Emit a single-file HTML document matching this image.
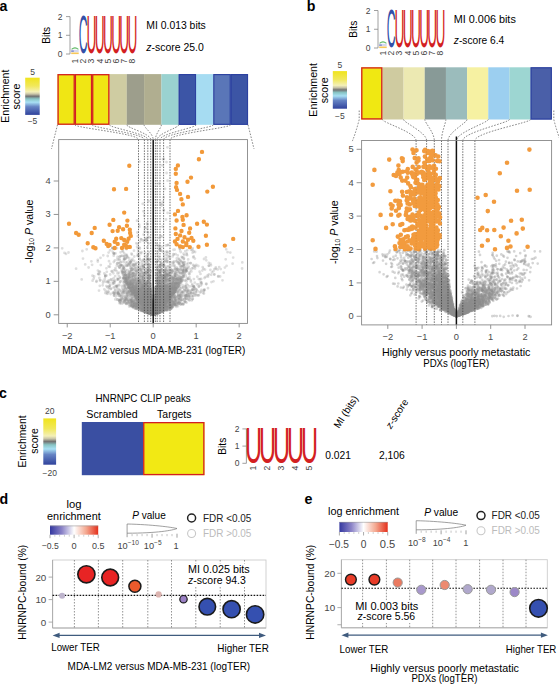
<!DOCTYPE html>
<html><head><meta charset="utf-8"><style>
html,body{margin:0;padding:0;background:#fff;}
svg{display:block;font-family:"Liberation Sans", sans-serif;}
</style></head><body>
<svg width="559" height="685" viewBox="0 0 559 685">
<rect width="559" height="685" fill="#fff"/>
<defs>
<linearGradient id="eg" x1="0" y1="0" x2="0" y2="1">
<stop offset="0" stop-color="#f0e41c"/><stop offset="0.22" stop-color="#f1e85a"/>
<stop offset="0.38" stop-color="#f4f0b8"/><stop offset="0.44" stop-color="#c8c4a8"/>
<stop offset="0.5" stop-color="#727272"/><stop offset="0.57" stop-color="#88c4c4"/>
<stop offset="0.66" stop-color="#a8e0f4"/><stop offset="0.78" stop-color="#6684c4"/>
<stop offset="1" stop-color="#30429c"/></linearGradient>
<linearGradient id="rwb" x1="0" y1="0" x2="1" y2="0">
<stop offset="0" stop-color="#3438a0"/><stop offset="0.25" stop-color="#8c84c8"/>
<stop offset="0.5" stop-color="#ffffff"/><stop offset="0.75" stop-color="#f4a890"/>
<stop offset="1" stop-color="#e4301c"/></linearGradient>
</defs>
<text x="-0.6" y="10.5" font-size="14.2" fill="#000" font-weight="bold">a</text>
<line x1="70" y1="16.6" x2="70" y2="54" stroke="#888" stroke-width="0.8"/>
<line x1="66" y1="16.6" x2="70" y2="16.6" stroke="#888" stroke-width="0.8"/>
<text x="62.5" y="19.6" font-size="8.5" text-anchor="end" fill="#444">2</text>
<line x1="66" y1="35.3" x2="70" y2="35.3" stroke="#888" stroke-width="0.8"/>
<text x="62.5" y="38.3" font-size="8.5" text-anchor="end" fill="#444">1</text>
<line x1="66" y1="54" x2="70" y2="54" stroke="#888" stroke-width="0.8"/>
<text x="62.5" y="57" font-size="8.5" text-anchor="end" fill="#444">0</text>
<text transform="translate(78.77 53.48) scale(12.316 52.824)" font-size="1" fill="#3350a8">C</text>
<text transform="translate(86.54 53.48) scale(13.736 53.601)" font-size="1" fill="#d31f22">U</text>
<text transform="translate(94.74 53.48) scale(13.736 53.601)" font-size="1" fill="#d31f22">U</text>
<text transform="translate(102.94 53.48) scale(13.736 53.601)" font-size="1" fill="#d31f22">U</text>
<text transform="translate(111.14 53.48) scale(13.736 53.601)" font-size="1" fill="#d31f22">U</text>
<text transform="translate(119.34 53.48) scale(13.736 53.601)" font-size="1" fill="#d31f22">U</text>
<text transform="translate(127.54 53.48) scale(13.736 53.601)" font-size="1" fill="#d31f22">U</text>
<path d="M71.6 49.4Q74.95 46.4 78.4 49.4" fill="none" stroke="#5cb860" stroke-width="1.1"/>
<rect x="71.2" y="49.8" width="7.5" height="2.4" fill="#d4d8f0"/>
<rect x="71.2" y="50.6" width="2.62" height="1" fill="#5a6cc0"/>
<rect x="71.2" y="52.5" width="7.5" height="1.6" fill="#f7c85a"/>
<text x="78.06" y="61" font-size="8.6" fill="#444" text-anchor="middle" transform="rotate(-90 78.06 61)">1</text>
<text x="86.26" y="61" font-size="8.6" fill="#444" text-anchor="middle" transform="rotate(-90 86.26 61)">2</text>
<text x="94.46" y="61" font-size="8.6" fill="#444" text-anchor="middle" transform="rotate(-90 94.46 61)">3</text>
<text x="102.66" y="61" font-size="8.6" fill="#444" text-anchor="middle" transform="rotate(-90 102.66 61)">4</text>
<text x="110.86" y="61" font-size="8.6" fill="#444" text-anchor="middle" transform="rotate(-90 110.86 61)">5</text>
<text x="119.06" y="61" font-size="8.6" fill="#444" text-anchor="middle" transform="rotate(-90 119.06 61)">6</text>
<text x="127.26" y="61" font-size="8.6" fill="#444" text-anchor="middle" transform="rotate(-90 127.26 61)">7</text>
<text x="135.46" y="61" font-size="8.6" fill="#444" text-anchor="middle" transform="rotate(-90 135.46 61)">8</text>
<text x="49.8" y="35.3" font-size="10.2" text-anchor="middle" transform="rotate(-90 49.8 35.3)">Bits</text>
<text x="146.3" y="29.3" font-size="10.3" textLength="59.5" lengthAdjust="spacingAndGlyphs">MI 0.013 bits</text>
<text x="146.3" y="51.1" font-size="10.3" textLength="57.5" lengthAdjust="spacingAndGlyphs"><tspan font-style="italic">z</tspan>-score 25.0</text>
<text x="9.3" y="96.2" font-size="10.5" text-anchor="middle" textLength="53" lengthAdjust="spacingAndGlyphs" transform="rotate(-90 9.3 96.2)">Enrichment</text>
<text x="20.4" y="96.5" font-size="10.5" text-anchor="middle" textLength="25.8" lengthAdjust="spacingAndGlyphs" transform="rotate(-90 20.4 96.5)">score</text>
<rect x="25.2" y="77.7" width="14.5" height="37.2" fill="url(#eg)"/>
<text x="32.5" y="74.5" font-size="8.5" text-anchor="middle" fill="#444">5</text>
<text x="32.5" y="124.4" font-size="8.5" text-anchor="middle" fill="#444">−5</text>
<rect x="57.5" y="74.1" width="17.37" height="50.7" fill="#f0e614"/>
<rect x="74.82" y="74.1" width="17.37" height="50.7" fill="#f0e614"/>
<rect x="92.14" y="74.1" width="17.37" height="50.7" fill="#f0e614"/>
<rect x="109.45" y="74.1" width="17.37" height="50.7" fill="#cfcca2"/>
<rect x="126.77" y="74.1" width="17.37" height="50.7" fill="#9d9e8c"/>
<rect x="144.09" y="74.1" width="17.37" height="50.7" fill="#b0ae90"/>
<rect x="161.41" y="74.1" width="17.37" height="50.7" fill="#9ad2d0"/>
<rect x="178.73" y="74.1" width="17.37" height="50.7" fill="#3c55a6"/>
<rect x="196.05" y="74.1" width="17.37" height="50.7" fill="#a6dcf2"/>
<rect x="213.36" y="74.1" width="17.37" height="50.7" fill="#5a76b8"/>
<rect x="230.68" y="74.1" width="17.37" height="50.7" fill="#3c55a5"/>
<rect x="58.1" y="74.7" width="16.12" height="49.5" fill="none" stroke="#d31f22" stroke-width="1.3"/>
<rect x="75.42" y="74.7" width="16.12" height="49.5" fill="none" stroke="#d31f22" stroke-width="1.3"/>
<rect x="92.74" y="74.7" width="16.12" height="49.5" fill="none" stroke="#d31f22" stroke-width="1.3"/>
<rect x="179.23" y="74.6" width="16.32" height="49.7" fill="none" stroke="#2c41a0" stroke-width="1.1"/>
<rect x="213.86" y="74.6" width="16.32" height="49.7" fill="none" stroke="#2c41a0" stroke-width="1.1"/>
<rect x="231.18" y="74.6" width="16.32" height="49.7" fill="none" stroke="#2c41a0" stroke-width="1.1"/>
<path d="M74.82 124.8C74.82 127.8 138.5 133.6 138.5 139.6M92.14 124.8C92.14 127.8 144.4 133.6 144.4 139.6M109.45 124.8C109.45 127.8 147.8 133.6 147.8 139.6M126.77 124.8C126.77 127.8 150.7 133.6 150.7 139.6M144.09 124.8C144.09 127.8 153.2 133.6 153.2 139.6M161.41 124.8C161.41 127.8 155.4 133.6 155.4 139.6M178.73 124.8C178.73 127.8 157.2 133.6 157.2 139.6M196.05 124.8C196.05 127.8 160 133.6 160 139.6M213.36 124.8C213.36 127.8 163.6 133.6 163.6 139.6M230.68 124.8C230.68 127.8 170 133.6 170 139.6M57.5 124.8Q54.5 136.8 51.5 148.8M248 124.8Q251 136.8 254 148.8" stroke="#555" stroke-width="0.7" stroke-dasharray="1.6 1.4" fill="none"/>
<path d="M155.0 311.2h0M156.4 301.1h0M165.5 294.7h0M179.1 301.3h0M150.9 313.1h0M153.7 314.1h0M165.1 305.2h0M148.2 309.7h0M166.2 295.0h0M155.7 305.2h0M140.0 291.4h0M149.6 306.4h0M169.9 302.5h0M165.2 309.7h0M173.3 287.2h0M145.9 303.9h0M151.6 313.4h0M160.8 309.9h0M142.7 302.3h0M147.1 309.2h0M156.6 303.5h0M177.0 286.5h0M161.7 306.1h0M155.5 311.2h0M142.1 304.6h0M125.5 272.0h0M134.6 276.2h0M152.3 309.7h0M142.4 292.4h0M151.9 312.0h0M153.5 313.5h0M150.6 305.2h0M139.7 300.0h0M153.7 314.1h0M155.7 304.9h0M168.7 303.2h0M149.8 305.4h0M162.4 292.4h0M193.1 264.8h0M156.7 309.5h0M179.0 271.5h0M153.8 314.3h0M179.1 276.7h0M176.0 289.8h0M150.1 279.9h0M151.3 306.8h0M152.3 312.1h0M148.1 304.8h0M177.0 279.5h0M152.1 312.8h0M168.5 293.7h0M144.5 285.5h0M136.3 243.3h0M145.9 307.9h0M155.8 312.4h0M157.5 305.2h0M162.6 301.6h0M147.8 312.4h0M169.6 297.0h0M157.4 311.5h0M153.4 314.4h0M138.0 289.3h0M144.8 303.4h0M170.5 305.5h0M163.8 258.7h0M144.2 310.8h0M155.8 309.5h0M164.7 283.2h0M140.2 300.6h0M166.4 302.5h0M150.7 312.8h0M150.6 311.4h0M141.4 260.6h0M143.7 287.1h0M177.6 291.1h0M151.7 313.3h0M132.5 263.9h0M154.0 311.6h0M144.3 297.0h0M157.8 260.7h0M148.2 306.6h0M146.2 302.8h0M158.5 308.1h0M139.9 281.6h0M159.9 275.2h0M164.8 302.2h0M146.7 306.7h0M149.9 311.9h0M127.8 284.2h0M155.0 311.6h0M206.3 260.3h0M143.5 266.0h0M148.9 298.8h0M113.0 248.2h0M154.9 312.0h0M153.9 310.1h0M153.7 314.0h0M127.1 299.9h0M164.9 300.4h0M153.7 311.8h0M152.4 310.9h0M153.4 314.0h0M159.4 310.7h0M156.5 291.8h0M152.3 313.9h0M152.1 311.8h0M195.1 252.0h0M140.4 294.5h0M161.0 300.9h0M151.6 311.3h0M168.4 296.6h0M190.3 290.8h0M157.7 306.5h0M127.5 291.9h0M154.0 309.8h0M153.2 314.5h0M143.0 306.0h0M147.8 309.5h0M138.8 306.8h0M162.6 307.6h0M147.2 308.0h0M151.8 313.1h0M160.6 304.3h0M152.2 313.4h0M147.5 305.8h0M168.5 302.5h0M148.6 302.1h0M167.3 297.5h0M129.9 286.7h0M151.0 303.2h0M166.8 251.6h0M158.9 299.9h0M146.6 305.7h0M132.8 273.3h0M154.5 308.1h0M140.5 298.9h0M158.5 279.8h0M161.4 304.4h0M147.7 309.7h0M146.2 308.9h0M142.3 299.3h0M171.0 301.8h0M163.6 291.9h0M154.6 313.1h0M158.9 299.8h0M157.3 312.3h0M162.8 303.7h0M158.9 306.0h0M126.8 296.7h0M142.0 308.0h0M151.5 301.2h0M153.2 314.8h0M140.9 294.7h0M157.7 311.1h0M150.6 311.6h0M148.2 258.8h0M153.0 314.4h0M157.0 305.9h0M165.0 286.3h0M145.4 306.6h0M154.0 314.1h0M189.6 274.2h0M157.3 297.6h0M151.8 310.9h0M152.7 314.6h0M158.0 310.0h0M174.6 249.7h0M151.4 311.5h0M160.3 311.5h0M157.9 307.4h0M135.8 305.5h0M139.1 297.2h0M150.9 310.3h0M159.0 308.7h0M156.4 299.2h0M167.3 274.0h0M170.0 296.9h0M150.0 312.4h0M150.0 295.1h0M154.3 313.2h0M167.8 304.8h0M155.6 313.0h0M157.0 309.3h0M156.4 309.9h0M152.5 314.0h0M150.1 312.5h0M164.2 303.5h0M155.1 313.1h0M162.3 306.9h0M157.4 300.9h0M155.4 305.9h0M149.7 305.7h0M152.7 313.6h0M149.1 311.5h0M169.7 295.0h0M152.3 313.4h0M144.5 305.7h0M147.0 312.5h0M139.2 269.3h0M164.4 296.8h0M123.1 251.6h0M155.3 306.4h0M128.4 291.9h0M148.5 309.8h0M137.1 304.0h0M146.5 308.4h0M147.6 303.3h0M166.7 302.0h0M147.2 307.9h0M162.9 298.8h0M173.1 285.6h0M152.5 309.6h0M171.5 269.6h0M152.6 314.3h0M145.7 308.0h0M149.2 309.6h0M163.9 300.6h0M158.0 282.1h0M158.4 300.7h0M158.8 304.3h0M218.2 276.6h0M156.4 310.3h0M154.5 309.6h0M152.4 309.3h0M140.1 302.3h0M151.7 311.7h0M156.9 306.5h0M146.1 278.1h0M153.7 313.8h0M154.5 308.4h0M140.4 303.0h0M150.9 312.7h0M152.2 314.0h0M152.9 314.5h0M159.3 294.6h0M147.9 303.2h0M149.4 292.1h0M140.1 299.6h0M117.0 286.1h0M155.4 305.3h0M171.1 308.9h0M162.9 290.2h0M151.4 310.2h0M144.0 306.2h0M173.8 283.6h0M166.9 284.4h0M152.1 309.8h0M174.5 276.1h0M154.7 311.4h0M151.8 301.0h0M174.5 292.1h0M154.7 312.2h0M151.9 307.5h0M153.5 313.6h0M158.7 281.1h0M150.6 271.1h0M159.3 306.2h0M156.2 309.9h0M158.8 291.1h0M142.4 309.1h0M163.7 298.1h0M169.9 288.4h0M181.3 300.7h0M148.2 298.4h0M141.2 292.9h0M144.3 297.1h0M135.7 296.3h0M164.3 303.5h0M146.9 301.5h0M156.4 311.6h0M176.6 270.1h0M153.9 313.4h0M146.8 288.1h0M136.8 297.2h0M155.3 311.5h0M154.0 313.4h0M144.7 291.4h0M131.2 302.2h0M149.0 307.1h0M147.8 295.0h0M152.0 313.9h0M157.8 298.3h0M170.8 296.1h0M137.9 236.2h0M129.1 263.7h0M154.5 307.0h0M153.3 314.6h0M167.0 297.0h0M141.6 299.8h0M154.0 312.7h0M152.8 312.5h0M157.5 294.9h0M171.3 296.5h0M147.6 304.2h0M161.9 307.1h0M153.1 314.2h0M158.7 306.8h0M142.6 304.8h0M154.1 313.3h0M152.0 312.2h0M134.3 269.3h0M168.3 306.4h0M168.9 292.4h0M151.2 310.0h0M157.2 286.7h0M170.3 295.1h0M153.5 314.5h0M147.7 308.8h0M150.1 311.0h0M164.1 271.0h0M142.9 300.5h0M183.0 269.9h0M97.8 259.8h0M137.8 294.7h0M152.4 311.0h0M150.6 312.0h0M152.1 305.3h0M143.3 295.8h0M183.1 274.5h0M196.3 264.8h0M159.6 306.9h0M152.4 314.4h0M165.2 286.7h0M139.4 247.6h0M153.4 314.5h0M145.6 286.0h0M162.3 165.3h0M161.2 308.2h0M173.9 289.2h0M147.7 309.8h0M164.8 302.9h0M151.5 310.8h0M150.6 309.3h0M119.4 300.2h0M154.2 313.3h0M136.7 296.0h0M155.4 312.7h0M167.7 291.3h0M137.7 256.0h0M135.9 296.8h0M145.3 299.3h0M157.2 310.7h0M141.9 303.1h0M146.2 290.9h0M159.5 307.8h0M130.8 304.7h0M163.3 309.1h0M152.4 311.4h0M153.6 313.7h0M152.0 313.1h0M154.8 311.5h0M146.3 296.5h0M133.6 274.1h0M62.2 248.3h0M160.3 307.2h0M155.2 308.5h0M155.1 309.5h0M162.3 308.1h0M149.3 308.0h0M153.9 313.9h0M155.2 300.3h0M156.3 308.9h0M156.3 307.8h0M166.2 304.8h0M130.3 285.4h0M140.9 298.8h0M142.9 304.0h0M163.0 297.8h0M170.2 304.6h0M149.3 299.1h0M139.2 294.7h0M141.1 302.2h0M169.0 279.5h0M144.4 307.4h0M183.1 266.0h0M148.4 296.1h0M156.7 294.9h0M156.8 306.9h0M155.7 312.4h0M146.9 303.4h0M179.2 281.7h0M155.0 309.0h0M154.8 310.2h0M153.9 312.8h0M177.7 255.4h0M155.7 313.5h0M181.2 278.8h0M152.4 309.2h0M164.0 300.8h0M149.9 303.9h0M157.8 313.0h0M142.7 303.9h0M146.8 285.7h0M152.4 313.8h0M153.0 313.6h0M149.2 301.6h0M153.1 314.3h0M181.9 278.6h0M186.5 298.8h0M153.4 314.7h0M161.4 288.6h0M154.0 310.2h0M155.6 303.8h0M145.1 306.4h0M151.0 312.2h0M148.5 201.2h0M151.0 303.0h0M168.0 293.5h0M155.1 313.4h0M162.3 308.2h0M168.8 299.2h0M154.4 310.7h0M145.0 296.1h0M142.2 294.5h0M146.1 311.3h0M174.8 287.9h0M141.3 276.3h0M146.0 284.8h0M153.0 314.5h0M146.0 299.0h0M166.8 301.9h0M161.1 283.1h0M153.6 313.8h0M161.9 269.2h0M148.4 310.3h0M162.3 304.5h0M131.5 270.9h0M155.2 311.8h0M148.8 282.4h0M155.5 313.1h0M159.9 307.2h0M156.0 312.7h0M161.1 305.8h0M155.6 311.5h0M222.5 280.3h0M137.0 304.1h0M153.7 312.6h0M146.3 297.3h0M185.7 270.0h0M148.3 265.2h0M159.2 285.4h0M148.4 309.9h0M164.4 287.2h0M175.7 285.5h0M138.1 291.9h0M175.1 291.9h0M164.0 297.9h0M141.9 294.0h0M154.0 311.3h0M173.6 293.0h0M164.3 299.1h0M151.5 312.4h0M162.1 276.1h0M134.7 280.3h0M171.1 295.7h0M151.4 299.4h0M155.6 310.1h0M154.6 312.7h0M136.5 295.2h0M169.9 294.3h0M155.0 310.5h0M170.2 296.4h0M154.7 312.8h0M144.2 282.4h0M161.7 307.5h0M147.5 309.1h0M152.7 314.4h0M165.4 282.1h0M146.5 304.3h0M150.4 309.8h0M160.9 305.2h0M153.8 313.9h0M153.9 314.0h0M149.9 304.2h0M178.7 283.8h0M151.6 313.5h0M153.3 314.6h0M157.7 307.7h0M154.4 313.8h0M168.8 285.9h0M161.5 291.3h0M150.0 304.9h0M139.9 252.6h0M162.3 286.0h0M147.9 307.7h0M155.0 313.5h0M161.1 297.4h0M158.0 308.7h0M155.5 312.4h0M163.1 306.4h0M144.6 307.7h0M140.0 298.1h0M155.0 313.1h0M146.3 268.1h0M155.2 308.6h0M150.2 311.1h0M181.3 282.7h0M151.8 312.9h0M155.5 312.7h0M147.7 312.7h0M151.2 304.7h0M145.7 295.2h0M151.7 310.7h0M160.4 297.2h0M140.3 284.7h0M200.3 292.6h0M167.6 294.1h0M145.2 294.2h0M146.1 304.2h0M168.7 273.3h0M149.2 270.0h0M152.0 313.8h0M148.2 272.4h0M128.8 300.9h0M171.6 289.2h0M136.8 297.3h0M162.1 294.5h0M144.2 300.0h0M165.0 293.9h0M155.1 309.7h0M130.2 262.5h0M147.7 309.9h0M138.4 300.6h0M143.3 305.0h0M155.7 311.3h0M166.3 299.4h0M151.9 311.2h0M143.1 308.5h0M140.9 301.2h0M154.3 307.9h0M167.8 245.2h0M178.4 283.7h0M151.4 312.8h0M152.4 309.9h0M158.9 308.4h0M124.6 278.1h0M157.7 308.4h0M161.2 295.2h0M153.3 314.6h0M149.9 303.6h0M154.1 312.5h0M152.2 312.7h0M141.6 305.5h0M164.5 284.9h0M159.8 312.2h0M185.2 271.3h0M155.0 310.7h0M164.3 304.6h0M148.8 310.7h0M157.9 306.4h0M159.3 305.8h0M137.6 270.9h0M152.9 314.4h0M149.9 312.4h0M149.4 311.8h0M154.8 313.2h0M148.9 291.3h0M149.0 293.9h0M182.2 273.3h0M155.6 309.5h0M151.1 312.6h0M156.7 307.2h0M150.2 309.3h0M155.9 306.0h0M151.9 313.0h0M149.7 291.5h0M146.6 308.9h0M173.9 262.8h0M159.4 296.2h0M152.9 314.6h0M144.6 295.4h0M151.7 313.2h0M161.4 304.8h0M156.7 313.4h0M140.9 302.2h0M125.9 270.1h0M155.7 310.8h0M170.9 292.5h0M144.1 308.2h0M162.2 299.9h0M142.0 302.2h0M148.4 309.8h0M130.7 290.9h0M144.0 304.8h0M141.6 301.4h0M151.4 308.0h0M162.8 299.0h0M151.3 313.1h0M159.1 305.1h0M162.0 204.1h0M142.6 310.6h0M154.7 308.7h0M164.0 283.2h0M142.6 309.0h0M149.2 310.3h0M133.8 291.8h0M125.6 269.9h0M145.9 303.2h0M151.3 308.0h0M161.7 307.5h0M153.0 314.3h0M144.1 306.3h0M150.1 305.2h0M194.7 266.2h0M167.5 275.0h0M155.8 313.4h0M156.7 311.4h0M163.8 307.9h0M159.3 237.9h0M161.2 294.9h0M154.0 313.3h0M132.9 305.3h0M168.0 293.0h0M167.4 280.5h0M153.8 314.2h0M133.4 289.9h0M148.4 295.6h0M151.2 304.8h0M131.7 291.6h0M178.7 278.9h0M150.5 311.6h0M158.2 308.8h0M136.4 285.6h0M178.4 285.4h0M160.3 287.3h0M156.1 305.5h0M157.3 311.0h0M152.6 308.9h0M186.4 284.1h0M165.4 301.1h0M152.1 309.7h0M160.8 301.3h0M135.0 295.6h0M168.2 294.9h0M152.8 314.3h0M177.9 277.8h0M141.3 301.8h0M157.1 310.0h0M157.3 311.5h0M153.7 313.2h0M136.1 297.3h0M147.4 305.6h0M183.0 287.3h0M151.1 312.8h0M148.6 311.1h0M159.9 297.9h0M173.5 249.8h0M149.7 309.6h0M152.4 313.9h0M157.9 308.8h0M154.5 314.0h0M150.1 299.3h0M156.5 309.4h0M153.9 314.4h0M156.1 301.7h0M148.7 310.1h0M141.2 269.8h0M154.8 311.6h0M137.8 287.9h0M163.1 311.0h0M157.6 312.3h0M159.5 293.6h0M156.3 311.0h0M155.8 312.4h0M151.8 310.7h0M148.4 310.8h0M181.5 278.9h0M146.7 308.4h0M150.6 308.2h0M149.9 308.4h0M155.3 313.6h0M179.0 258.9h0M148.8 310.5h0M138.9 293.8h0M177.1 303.0h0M126.7 293.6h0M142.2 304.2h0M150.1 297.0h0M149.3 311.6h0M153.3 314.7h0M138.8 296.1h0M155.9 303.2h0M150.6 307.3h0M146.9 308.2h0M154.6 311.1h0M144.5 306.6h0M152.1 310.4h0M172.6 281.8h0M158.2 287.8h0M147.5 305.2h0M188.5 278.8h0M154.6 303.8h0M148.7 308.3h0M162.0 302.9h0M149.3 299.9h0M155.2 307.4h0M145.4 303.7h0M141.6 295.7h0M151.9 309.1h0M168.7 305.2h0M161.9 311.7h0M149.0 294.2h0M146.5 309.1h0M159.3 293.1h0M143.7 304.2h0M150.0 311.8h0M146.2 293.4h0M145.3 306.6h0M151.4 303.7h0M152.1 314.0h0M150.9 311.8h0M144.8 304.0h0M131.8 260.6h0M170.1 293.7h0M148.9 309.1h0M158.4 303.8h0M154.4 314.2h0M155.9 311.7h0M113.9 294.1h0M100.8 265.1h0M155.6 307.3h0M148.1 310.9h0M152.1 312.8h0M152.9 314.6h0M147.1 307.1h0M160.6 309.4h0M163.7 302.2h0M135.4 267.8h0M156.0 296.8h0M149.2 298.8h0M156.1 301.9h0M91.4 261.3h0M156.6 305.5h0M154.2 313.1h0M176.1 288.1h0M180.0 296.8h0M130.2 303.9h0M163.4 293.7h0M154.7 312.0h0M144.7 295.2h0M117.5 260.0h0M155.5 313.2h0M145.5 308.0h0M153.2 314.8h0M136.5 294.8h0M185.8 269.7h0M175.7 296.3h0M149.9 295.8h0M172.4 293.9h0M198.2 295.5h0M160.4 302.4h0M113.6 253.1h0M153.3 314.5h0M145.4 305.4h0M165.4 298.1h0M162.8 305.7h0M191.4 271.4h0M152.8 314.0h0M147.3 300.5h0M171.6 306.1h0M139.2 282.1h0M135.8 306.0h0M147.8 309.8h0M155.2 313.0h0M130.3 280.8h0M156.0 312.6h0M189.9 291.2h0M152.1 311.8h0M166.7 293.4h0M159.4 288.0h0M139.3 295.1h0M163.0 302.0h0M159.3 245.5h0M159.0 308.7h0M152.5 314.3h0M153.1 314.3h0M176.5 286.0h0M146.8 307.3h0M150.4 309.3h0M167.0 296.2h0M150.0 299.8h0M172.7 293.8h0M154.6 312.2h0M167.5 302.0h0M155.2 309.8h0M161.4 310.7h0M155.4 312.9h0M135.4 296.3h0M140.2 298.0h0M215.8 268.9h0M155.5 307.0h0M148.9 305.8h0M171.6 296.2h0M182.9 273.2h0M147.9 286.1h0M150.1 310.4h0M168.5 283.8h0M161.4 302.7h0M152.9 314.0h0M164.4 303.3h0M172.0 288.5h0M151.7 310.8h0M137.2 289.7h0M164.2 306.7h0M143.2 285.1h0M130.0 303.3h0M160.2 310.6h0M154.8 313.8h0M151.8 312.8h0M159.3 308.1h0M143.0 304.4h0M153.9 314.2h0M154.1 313.1h0M158.5 309.0h0M157.1 299.1h0M151.3 312.8h0M164.8 301.6h0M148.5 306.4h0M154.6 303.9h0M151.4 312.4h0M145.8 300.3h0M162.4 304.9h0M149.0 306.0h0M151.3 309.5h0M148.2 301.4h0M145.6 312.0h0M148.1 311.1h0M156.3 300.4h0M154.8 310.4h0M143.4 302.4h0M151.5 309.8h0M152.8 314.2h0M147.8 310.6h0M160.9 286.5h0M147.5 310.4h0M153.1 314.1h0M147.0 312.4h0M157.8 306.6h0M149.1 312.5h0M150.3 309.7h0M157.4 311.2h0M146.2 308.6h0M170.1 305.0h0M145.5 296.5h0M145.9 277.9h0M153.3 314.3h0M156.8 310.7h0M118.2 279.1h0M155.0 308.9h0M150.9 299.1h0M149.8 307.9h0M150.8 302.1h0M153.1 314.5h0M162.7 288.7h0M151.0 309.8h0M131.1 286.3h0M152.0 312.3h0M154.8 311.6h0M151.7 308.2h0M147.1 303.4h0M151.5 310.9h0M156.4 312.1h0M180.4 268.2h0M165.8 281.6h0M164.9 303.2h0M153.9 311.9h0M139.3 289.1h0M142.3 304.8h0M155.5 310.4h0M141.5 297.8h0M157.4 302.2h0M160.3 312.1h0M155.0 312.4h0M132.6 294.0h0M167.8 296.0h0M158.9 306.2h0M169.4 298.9h0M137.5 291.8h0M158.9 282.5h0M153.3 314.5h0M176.5 278.7h0M168.4 299.8h0M153.8 314.3h0M167.4 299.5h0M153.8 311.5h0M156.1 298.6h0M152.8 314.5h0M141.1 301.9h0M150.8 308.9h0M152.0 306.9h0M151.5 313.0h0M205.6 276.9h0M143.5 273.8h0M154.2 311.6h0M154.7 309.4h0M142.8 308.4h0M170.1 293.6h0M167.4 296.1h0M154.5 314.1h0M147.2 310.1h0M151.3 307.9h0M159.2 302.0h0M153.4 314.0h0M157.5 311.1h0M151.7 303.2h0M153.0 314.5h0M151.9 310.5h0M113.5 287.6h0M156.7 310.9h0M175.8 283.8h0M154.6 308.5h0M133.9 300.6h0M153.6 314.4h0M156.0 312.5h0M168.8 300.6h0M159.9 300.8h0M157.2 308.2h0M155.6 312.3h0M149.2 306.0h0M129.9 303.2h0M157.4 309.2h0M148.6 304.3h0M153.1 314.7h0M151.5 313.8h0M142.0 301.6h0M151.2 312.7h0M151.3 313.4h0M175.4 272.6h0M130.3 283.7h0M160.8 308.3h0M160.7 308.6h0M127.1 282.2h0M150.1 312.5h0M159.7 303.3h0M157.6 305.8h0M138.9 301.5h0M150.8 300.6h0M151.9 307.7h0M160.3 300.5h0M153.7 313.7h0M137.8 288.0h0M169.8 306.0h0M159.3 183.6h0M147.5 307.6h0M154.5 313.1h0M167.0 306.8h0M164.3 285.0h0M169.5 302.1h0M162.3 307.1h0M154.2 310.9h0M160.9 306.4h0M155.2 313.2h0M169.1 269.2h0M149.8 312.7h0M152.8 314.2h0M162.8 306.7h0M163.0 299.1h0M152.0 313.0h0M157.7 311.1h0M152.7 314.5h0M169.8 288.2h0M156.8 309.1h0M140.5 289.0h0M152.6 313.1h0M136.8 284.9h0M150.7 310.7h0M139.3 301.3h0M151.7 305.2h0M152.2 312.5h0M172.2 301.8h0M152.2 313.1h0M152.0 306.4h0M149.3 290.4h0M148.1 297.4h0M155.3 307.9h0M156.0 312.0h0M157.3 305.6h0M151.1 295.3h0M128.5 287.3h0M149.4 276.4h0M143.0 278.4h0M141.5 286.4h0M137.3 299.2h0M166.1 287.9h0M150.6 297.3h0M141.5 252.1h0M157.1 311.6h0M153.8 313.4h0M134.0 250.7h0M155.4 308.3h0M149.4 297.2h0M137.6 297.0h0M137.4 287.6h0M164.3 298.1h0M159.7 306.2h0M159.8 294.3h0M152.5 313.6h0M154.4 311.8h0M140.8 302.3h0M168.2 300.1h0M146.1 309.7h0M175.2 301.0h0M147.0 298.5h0M168.7 284.8h0M192.8 298.8h0M159.5 291.5h0M173.1 278.3h0M150.7 312.4h0M155.1 310.5h0M129.2 299.8h0M154.3 313.9h0M172.0 294.4h0M154.8 308.6h0M145.7 302.4h0M156.7 310.6h0M157.8 305.1h0M152.8 314.6h0M145.9 273.7h0M142.5 304.5h0M155.3 310.9h0M151.0 311.3h0M160.8 305.6h0M147.4 298.6h0M158.1 302.1h0M159.2 291.4h0M153.1 314.7h0M147.9 311.6h0M155.9 310.8h0M155.9 307.6h0M153.7 313.3h0M176.5 302.4h0M166.5 276.7h0M151.1 302.2h0M158.4 302.6h0M154.1 313.3h0M131.8 287.1h0M156.8 307.3h0M136.1 297.9h0M143.8 259.3h0M184.1 273.8h0M184.0 258.5h0M147.8 303.9h0M159.1 303.6h0M155.5 312.8h0M153.1 314.7h0M155.6 312.3h0M171.1 300.4h0M156.0 311.3h0M146.7 297.5h0M143.2 304.8h0M148.9 308.2h0M153.4 314.5h0M131.6 299.8h0M150.9 302.2h0M150.9 312.8h0M123.8 299.7h0M150.5 303.9h0M185.0 271.4h0M149.9 310.2h0M155.1 300.2h0M158.1 307.7h0M109.8 266.8h0M153.0 314.0h0M170.2 299.1h0M156.2 300.4h0M152.7 312.9h0M162.9 304.8h0M152.7 314.4h0M151.2 311.4h0M155.2 310.2h0M156.4 310.1h0M134.0 294.0h0M149.9 301.7h0M154.5 313.9h0M105.4 275.0h0M142.9 300.7h0M144.4 305.1h0M143.7 295.2h0M153.8 314.1h0M148.3 309.2h0M155.1 311.0h0M152.6 310.8h0M161.3 308.5h0M185.9 295.7h0M149.8 312.1h0M178.0 306.2h0M149.2 313.2h0M168.3 297.3h0M129.7 300.8h0M139.6 303.1h0M154.6 312.9h0M159.7 282.2h0M152.9 314.6h0M155.9 312.0h0M182.2 273.2h0M143.0 298.3h0M154.8 308.1h0M150.0 304.9h0M165.4 309.0h0M164.2 255.9h0M130.3 301.0h0M142.5 289.4h0M150.7 307.2h0M156.0 302.5h0M147.7 308.4h0M153.7 313.5h0M130.0 286.1h0M170.8 294.2h0M179.7 301.8h0M179.0 269.6h0M155.3 307.7h0M126.7 284.8h0M163.7 298.1h0M180.4 272.9h0M152.4 312.8h0M135.7 290.2h0M148.7 306.2h0M163.1 301.9h0M133.1 283.6h0M150.0 304.6h0M148.7 310.9h0M153.4 313.5h0M155.0 307.3h0M175.5 286.6h0M151.9 313.7h0M144.5 308.5h0M149.7 312.2h0M157.1 310.8h0M129.2 285.4h0M146.9 309.5h0M157.8 310.1h0M154.2 313.9h0M163.5 303.0h0M176.9 261.2h0M151.5 313.3h0M210.4 269.9h0M125.0 300.5h0M151.6 305.9h0M141.3 301.2h0M139.5 280.0h0M162.7 302.4h0M153.0 313.7h0M152.2 312.5h0M180.1 280.3h0M150.7 305.9h0M140.2 281.6h0" stroke="#8a8a8a" stroke-opacity="0.28" stroke-width="2.8" stroke-linecap="round" fill="none"/>
<path d="M151.5 312.9h0M154.8 309.0h0M149.2 311.2h0M130.3 292.5h0M150.2 312.8h0M140.6 296.4h0M152.5 314.2h0M150.0 301.0h0M145.8 284.1h0M145.0 305.5h0M154.8 311.3h0M66.0 253.8h0M162.0 300.8h0M194.9 258.6h0M152.3 312.3h0M166.3 301.1h0M166.4 278.6h0M163.1 310.0h0M151.4 313.5h0M148.4 310.6h0M146.5 312.5h0M129.5 271.6h0M147.7 295.8h0M154.4 313.2h0M143.5 306.6h0M99.9 271.9h0M158.7 305.5h0M170.1 300.5h0M143.5 298.2h0M158.8 302.9h0M154.2 311.9h0M145.2 305.9h0M150.0 309.5h0M169.7 302.0h0M132.9 284.3h0M149.0 311.1h0M155.7 312.4h0M145.9 292.7h0M143.7 299.3h0M154.3 309.4h0M170.3 293.8h0M160.7 310.3h0M129.2 258.2h0M133.5 280.2h0M181.6 267.2h0M233.2 257.6h0M148.9 311.3h0M156.4 308.5h0M167.9 294.7h0M153.1 314.7h0M152.1 306.5h0M159.5 300.5h0M155.2 300.1h0M153.2 314.8h0M148.8 279.8h0M133.8 302.7h0M127.4 277.3h0M152.7 314.4h0M165.7 260.4h0M148.2 309.6h0M155.3 311.5h0M139.5 295.8h0M150.6 312.3h0M155.1 311.3h0M148.6 303.4h0M149.8 307.3h0M150.0 296.6h0M128.7 284.8h0M152.8 314.0h0M161.3 286.1h0M150.3 287.6h0M204.0 259.0h0M156.6 311.9h0M153.9 309.8h0M147.9 310.6h0M174.7 268.6h0M126.2 290.8h0M122.3 303.6h0M155.5 312.5h0M156.8 310.5h0M137.0 298.8h0M154.0 311.0h0M152.2 312.8h0M146.0 301.9h0M148.4 310.4h0M176.6 304.8h0M145.0 305.5h0M157.3 309.7h0M145.0 300.7h0M154.4 310.8h0M150.7 307.2h0M147.4 308.7h0M139.4 303.3h0M149.6 310.3h0M133.6 291.1h0M161.2 306.9h0M146.1 290.0h0M158.1 288.2h0M169.4 296.8h0M162.9 299.1h0M163.9 275.7h0M149.4 311.7h0M153.7 313.9h0M190.8 280.2h0M155.6 307.1h0M157.0 274.3h0M150.5 310.5h0M154.7 312.0h0M151.6 313.3h0M153.2 314.7h0M115.1 290.6h0M151.9 313.0h0M155.4 311.8h0M186.8 279.3h0M151.8 313.4h0M141.5 296.8h0M158.6 310.6h0M172.0 306.8h0M157.3 299.5h0M173.3 290.8h0M160.7 311.1h0M154.8 312.6h0M190.3 297.7h0M126.2 273.9h0M139.3 296.7h0M159.2 296.9h0M157.0 292.9h0M150.9 309.8h0M153.3 314.7h0M158.3 310.0h0M152.3 311.5h0M142.3 305.8h0M148.3 281.0h0M166.8 309.9h0M147.6 309.7h0M137.4 291.8h0M148.0 310.8h0M164.6 270.0h0M162.2 311.3h0M152.5 312.3h0M118.0 292.9h0M137.1 296.1h0M154.7 307.6h0M153.6 314.5h0M141.0 296.6h0M120.9 303.4h0M158.6 309.3h0M144.5 304.8h0M170.7 288.5h0M159.4 312.3h0M152.4 314.1h0M149.0 308.6h0M154.9 305.7h0M155.8 312.9h0M138.0 278.2h0M155.5 294.8h0M169.5 276.1h0M150.0 299.4h0M182.3 273.6h0M144.7 303.8h0M154.6 302.7h0M147.8 307.2h0M139.4 282.3h0M154.3 311.8h0M116.6 271.1h0M162.5 304.9h0M148.2 299.0h0M160.0 305.3h0M150.6 311.4h0M152.2 312.8h0M167.1 304.2h0M166.1 292.8h0M144.1 286.5h0M114.9 292.8h0M147.1 311.4h0M148.7 313.0h0M143.2 303.7h0M144.7 291.0h0M175.1 281.3h0M147.6 301.9h0M140.7 300.1h0M151.8 310.4h0M157.9 278.1h0M163.2 307.4h0M158.0 310.3h0M150.5 311.8h0M144.4 308.4h0M152.6 314.2h0M143.5 311.1h0M156.8 308.0h0M137.4 293.8h0M133.5 273.2h0M145.9 304.0h0M147.9 309.3h0M184.0 264.6h0M163.9 298.8h0M118.9 294.2h0M174.3 298.5h0M147.9 305.1h0M152.6 314.1h0M208.0 276.7h0M151.3 291.8h0M142.7 287.3h0M153.7 311.1h0M153.8 309.9h0M150.8 311.5h0M162.9 201.7h0M152.3 308.6h0M149.8 309.2h0M151.4 312.3h0M141.4 302.6h0M152.8 313.0h0M148.0 310.4h0M155.9 291.1h0M180.5 292.1h0M151.7 309.1h0M162.0 303.3h0M147.1 302.9h0M141.7 310.3h0M159.6 290.4h0M164.7 304.8h0M136.5 307.6h0M183.6 296.0h0M157.2 289.8h0M151.5 313.1h0M170.3 285.8h0M186.3 269.2h0M185.2 298.3h0M152.6 313.0h0M162.0 306.6h0M151.3 313.0h0M183.5 275.4h0M155.8 312.7h0M174.7 289.2h0M146.8 303.3h0M170.5 302.4h0M163.1 290.5h0M148.6 306.3h0M147.4 295.8h0M151.4 310.4h0M149.1 295.2h0M167.3 296.5h0M140.5 302.3h0M154.4 313.3h0M149.4 306.9h0M142.9 303.1h0M152.2 313.2h0M159.5 307.1h0M146.0 303.4h0M162.7 304.1h0M139.4 263.2h0M151.3 309.4h0M145.7 302.3h0M161.8 302.1h0M152.3 312.6h0M149.9 313.6h0M145.2 306.9h0M150.5 308.1h0M168.4 295.3h0M175.7 275.6h0M126.2 282.5h0M156.7 308.1h0M137.8 297.3h0M151.6 311.2h0M165.2 300.5h0M156.3 293.3h0M155.6 307.9h0M159.5 302.5h0M154.1 309.7h0M169.3 298.5h0M159.9 309.2h0M171.4 277.8h0M126.9 292.3h0M105.3 276.2h0M139.5 295.5h0M154.5 313.7h0M152.5 313.2h0M155.6 311.9h0M141.8 309.4h0M175.9 282.5h0M154.5 306.7h0M146.5 272.4h0M164.6 304.4h0M151.6 310.1h0M162.3 300.6h0M169.3 292.1h0M157.0 292.0h0M155.7 312.8h0M163.1 294.5h0M160.6 303.3h0M142.2 305.3h0M125.9 278.8h0M156.0 312.7h0M151.8 307.6h0M170.2 297.1h0M160.9 287.5h0M163.6 298.8h0M153.6 314.3h0M159.5 301.0h0M154.9 313.4h0M182.6 262.5h0M157.9 308.5h0M151.0 313.9h0M144.9 295.0h0M129.5 285.0h0M153.4 314.6h0M148.8 303.3h0M159.3 293.1h0M162.7 303.1h0M161.6 306.5h0M151.1 311.2h0M151.9 311.5h0M150.5 311.8h0M156.1 303.2h0M147.4 308.0h0M153.3 314.4h0M212.0 272.4h0M203.5 268.8h0M137.6 290.9h0M158.6 309.1h0M149.7 302.0h0M176.5 288.3h0M150.3 312.6h0M157.6 306.5h0M168.1 298.7h0M164.3 301.2h0M176.4 282.7h0M167.0 261.3h0M138.9 289.2h0M167.2 301.3h0M164.0 294.5h0M144.0 306.2h0M151.5 311.7h0M152.2 314.2h0M154.4 313.6h0M155.0 313.9h0M151.9 312.4h0M157.8 309.9h0M155.2 305.0h0M161.0 285.6h0M165.9 291.4h0M154.0 313.0h0M149.8 310.1h0M152.4 312.9h0M153.5 314.3h0M163.8 305.4h0M156.8 306.5h0M162.0 296.7h0M145.6 303.5h0M157.1 310.2h0M145.3 307.7h0M151.1 312.3h0M153.1 314.5h0M158.1 287.7h0M155.4 305.5h0M149.0 301.8h0M155.8 294.2h0M153.0 313.2h0M142.4 264.6h0M151.5 302.8h0M170.2 288.7h0M152.8 314.7h0M167.6 180.7h0M145.3 306.4h0M170.3 295.8h0M170.6 296.1h0M149.4 311.9h0M156.6 295.4h0M157.8 289.7h0M142.4 288.6h0M160.0 305.7h0M151.0 313.3h0M138.4 294.4h0M149.7 308.2h0M121.8 271.7h0M126.8 295.8h0M145.2 294.0h0M153.6 313.1h0M153.0 314.3h0M158.4 303.0h0M152.7 314.2h0M153.9 311.9h0M161.2 302.3h0M170.4 268.6h0M151.4 303.6h0M144.4 294.0h0M157.2 295.7h0M149.7 311.9h0M144.7 306.8h0M138.8 297.6h0M153.0 314.4h0M144.6 240.7h0M144.9 292.6h0M159.7 266.7h0M151.4 312.0h0M148.2 305.2h0M152.1 311.8h0M149.5 277.8h0M183.7 268.3h0M148.7 308.8h0M142.3 304.1h0M152.6 314.2h0M140.7 302.3h0M136.8 269.8h0M150.7 312.7h0M152.3 313.3h0M160.8 283.6h0M150.1 312.1h0M134.6 273.6h0M97.9 270.6h0M183.2 271.2h0M136.9 295.3h0M168.6 293.5h0M163.1 303.5h0M156.0 311.3h0M149.4 290.1h0M146.5 295.8h0M122.7 268.5h0M144.3 302.1h0M174.4 291.5h0M159.8 310.9h0M130.1 298.0h0M179.4 287.2h0M158.9 304.6h0M152.8 313.3h0M176.5 303.9h0M153.9 309.0h0M158.1 311.7h0M161.6 205.5h0M151.2 312.8h0M154.5 312.9h0M171.0 271.0h0M149.3 310.5h0M189.4 293.8h0M156.6 310.8h0M154.7 304.4h0M153.0 313.2h0M157.7 305.1h0M153.2 314.7h0M157.2 305.4h0M152.2 314.0h0M141.0 305.0h0M153.8 312.7h0M145.2 300.0h0M148.4 307.8h0M162.2 300.6h0M168.2 297.3h0M145.3 303.9h0M153.4 313.7h0M153.7 311.6h0M151.5 309.8h0M137.9 296.6h0M158.8 295.8h0M160.0 311.4h0M154.7 311.7h0M152.5 310.5h0M153.5 313.5h0M149.1 286.9h0M152.1 311.0h0M146.2 295.8h0M147.2 304.3h0M159.4 297.9h0M145.3 278.8h0M150.6 312.3h0M155.3 313.1h0M129.2 286.6h0M147.3 310.0h0M149.1 302.3h0M150.6 312.5h0M156.2 292.8h0M154.7 313.2h0M131.0 294.7h0M154.8 313.3h0M129.1 288.1h0M184.1 290.1h0M151.8 313.4h0M147.4 307.4h0M148.7 311.2h0M147.4 307.8h0M148.2 310.0h0M178.6 279.8h0M160.7 306.0h0M157.4 298.5h0M152.5 313.3h0M153.3 314.6h0M180.3 279.1h0M154.5 311.4h0M120.0 299.8h0M150.4 308.5h0M154.7 312.8h0M160.5 307.5h0M141.0 299.0h0M139.4 274.9h0M154.0 312.6h0M152.8 314.4h0M162.1 284.7h0M152.6 314.3h0M152.2 313.2h0M173.9 283.9h0M150.8 305.5h0M152.7 312.6h0M160.0 300.5h0M150.3 310.5h0M168.9 299.1h0M154.6 308.8h0M146.4 309.5h0M148.8 305.7h0M158.9 308.3h0M161.7 297.9h0M146.1 294.7h0M167.0 307.3h0M150.9 310.2h0M121.7 269.7h0M155.2 305.0h0M141.7 304.5h0M139.4 300.9h0M125.4 284.6h0M152.0 312.9h0M149.2 310.9h0M151.2 304.5h0M149.9 298.3h0M161.7 306.5h0M150.0 306.6h0M145.6 256.4h0M146.1 298.9h0M152.7 311.6h0M148.2 308.4h0M141.0 293.3h0M148.9 301.4h0M158.5 301.3h0M146.7 273.8h0M138.1 267.4h0M156.6 306.3h0M153.8 313.7h0M170.1 301.1h0M149.3 306.6h0M158.5 304.6h0M151.3 313.4h0M155.1 311.9h0M162.9 302.3h0M153.2 314.8h0M119.3 267.6h0M151.6 309.1h0M147.4 232.1h0M157.5 306.7h0M156.0 311.7h0M157.8 308.7h0M142.1 303.5h0M147.3 310.0h0M148.4 313.1h0M127.2 262.2h0M141.3 286.4h0M145.6 303.6h0M157.4 311.1h0M163.7 304.4h0M182.2 257.7h0M152.4 314.1h0M148.6 307.2h0M140.9 239.1h0M159.1 307.8h0M150.4 306.5h0M124.3 258.8h0M152.8 314.6h0M155.8 312.1h0M163.7 307.4h0M164.0 301.4h0M162.0 309.5h0M123.0 290.6h0M142.4 283.6h0M163.5 300.4h0M150.3 311.8h0M150.3 311.4h0M157.3 300.3h0M129.3 260.5h0M155.7 300.6h0M193.7 285.9h0M160.5 307.9h0M158.1 305.0h0M158.7 307.8h0M153.4 313.6h0M160.2 305.0h0M157.4 288.1h0M153.0 313.9h0M117.5 273.4h0M151.2 305.6h0M151.2 311.6h0M160.8 306.2h0M148.0 309.6h0M150.4 312.2h0M140.0 295.7h0M173.3 290.7h0M164.8 306.6h0M150.3 310.3h0M181.2 303.5h0M162.9 289.3h0M135.2 295.5h0M145.0 303.5h0M141.5 297.7h0M147.9 299.7h0M132.1 274.7h0M171.7 296.6h0M213.5 281.3h0M158.9 281.3h0M148.6 311.2h0M150.7 312.9h0M138.4 307.6h0M150.4 307.1h0M170.7 297.7h0M128.3 274.5h0M142.1 298.1h0M158.0 305.1h0M147.0 303.1h0M144.0 304.3h0M141.5 297.9h0M153.2 314.7h0M150.2 311.8h0M154.8 311.2h0M149.8 306.5h0M152.8 313.6h0M147.6 297.2h0M148.3 310.9h0M154.0 312.2h0M140.2 300.2h0M146.7 300.0h0M156.8 309.2h0M153.2 314.7h0M158.4 299.3h0M165.7 300.2h0M153.3 314.6h0M162.9 305.6h0M158.1 312.7h0M154.3 308.3h0M134.5 292.2h0M147.0 307.2h0M150.3 312.4h0M155.3 312.4h0M167.2 305.5h0M115.5 268.1h0M153.1 314.7h0M141.5 285.9h0M160.9 268.9h0M159.9 299.6h0M204.8 290.2h0M155.0 313.1h0M156.6 310.7h0M151.8 309.9h0M112.4 248.2h0M157.3 310.4h0M139.5 304.9h0M149.6 310.5h0M152.3 309.9h0M165.1 272.3h0M171.0 274.2h0M153.9 314.3h0M163.7 304.9h0M155.3 312.0h0M153.8 314.3h0M152.0 313.5h0M145.2 308.2h0M159.2 308.2h0M154.6 313.5h0M154.7 312.8h0M136.0 286.5h0M155.8 312.4h0M155.2 311.4h0M145.2 304.6h0M157.7 310.0h0M173.3 293.7h0M198.9 295.2h0M143.6 301.0h0M150.8 304.6h0M158.5 307.5h0M160.4 307.7h0M127.8 294.8h0M176.0 287.5h0M193.6 289.9h0M149.4 307.6h0M154.3 312.7h0M149.2 297.4h0M138.0 300.4h0M156.9 311.5h0M163.2 310.3h0M156.9 306.6h0M155.2 313.1h0M176.9 281.8h0M149.9 311.9h0M165.5 301.7h0M152.5 314.2h0M167.3 301.1h0M140.6 269.8h0M153.5 313.3h0M160.3 298.7h0M145.6 297.9h0M159.9 307.5h0M160.5 298.5h0M149.7 309.8h0M152.3 313.8h0M148.0 306.3h0M158.2 295.1h0M152.5 313.1h0M154.2 313.1h0M158.0 308.7h0M152.7 313.1h0M160.6 304.0h0M148.7 305.8h0M150.7 313.3h0M168.6 270.7h0M145.5 300.0h0M169.9 295.8h0M149.7 311.6h0M154.6 313.9h0M151.0 308.8h0M151.0 299.5h0M156.6 312.2h0M155.8 303.4h0M154.5 313.7h0M158.3 310.4h0M144.6 306.9h0M153.0 314.7h0M138.4 290.1h0M204.0 293.5h0M158.4 309.4h0M156.6 311.4h0M175.0 289.9h0M137.4 295.4h0M150.1 300.0h0M152.8 312.3h0M142.0 273.0h0M205.9 257.5h0M151.5 308.8h0M162.0 302.1h0M158.3 309.8h0M159.5 308.0h0M164.9 303.8h0M149.3 311.4h0M146.4 284.8h0M154.1 313.8h0M148.9 308.7h0M162.4 303.3h0M151.9 310.7h0M149.0 306.4h0M152.3 310.5h0M187.1 296.8h0M144.0 301.9h0M148.7 306.5h0M150.4 307.5h0M156.4 295.4h0M152.0 313.7h0M119.3 296.1h0M138.3 297.7h0M150.9 310.8h0M134.1 281.7h0M186.2 295.3h0M164.1 304.4h0M153.4 313.4h0M175.1 286.8h0M154.7 308.8h0M150.6 294.4h0M163.7 285.2h0M124.0 256.3h0M159.5 302.9h0M158.7 306.6h0M136.7 293.3h0M153.5 312.5h0M143.2 309.3h0M137.5 298.9h0M152.8 313.9h0M146.6 303.6h0M149.8 312.2h0M157.1 310.4h0M160.7 302.7h0M154.7 313.6h0M153.2 314.8h0M152.8 314.5h0M179.0 283.1h0M149.3 306.0h0M157.7 285.0h0M153.2 314.8h0M161.4 259.8h0M150.7 309.4h0M163.0 298.4h0M160.3 296.6h0M155.5 312.4h0M122.4 302.2h0M160.1 301.3h0M154.1 312.1h0M131.4 298.8h0M152.9 313.7h0M173.2 296.2h0M162.4 307.5h0M148.6 293.0h0M163.9 300.1h0M157.4 305.7h0M134.5 292.2h0M150.1 307.9h0M136.8 298.2h0M153.5 314.4h0M169.4 296.8h0M156.3 311.6h0M158.9 300.2h0M156.4 309.1h0M147.0 305.8h0M171.9 299.9h0M155.9 312.2h0M145.7 304.0h0M136.4 297.4h0M154.9 312.8h0M161.3 291.3h0M156.1 306.2h0M154.0 313.1h0M160.1 308.6h0M147.9 309.7h0M164.4 309.5h0M134.8 293.2h0M148.3 281.6h0M140.0 285.6h0M148.2 310.3h0M161.0 262.9h0M149.4 302.7h0M158.2 272.9h0M206.5 284.0h0M160.2 304.3h0M144.7 307.7h0M149.1 311.5h0M153.1 314.3h0M153.4 314.1h0M155.3 310.5h0M155.2 313.2h0M124.1 275.9h0M186.6 277.7h0M154.7 310.6h0M132.5 259.0h0M151.2 306.8h0M146.0 308.1h0M138.8 295.1h0M155.1 313.1h0M154.0 311.3h0M151.5 311.6h0M181.0 260.7h0M144.0 307.4h0M153.0 314.6h0M152.9 313.0h0M169.3 299.4h0M159.2 305.6h0M133.1 307.8h0M150.9 307.9h0M146.9 302.7h0M155.9 311.2h0M172.4 287.8h0M149.4 305.7h0M151.6 302.1h0M155.2 304.2h0M159.3 313.1h0M160.2 289.8h0M166.6 301.6h0M159.5 283.3h0M184.9 262.2h0M160.5 302.0h0M154.5 313.5h0M143.8 300.9h0M142.3 296.2h0M130.2 288.2h0M175.3 284.2h0M158.2 298.5h0M160.2 303.7h0M139.5 294.6h0M153.3 314.6h0M153.3 314.7h0M158.2 310.4h0M147.1 307.1h0M156.1 313.6h0M150.8 311.2h0M135.8 283.8h0M153.8 312.2h0M157.8 310.3h0M157.3 312.5h0M154.8 310.9h0M141.9 294.8h0M145.2 299.9h0M153.5 313.9h0M154.6 309.7h0M147.1 308.9h0M142.6 305.1h0M173.8 281.6h0M154.7 312.5h0M151.7 309.6h0M135.4 296.6h0M144.5 304.5h0M158.5 292.1h0M154.9 309.2h0M134.7 274.4h0M190.4 263.2h0M136.5 295.9h0M152.4 313.7h0M152.8 314.3h0M227.6 252.2h0M152.6 314.0h0M132.0 288.8h0M161.3 294.7h0M153.4 314.4h0M140.8 292.5h0M176.0 272.6h0M153.8 313.4h0M155.9 289.6h0M133.5 289.1h0M134.9 291.9h0M150.0 311.0h0M141.2 298.6h0M158.7 308.8h0M160.1 305.2h0M153.3 314.7h0M162.3 304.4h0M154.8 313.0h0M157.8 302.1h0M148.0 298.9h0M129.1 291.5h0M173.9 277.9h0M160.2 303.7h0M139.4 302.5h0M157.9 308.2h0M156.1 309.6h0M152.7 310.9h0M142.9 305.5h0M149.0 310.3h0M168.9 299.0h0M148.2 289.2h0M152.4 312.0h0M149.6 295.0h0M132.6 269.0h0M149.8 312.1h0M152.1 313.5h0M146.2 300.7h0M159.2 312.1h0M153.3 314.4h0M155.0 299.4h0M161.6 294.6h0M157.6 310.5h0M162.8 293.0h0M155.3 311.2h0M150.5 305.8h0M139.0 297.1h0M158.2 297.1h0M160.2 309.0h0M152.6 314.1h0M169.6 292.2h0M153.5 314.1h0M155.2 306.7h0M137.6 293.2h0M150.9 303.5h0M156.6 295.4h0M159.5 298.3h0M147.3 290.3h0M146.0 305.2h0M143.7 302.1h0M154.2 309.6h0M140.9 302.0h0M151.7 313.5h0M158.6 312.6h0M155.2 313.2h0M146.8 309.7h0M161.0 302.6h0M159.7 297.2h0M152.2 313.4h0M154.8 312.8h0M176.6 285.7h0M135.8 283.3h0M162.8 305.0h0M143.2 301.2h0M158.8 295.2h0M168.5 279.5h0M150.8 309.3h0M135.9 264.6h0M156.4 310.8h0M167.5 295.7h0M145.6 307.9h0M149.9 311.6h0M151.9 313.9h0M135.5 287.7h0M151.1 312.3h0M156.4 308.0h0M161.4 274.6h0M224.9 267.6h0M149.5 299.6h0M155.3 313.4h0M158.7 292.4h0M168.6 293.7h0M135.8 289.9h0M158.9 293.9h0M156.5 307.8h0M155.9 299.3h0M155.8 295.0h0M154.8 301.4h0M149.2 310.5h0M174.1 281.8h0M152.2 306.9h0M98.2 274.0h0M150.2 289.5h0M158.0 307.3h0M131.5 295.6h0M153.1 314.7h0M163.0 292.7h0M156.9 286.4h0M158.2 294.8h0M160.4 295.2h0M161.8 306.3h0M145.9 312.3h0M158.6 260.7h0M158.3 306.3h0M167.4 275.4h0M152.2 313.9h0M150.5 312.2h0M164.0 286.9h0M100.4 280.1h0M146.0 306.2h0M146.8 305.1h0M128.0 301.5h0M150.3 311.2h0M126.0 298.2h0M140.0 295.7h0M157.9 308.1h0M163.3 291.0h0M136.7 297.5h0M153.1 314.6h0M115.2 276.1h0M151.8 313.7h0M155.1 311.2h0M153.0 314.6h0M164.4 303.4h0M181.7 291.2h0M139.7 291.0h0M156.1 307.4h0M149.3 310.7h0M151.5 303.0h0M159.0 306.9h0M150.1 296.7h0M162.6 308.1h0M156.7 301.9h0M152.0 311.5h0M153.2 314.8h0M140.4 274.4h0M184.1 292.3h0M157.0 305.0h0M157.5 310.8h0M149.8 300.6h0M185.5 302.2h0M132.3 293.0h0M152.6 308.4h0M156.8 295.5h0M160.1 305.0h0M169.6 290.6h0M149.8 302.8h0M155.8 290.0h0M166.8 266.6h0M164.3 301.4h0M135.5 301.0h0M155.2 296.8h0M156.5 310.6h0M155.8 306.0h0M152.9 314.6h0M150.6 310.5h0M153.3 314.7h0M148.2 302.8h0M154.0 312.0h0M161.4 302.8h0M157.1 299.8h0M150.7 306.6h0M152.4 313.3h0M136.6 296.5h0M185.1 296.1h0M162.9 307.5h0M151.3 311.3h0M152.5 313.9h0M156.2 309.0h0M153.4 313.9h0M166.2 279.4h0M139.5 293.9h0M175.3 273.4h0M151.9 305.6h0M148.0 302.8h0M152.6 311.3h0M146.4 308.8h0M172.5 272.0h0M155.0 306.0h0M164.4 281.3h0M137.4 283.5h0M162.3 306.5h0M139.9 300.2h0M167.2 300.1h0M148.0 291.0h0M149.8 305.4h0M156.0 305.0h0M175.3 291.5h0M141.2 298.3h0M145.6 308.4h0M152.6 314.6h0M150.1 305.4h0M161.2 289.7h0M157.7 304.6h0M137.8 255.3h0M152.1 313.7h0M152.9 313.1h0M157.4 311.4h0M159.6 309.0h0M139.0 300.8h0M131.6 301.6h0M160.2 309.1h0M154.6 311.0h0M176.2 288.3h0M153.1 314.6h0M186.2 288.1h0M161.1 306.0h0M149.4 311.6h0M163.2 286.5h0M153.1 314.6h0M156.7 293.0h0M105.8 290.9h0M142.1 303.5h0M141.9 303.1h0M154.8 311.0h0M159.8 310.1h0M155.8 310.5h0M151.4 307.7h0M145.2 307.5h0M153.9 314.3h0M142.7 305.6h0M157.2 307.4h0M160.5 294.6h0M148.4 302.8h0M147.3 308.7h0M153.2 314.7h0M164.7 288.6h0M163.6 252.4h0M172.4 280.3h0M139.4 301.5h0M145.2 302.8h0M151.2 313.2h0M159.2 307.8h0M149.6 294.7h0M154.2 312.5h0M130.7 300.2h0M170.4 296.5h0M175.6 287.6h0M155.5 313.0h0M166.3 297.5h0M148.0 301.0h0M166.8 266.6h0" stroke="#8a8a8a" stroke-opacity="0.28" stroke-width="2.8" stroke-linecap="round" fill="none"/>
<path d="M149.4 311.4h0M153.3 314.7h0M152.3 314.1h0M161.4 307.6h0M154.8 313.4h0M138.3 300.1h0M151.0 308.5h0M165.2 301.2h0M166.9 295.9h0M158.7 307.6h0M154.9 312.5h0M164.5 302.2h0M146.6 309.1h0M152.3 308.4h0M155.6 309.6h0M153.2 314.8h0M137.5 304.0h0M151.9 311.8h0M155.8 312.8h0M181.6 299.9h0M135.5 308.2h0M192.5 289.5h0M139.7 301.6h0M145.6 303.1h0M162.4 306.6h0M197.9 291.4h0M154.5 313.6h0M154.9 312.1h0M156.9 306.9h0M160.7 276.9h0M162.7 281.5h0M146.3 305.2h0M156.0 312.6h0M154.8 306.9h0M150.9 313.9h0M158.5 293.6h0M151.7 312.9h0M141.4 301.7h0M162.6 296.7h0M142.4 306.8h0M151.0 312.6h0M147.9 310.4h0M141.5 303.5h0M159.2 309.7h0M123.9 260.2h0M134.1 300.5h0M159.0 310.3h0M154.1 312.6h0M155.7 302.1h0M151.6 311.8h0M151.7 313.4h0M142.7 310.3h0M150.7 300.4h0M200.0 279.2h0M141.5 283.0h0M136.7 297.7h0M155.1 311.4h0M164.9 301.1h0M202.3 270.6h0M165.3 298.3h0M148.8 295.1h0M142.7 299.5h0M158.7 303.9h0M165.0 288.4h0M107.3 287.2h0M155.8 298.2h0M151.5 312.4h0M158.9 301.7h0M172.5 293.7h0M167.1 276.6h0M103.3 255.3h0M163.1 305.8h0M159.6 307.2h0M153.3 314.5h0M174.6 304.8h0M161.0 307.5h0M164.0 302.0h0M146.1 307.7h0M157.7 296.9h0M153.9 313.8h0M167.7 307.2h0M149.5 311.0h0M230.3 252.6h0M169.3 296.9h0M128.5 272.2h0M152.0 309.8h0M139.1 286.6h0M156.4 303.6h0M147.3 299.4h0M179.5 263.7h0M147.3 303.3h0M156.1 309.5h0M148.8 302.3h0M152.6 314.0h0M153.6 312.5h0M154.3 313.1h0M151.0 312.3h0M169.0 308.2h0M156.0 300.7h0M174.3 289.1h0M154.9 311.8h0M184.3 264.1h0M142.5 302.2h0M158.8 293.0h0M153.4 314.6h0M147.5 277.0h0M156.6 279.6h0M155.5 311.4h0M147.1 275.8h0M146.9 305.8h0M151.7 309.5h0M149.6 311.1h0M153.7 313.4h0M138.4 300.1h0M138.6 280.7h0M141.7 302.5h0M173.9 265.8h0M165.0 299.3h0M151.6 309.8h0M161.0 291.0h0M144.8 297.8h0M151.1 311.6h0M152.1 312.6h0M162.9 302.2h0M153.1 314.4h0M172.7 283.5h0M151.0 309.0h0M156.1 308.6h0M132.3 301.4h0M148.1 310.8h0M147.8 307.7h0M151.9 307.1h0M151.0 298.3h0M149.8 309.0h0M164.5 304.5h0M141.8 300.2h0M158.3 310.5h0M174.4 290.7h0M154.8 310.6h0M160.6 298.8h0M147.6 308.0h0M164.7 303.4h0M152.8 313.1h0M163.4 304.4h0M132.9 288.5h0M149.6 305.0h0M135.7 285.3h0M156.1 311.3h0M149.2 312.3h0M214.2 274.3h0M139.1 273.5h0M152.7 312.5h0M164.7 304.3h0M156.6 303.6h0M151.3 311.8h0M153.0 314.5h0M171.1 276.3h0M162.1 294.5h0M172.7 288.0h0M153.4 314.5h0M161.5 301.1h0M149.6 301.8h0M149.4 310.7h0M152.6 313.9h0M164.4 300.3h0M149.0 311.1h0M144.2 301.2h0M150.6 292.2h0M152.0 314.0h0M213.4 271.2h0M172.5 292.6h0M155.4 308.6h0M146.5 294.1h0M166.0 296.1h0M167.1 294.4h0M157.7 310.4h0M157.4 307.9h0M146.6 308.9h0M149.1 308.6h0M144.8 305.4h0M150.7 313.0h0M154.5 311.1h0M159.0 306.4h0M151.1 312.9h0M162.5 303.5h0M148.3 304.9h0M154.7 312.6h0M167.9 284.4h0M164.4 295.3h0M150.7 308.7h0M150.8 310.9h0M146.6 291.3h0M162.4 302.3h0M151.6 313.3h0M131.0 305.0h0M180.4 282.3h0M152.3 308.5h0M139.5 302.7h0M158.9 308.8h0M150.1 311.3h0M152.6 314.2h0M152.1 312.7h0M153.7 313.4h0M158.9 306.9h0M158.4 287.3h0M165.1 303.6h0M180.4 261.2h0M182.6 299.6h0M140.2 295.1h0M128.5 283.1h0M155.6 307.1h0M178.9 262.2h0M152.9 312.9h0M183.7 276.7h0M151.7 309.6h0M142.0 300.1h0M153.0 314.2h0M157.3 290.9h0M155.6 312.1h0M149.7 292.2h0M147.8 313.1h0M149.0 307.2h0M146.0 308.2h0M156.2 305.0h0M154.2 314.0h0M146.0 304.4h0M149.3 300.8h0M156.1 304.5h0M162.1 306.4h0M122.1 288.0h0M173.4 289.8h0M140.5 298.9h0M161.7 303.8h0M161.5 306.9h0M226.2 249.3h0M145.3 304.6h0M147.4 306.8h0M147.2 302.8h0M152.3 313.1h0M154.1 314.1h0M150.0 287.6h0M168.3 297.3h0M147.6 313.0h0M150.5 311.7h0M173.6 297.9h0M153.5 314.4h0M128.7 275.0h0M127.0 294.6h0M164.6 307.7h0M145.2 295.4h0M138.1 308.3h0M158.6 299.9h0M152.3 311.3h0M150.6 294.5h0M153.7 311.9h0M172.7 256.4h0M176.3 289.2h0M118.4 293.2h0M164.1 304.6h0M165.1 293.4h0M155.4 306.5h0M154.3 310.0h0M93.7 278.6h0M123.9 281.1h0M151.4 302.7h0M153.7 311.7h0M159.8 310.2h0M154.8 312.3h0M85.2 264.4h0M123.5 297.3h0M161.7 286.6h0M134.1 281.1h0M152.8 313.2h0M129.5 265.9h0M165.9 304.4h0M180.4 298.9h0M162.1 302.6h0M153.9 313.5h0M152.7 312.5h0M151.7 308.1h0M149.4 275.0h0M155.8 312.5h0M151.4 303.2h0M129.8 277.9h0M160.0 286.4h0M176.1 273.9h0M144.9 272.7h0M154.0 312.9h0M143.2 306.0h0M145.2 304.4h0M151.7 313.3h0M147.5 259.7h0M138.9 299.2h0M155.5 311.8h0M153.9 313.7h0M148.3 291.0h0M136.4 296.0h0M151.5 310.9h0M140.4 298.5h0M136.5 293.2h0M159.6 293.9h0M103.3 281.0h0M166.4 286.0h0M162.6 288.0h0M159.0 310.7h0M142.1 308.6h0M163.2 297.2h0M146.4 306.1h0M139.7 294.3h0M154.8 311.2h0M154.8 310.7h0M150.5 298.2h0M156.0 307.5h0M146.4 296.2h0M145.0 298.6h0M154.8 311.2h0M159.2 300.8h0M144.9 290.9h0M132.5 285.7h0M155.8 310.1h0M142.5 304.9h0M142.7 296.3h0M158.4 310.5h0M150.0 305.9h0M149.9 283.6h0M159.1 257.7h0M153.2 314.8h0M151.0 304.6h0M148.8 299.3h0M150.7 305.6h0M143.5 285.9h0M146.2 309.0h0M173.1 281.2h0M142.6 296.9h0M164.6 304.1h0M141.5 309.0h0M159.1 297.7h0M158.8 310.1h0M173.2 292.4h0M158.0 307.9h0M153.7 311.4h0M154.5 308.0h0M150.3 311.9h0M134.3 291.3h0M136.8 281.5h0M156.1 312.7h0M146.4 308.9h0M144.8 301.1h0M149.0 306.7h0M143.2 304.3h0M188.3 298.8h0M172.1 273.2h0M153.0 314.3h0M161.6 289.2h0M157.5 307.3h0M143.3 289.7h0M134.1 260.8h0M155.6 313.4h0M130.7 290.7h0M173.6 299.7h0M143.9 291.3h0M154.1 313.3h0M152.9 313.2h0M149.9 308.9h0M162.8 299.5h0M165.3 301.8h0M153.5 314.6h0M190.9 281.7h0M148.1 310.3h0M148.0 300.7h0M155.4 311.2h0M155.4 313.1h0M143.1 310.5h0M166.3 273.7h0M152.3 313.8h0M148.9 311.9h0M157.7 311.1h0M164.6 303.3h0M151.2 311.8h0M149.0 289.4h0M156.3 308.1h0M166.7 291.6h0M155.6 312.8h0M152.8 314.5h0M137.3 306.6h0M159.3 302.4h0M173.0 300.4h0M152.2 311.9h0M153.8 313.1h0M160.1 305.5h0M153.3 314.8h0M154.3 307.1h0M167.8 296.0h0M152.4 313.9h0M178.4 279.7h0M153.6 314.4h0M150.8 313.5h0M150.6 310.5h0M161.8 277.3h0M157.6 310.1h0M134.4 286.6h0M142.3 275.9h0M154.3 313.6h0M160.2 298.9h0M149.6 308.4h0M158.4 304.8h0M120.6 252.3h0M151.1 298.3h0M146.3 307.1h0M123.5 277.9h0M153.4 314.6h0M136.3 287.5h0M156.3 308.9h0M197.0 291.0h0M148.8 313.3h0M154.5 309.2h0M166.5 251.8h0M144.4 303.5h0M179.2 297.9h0M145.0 311.8h0M151.9 312.2h0M148.1 309.9h0M151.3 309.6h0M110.2 274.5h0M133.7 291.5h0M158.2 308.8h0M160.2 311.6h0M148.3 311.3h0M131.3 305.4h0M145.6 297.3h0M142.7 308.2h0M146.9 307.7h0M181.1 277.7h0M125.7 280.2h0M155.4 307.8h0M151.6 308.0h0M138.0 297.5h0M159.8 290.6h0M165.0 287.1h0M163.9 303.1h0M148.7 302.0h0M166.9 299.2h0M124.3 266.8h0M147.6 306.4h0M137.0 220.7h0M169.5 295.7h0M142.2 304.1h0M157.7 307.9h0M143.0 304.6h0M150.5 299.0h0M153.2 314.8h0M149.2 311.6h0M154.0 313.6h0M146.9 307.5h0M145.5 305.1h0M148.5 305.1h0M149.8 293.5h0M170.7 297.5h0M141.8 303.2h0M168.6 292.5h0M154.9 295.0h0M141.5 303.8h0M136.2 287.7h0M152.7 313.7h0M112.1 248.0h0M154.6 312.6h0M148.7 304.7h0M156.3 312.8h0M161.1 290.0h0M140.6 299.5h0M141.3 298.1h0M138.4 308.1h0M137.7 292.8h0M143.9 304.8h0M147.8 305.3h0M134.4 288.8h0M143.6 301.3h0M156.4 287.8h0M128.6 304.4h0M166.7 297.1h0M150.3 306.9h0M152.1 308.1h0M173.5 297.9h0M153.6 314.5h0M153.3 314.5h0M154.8 309.0h0M149.5 310.7h0M158.8 309.5h0M165.7 303.4h0M161.6 301.1h0M166.6 289.0h0M166.8 297.3h0M167.6 300.5h0M154.1 313.0h0M134.9 281.2h0M148.4 308.0h0M155.0 313.3h0M143.4 304.3h0M154.7 311.7h0M162.6 304.4h0M167.8 307.6h0M146.1 308.2h0M157.4 301.6h0M138.7 298.4h0M153.9 314.6h0M154.8 308.7h0M155.7 307.5h0M151.0 299.8h0M156.3 312.3h0M137.8 293.9h0M154.9 309.2h0M170.9 292.1h0M149.2 311.5h0M157.1 310.1h0M151.7 309.8h0M137.4 298.2h0M140.4 293.0h0M155.2 312.2h0M153.7 312.9h0M150.7 303.2h0M148.1 308.6h0M154.9 313.5h0M147.3 294.8h0M186.2 297.2h0M113.4 283.1h0M164.4 301.5h0M154.7 306.7h0M156.5 307.8h0M120.7 300.0h0M155.1 310.1h0M148.2 310.8h0M167.4 290.0h0M184.3 290.2h0M148.9 310.6h0M145.2 308.1h0M150.1 308.0h0M157.1 309.3h0M148.1 232.6h0M194.8 282.6h0M138.6 298.6h0M160.3 308.0h0M149.8 312.3h0M151.5 313.5h0M163.4 300.9h0M140.9 289.5h0M155.9 301.0h0M149.3 305.3h0M157.4 310.7h0M157.6 308.6h0M151.8 312.3h0M143.3 291.8h0M136.5 297.7h0M169.6 297.6h0M140.5 300.2h0M158.0 298.4h0M165.7 292.2h0M147.4 309.4h0M154.2 313.7h0M125.5 280.1h0M171.3 306.2h0M154.7 312.3h0M157.1 311.3h0M154.1 307.7h0M155.2 313.0h0M135.3 295.9h0M148.4 306.2h0M144.6 306.7h0M130.5 273.2h0M162.8 291.3h0M156.3 308.7h0M150.4 294.2h0M163.1 286.1h0M145.5 303.7h0M155.2 301.5h0M127.2 278.4h0M157.0 309.1h0M139.1 298.5h0M151.2 311.6h0M166.6 293.6h0M158.9 310.0h0M152.2 312.3h0M151.5 313.4h0M179.8 276.1h0M161.8 307.4h0M153.0 313.9h0M159.7 305.6h0M151.8 310.1h0M143.3 309.2h0M152.0 313.9h0M174.4 288.7h0M148.9 307.0h0M148.4 298.7h0M158.8 309.4h0M152.0 314.3h0M155.8 291.5h0M174.0 298.4h0M138.1 300.4h0M160.4 308.5h0M154.6 312.0h0M149.6 260.5h0M161.9 293.8h0M130.5 262.1h0M152.2 313.3h0M120.5 290.3h0M170.6 293.0h0M151.6 310.4h0M106.8 271.8h0M154.3 305.4h0M159.5 301.4h0M156.0 309.6h0M148.4 310.6h0M159.9 286.6h0M149.7 311.9h0M166.6 288.2h0M165.7 307.2h0M149.2 312.2h0M130.5 280.0h0M137.9 290.9h0M149.3 298.3h0M149.3 291.3h0M166.4 294.5h0M152.0 311.9h0M152.3 311.8h0M160.2 287.4h0M155.6 306.5h0M157.9 309.2h0M163.8 291.8h0M160.3 304.4h0M153.7 311.7h0M169.3 290.5h0M146.9 309.0h0M149.8 309.3h0M132.2 278.9h0M132.1 268.6h0M152.4 309.1h0M150.2 310.1h0M137.8 295.4h0M158.1 307.3h0M165.5 300.7h0M148.3 313.2h0M151.7 313.5h0M147.2 304.5h0M164.9 288.8h0M140.8 287.1h0M150.8 314.1h0M156.7 299.8h0M150.9 309.8h0M147.8 308.6h0M133.7 301.8h0M163.0 297.7h0M150.4 302.6h0M138.4 287.7h0M151.1 310.6h0M162.3 304.3h0M144.0 303.2h0M147.1 303.5h0M149.4 294.5h0M151.3 311.4h0M155.7 306.5h0M149.0 305.4h0M157.4 311.1h0M177.4 268.7h0M152.9 314.4h0M154.7 314.2h0M148.7 305.9h0M147.1 307.0h0M83.0 258.6h0M145.3 292.7h0M160.8 307.6h0M160.9 296.9h0M134.3 256.5h0M156.5 312.5h0M143.5 301.8h0M151.6 301.5h0M147.4 307.3h0M168.2 287.2h0M152.2 314.0h0M132.9 281.0h0M158.1 310.8h0M145.6 273.3h0M172.8 298.0h0M127.3 289.0h0M160.9 269.8h0M170.1 291.9h0M149.3 309.0h0M147.2 276.4h0M158.1 295.0h0M144.9 307.9h0M150.7 312.3h0M151.7 313.1h0M156.4 300.3h0M172.2 306.0h0M157.5 309.1h0M150.2 296.4h0M169.8 278.5h0M134.7 287.0h0M158.2 308.4h0M150.7 310.6h0M156.6 310.9h0M180.2 273.3h0M185.6 294.9h0M123.3 296.4h0M164.2 284.7h0M167.5 300.6h0M153.4 314.5h0M154.1 313.2h0M160.4 298.3h0M188.3 290.6h0M107.8 291.6h0M162.8 308.7h0M144.7 268.9h0M126.5 302.9h0M128.8 293.7h0M162.5 300.0h0M208.9 265.8h0M161.9 296.3h0M161.6 307.5h0M150.0 309.4h0M138.7 290.3h0M131.4 269.9h0M151.4 308.2h0M151.1 314.1h0M156.2 306.5h0M151.6 309.2h0M151.7 309.6h0M153.1 314.0h0M134.7 305.7h0M155.2 311.3h0M152.8 314.1h0M148.4 305.5h0M153.1 314.3h0M150.3 293.9h0M131.8 283.9h0M151.7 311.0h0M147.3 304.4h0M161.3 265.2h0M160.6 295.6h0M150.8 307.8h0M147.7 304.9h0M140.4 308.2h0M158.8 308.3h0M137.1 297.5h0M137.6 298.9h0M164.7 304.5h0M149.8 306.3h0M132.7 265.0h0M165.1 308.0h0M181.0 278.7h0M140.9 303.2h0M153.4 314.3h0M160.7 304.0h0M144.6 284.2h0M152.6 313.3h0M167.2 259.3h0M137.4 273.1h0M154.9 309.9h0M162.1 304.5h0M143.2 283.8h0M151.7 311.0h0M154.1 314.1h0M151.5 313.8h0M149.2 294.3h0M140.6 293.6h0M157.5 288.8h0M158.2 298.2h0M144.0 299.5h0M148.5 290.6h0M156.6 279.2h0M159.3 309.8h0M150.1 295.7h0M175.1 298.3h0M168.9 304.9h0M150.3 309.2h0M159.0 312.0h0M172.8 307.2h0M173.2 294.3h0M155.0 308.6h0M119.7 260.0h0M153.3 314.7h0M151.9 312.3h0M119.8 301.8h0M146.1 307.8h0M174.3 298.8h0M158.0 310.2h0M165.0 286.5h0M166.8 300.3h0M154.7 309.1h0M145.7 299.4h0M158.9 299.7h0M114.7 287.0h0M133.5 265.5h0M154.0 314.2h0M148.2 304.3h0M145.5 306.0h0M154.8 312.3h0M181.0 298.1h0M153.2 314.6h0M160.2 300.9h0M130.0 303.7h0M168.1 296.5h0M160.9 309.9h0M167.8 298.4h0M134.6 282.7h0M155.6 309.3h0M143.9 295.1h0M161.9 293.4h0M145.5 300.3h0M163.4 306.9h0M159.3 308.2h0M148.2 296.2h0M135.0 306.0h0M163.6 305.3h0M149.3 302.1h0M146.5 306.5h0M151.8 310.4h0M142.2 284.0h0M172.9 286.4h0M147.5 312.2h0M148.4 243.6h0M154.5 313.7h0M149.9 300.3h0M152.1 314.4h0M137.8 279.4h0M175.3 293.0h0M137.9 293.6h0M151.2 310.6h0M177.7 278.5h0M147.9 302.6h0M141.6 303.9h0M145.6 293.0h0M154.1 308.1h0M155.4 308.5h0M165.5 300.0h0M166.7 287.1h0M150.1 310.3h0M151.5 307.1h0M142.7 301.5h0M150.0 311.7h0M127.2 298.9h0M152.3 308.4h0M134.0 302.5h0M152.8 312.4h0M169.1 293.9h0M165.3 276.5h0M150.6 314.0h0M180.2 279.1h0M147.8 303.5h0M157.5 306.1h0M156.0 301.8h0M152.3 313.8h0M144.2 308.2h0M150.7 299.0h0M152.6 313.7h0M156.5 300.7h0M156.5 309.7h0M149.3 309.1h0M127.2 257.7h0M139.5 292.9h0M166.7 275.5h0M144.9 307.5h0M159.6 309.7h0M147.4 303.7h0M156.2 313.4h0M158.0 310.7h0M177.6 282.8h0M149.5 312.7h0M154.8 302.0h0M154.8 311.5h0M145.8 287.5h0M166.4 293.1h0M154.2 311.4h0M152.2 309.0h0M157.2 302.8h0M149.7 308.8h0M149.9 309.4h0M146.6 304.5h0M154.3 313.9h0M107.7 256.0h0M152.4 313.0h0M142.9 278.7h0M154.2 308.3h0M154.4 313.8h0M159.6 299.9h0M154.4 309.9h0M151.3 298.5h0M157.7 310.2h0M165.4 308.6h0M143.3 304.5h0M149.1 312.8h0M149.6 308.0h0M151.2 312.6h0M161.3 306.6h0M154.3 313.5h0M169.3 298.8h0M150.8 300.0h0M166.3 296.2h0M156.3 303.1h0M160.3 307.5h0M154.5 308.9h0M151.6 310.8h0M167.1 294.5h0M157.8 302.8h0M151.6 309.7h0M152.7 312.6h0M147.9 300.7h0M156.8 312.0h0M155.2 300.3h0M149.6 287.5h0M148.9 310.5h0M151.8 312.7h0M156.3 309.4h0M150.2 308.0h0M158.5 308.7h0M125.6 299.0h0M134.9 293.3h0M163.5 304.4h0M148.6 299.5h0M149.1 299.1h0M151.0 307.4h0M158.7 299.0h0M151.5 309.3h0M158.0 311.6h0M159.2 304.7h0M168.5 294.3h0M156.2 290.9h0M154.3 305.5h0M142.0 304.8h0M152.2 312.8h0M116.2 286.5h0M160.1 306.2h0M147.5 300.9h0M161.1 294.1h0M156.0 312.6h0M152.7 314.5h0M139.6 297.8h0M165.9 303.6h0M157.8 274.6h0M148.3 310.9h0M154.5 307.5h0M162.0 304.8h0M130.6 288.5h0M158.2 310.8h0M150.2 309.1h0M152.3 313.9h0M170.2 306.6h0M122.0 293.0h0M156.2 308.8h0M174.3 284.3h0M158.3 303.6h0M153.5 314.2h0M143.7 298.2h0M156.1 311.1h0M146.6 305.0h0M148.2 309.1h0M183.1 263.1h0M152.8 313.9h0M124.9 286.9h0M161.1 297.1h0M161.8 298.5h0M152.6 311.8h0M144.8 298.7h0M158.5 302.3h0M141.9 294.8h0M161.3 262.5h0M159.0 295.5h0M150.5 309.2h0M153.5 314.4h0M133.5 306.8h0M153.4 314.0h0M148.3 311.1h0M155.3 313.3h0M154.4 309.6h0M149.0 305.2h0M155.3 312.9h0M150.0 305.4h0M145.6 311.1h0M159.3 266.3h0M144.2 300.5h0M164.9 298.8h0M133.1 286.8h0M152.2 313.0h0M129.9 304.5h0M130.8 273.4h0M149.0 305.2h0M162.8 306.6h0M159.0 307.9h0M143.8 311.7h0M150.2 312.3h0M154.4 312.6h0M150.3 304.3h0M157.2 299.3h0M163.3 300.3h0M160.1 308.1h0M151.2 311.7h0M142.7 287.9h0M155.3 311.5h0M180.0 290.1h0M153.6 312.6h0M151.8 311.8h0M130.9 305.7h0M165.6 275.0h0M129.3 277.4h0M151.1 313.0h0M152.1 313.4h0M161.2 303.4h0M128.6 303.5h0M148.9 307.3h0M151.2 305.9h0M163.0 311.1h0M157.6 311.6h0M148.8 313.1h0M154.7 313.1h0M143.1 309.0h0M156.4 309.0h0M148.6 312.7h0M153.4 314.4h0M140.2 289.2h0M158.7 310.5h0M152.7 311.1h0M146.7 309.8h0M149.3 307.6h0M145.8 308.0h0M146.0 308.7h0M154.8 313.5h0M153.1 314.4h0M163.6 296.8h0M124.9 277.8h0M151.5 299.2h0M128.6 278.1h0M152.6 314.3h0M157.6 307.8h0M150.2 310.6h0M135.5 304.4h0M144.9 305.0h0M147.3 309.9h0M150.9 308.0h0M109.8 285.8h0M158.2 302.1h0M127.9 278.0h0M169.8 294.2h0M154.9 313.2h0M159.7 309.3h0M180.5 274.1h0M166.8 301.5h0M159.9 304.2h0M154.2 308.9h0M151.4 304.6h0M166.0 297.3h0M165.8 282.0h0M136.0 282.3h0M144.0 274.0h0M159.0 265.4h0M157.4 300.7h0M152.3 308.0h0M180.6 304.4h0M160.6 294.7h0M121.2 265.7h0M149.8 287.4h0M166.3 293.5h0M151.8 310.1h0M148.5 312.5h0M134.5 287.0h0M155.7 312.5h0M151.1 307.5h0M146.9 307.4h0M165.7 293.6h0M153.8 310.2h0M148.6 296.0h0M150.2 309.9h0M181.6 296.5h0M152.3 312.5h0M144.7 303.2h0M175.8 305.8h0M159.4 310.2h0M173.3 293.4h0M161.4 286.8h0M155.5 294.8h0M130.1 288.7h0M163.8 265.4h0M137.4 295.9h0M145.6 304.9h0M139.7 297.2h0M154.4 313.5h0M152.8 313.2h0M153.8 311.4h0M153.4 313.7h0M205.0 269.6h0M186.4 298.6h0M145.3 275.6h0M164.3 279.8h0M129.7 279.3h0M160.7 296.7h0M158.5 308.4h0M141.2 294.4h0M149.9 302.8h0M147.8 303.5h0M142.6 304.4h0M165.1 301.3h0M145.9 305.9h0M160.0 305.6h0M145.5 301.9h0M105.4 276.1h0M163.6 293.1h0M164.6 304.8h0M165.6 286.0h0M154.5 312.3h0M154.7 312.8h0M149.8 291.1h0M147.8 307.8h0M208.8 262.9h0M152.6 312.8h0M162.1 294.4h0M154.7 313.1h0M135.5 280.9h0M157.5 303.8h0M170.5 295.4h0M150.7 306.5h0M171.0 296.2h0M132.4 294.4h0M147.3 310.1h0M170.8 294.5h0M158.9 294.0h0M155.1 311.9h0M151.6 301.1h0M147.0 296.1h0M148.7 308.9h0M147.9 294.6h0M168.1 292.3h0M153.3 314.5h0M161.9 305.0h0M164.8 304.2h0M140.6 307.7h0M157.6 295.9h0M141.1 310.4h0M150.0 312.0h0M158.3 300.2h0M158.0 310.7h0M147.5 301.6h0M157.3 310.4h0M152.4 313.9h0M170.2 297.2h0M157.5 310.9h0M153.7 314.2h0M154.1 313.7h0M144.2 290.3h0" stroke="#8a8a8a" stroke-opacity="0.28" stroke-width="2.8" stroke-linecap="round" fill="none"/>
<path d="M150.9 310.1h0M148.6 303.1h0M175.4 282.2h0M143.1 307.6h0M153.2 314.7h0M151.7 311.8h0M138.6 305.3h0M147.5 297.5h0M139.0 298.7h0M162.4 297.9h0M159.9 308.5h0M132.9 291.4h0M142.4 300.9h0M162.9 301.0h0M137.4 291.9h0M167.6 295.3h0M171.8 295.8h0M153.0 314.5h0M143.8 310.3h0M148.3 309.2h0M167.4 253.2h0M150.3 292.7h0M147.5 308.5h0M146.3 303.1h0M142.4 299.6h0M147.9 279.6h0M155.9 311.2h0M156.6 312.1h0M150.1 309.5h0M174.9 286.0h0M153.5 314.4h0M114.2 280.7h0M149.2 313.2h0M146.4 309.1h0M155.6 307.9h0M157.7 303.7h0M148.6 311.0h0M150.9 304.9h0M168.3 306.3h0M167.7 300.9h0M138.7 296.8h0M143.4 298.9h0M149.1 310.1h0M129.8 288.5h0M155.2 306.2h0M150.2 298.1h0M173.3 293.1h0M147.6 307.8h0M151.9 311.7h0M160.5 302.4h0M149.0 309.8h0M140.9 302.2h0M148.6 309.6h0M162.1 303.8h0M159.7 289.6h0M170.8 304.0h0M153.4 314.5h0M153.2 314.8h0M156.1 294.6h0M147.4 304.5h0M147.0 307.2h0M157.5 311.3h0M145.2 308.6h0M167.3 293.8h0M153.4 314.4h0M139.4 297.4h0M146.7 307.9h0M146.4 295.4h0M155.9 311.8h0M183.8 266.0h0M177.2 287.8h0M164.7 297.4h0M142.2 301.0h0M174.0 303.2h0M142.7 295.9h0M144.5 296.5h0M150.6 296.6h0M150.4 312.5h0M157.6 306.5h0M155.9 309.5h0M155.6 312.3h0M173.5 254.1h0M144.0 268.3h0M146.1 303.4h0M152.5 311.8h0M156.4 311.0h0M161.9 283.8h0M152.0 313.5h0M168.2 299.8h0M152.6 314.4h0M150.8 306.2h0M129.0 281.1h0M92.6 280.7h0M161.2 306.8h0M176.3 278.9h0M180.9 280.7h0M151.5 307.2h0M155.8 307.2h0M157.0 304.0h0M152.1 312.0h0M152.0 314.0h0M145.6 293.8h0M167.8 261.5h0M152.8 313.5h0M150.9 308.8h0M147.1 299.1h0M161.5 304.5h0M135.5 296.1h0M172.2 294.3h0M136.4 287.6h0M151.4 306.6h0M148.6 309.4h0M202.9 292.0h0M149.5 307.4h0M149.4 311.3h0M152.6 312.8h0M160.0 292.3h0M160.1 308.5h0M160.8 291.2h0M139.8 308.4h0M137.0 286.8h0M157.0 311.1h0M165.5 301.1h0M140.5 299.6h0M140.0 278.1h0M143.9 295.9h0M163.9 307.4h0M155.8 312.4h0M145.5 309.3h0M159.3 307.6h0M160.0 301.2h0M156.7 313.7h0M156.9 311.0h0M117.0 286.9h0M155.0 313.4h0M157.2 309.1h0M159.0 307.4h0M153.0 313.7h0M126.8 265.9h0M151.2 295.1h0M164.1 297.6h0M146.3 309.4h0M143.6 293.0h0M192.9 296.5h0M159.5 303.4h0M158.2 311.0h0M153.4 314.5h0M156.4 309.7h0M154.5 313.8h0M151.5 307.6h0M166.4 302.4h0M155.6 312.5h0M152.4 314.2h0M155.9 310.8h0M150.3 312.7h0M174.9 291.7h0M180.8 265.9h0M150.4 298.5h0M143.6 234.6h0M159.9 306.0h0M159.4 300.3h0M150.6 294.4h0M163.3 304.5h0M137.0 291.2h0M148.3 311.7h0M157.6 291.2h0M141.9 294.6h0M173.0 294.2h0M155.7 312.1h0M146.2 309.0h0M168.7 286.0h0M157.2 290.5h0M156.6 312.1h0M122.9 279.3h0M170.3 301.6h0M154.3 309.6h0M153.5 314.7h0M130.0 286.6h0M159.0 304.7h0M158.5 305.7h0M154.1 311.7h0M120.7 281.1h0M122.3 255.9h0M149.0 309.3h0M163.1 304.1h0M164.7 306.6h0M154.7 313.1h0M151.9 313.2h0M136.5 289.8h0M157.4 307.0h0M172.5 301.8h0M147.9 310.4h0M150.5 312.6h0M164.8 289.8h0M163.6 299.0h0M145.1 299.3h0M155.7 303.1h0M149.5 299.4h0M155.6 308.7h0M143.0 306.2h0M149.9 308.6h0M157.6 310.5h0M110.0 285.5h0M141.1 303.0h0M163.6 296.4h0M148.0 301.0h0M152.1 310.0h0M152.2 305.5h0M149.7 308.4h0M148.0 277.3h0M149.4 310.9h0M152.4 313.5h0M161.1 276.6h0M151.9 307.3h0M143.1 303.0h0M157.0 303.3h0M154.4 312.0h0M155.0 313.5h0M163.9 299.6h0M156.4 310.9h0M145.7 305.6h0M150.5 312.2h0M176.0 300.3h0M161.2 275.3h0M163.9 159.0h0M150.8 312.9h0M152.2 310.6h0M141.3 296.7h0M133.6 300.2h0M154.9 313.3h0M158.2 283.5h0M153.1 314.7h0M162.6 305.7h0M169.5 299.2h0M142.2 301.1h0M155.2 313.2h0M193.9 286.8h0M148.5 310.1h0M122.6 299.2h0M146.6 309.5h0M157.5 306.4h0M199.6 271.7h0M161.4 303.3h0M167.9 244.8h0M162.3 306.9h0M148.5 309.5h0M139.4 300.8h0M153.3 314.6h0M149.0 277.8h0M176.6 283.2h0M161.9 300.0h0M150.1 311.6h0M158.3 307.0h0M152.7 313.1h0M164.2 303.2h0M149.1 302.2h0M155.1 314.0h0M163.5 305.4h0M161.6 307.9h0M146.8 292.6h0M154.2 312.7h0M155.1 304.7h0M158.6 304.1h0M158.1 305.5h0M150.0 297.6h0M150.1 310.0h0M159.9 309.1h0M151.3 312.6h0M178.5 272.5h0M147.0 301.7h0M155.8 311.4h0M148.3 311.0h0M155.4 312.8h0M137.7 299.9h0M179.1 298.7h0M158.1 307.7h0M156.2 306.9h0M118.9 288.9h0M144.5 290.1h0M149.0 301.9h0M165.1 301.9h0M139.6 297.8h0M154.2 313.1h0M152.1 313.0h0M132.6 293.4h0M165.3 303.6h0M154.5 312.3h0M152.7 314.3h0M134.2 304.2h0M171.5 287.7h0M139.6 283.2h0M151.4 313.4h0M159.2 308.8h0M129.9 274.4h0M156.3 311.0h0M165.6 309.0h0M145.9 289.7h0M144.3 284.8h0M151.5 311.0h0M139.4 294.7h0M178.2 285.5h0M152.3 313.5h0M144.8 285.5h0M189.0 273.6h0M157.2 290.6h0M150.8 311.6h0M175.0 286.1h0M164.6 298.8h0M123.4 290.1h0M164.6 300.3h0M144.1 290.2h0M127.7 283.2h0M158.9 311.6h0M167.8 306.2h0M154.4 312.5h0M161.2 300.1h0M156.4 309.7h0M167.0 309.9h0M160.2 280.7h0M134.2 295.1h0M154.7 309.3h0M150.2 312.6h0M158.4 309.6h0M154.5 308.6h0M157.3 304.9h0M147.7 308.0h0M154.8 307.9h0M167.1 261.1h0M138.4 298.9h0M152.1 311.8h0M154.9 309.9h0M146.3 307.5h0M134.9 293.0h0M155.1 302.8h0M171.3 292.7h0M162.7 304.2h0M142.7 304.4h0M149.7 307.6h0M149.8 303.5h0M128.9 283.2h0M148.5 310.5h0M188.7 266.6h0M153.5 314.5h0M151.1 301.4h0M153.6 314.2h0M166.2 254.4h0M151.2 305.7h0M152.4 308.4h0M144.1 303.8h0M142.0 281.3h0M165.2 301.5h0M203.1 293.1h0M145.3 306.8h0M161.6 306.6h0M160.6 308.7h0M133.7 297.5h0M158.1 295.4h0M158.0 299.8h0M133.2 306.8h0M150.4 307.0h0M167.2 293.2h0M152.4 310.4h0M153.1 314.4h0M161.5 309.1h0M161.5 305.4h0M225.7 259.3h0M147.1 306.4h0M136.6 285.8h0M145.1 295.9h0M131.5 253.6h0M223.7 272.7h0M154.0 314.2h0M200.7 291.6h0M149.0 308.7h0M187.2 291.0h0M153.3 314.7h0M150.7 313.0h0M156.9 310.4h0M146.9 265.2h0M147.2 307.9h0M148.9 309.7h0M187.5 295.6h0M114.9 260.4h0M142.5 304.0h0M150.4 300.9h0M150.9 312.3h0M154.0 313.5h0M141.4 302.3h0M167.1 302.9h0M147.6 259.2h0M138.7 303.2h0M154.1 309.3h0M140.4 295.8h0M154.9 311.8h0M154.4 312.2h0M149.3 304.2h0M139.5 301.6h0M151.8 311.7h0M154.8 311.0h0M147.9 310.4h0M127.5 281.3h0M134.8 305.8h0M153.0 314.5h0M154.0 310.2h0M149.5 282.3h0M170.6 293.8h0M164.1 305.4h0M132.0 291.8h0M145.4 302.2h0M158.1 308.0h0M160.2 300.7h0M150.0 312.3h0M155.7 312.6h0M161.3 264.3h0M153.1 314.7h0M151.7 313.5h0M150.2 292.0h0M165.3 298.1h0M154.9 313.4h0M185.3 301.6h0M152.6 311.0h0M155.1 304.6h0M185.3 266.9h0M162.4 297.4h0M135.8 290.4h0M132.3 287.7h0M153.4 314.6h0M150.0 306.6h0M155.1 312.4h0M146.1 307.6h0M172.7 292.4h0M169.4 280.5h0M163.5 305.9h0M148.5 311.0h0M144.8 304.8h0M142.0 302.1h0M143.4 293.8h0M156.3 312.3h0M148.4 297.1h0M151.1 302.0h0M159.7 301.6h0M155.7 312.7h0M151.8 306.7h0M170.5 292.2h0M152.8 314.4h0M155.9 309.5h0M179.2 279.3h0M150.3 307.8h0M148.5 264.3h0M171.7 292.9h0M156.3 311.4h0M146.8 312.4h0M150.6 312.3h0M162.7 306.3h0M156.0 308.3h0M153.1 314.7h0M169.7 275.4h0M178.1 275.0h0M149.5 312.8h0M137.4 299.8h0M156.6 310.0h0M128.4 286.1h0M151.5 311.9h0M128.8 277.0h0M153.4 314.6h0M151.2 312.7h0M147.7 306.0h0M167.7 298.7h0M143.6 287.4h0M149.9 311.8h0M172.8 285.9h0M160.8 308.1h0M145.1 295.9h0M149.0 302.5h0M160.0 308.7h0M146.2 301.5h0M143.8 306.2h0M167.7 298.8h0M161.8 295.9h0M152.1 312.3h0M136.5 307.7h0M176.1 290.3h0M131.5 300.3h0M189.4 300.4h0M162.8 305.7h0M158.0 301.9h0M143.0 289.7h0M150.7 304.7h0M155.7 312.1h0M146.6 303.0h0M157.3 310.8h0M157.7 310.0h0M164.0 307.0h0M158.5 288.8h0M158.6 298.3h0M137.8 309.1h0M158.9 308.4h0M150.3 296.6h0M163.7 197.4h0M166.6 306.8h0M141.6 294.9h0M151.3 301.2h0M132.6 275.5h0M149.3 304.3h0M167.5 296.6h0M144.0 267.7h0M154.2 312.8h0M151.2 313.2h0M156.1 312.3h0M141.6 281.9h0M162.5 226.6h0M150.4 276.3h0M171.1 296.2h0M145.0 308.6h0M155.0 312.3h0M148.6 310.3h0M138.2 293.4h0M146.0 306.7h0M135.2 285.8h0M171.5 294.4h0M162.3 305.9h0M158.3 312.3h0M139.8 305.2h0M149.8 302.4h0M152.8 314.3h0M151.9 309.1h0M153.5 314.2h0M156.0 298.0h0M153.3 314.7h0M137.9 248.5h0M193.7 256.4h0M149.7 305.8h0M145.4 288.7h0M169.4 285.5h0M143.3 305.3h0M146.3 294.0h0M139.2 255.8h0M136.7 297.6h0M133.3 289.4h0M152.3 313.5h0M158.7 311.9h0M144.1 306.8h0M150.3 311.9h0M147.2 303.9h0M154.9 308.2h0M130.3 283.9h0M151.8 306.7h0M153.5 314.3h0M156.3 296.2h0M154.1 311.9h0M148.9 291.1h0M158.7 302.2h0M166.0 285.8h0M150.0 300.4h0M154.0 312.7h0M153.0 314.4h0M203.9 290.5h0M148.2 307.1h0M149.9 312.3h0M146.3 308.7h0M165.4 300.0h0M148.8 270.6h0M161.6 291.2h0M173.2 283.1h0M157.5 305.3h0M156.8 311.7h0M170.4 302.2h0M159.8 305.3h0M144.4 302.9h0M140.1 241.8h0M166.6 297.4h0M152.6 314.2h0M130.8 306.3h0M153.3 314.7h0M144.2 215.6h0M118.9 266.6h0M161.5 306.6h0M133.2 273.0h0M152.5 310.3h0M166.3 300.7h0M147.4 310.1h0M164.9 290.8h0M168.6 285.3h0M139.2 303.6h0M155.6 312.2h0M138.7 281.3h0M153.3 314.7h0M151.9 314.0h0M154.0 311.3h0M153.9 312.8h0M155.3 313.1h0M144.8 305.8h0M153.9 313.2h0M119.9 282.5h0M172.8 284.3h0M187.2 288.0h0M131.0 284.1h0M158.8 305.0h0M113.4 273.3h0M171.3 304.4h0M162.6 282.5h0M155.2 312.7h0M173.4 280.1h0M141.4 301.3h0M124.6 259.4h0M168.5 299.8h0M151.9 313.6h0M153.8 312.0h0M144.6 306.9h0M156.2 312.0h0M153.5 314.4h0M166.1 274.7h0M164.2 304.5h0M150.8 313.3h0M157.7 286.0h0M181.0 277.3h0M154.5 314.2h0M141.7 304.0h0M155.0 311.6h0M157.2 311.0h0M153.0 314.1h0M166.3 294.0h0M193.2 293.3h0M166.5 302.3h0M161.7 246.7h0M146.6 309.2h0M158.5 302.2h0M142.2 300.0h0M163.3 299.5h0M149.1 310.3h0M142.5 301.5h0M156.1 311.8h0M150.3 304.4h0M159.9 272.4h0M143.8 261.1h0M167.6 289.2h0M157.8 295.9h0M146.4 306.1h0M172.8 283.9h0M154.5 305.2h0M158.3 309.9h0M153.3 314.6h0M156.4 308.8h0M152.3 311.9h0M154.0 313.9h0M153.2 314.8h0M195.0 268.5h0M156.9 308.7h0M154.1 313.6h0M134.9 290.3h0M150.1 293.9h0M146.1 306.1h0M165.0 303.1h0M150.0 311.9h0M130.9 261.9h0M141.1 296.1h0M153.2 314.8h0M160.8 307.9h0M152.3 313.1h0M149.9 310.5h0M168.7 291.3h0M147.1 309.2h0M150.9 311.9h0M165.8 300.4h0M176.1 287.2h0M130.9 293.6h0M151.7 313.6h0M143.3 302.5h0M151.2 310.3h0M146.4 302.4h0M153.8 310.5h0M151.5 313.6h0M154.5 310.7h0M150.3 308.6h0M173.0 262.3h0M152.6 314.0h0M148.4 303.8h0M156.8 301.8h0M135.8 295.3h0M155.2 311.0h0M156.2 302.7h0M145.7 299.1h0M149.7 311.6h0M153.1 314.7h0M164.6 303.7h0M157.0 295.4h0M153.0 314.7h0M152.7 314.5h0M151.5 307.5h0M178.8 295.6h0M150.7 304.9h0M151.5 309.3h0M162.5 308.1h0M97.8 261.5h0M155.9 312.4h0M149.5 302.1h0M149.8 299.4h0M132.3 292.4h0M151.1 312.9h0M162.3 286.1h0M135.7 293.5h0M143.8 308.8h0M150.4 301.2h0M155.1 312.6h0M127.1 280.5h0M157.0 309.4h0M159.0 309.6h0M169.6 294.4h0M149.6 289.3h0M171.7 289.3h0M152.6 314.2h0M156.5 303.7h0M162.8 305.1h0M147.8 279.8h0M155.0 312.6h0M155.4 310.5h0M170.1 286.0h0M144.9 308.9h0M167.9 296.7h0M151.7 307.6h0M153.5 314.5h0M154.3 308.7h0M155.0 311.4h0M155.5 297.0h0M155.2 313.2h0M163.8 303.6h0M141.8 310.9h0M171.3 282.7h0M153.8 313.9h0M148.5 308.0h0M143.0 305.4h0M153.4 314.6h0M151.9 313.5h0M150.4 310.9h0M155.4 312.3h0M154.3 310.5h0M155.1 311.2h0M162.1 309.8h0M160.6 307.7h0M153.6 312.6h0M157.3 296.4h0M143.0 297.8h0M156.8 301.0h0M189.3 295.6h0M159.7 310.1h0M148.8 312.3h0M153.0 314.6h0M144.3 307.2h0M154.6 312.9h0M148.9 312.8h0M159.3 309.8h0M152.5 311.2h0M134.4 294.2h0M148.5 310.7h0M157.6 307.1h0M177.5 287.2h0M147.0 308.8h0M145.5 307.6h0M141.0 297.6h0M159.7 308.7h0M144.6 299.0h0M147.5 302.0h0M159.2 306.1h0M161.2 299.9h0M154.9 311.9h0M145.2 308.2h0M177.5 288.0h0M113.8 248.6h0M188.0 278.7h0M152.4 313.2h0M133.3 283.1h0M157.0 310.0h0M161.8 305.7h0M150.6 298.9h0M153.9 313.9h0M175.0 279.0h0M148.4 311.0h0M135.3 294.3h0M162.3 299.6h0M151.2 313.2h0M157.5 311.2h0M158.9 269.7h0M170.6 278.7h0M154.3 313.6h0M153.7 314.5h0M150.0 310.1h0M159.1 306.7h0M166.3 268.6h0M142.6 305.7h0M156.2 312.1h0M147.6 305.0h0M155.3 313.3h0M164.4 275.2h0M148.7 307.7h0M144.8 306.5h0M154.3 312.6h0M149.1 306.5h0M151.3 311.8h0M159.6 308.6h0M165.9 292.2h0M149.3 299.2h0M151.4 301.0h0M159.4 300.9h0M145.3 307.9h0M136.0 305.8h0M136.0 308.4h0M150.1 305.9h0M155.0 313.1h0M154.0 313.2h0M155.3 300.9h0M122.5 250.8h0M150.8 313.4h0M144.1 297.6h0M131.7 290.6h0M152.5 311.1h0M151.6 313.6h0M134.7 292.6h0M125.6 275.2h0M156.9 307.0h0M154.6 307.4h0M146.6 309.2h0M166.1 301.1h0M150.5 313.4h0M155.5 308.1h0M159.4 305.6h0M129.9 282.6h0M156.0 297.3h0M150.8 303.2h0M155.7 291.7h0M181.2 280.9h0M152.4 313.9h0M142.2 277.4h0M169.0 273.8h0M149.2 309.6h0M163.8 297.5h0M148.3 302.9h0M151.0 313.1h0M157.7 291.2h0M158.4 301.5h0M138.2 295.4h0M164.7 277.2h0M145.3 308.9h0M152.0 311.6h0M157.0 311.8h0M145.2 291.3h0M150.0 307.9h0M185.8 289.7h0M152.9 313.6h0M165.7 296.0h0M153.5 314.6h0M157.1 306.3h0M150.6 304.9h0M169.2 287.3h0M154.4 313.2h0M158.3 309.4h0M141.3 299.5h0M195.5 295.7h0M157.5 297.9h0M146.7 303.1h0M144.0 305.2h0M169.6 297.7h0M149.0 288.5h0M161.8 306.1h0M165.0 294.8h0M94.1 276.4h0M161.6 303.3h0M140.3 271.2h0M162.1 303.7h0M153.8 313.2h0M156.9 304.2h0M165.4 302.7h0M129.3 280.5h0M126.6 276.6h0M155.5 312.8h0M141.7 288.8h0M154.8 302.3h0M144.4 307.1h0M145.8 295.3h0M156.8 276.8h0M143.5 304.9h0M181.5 262.1h0M120.4 265.1h0M149.2 311.7h0M147.4 310.1h0M156.4 309.4h0M154.5 303.9h0M136.4 296.5h0M152.0 310.8h0M150.8 312.2h0M150.2 312.9h0M163.2 296.8h0M150.1 311.0h0M146.5 293.5h0M160.4 308.3h0M153.0 314.6h0M177.0 285.3h0M156.4 305.8h0M156.1 311.9h0M146.5 239.2h0M143.5 288.1h0M153.7 313.9h0M151.6 312.1h0M157.0 306.3h0M158.0 308.6h0M144.4 287.9h0M151.5 310.6h0M150.9 312.4h0M157.7 312.7h0M153.2 314.8h0M147.8 269.1h0M169.4 262.3h0M146.2 301.4h0M150.3 306.3h0M162.1 303.2h0M148.9 306.3h0M119.9 267.2h0M149.9 312.3h0M154.8 313.6h0M155.3 309.9h0M156.5 308.7h0M143.1 276.0h0M147.4 306.9h0M146.1 297.7h0M158.3 294.2h0M164.3 302.7h0M134.9 303.5h0M143.9 296.2h0M149.9 311.7h0M145.7 307.6h0M137.4 292.6h0M155.1 312.1h0M120.6 299.8h0M153.9 310.6h0M155.1 309.4h0M148.8 302.4h0M155.2 313.9h0M160.9 297.9h0M146.1 286.2h0M150.4 310.9h0M183.5 287.8h0M150.9 312.9h0M145.5 292.5h0M149.7 309.1h0M153.8 314.3h0M149.2 308.8h0M155.7 313.0h0M146.2 299.0h0M147.2 300.3h0M169.8 283.9h0M155.3 309.8h0M118.4 293.0h0M170.2 291.1h0M155.6 313.0h0M153.5 314.4h0M157.4 303.8h0M158.2 295.2h0M153.8 310.8h0M185.8 275.4h0M158.0 303.0h0M142.7 298.8h0M154.1 314.3h0M147.7 281.6h0M169.3 291.1h0M155.6 300.2h0M140.5 307.8h0M151.6 313.0h0M114.0 295.6h0M165.9 269.9h0M141.7 288.7h0M152.2 313.4h0M156.0 311.4h0M198.3 266.0h0M163.2 295.7h0M163.7 303.4h0M158.0 311.0h0M157.9 305.8h0M171.9 292.3h0M171.2 290.0h0M152.4 313.3h0M151.8 306.7h0M148.8 311.4h0M155.5 312.5h0M148.8 302.7h0M160.4 306.5h0M120.5 262.3h0M151.7 312.2h0M161.7 307.7h0M141.8 295.3h0M145.0 309.3h0M92.1 264.8h0M140.1 289.1h0M158.4 296.9h0M156.3 304.1h0M150.4 310.5h0M163.4 304.0h0M161.4 302.6h0M155.4 301.9h0M171.7 294.5h0M149.2 312.0h0M152.7 310.4h0M152.2 314.1h0M145.6 306.4h0M158.2 306.9h0M162.8 305.8h0M158.2 293.8h0M143.0 281.9h0M134.4 292.1h0M142.3 303.3h0M142.0 308.8h0M170.2 301.3h0M153.1 313.9h0M150.4 312.7h0M151.0 311.6h0M140.3 308.1h0M149.1 311.2h0M160.6 303.9h0M148.7 307.8h0M141.7 290.8h0M143.4 289.1h0M165.1 306.0h0M156.6 310.9h0M163.5 301.0h0M135.0 279.2h0M169.5 304.5h0M154.3 314.0h0M154.4 312.9h0M154.3 310.9h0M175.9 297.9h0M147.5 309.7h0M151.9 313.6h0M159.9 310.2h0M141.8 294.4h0M151.7 311.2h0M153.2 314.7h0M141.5 298.3h0M130.7 303.1h0M154.6 312.9h0M136.6 302.6h0M149.5 311.8h0M164.8 295.3h0M166.7 287.5h0M137.1 290.7h0M154.9 313.2h0M162.5 302.0h0M149.3 311.0h0M100.5 257.8h0M146.2 283.8h0M155.0 308.8h0M116.8 265.6h0M154.4 308.5h0M156.9 308.8h0M146.2 303.8h0M177.2 269.5h0M146.6 311.3h0M169.6 305.7h0M157.1 301.3h0M154.3 313.9h0M160.9 305.9h0M166.9 294.4h0M139.1 299.8h0M134.6 290.5h0M162.1 299.5h0M151.6 299.8h0M148.2 310.2h0M156.4 312.4h0M144.4 285.1h0M156.0 311.2h0M174.7 282.5h0M150.2 310.1h0M137.1 305.4h0M143.0 310.2h0M152.9 314.1h0M161.6 307.2h0M160.6 309.0h0M153.6 314.6h0M144.3 296.1h0M155.5 306.7h0M163.0 301.3h0M159.2 305.8h0M173.9 303.7h0M159.3 291.8h0M148.3 302.0h0M157.5 309.7h0M148.2 307.9h0M132.0 292.0h0M149.2 309.2h0M134.1 283.2h0M149.7 308.4h0M141.9 303.6h0M150.8 312.3h0M149.4 292.5h0M127.5 284.2h0M163.9 305.0h0M146.3 293.9h0M144.4 303.3h0M158.9 309.8h0M173.6 278.4h0M152.4 313.0h0M143.4 310.1h0M158.8 286.9h0M145.4 300.1h0M158.2 287.5h0M151.7 311.3h0M154.3 314.0h0M125.9 282.4h0M162.1 307.4h0M144.3 309.7h0M168.6 299.8h0M136.4 296.8h0M129.5 280.2h0M148.7 311.1h0M177.6 279.3h0M158.3 309.6h0M149.3 306.2h0M153.5 314.4h0M154.0 314.1h0M179.4 277.5h0M154.1 311.8h0M169.4 304.1h0M139.4 295.3h0M142.2 303.5h0M164.0 305.1h0M154.8 303.5h0M150.1 308.0h0M150.2 312.2h0M147.3 310.0h0M152.8 312.4h0M155.4 310.0h0M164.4 271.0h0M161.7 301.1h0M176.6 297.3h0M156.4 309.0h0M162.5 312.0h0M155.4 287.7h0M121.7 295.7h0M155.7 305.2h0M155.3 311.4h0M188.0 293.9h0M134.7 305.3h0M159.9 298.4h0M159.3 309.8h0M158.0 276.9h0M152.9 314.4h0M149.9 300.1h0M167.1 281.9h0" stroke="#8a8a8a" stroke-opacity="0.28" stroke-width="2.8" stroke-linecap="round" fill="none"/>
<path d="M132.8 293.3h0M153.3 314.6h0M160.2 301.4h0M162.7 287.4h0M111.6 271.2h0M154.0 313.8h0M178.1 287.4h0M163.6 303.2h0M180.8 294.7h0M152.9 314.5h0M161.7 306.2h0M152.3 308.8h0M157.0 312.5h0M150.7 312.9h0M139.0 308.0h0M149.3 311.8h0M146.9 303.9h0M181.9 294.6h0M155.6 288.0h0M152.8 312.4h0M150.4 304.2h0M153.9 313.3h0M150.9 309.8h0M155.6 292.5h0M155.9 312.8h0M160.0 309.1h0M135.3 288.1h0M140.6 299.6h0M146.6 293.4h0M152.2 313.6h0M153.1 314.6h0M150.7 312.9h0M136.5 291.8h0M166.5 297.7h0M141.1 292.0h0M158.1 298.5h0M161.8 285.8h0M158.0 296.3h0M144.6 304.9h0M139.1 296.5h0M137.2 295.1h0M151.1 311.7h0M165.0 306.3h0M143.0 269.0h0M155.4 307.1h0M139.7 283.7h0M107.2 281.6h0M150.2 313.6h0M165.0 295.6h0M154.4 310.6h0M162.5 307.8h0M148.4 308.0h0M99.9 280.5h0M162.1 306.4h0M163.5 263.2h0M139.0 292.4h0M147.3 293.4h0M160.2 300.7h0M152.7 314.4h0M159.0 304.5h0M150.1 313.4h0M118.8 266.1h0M147.1 302.2h0M154.9 312.0h0M158.5 310.8h0M141.1 253.3h0M153.0 314.6h0M108.8 288.5h0M148.2 303.5h0M147.8 310.6h0M161.2 304.0h0M147.3 257.8h0M154.3 313.8h0M158.2 306.6h0M159.8 307.5h0M151.5 314.0h0M153.9 313.2h0M179.4 290.1h0M156.8 291.5h0M152.7 313.7h0M158.3 308.4h0M149.6 298.9h0M173.8 300.4h0M149.9 294.9h0M145.1 308.0h0M136.3 298.9h0M154.4 312.9h0M149.6 308.4h0M156.0 308.4h0M159.8 305.0h0M124.6 287.5h0M156.4 291.4h0M128.3 264.9h0M156.2 301.7h0M149.6 306.9h0M151.9 313.7h0M150.8 312.1h0M157.2 291.6h0M155.7 308.0h0M126.6 303.3h0M147.1 300.3h0M168.0 291.3h0M142.4 309.4h0M159.9 308.5h0M145.3 292.3h0M160.4 306.1h0M179.9 265.8h0M158.9 294.2h0M114.8 293.8h0M145.8 298.7h0M134.8 270.9h0M156.6 312.6h0M166.6 302.1h0M140.6 296.4h0M149.6 309.7h0M159.4 288.3h0M152.7 312.6h0M155.5 312.4h0M157.5 308.7h0M195.7 292.3h0M159.8 305.9h0M154.7 313.4h0M147.5 304.8h0M161.5 291.3h0M152.8 313.2h0M146.9 302.6h0M146.0 306.2h0M145.1 252.7h0M138.5 297.4h0M155.2 310.3h0M145.7 303.3h0M140.2 269.0h0M164.2 301.0h0M153.5 314.6h0M139.1 289.7h0M149.5 312.9h0M145.1 302.5h0M172.1 284.1h0M155.4 307.5h0M147.1 311.1h0M140.1 288.6h0M146.2 306.2h0M172.9 286.1h0M144.9 300.2h0M153.7 313.2h0M160.5 285.7h0M166.2 289.8h0M134.5 303.4h0M153.7 314.3h0M151.5 313.6h0M154.0 313.8h0M155.6 306.3h0M146.3 306.4h0M164.6 282.7h0M151.9 313.5h0M158.0 308.8h0M152.8 311.9h0M152.8 314.0h0M165.9 301.2h0M148.0 310.8h0M137.5 289.3h0M173.7 288.3h0M127.5 256.8h0M161.1 308.4h0M162.4 306.7h0M153.9 314.1h0M162.5 284.8h0M163.7 300.2h0M146.8 305.3h0M154.8 308.9h0M158.3 309.0h0M154.7 308.4h0M155.6 298.1h0M154.7 313.6h0M155.7 294.0h0M166.3 273.6h0M163.2 283.1h0M208.0 288.2h0M141.5 306.4h0M152.3 311.6h0M155.4 312.6h0M150.5 310.1h0M164.1 310.1h0M154.0 312.3h0M148.8 311.0h0M152.7 313.2h0M149.7 265.6h0M160.4 305.1h0M161.4 301.1h0M157.6 309.2h0M124.9 276.3h0M152.0 308.6h0M134.4 290.4h0M154.5 313.3h0M151.1 300.1h0M151.6 309.4h0M169.1 293.5h0M138.7 286.1h0M156.1 309.4h0M191.8 296.0h0M153.5 314.1h0M181.4 287.9h0M156.4 311.9h0M154.3 312.6h0M133.9 287.9h0M160.4 309.1h0M153.2 314.7h0M153.5 314.6h0M149.2 305.6h0M159.2 305.8h0M162.4 304.8h0M152.3 310.9h0M183.4 303.6h0M160.3 308.7h0M152.6 311.4h0M154.4 307.5h0M158.0 255.8h0M169.0 256.1h0M156.6 310.8h0M148.2 308.0h0M153.1 314.4h0M147.6 270.5h0M127.7 300.7h0M155.4 313.1h0M145.2 295.3h0M152.7 312.5h0M130.7 280.8h0M164.4 299.5h0M145.3 310.5h0M148.1 303.0h0M152.4 311.5h0M142.8 298.0h0M172.6 305.1h0M157.8 309.9h0M161.4 276.6h0M141.5 299.0h0M159.4 276.1h0M155.4 311.9h0M153.8 310.7h0M155.4 309.8h0M161.6 306.5h0M158.0 298.0h0M164.7 297.4h0M161.7 285.5h0M162.9 280.4h0M153.1 314.7h0M123.1 274.9h0M169.3 256.3h0M131.7 281.0h0M140.4 296.0h0M158.1 299.2h0M155.1 307.3h0M150.2 312.5h0M164.4 290.2h0M137.4 232.5h0M152.0 308.7h0M171.8 291.6h0M165.0 281.4h0M157.5 308.0h0M152.9 314.5h0M152.8 314.5h0M121.5 297.1h0M131.8 277.3h0M148.6 311.5h0M151.4 312.4h0M148.7 311.4h0M156.3 312.4h0M109.5 283.0h0M153.3 314.3h0M155.3 313.0h0M154.8 312.7h0M146.7 309.3h0M154.1 308.0h0M117.4 299.5h0M156.1 293.4h0M136.6 308.4h0M157.4 310.6h0M153.0 314.4h0M152.5 311.8h0M140.7 297.5h0M144.1 303.7h0M142.9 292.1h0M175.9 287.6h0M144.1 304.2h0M163.4 300.5h0M152.9 314.0h0M151.8 313.7h0M153.6 313.6h0M156.2 290.5h0M153.7 313.3h0M150.4 304.2h0M158.8 309.1h0M151.5 304.8h0M123.6 277.7h0M155.0 306.9h0M168.7 302.9h0M150.9 313.0h0M155.4 301.7h0M146.3 307.5h0M152.5 313.8h0M155.8 312.9h0M142.7 307.9h0M112.6 251.6h0M169.7 298.7h0M151.4 311.1h0M144.9 300.6h0M149.8 307.0h0M159.5 299.6h0M165.1 295.9h0M152.7 313.8h0M154.5 312.8h0M150.8 312.6h0M147.5 305.6h0M147.6 298.9h0M154.3 306.2h0M148.9 303.1h0M147.0 303.4h0M151.9 312.9h0M146.7 310.6h0M165.1 283.6h0M156.1 308.2h0M153.4 314.1h0M165.7 303.4h0M143.2 300.5h0M151.0 310.1h0M152.7 313.4h0M150.8 313.0h0M160.8 305.8h0M157.0 307.0h0M142.6 280.6h0M122.9 271.9h0M139.1 300.6h0M158.1 312.5h0M118.1 279.4h0M158.4 310.5h0M158.1 274.2h0M152.1 312.4h0M134.3 306.1h0M160.2 308.5h0M108.6 286.3h0M153.4 314.4h0M182.6 285.5h0M178.4 303.9h0M152.6 313.5h0M154.4 306.3h0M175.3 283.1h0M129.8 271.4h0M159.2 307.6h0M110.0 250.3h0M161.9 310.3h0M155.0 311.7h0M157.5 300.0h0M144.5 303.0h0M154.4 312.0h0M149.5 301.7h0M158.4 304.7h0M146.2 306.5h0M153.4 314.1h0M147.1 306.4h0M136.9 299.5h0M162.7 306.7h0M151.9 313.8h0M154.5 313.6h0M146.2 297.8h0M136.9 305.9h0M153.9 312.6h0M148.4 313.2h0M162.3 300.4h0M136.5 282.5h0M147.2 304.9h0M179.8 265.7h0M157.4 307.3h0M155.0 312.3h0M155.2 313.0h0M145.7 295.9h0M143.7 304.6h0M152.6 310.2h0M173.5 293.3h0M115.5 293.1h0M157.3 313.0h0M148.7 308.8h0M146.9 308.5h0M161.7 305.8h0M149.5 276.1h0M180.2 295.5h0M119.8 267.5h0M158.7 299.0h0M142.7 299.3h0M150.9 313.8h0M151.6 313.7h0M164.4 298.7h0M150.2 299.0h0M145.2 306.0h0M153.2 314.5h0M158.7 304.4h0M161.9 304.6h0M147.5 308.2h0M147.4 308.4h0M166.5 305.8h0M158.0 311.0h0M219.2 267.1h0M155.7 305.3h0M151.1 310.8h0M153.6 314.5h0M145.2 283.6h0M169.3 288.5h0M174.8 300.3h0M164.5 281.1h0M136.7 298.7h0M147.5 302.2h0M146.8 305.6h0M122.6 272.3h0M154.9 309.5h0M157.2 311.8h0M174.1 292.6h0M156.1 307.7h0M148.6 300.4h0M156.0 310.6h0M175.8 304.8h0M153.2 314.8h0M145.2 295.3h0M162.6 303.5h0M161.1 307.8h0M163.7 277.9h0M179.9 301.4h0M119.6 256.8h0M148.8 310.8h0M168.6 296.0h0M159.7 299.9h0M150.8 312.7h0M147.3 303.8h0M136.0 279.2h0M176.4 285.0h0M149.7 302.9h0M161.6 290.7h0M179.6 248.6h0M156.9 309.1h0M186.2 270.7h0M146.1 302.9h0M143.6 280.5h0M153.7 312.7h0M140.9 284.6h0M149.2 308.7h0M158.0 285.7h0M158.8 304.2h0M157.4 300.2h0M160.1 307.0h0M149.1 312.2h0M156.9 310.2h0M151.5 311.6h0M148.6 309.9h0M143.6 306.1h0M157.6 307.9h0M169.0 291.6h0M163.5 279.1h0M151.3 309.9h0M162.6 292.9h0M162.4 302.2h0M162.0 304.4h0M152.8 314.6h0M154.8 313.5h0M153.8 310.3h0M142.3 295.5h0M146.3 301.5h0M156.8 308.9h0M157.3 310.5h0M156.2 310.9h0M149.0 309.7h0M160.5 303.3h0M151.5 313.3h0M156.7 287.4h0M142.0 270.9h0M150.1 312.0h0M151.2 313.2h0M143.6 302.1h0M151.4 312.9h0M132.9 278.0h0M149.2 304.4h0M166.2 301.2h0M145.6 311.9h0M156.4 310.5h0M131.1 290.9h0M124.3 275.5h0M167.6 299.5h0M146.9 306.3h0M166.3 285.2h0M149.4 293.2h0M140.5 290.4h0M159.7 303.1h0M163.0 302.2h0M154.9 303.5h0M159.4 304.6h0M136.5 282.6h0M176.7 281.5h0M148.6 311.0h0M156.4 312.5h0M151.7 312.0h0M153.2 314.8h0M164.1 301.3h0M161.3 299.1h0M152.0 313.4h0M149.1 310.0h0M160.2 304.7h0M146.9 312.8h0M137.6 294.2h0M151.1 310.7h0M163.7 304.1h0M145.4 290.1h0M144.5 294.2h0M155.5 312.4h0M193.9 265.8h0M156.7 304.6h0M154.2 313.4h0M159.4 309.8h0M130.3 284.3h0M164.2 303.7h0M154.7 312.7h0M150.9 311.0h0M147.6 308.7h0M113.7 278.2h0M151.3 312.0h0M149.3 310.7h0M141.9 294.6h0M146.2 260.0h0M148.4 309.1h0M155.0 292.9h0M153.4 314.4h0M144.1 301.2h0M151.9 313.2h0M142.6 305.4h0M155.0 313.0h0M167.2 305.8h0M162.3 279.0h0M127.6 277.9h0M156.6 295.5h0M157.5 307.9h0M158.7 282.3h0M162.6 297.0h0M148.4 308.7h0M144.2 302.9h0M146.6 307.0h0M141.9 280.5h0M160.6 235.8h0M149.0 295.8h0M153.3 314.6h0M155.9 307.9h0M148.2 309.5h0M161.2 290.2h0M152.4 312.4h0M158.1 303.1h0M156.0 313.5h0M152.4 312.1h0M153.1 314.7h0M148.4 298.0h0M154.5 313.4h0M163.0 306.6h0M176.4 283.0h0M153.2 314.6h0M145.1 307.0h0M145.1 303.0h0M156.2 307.2h0M158.3 312.1h0M187.1 295.4h0M144.4 304.1h0M157.9 309.4h0M104.3 289.3h0M149.9 284.4h0M148.8 309.6h0M154.3 311.8h0M166.9 299.6h0M155.1 312.6h0M163.6 275.7h0M123.8 292.3h0M151.3 296.8h0M141.7 297.5h0M160.6 305.2h0M133.8 276.5h0M151.4 303.9h0M145.4 304.9h0M126.5 249.2h0M167.6 284.5h0M171.0 304.6h0M161.5 306.7h0M174.6 281.5h0M149.4 311.4h0M156.4 309.7h0M196.9 284.4h0M139.3 295.2h0M156.5 312.0h0M150.3 307.9h0M147.5 298.1h0M147.7 297.8h0M160.8 292.0h0M164.6 302.9h0M163.4 294.2h0M163.7 283.8h0M144.9 306.1h0M153.5 314.5h0M143.0 301.9h0M146.2 299.5h0M153.3 314.6h0M157.1 303.7h0M157.0 310.4h0M161.8 306.2h0M153.2 314.8h0M172.6 290.4h0M150.7 313.0h0M154.2 311.9h0M142.5 300.9h0M144.3 304.3h0M157.1 288.6h0M142.1 285.9h0M149.3 310.7h0M146.0 298.9h0M154.4 313.6h0M155.0 311.7h0M156.4 311.0h0M161.2 308.0h0M152.4 311.0h0M148.8 309.7h0M158.9 306.2h0M139.3 294.9h0M149.6 305.4h0M155.4 311.6h0M152.5 313.7h0M218.3 276.2h0M147.0 309.8h0M146.4 307.8h0M153.5 314.6h0M154.5 312.1h0M188.2 259.4h0M167.0 293.1h0M157.6 300.5h0M149.9 311.7h0M165.8 270.5h0M165.7 274.9h0M159.9 300.1h0M158.5 300.6h0M152.9 313.5h0M151.4 302.9h0M159.0 306.4h0M169.8 295.3h0M147.6 294.2h0M155.7 307.0h0M174.9 290.5h0M171.8 297.6h0M158.7 295.6h0M155.4 311.3h0M152.2 313.8h0M155.0 311.0h0M148.0 304.7h0M164.4 261.4h0M170.1 282.6h0M149.2 306.4h0M156.4 313.4h0M156.1 311.7h0M158.5 303.5h0M175.6 254.1h0M147.6 311.2h0M158.1 311.8h0M150.4 310.4h0M150.4 313.4h0M156.0 312.6h0M155.8 307.5h0M144.5 305.0h0M153.9 309.6h0M155.7 310.4h0M138.5 294.7h0M154.1 309.1h0M211.0 265.3h0M174.9 276.7h0M159.0 304.4h0M232.6 263.7h0M119.2 259.2h0M145.2 304.3h0M141.6 294.4h0M162.2 290.8h0M167.9 299.9h0M155.4 307.8h0M155.5 313.0h0M143.6 304.0h0M146.9 301.9h0M152.6 313.5h0M183.2 277.6h0M143.5 292.7h0M155.9 312.2h0M165.8 298.3h0M156.2 312.6h0M152.5 312.4h0M156.0 308.0h0M117.0 248.2h0M146.2 309.2h0M174.8 290.1h0M174.7 290.3h0M160.3 203.3h0M142.5 294.4h0M143.0 298.8h0M202.7 267.2h0M142.8 292.0h0M143.6 296.4h0M140.1 290.1h0M163.8 210.3h0M190.8 263.1h0M149.4 288.4h0M151.4 308.9h0M150.7 289.0h0M158.4 309.6h0M174.6 292.2h0M160.4 292.5h0M155.2 304.5h0M153.4 314.6h0M124.0 293.3h0M142.2 308.0h0M152.7 314.6h0M155.5 313.4h0M152.2 313.3h0M171.0 288.9h0M154.2 310.7h0M147.9 305.3h0M152.5 311.5h0M149.2 307.7h0M140.9 290.1h0M151.6 304.0h0M158.6 301.7h0M146.4 303.1h0M132.5 298.8h0M140.1 293.7h0M157.2 288.2h0M162.3 294.9h0M160.8 295.5h0M172.8 270.3h0M151.6 305.4h0M153.4 314.6h0M174.4 297.4h0M144.1 307.0h0M159.6 248.7h0M145.6 303.1h0M156.3 310.4h0M150.6 298.0h0M147.6 295.0h0M133.0 286.2h0M150.0 311.9h0M113.8 270.4h0M159.9 295.4h0M145.6 272.1h0M162.9 286.9h0M155.3 304.6h0M157.6 309.2h0M160.0 272.2h0M155.3 307.1h0M152.2 312.5h0M162.8 311.4h0M163.6 265.7h0M151.0 297.4h0M154.8 312.8h0M181.6 281.2h0M152.1 313.2h0M184.2 300.9h0M155.0 308.0h0M168.2 297.0h0M154.3 309.9h0M158.3 310.2h0M148.1 308.2h0M136.9 303.8h0M149.1 286.1h0M152.8 312.2h0M159.6 298.2h0M148.1 271.5h0M141.6 293.5h0M142.5 300.2h0M149.7 311.6h0M155.8 307.5h0M195.8 293.8h0M175.2 285.2h0M159.1 307.6h0M153.0 314.2h0M124.3 301.5h0M156.7 302.2h0M126.2 292.8h0M148.6 310.2h0M144.0 295.5h0M148.5 310.2h0M153.4 314.6h0M157.7 289.3h0M149.7 309.4h0M153.3 314.1h0M128.7 287.3h0M139.5 284.8h0M170.6 308.9h0M147.7 301.6h0M173.4 278.5h0M159.2 299.8h0M141.2 303.7h0M150.7 311.4h0M153.4 313.8h0M126.1 303.8h0M167.7 294.3h0M146.9 309.8h0M186.7 254.4h0M163.0 304.2h0M152.4 311.9h0M157.6 304.3h0M169.7 297.9h0M156.2 296.9h0M140.7 281.1h0M146.6 306.8h0M132.9 280.2h0M150.5 308.3h0M167.6 297.9h0M160.1 301.8h0M140.0 293.4h0M156.0 295.0h0M152.3 313.2h0M153.6 313.2h0M164.6 301.2h0M170.6 305.3h0M147.6 309.1h0M145.2 308.1h0M151.6 312.6h0M165.2 301.2h0M144.0 300.9h0M152.3 313.5h0M144.9 299.7h0M172.1 307.2h0M152.6 312.7h0M137.5 295.1h0M158.7 294.1h0M164.9 283.9h0M155.4 311.3h0M163.8 308.7h0M178.2 299.2h0M158.8 303.8h0M171.6 293.1h0M138.2 299.4h0M146.2 293.3h0M153.7 312.4h0M144.2 304.5h0M148.3 308.3h0M178.6 263.7h0M151.5 313.3h0M151.5 313.2h0M146.1 307.9h0M177.6 287.8h0M140.1 291.7h0M159.0 298.5h0M144.4 291.7h0M146.6 303.7h0M120.1 277.8h0M159.5 302.7h0M147.6 304.1h0M144.9 302.2h0M157.9 298.4h0M158.2 281.3h0M153.6 314.5h0M153.0 314.5h0M166.5 301.1h0M167.7 301.5h0M143.3 277.3h0M141.8 300.6h0M150.3 312.5h0M113.5 281.3h0M164.1 304.4h0M170.4 297.9h0M110.6 294.0h0M146.8 311.7h0M135.3 294.9h0M151.9 304.1h0M149.2 296.9h0M156.0 306.9h0M161.2 297.6h0M160.6 306.0h0M159.6 308.7h0M125.0 276.2h0M149.0 259.9h0M160.3 295.4h0M178.5 280.6h0M164.8 301.9h0M164.5 288.7h0M150.5 300.1h0M168.1 289.2h0M164.4 302.0h0M141.0 273.8h0M153.0 314.7h0M156.3 311.0h0M166.3 299.2h0M144.3 303.3h0M147.2 228.8h0M138.4 307.3h0M145.5 303.1h0M153.4 314.3h0M148.0 310.6h0M152.0 308.8h0M157.3 313.5h0M155.7 311.9h0M145.4 307.8h0M158.9 275.5h0M152.5 313.6h0M141.1 302.2h0M152.7 311.7h0M141.0 297.2h0M153.0 314.6h0M148.2 309.8h0M175.4 287.4h0M144.3 306.3h0M114.2 253.3h0M158.2 312.7h0M157.6 300.8h0M173.5 303.4h0M163.5 305.1h0M165.7 292.8h0M135.8 279.0h0M172.7 263.8h0M184.3 255.2h0M144.5 300.6h0M145.8 301.8h0M153.2 314.8h0M157.7 305.9h0M156.3 303.9h0M180.0 300.8h0M152.6 314.4h0M148.6 297.0h0M141.0 301.7h0M154.3 313.5h0M169.4 275.9h0M180.8 269.8h0M155.5 311.9h0M152.8 314.1h0M154.7 313.8h0M185.3 251.2h0M195.8 289.4h0M143.8 287.5h0M153.9 311.3h0M155.5 312.6h0M132.3 292.1h0M163.6 303.1h0M144.6 307.6h0M158.6 270.6h0M152.9 314.5h0M152.8 313.5h0M147.9 308.4h0M154.9 311.2h0M149.6 312.0h0M152.8 312.8h0M154.8 312.6h0M112.8 281.9h0M160.7 304.4h0M128.8 292.7h0M150.7 312.7h0M124.2 285.3h0M152.8 314.0h0M139.4 292.0h0M169.4 294.6h0M178.0 283.3h0M157.3 306.9h0M154.5 312.0h0M150.6 311.7h0M125.2 279.8h0M138.6 286.3h0M130.9 281.5h0M163.7 286.6h0M152.4 313.3h0M165.8 297.2h0M132.5 303.3h0M164.4 296.5h0M170.6 292.7h0M141.5 294.9h0M127.5 281.0h0M152.0 312.9h0M124.8 279.3h0M159.4 304.6h0M185.3 299.2h0M155.4 313.1h0M135.3 294.7h0M161.5 306.4h0M155.9 311.9h0M155.4 311.1h0M159.1 307.6h0M143.7 305.3h0M156.2 309.9h0M158.0 309.6h0M154.0 313.4h0M151.7 309.5h0M146.5 296.6h0M149.5 308.9h0M181.8 292.9h0M175.3 278.8h0M160.7 274.2h0M154.7 313.5h0M154.2 313.4h0M141.8 302.7h0M159.6 309.5h0M154.7 313.4h0M145.8 308.7h0M164.8 296.2h0M148.9 311.2h0M146.5 311.7h0M150.9 294.8h0M144.4 304.3h0M131.9 304.0h0M149.3 301.1h0M166.0 296.1h0M145.4 283.5h0M137.3 281.0h0M159.4 297.9h0M152.1 313.9h0M150.6 312.5h0M150.8 312.3h0M183.9 302.8h0M141.1 297.3h0M186.6 302.6h0M150.8 310.5h0M152.9 313.6h0M161.5 297.1h0M160.0 307.3h0M146.8 297.5h0M162.5 304.9h0M147.5 289.3h0M151.8 311.7h0M157.7 301.8h0M151.2 302.0h0M171.5 290.8h0M144.2 275.2h0M145.3 295.6h0M165.1 304.3h0M154.2 311.6h0M164.0 291.6h0M154.9 313.5h0M133.9 291.9h0M161.2 291.3h0M154.4 314.3h0M155.4 313.2h0M135.8 291.7h0M148.1 309.1h0M172.8 300.1h0M144.1 301.8h0M138.1 303.5h0M152.1 313.3h0M145.8 304.4h0M149.3 308.6h0M152.9 314.5h0M157.7 310.0h0M163.1 308.6h0M152.3 314.4h0M150.9 309.6h0M161.2 289.5h0M144.9 303.9h0M172.4 290.4h0M148.9 305.4h0M157.6 304.9h0M152.2 310.5h0M161.7 293.2h0M151.4 313.4h0M162.0 302.1h0M147.4 283.5h0M148.6 301.4h0M150.7 297.8h0M150.8 290.9h0M172.6 277.8h0M145.3 311.6h0M158.1 297.6h0M152.3 311.5h0M151.5 308.2h0M151.9 311.0h0M168.3 306.1h0M171.2 307.2h0M147.9 309.4h0M164.5 309.6h0M138.5 293.4h0M147.8 312.7h0M149.6 307.2h0M149.5 309.2h0M158.8 285.8h0M154.2 309.0h0M160.1 307.8h0M162.3 296.6h0M152.7 313.3h0M158.1 312.9h0M171.8 291.2h0M164.5 310.4h0M140.2 299.2h0M192.1 285.7h0M158.0 310.8h0M155.8 312.8h0M115.9 286.0h0M151.7 304.4h0M146.1 309.1h0M153.1 314.5h0M144.8 273.2h0M153.3 314.5h0M153.9 311.2h0M172.6 284.7h0M148.8 310.4h0M152.2 312.3h0M136.8 293.0h0M140.3 298.6h0M151.4 309.8h0M155.3 309.0h0M144.7 310.0h0M166.3 297.7h0M151.5 303.1h0M137.2 307.6h0M164.7 294.2h0M126.4 277.9h0M152.9 314.6h0M152.1 311.3h0M150.4 311.2h0M173.0 304.8h0M159.2 310.8h0M151.1 308.4h0M147.9 302.9h0M132.1 301.6h0M151.1 311.0h0M145.1 303.1h0M141.8 299.8h0M154.7 313.6h0M156.5 311.3h0M151.0 312.8h0M149.0 287.4h0M151.4 311.4h0M184.3 299.2h0M150.6 308.0h0M159.1 307.2h0M169.4 281.1h0M164.9 276.5h0M127.2 284.2h0M155.5 312.1h0M126.3 281.2h0M161.2 307.1h0M148.2 310.5h0M151.2 309.0h0M158.3 290.7h0M163.7 301.8h0M160.9 302.3h0M153.8 312.9h0M151.1 311.4h0M159.4 309.8h0M151.7 308.8h0M157.0 309.6h0M151.3 313.4h0M142.9 306.0h0M160.9 295.3h0M143.8 301.5h0M153.3 314.6h0M171.1 279.9h0M161.8 304.4h0" stroke="#8a8a8a" stroke-opacity="0.28" stroke-width="2.8" stroke-linecap="round" fill="none"/>
<path d="M167.5 301.6h0M154.0 314.1h0M160.5 308.8h0M151.6 314.0h0M148.0 305.3h0M152.0 314.0h0M152.8 313.5h0M149.2 278.6h0M160.6 306.0h0M166.3 300.2h0M150.8 302.2h0M156.4 297.9h0M158.5 309.7h0M123.9 277.3h0M160.0 287.2h0M142.8 294.9h0M170.3 291.6h0M140.3 308.8h0M118.6 263.1h0M157.3 306.5h0M154.8 310.7h0M153.9 309.6h0M156.4 261.3h0M167.8 256.8h0M121.4 298.2h0M142.7 292.9h0M150.7 313.3h0M154.7 313.7h0M123.8 285.6h0M156.3 310.6h0M153.9 312.0h0M151.0 308.9h0M156.4 295.6h0M163.3 301.9h0M153.6 314.5h0M155.6 310.6h0M155.0 306.9h0M147.2 305.1h0M169.1 292.1h0M145.6 307.5h0M140.9 284.1h0M158.1 303.2h0M142.2 305.7h0M149.0 311.6h0M157.6 306.2h0M156.9 312.2h0M152.0 312.5h0M152.8 314.4h0M136.9 293.5h0M206.1 284.0h0M147.7 303.7h0M129.7 277.4h0M150.0 311.5h0M150.3 294.5h0M136.7 301.2h0M136.7 262.6h0M157.7 311.1h0M167.0 307.4h0M117.9 291.3h0M168.3 299.1h0M156.7 312.2h0M151.9 306.7h0M171.4 294.0h0M162.0 306.6h0M161.0 300.8h0M152.5 314.2h0M134.5 308.1h0M157.7 290.7h0M143.7 304.8h0M64.5 252.9h0M159.0 302.2h0M147.1 291.4h0M153.2 314.8h0M145.9 297.1h0M159.7 304.2h0M161.5 303.8h0M148.6 311.2h0M145.2 305.4h0M155.9 306.8h0M155.5 298.6h0M149.3 293.0h0M166.2 294.5h0M162.8 305.0h0M156.2 309.3h0M161.7 279.3h0M146.9 301.5h0M150.6 297.1h0M155.2 310.7h0M159.0 310.3h0M147.7 255.2h0M150.6 311.1h0M176.9 267.7h0M143.4 292.3h0M140.3 292.5h0M132.9 280.5h0M155.4 290.5h0M167.3 255.7h0M150.4 306.7h0M122.8 273.6h0M156.8 312.0h0M181.9 280.6h0M161.0 306.5h0M142.1 301.0h0M165.7 300.3h0M154.9 313.6h0M154.8 310.3h0M148.6 294.2h0M153.3 314.5h0M154.4 314.4h0M156.3 310.6h0M173.2 293.3h0M145.1 298.2h0M136.4 289.4h0M145.8 310.9h0M147.0 304.9h0M148.0 298.9h0M140.2 273.6h0M158.0 302.7h0M132.7 306.6h0M166.1 292.0h0M121.2 265.1h0M156.3 297.5h0M145.9 308.2h0M160.5 289.4h0M167.7 287.1h0M154.5 313.3h0M155.3 313.4h0M164.7 286.6h0M160.1 288.8h0M156.3 310.5h0M158.6 307.2h0M152.5 313.7h0M153.7 313.9h0M146.3 308.4h0M162.0 305.9h0M158.3 294.6h0M149.6 300.2h0M138.4 282.9h0M151.1 312.0h0M151.7 307.1h0M184.0 265.2h0M154.9 308.8h0M167.4 291.6h0M166.5 289.9h0M119.5 303.2h0M160.9 309.1h0M152.3 310.9h0M149.7 309.7h0M149.8 305.5h0M159.8 301.3h0M161.1 294.1h0M162.7 308.9h0M150.4 300.7h0M151.7 305.8h0M153.9 314.3h0M156.1 312.3h0M166.4 279.7h0M139.3 291.6h0M148.3 296.6h0M153.9 314.4h0M141.6 297.8h0M154.5 313.9h0M193.6 286.3h0M155.2 311.9h0M148.9 308.0h0M173.5 282.7h0M144.3 307.3h0M151.9 307.0h0M132.9 285.6h0M149.2 309.4h0M171.9 271.2h0M153.0 314.2h0M150.8 290.7h0M125.7 254.8h0M158.9 299.5h0M162.5 301.6h0M151.9 308.7h0M153.1 314.5h0M140.5 307.2h0M152.6 314.4h0M174.1 290.3h0M146.1 306.8h0M186.7 270.9h0M145.4 303.2h0M151.1 313.0h0M156.7 309.4h0M167.7 298.4h0M149.4 295.1h0M157.3 310.3h0M140.3 307.7h0M150.1 311.8h0M151.0 308.5h0M133.5 303.9h0M193.2 257.3h0M179.5 302.4h0M151.7 308.6h0M150.0 310.2h0M152.9 314.5h0M149.7 306.3h0M150.1 258.9h0M151.7 306.4h0M144.2 303.9h0M147.8 292.6h0M153.7 312.4h0M140.0 276.4h0M157.0 305.1h0M148.9 300.8h0M138.2 303.5h0M152.8 313.6h0M168.1 271.1h0M155.8 312.5h0M157.7 310.6h0M159.6 304.6h0M126.2 275.9h0M158.0 310.5h0M140.8 300.0h0M165.4 297.8h0M154.2 312.1h0M152.9 314.6h0M151.6 307.4h0M155.2 296.9h0M157.6 311.4h0M154.8 311.3h0M125.1 277.3h0M183.6 270.5h0M163.8 300.4h0M158.6 306.4h0M156.3 308.0h0M159.4 309.1h0M151.5 310.9h0M126.1 282.1h0M152.6 314.1h0M150.3 312.6h0M152.3 314.1h0M142.4 300.0h0M156.8 311.3h0M152.1 314.4h0M144.5 311.2h0M151.1 313.3h0M187.8 285.2h0M153.5 314.1h0M133.9 286.3h0M138.6 297.8h0M170.3 305.5h0M142.3 292.9h0M153.3 314.8h0M156.2 306.5h0M151.2 306.5h0M167.2 295.3h0M163.8 304.2h0M167.9 296.6h0M179.5 285.7h0M133.2 265.2h0M147.3 299.5h0M153.8 308.7h0M156.2 309.3h0M135.5 286.8h0M150.0 283.3h0M155.9 305.2h0M121.3 300.6h0M163.5 303.2h0M152.2 311.6h0M145.1 293.6h0M147.9 294.8h0M150.0 310.5h0M151.2 308.8h0M170.1 294.8h0M165.7 309.9h0M135.3 277.3h0M180.5 295.1h0M145.1 309.3h0M142.2 304.2h0M150.2 310.4h0M143.6 307.6h0M142.6 306.9h0M170.9 296.7h0M140.8 304.2h0M160.1 299.1h0M164.3 300.0h0M152.5 310.4h0M159.7 308.0h0M165.3 307.5h0M156.8 289.2h0M167.0 292.3h0M152.8 314.5h0M121.8 292.1h0M124.5 271.4h0M156.3 309.1h0M143.9 292.5h0M153.8 314.0h0M145.3 306.4h0M158.6 271.3h0M168.7 298.9h0M161.2 278.0h0M162.7 298.7h0M156.0 307.2h0M163.6 310.4h0M157.7 286.6h0M153.1 314.7h0M135.3 298.6h0M162.4 305.6h0M158.1 300.4h0M158.5 310.0h0M166.5 301.1h0M149.4 302.4h0M144.7 303.4h0M159.0 303.8h0M161.9 302.7h0M156.9 302.2h0M159.7 308.8h0M158.9 302.6h0M159.9 298.0h0M151.1 313.3h0M155.3 312.1h0M152.1 313.4h0M158.1 310.9h0M149.6 307.1h0M150.9 309.0h0M152.3 313.8h0M163.0 159.3h0M147.9 310.5h0M152.7 313.6h0M144.1 307.3h0M152.6 312.1h0M145.7 308.4h0M190.7 292.6h0M156.8 308.6h0M153.9 310.8h0M151.0 307.4h0M153.3 314.3h0M146.1 308.9h0M150.7 305.1h0M146.3 307.3h0M159.0 305.3h0M148.3 309.5h0M154.5 313.3h0M160.2 302.5h0M153.6 314.1h0M148.9 312.9h0M151.7 312.0h0M154.1 308.2h0M183.1 292.3h0M148.3 307.4h0M151.6 313.4h0M153.6 314.1h0M150.3 312.2h0M121.9 270.8h0M154.3 313.8h0M147.0 309.3h0M146.5 300.1h0M153.3 314.0h0M151.7 304.6h0M124.4 300.2h0M108.6 252.6h0M156.3 293.1h0M184.9 296.2h0M150.0 311.9h0M141.5 301.8h0M160.1 308.3h0M149.9 302.7h0M150.1 309.7h0M145.5 309.5h0M158.1 289.0h0M147.9 298.5h0M150.2 309.7h0M155.6 289.8h0M154.1 311.9h0M148.5 309.6h0M172.8 294.9h0M142.5 300.8h0M142.6 266.8h0M151.6 311.9h0M164.5 302.8h0M146.1 303.5h0M150.0 296.9h0M152.5 313.8h0M166.1 296.6h0M151.5 312.8h0M136.1 276.0h0M160.9 304.3h0M147.7 310.5h0M156.1 309.3h0M146.7 284.5h0M150.0 304.3h0M156.2 308.4h0M143.3 303.7h0M150.1 312.0h0M156.8 304.5h0M157.8 311.3h0M152.1 307.8h0M155.9 300.6h0M160.1 299.9h0M161.0 290.4h0M150.2 290.6h0M149.9 311.4h0M162.2 302.4h0M157.0 303.3h0M158.9 309.5h0M156.8 303.8h0M167.8 287.5h0M158.9 306.0h0M150.2 312.2h0M140.4 302.1h0M166.1 308.4h0M162.8 302.7h0M145.7 303.3h0M150.3 312.2h0M145.3 303.1h0M140.8 287.4h0M169.8 294.6h0M162.1 306.1h0M147.1 287.3h0M154.0 313.5h0M149.8 307.4h0M157.1 311.0h0M142.7 304.6h0M166.3 293.1h0M163.8 300.2h0M151.3 308.5h0M195.8 266.2h0M150.1 311.7h0M148.7 310.9h0M157.3 311.0h0M149.8 304.6h0M171.1 303.9h0M146.4 304.5h0M145.4 308.5h0M161.9 305.3h0M144.6 306.1h0M157.5 309.2h0M157.5 311.5h0M147.9 309.3h0M154.3 313.9h0M142.7 289.5h0M158.6 302.2h0M153.7 314.1h0M153.1 314.4h0M142.9 306.1h0M153.0 314.1h0M151.7 310.9h0M174.3 296.5h0M138.4 292.4h0M140.7 299.1h0M128.2 285.7h0M164.3 305.2h0M148.4 307.7h0M136.0 268.4h0M162.6 290.3h0M148.0 304.5h0M158.1 306.0h0M139.9 272.1h0M162.9 305.6h0M142.7 203.8h0M166.4 297.3h0M178.4 298.8h0M146.5 295.8h0M145.0 307.6h0M151.6 313.5h0M172.4 303.8h0M152.8 314.5h0M182.8 280.5h0M144.6 311.1h0M153.9 314.2h0M158.1 276.0h0M151.0 312.5h0M186.1 286.1h0M148.7 309.8h0M163.6 291.2h0M158.0 310.9h0M149.3 312.3h0M136.6 302.0h0M155.6 310.3h0M157.4 311.3h0M143.4 306.2h0M167.8 298.0h0M151.0 306.7h0M153.7 311.4h0M162.2 296.6h0M146.1 305.5h0M154.6 311.0h0M155.5 309.9h0M147.4 308.0h0M161.6 305.0h0M165.9 291.9h0M164.2 265.1h0M161.7 305.1h0M147.5 294.6h0M176.5 283.8h0M148.1 310.1h0M156.7 298.0h0M145.6 293.8h0M147.8 307.7h0M152.5 311.6h0M154.1 312.8h0M148.3 306.0h0M145.2 291.0h0M165.9 299.8h0M147.8 309.0h0M151.1 312.9h0M168.5 299.5h0M155.7 312.9h0M167.6 309.1h0M150.1 310.1h0M170.9 296.9h0M163.0 306.4h0M152.8 313.8h0M136.0 282.6h0M156.9 289.4h0M156.3 310.7h0M153.6 313.5h0M133.4 304.1h0M148.6 307.5h0M148.6 311.1h0M141.1 302.7h0M162.6 302.6h0M131.1 267.7h0M160.0 303.1h0M157.8 308.5h0M140.5 302.4h0M154.6 313.4h0M168.5 297.2h0M152.4 313.1h0M145.7 306.0h0M146.2 310.7h0M152.3 309.5h0M147.1 309.4h0M162.3 306.1h0M134.6 264.0h0M173.2 292.1h0M147.9 309.4h0M149.1 302.4h0M157.4 297.1h0M157.7 309.2h0M150.3 299.6h0M153.4 314.3h0M151.5 312.8h0M170.1 300.5h0M158.4 301.3h0M157.2 301.5h0M152.0 309.7h0M153.2 314.7h0M150.6 310.7h0M159.6 303.0h0M153.6 314.5h0M134.7 294.6h0M165.5 303.6h0M153.4 314.7h0M143.2 305.3h0M173.3 302.9h0M162.0 305.6h0M144.0 305.6h0M145.9 307.9h0M149.6 285.1h0M158.5 309.2h0M154.0 312.3h0M165.0 290.7h0M153.6 314.6h0M127.6 281.6h0M149.3 310.3h0M155.4 311.1h0M162.0 304.2h0M151.1 311.4h0M152.5 313.9h0M147.8 295.8h0M156.7 305.6h0M160.3 304.1h0M156.3 308.5h0M147.4 308.9h0M136.3 283.9h0M156.9 309.1h0M150.5 285.0h0M139.6 295.5h0M177.6 292.0h0M159.6 303.6h0M135.1 307.1h0M168.2 298.0h0M152.7 314.1h0M163.9 295.4h0M153.3 314.1h0M156.4 311.3h0M158.4 301.8h0M148.0 310.3h0M148.9 313.4h0M157.0 310.9h0M147.9 305.8h0M149.2 274.8h0M139.7 301.9h0M142.7 303.5h0M181.2 281.4h0M165.0 289.4h0M163.0 292.9h0M148.0 259.9h0M157.9 303.9h0M155.6 301.9h0M158.2 309.9h0M165.7 302.5h0M138.7 298.8h0M152.4 313.5h0M153.7 313.0h0M160.0 300.9h0M154.9 312.6h0M117.6 256.9h0M151.2 310.4h0M153.7 312.1h0M152.9 314.2h0M151.6 313.5h0M166.7 300.8h0M145.1 296.4h0M158.7 308.7h0M153.8 313.8h0M157.1 313.5h0M151.5 313.2h0M147.3 306.1h0M164.0 298.5h0M168.2 309.3h0M153.7 312.6h0M156.3 304.8h0M163.5 306.5h0M155.1 297.9h0M148.1 309.8h0M145.9 307.1h0M148.6 309.4h0M141.1 291.7h0M138.4 306.7h0M159.6 304.5h0M135.3 295.4h0M156.5 301.2h0M156.7 311.9h0M152.4 311.1h0M140.8 289.8h0M170.1 295.3h0M162.6 297.9h0M140.0 300.9h0M140.8 298.9h0M153.2 314.8h0M151.5 314.0h0M149.7 311.9h0M154.2 313.9h0M154.1 314.2h0M168.3 309.9h0M152.6 312.1h0M149.9 311.6h0M156.5 304.5h0M148.9 298.0h0M151.1 313.1h0M151.3 311.3h0M165.9 291.7h0M157.4 311.5h0M135.3 299.7h0M160.2 306.6h0M154.0 312.2h0M153.4 313.9h0M141.1 299.6h0M158.4 306.6h0M175.7 287.0h0M151.7 310.2h0M138.3 297.0h0M163.3 307.4h0M156.7 310.5h0M159.8 308.3h0M142.9 299.3h0M144.9 308.5h0M164.7 293.7h0M160.7 308.4h0M123.4 282.5h0M159.6 309.3h0M135.7 293.9h0M165.2 290.8h0M142.9 305.3h0M200.5 273.9h0M152.4 313.5h0M145.2 227.3h0M151.7 313.7h0M155.0 306.2h0M124.1 273.3h0M156.9 309.9h0M160.4 305.8h0M167.4 279.1h0M153.2 314.7h0M132.1 279.7h0M143.7 306.0h0M132.0 298.2h0M151.1 306.7h0M162.1 307.1h0M149.5 311.4h0M166.5 162.1h0M155.0 312.2h0M152.4 314.2h0M143.1 304.7h0M149.5 312.4h0M130.7 290.0h0M155.2 308.3h0M162.9 303.9h0M156.8 313.3h0M117.1 263.7h0M148.0 303.6h0M155.7 313.3h0M153.0 314.1h0M150.4 310.9h0M141.3 303.4h0M154.4 309.9h0M159.8 303.8h0M157.2 308.7h0M176.0 291.4h0M136.4 293.1h0M147.2 290.3h0M149.2 293.0h0M144.4 309.4h0M154.9 306.5h0M148.8 311.6h0M208.9 274.3h0M163.8 304.4h0M163.9 298.2h0M176.3 300.3h0M165.6 294.5h0M139.8 298.0h0M161.2 308.6h0M160.8 290.5h0M155.9 304.0h0M192.7 248.3h0M157.1 300.4h0M169.9 293.2h0M167.9 307.7h0M152.0 310.7h0M136.4 302.5h0M151.7 313.5h0M151.4 312.7h0M139.4 300.3h0M138.8 303.1h0M154.2 308.8h0M150.1 308.7h0M174.4 286.0h0M149.3 311.8h0M155.9 308.4h0M149.6 298.5h0M150.2 295.8h0M137.8 277.6h0M136.6 290.3h0M145.7 307.8h0M156.9 310.8h0M157.1 269.2h0M140.4 302.0h0M157.8 311.1h0M150.2 312.5h0M155.5 312.7h0M171.9 293.5h0M152.1 312.7h0M134.6 290.9h0M157.2 280.4h0M166.8 309.8h0M163.8 309.4h0M154.1 314.0h0M143.5 281.6h0M151.0 311.0h0M162.7 271.7h0M117.5 258.1h0M140.0 288.0h0M165.0 304.2h0M141.9 304.9h0M156.9 311.0h0M151.4 311.6h0M153.1 314.7h0M171.6 301.7h0M160.4 308.9h0M139.0 307.3h0M140.1 301.2h0M154.3 307.3h0M149.3 297.4h0M154.2 312.7h0M154.2 314.4h0M139.1 293.4h0M135.7 295.8h0M144.7 296.4h0M158.1 309.3h0M151.6 306.9h0M132.1 302.3h0M195.7 291.9h0M147.4 310.3h0M164.7 293.1h0M178.0 296.6h0M129.8 289.1h0M159.4 309.6h0M155.2 311.6h0M148.2 310.4h0M154.4 313.8h0M152.5 314.3h0M158.2 310.6h0M151.5 303.6h0M151.5 309.0h0M156.2 311.5h0M165.1 280.6h0M151.7 313.2h0M161.5 290.8h0M148.9 290.7h0M151.3 313.3h0M148.2 308.5h0M159.9 304.8h0M145.8 310.6h0M149.7 310.9h0M155.2 307.6h0M197.1 295.1h0M162.7 292.4h0M159.7 289.6h0M149.3 311.3h0M154.6 306.3h0M145.0 288.1h0M165.2 309.0h0M175.8 267.5h0M149.0 293.2h0M164.5 304.5h0M151.3 312.6h0M145.3 301.5h0M170.3 300.5h0M178.8 285.7h0M161.9 309.0h0M159.9 277.5h0M148.9 311.3h0M129.6 276.1h0M156.7 312.5h0M142.6 308.8h0M145.7 311.8h0M145.5 288.5h0M159.0 308.1h0M148.9 293.1h0M147.0 308.6h0M150.9 312.3h0M146.3 308.6h0M164.5 293.4h0M155.9 312.8h0M164.0 300.6h0M142.1 299.3h0M168.9 298.9h0M156.9 307.7h0M154.2 312.2h0M156.8 312.1h0M141.1 300.9h0M134.7 285.1h0M155.5 304.6h0M152.9 314.2h0M125.6 262.7h0M155.6 292.1h0M127.3 303.3h0M146.3 306.8h0M158.3 284.2h0M149.6 311.0h0M149.6 293.0h0M157.8 311.0h0M143.1 240.4h0M151.8 311.7h0M162.5 302.2h0M155.5 308.1h0M170.6 262.2h0M154.2 313.2h0M147.5 310.1h0M152.5 313.0h0M148.9 311.1h0M185.9 288.0h0M155.2 312.2h0M140.4 272.1h0M153.1 314.5h0M143.9 287.4h0M152.8 314.1h0M166.0 219.5h0M156.0 312.4h0M153.4 314.3h0M156.0 311.3h0M177.1 278.4h0M146.9 308.9h0M169.9 301.6h0M147.9 271.8h0M151.4 304.9h0M131.9 287.2h0M149.6 293.0h0M147.5 288.2h0M123.7 275.1h0M157.2 311.4h0M160.8 302.4h0M154.4 313.5h0M148.2 303.6h0M165.5 293.7h0M142.4 305.1h0M141.6 290.5h0M152.8 314.4h0M153.2 314.8h0M147.9 309.7h0M133.9 293.4h0M194.4 293.3h0M194.0 288.2h0M162.7 298.0h0M138.4 289.6h0M147.4 306.2h0M148.4 310.9h0M157.0 308.8h0M153.1 314.8h0M182.7 272.8h0M167.6 295.9h0M152.5 309.8h0M155.8 302.4h0M165.3 277.4h0M155.8 306.9h0M147.9 305.0h0M144.0 302.3h0M139.4 297.9h0M155.3 312.1h0M137.1 266.4h0M151.6 304.2h0M150.4 311.9h0M155.6 312.4h0M150.2 311.2h0M157.2 291.9h0M185.2 280.4h0M138.8 305.7h0M163.8 296.0h0M145.1 301.4h0M152.6 314.2h0M160.9 298.3h0M154.3 311.2h0M159.7 293.5h0M157.7 308.4h0M162.4 293.8h0M154.5 313.1h0M164.2 298.1h0M136.7 273.3h0M181.3 279.1h0M125.0 289.2h0M141.5 308.8h0M132.2 294.8h0M152.6 312.3h0M160.5 305.9h0M160.2 308.6h0M126.1 282.7h0M161.5 310.4h0M155.6 297.7h0M149.5 313.4h0M162.8 300.1h0M160.6 301.9h0M145.4 304.6h0M152.8 313.9h0M165.7 295.4h0M171.6 293.9h0M151.5 304.6h0M148.2 309.9h0M138.5 304.6h0M156.0 306.0h0M148.5 303.3h0M129.1 291.2h0M151.2 312.8h0M138.1 297.5h0M151.4 309.4h0M145.2 301.4h0M136.6 272.4h0M153.5 314.3h0M177.6 296.9h0M147.1 310.7h0M151.5 311.7h0M154.8 304.8h0M164.8 272.1h0M189.7 296.2h0M148.4 309.3h0M164.3 279.1h0M168.5 296.4h0M165.4 304.3h0M165.4 297.9h0M150.8 313.7h0M99.3 271.6h0M151.9 306.1h0M173.8 288.4h0M150.5 290.2h0M163.6 289.2h0M164.4 276.0h0M130.1 289.8h0M124.5 299.7h0M152.5 313.7h0M150.7 311.7h0M162.2 306.5h0M154.3 313.3h0M131.0 283.5h0M158.7 307.2h0M112.6 283.9h0M150.6 312.7h0M135.9 289.0h0M171.2 296.0h0M170.1 308.9h0M148.7 308.5h0M154.5 306.4h0M156.7 291.4h0M119.1 294.2h0M171.1 292.2h0M158.6 288.8h0M150.2 303.9h0M131.6 292.0h0M142.1 301.9h0M139.9 299.4h0M125.4 258.7h0M160.8 306.6h0M147.8 288.8h0M150.7 312.7h0M165.1 285.7h0M145.4 304.5h0M174.3 290.7h0M99.8 285.8h0M138.0 296.0h0M154.4 309.4h0M157.0 311.7h0M155.0 312.1h0M144.6 305.6h0M150.6 312.5h0M138.6 255.5h0M159.9 297.2h0M137.4 290.0h0M155.1 313.4h0M153.0 314.6h0M157.0 305.0h0M167.1 292.4h0M157.4 311.2h0M131.8 285.0h0M136.7 297.5h0M151.5 313.6h0M147.8 306.0h0M166.8 298.0h0M150.7 310.0h0M174.8 302.6h0M159.3 308.6h0M108.7 280.3h0M150.8 310.6h0M153.5 314.6h0M151.6 304.7h0M142.9 305.7h0M161.9 294.6h0M158.2 295.2h0M175.0 304.6h0M133.3 278.9h0M139.7 301.3h0M167.8 290.6h0M136.8 289.5h0M128.6 273.3h0M154.6 313.6h0M156.2 310.9h0M154.0 313.2h0M168.0 290.3h0M148.8 304.0h0M156.0 295.6h0M189.8 292.7h0M134.4 281.2h0M147.6 309.8h0M151.8 313.4h0M149.1 304.8h0M166.3 292.4h0M157.3 306.4h0M154.4 313.6h0M157.3 310.1h0M149.3 303.5h0M136.6 296.7h0M165.6 298.2h0M166.0 245.5h0M157.0 261.9h0M145.1 280.4h0M154.4 313.2h0M156.4 292.6h0M132.6 288.6h0M165.0 302.2h0M154.2 312.5h0M168.8 292.2h0M157.4 308.4h0M146.8 282.0h0M160.9 306.7h0M149.4 298.6h0M156.3 295.6h0M153.4 314.5h0M149.5 310.4h0M161.2 305.6h0M146.2 304.2h0M158.6 301.7h0M125.1 257.9h0M128.6 287.5h0M76.1 268.7h0M148.1 310.3h0M149.0 310.8h0M145.7 301.2h0M167.9 303.2h0M154.2 313.3h0M152.0 305.4h0M147.0 300.1h0M153.0 314.7h0M167.8 275.4h0M154.9 310.3h0M130.4 281.8h0M150.9 312.5h0M149.9 309.5h0M170.8 295.8h0M141.3 308.5h0M151.1 311.8h0M172.3 283.9h0M177.9 286.4h0M155.2 313.1h0M132.1 277.0h0M157.9 305.3h0M140.9 310.9h0M144.9 307.3h0M140.7 301.0h0M158.2 310.1h0M152.1 314.0h0M158.5 305.3h0M145.4 298.4h0M152.3 312.7h0M170.2 272.9h0M171.3 308.3h0M142.0 288.9h0M171.6 292.1h0M138.4 280.9h0M151.6 312.8h0M151.9 314.2h0M163.4 287.7h0M164.2 303.8h0M147.4 306.8h0M143.8 301.6h0M152.5 311.4h0M133.9 282.9h0M113.4 292.9h0M163.1 292.3h0M165.2 303.1h0M145.8 296.7h0M147.5 305.4h0M143.4 303.9h0M156.4 306.6h0M153.7 314.0h0M156.1 313.4h0M141.4 303.6h0M157.5 305.9h0M150.2 309.0h0M169.1 297.4h0M151.7 311.8h0M163.4 300.9h0M158.0 308.0h0M148.4 307.2h0M140.3 302.3h0M150.3 293.0h0M142.9 303.8h0M153.3 314.4h0M162.9 293.2h0M155.9 313.3h0M146.8 307.7h0M153.8 310.8h0M146.5 285.9h0M135.1 291.9h0" stroke="#8a8a8a" stroke-opacity="0.28" stroke-width="2.8" stroke-linecap="round" fill="none"/>
<path d="M131.5 296.8h0M143.6 310.6h0M144.3 280.3h0M148.4 304.2h0M153.5 314.4h0M137.6 295.7h0M159.3 307.5h0M149.4 275.9h0M161.2 307.5h0M154.4 309.6h0M179.3 284.8h0M151.9 308.3h0M157.1 308.3h0M155.0 303.9h0M144.4 306.5h0M126.7 299.5h0M162.2 287.3h0M147.9 308.8h0M135.5 296.5h0M104.8 279.0h0M158.1 310.1h0M127.6 287.9h0M156.0 311.8h0M159.7 301.4h0M144.5 308.9h0M149.5 312.0h0M156.4 310.7h0M138.4 291.3h0M152.7 312.9h0M142.5 303.8h0M152.0 304.9h0M126.9 256.0h0M176.4 284.8h0M153.1 314.5h0M161.1 307.4h0M140.5 282.6h0M150.9 312.1h0M108.7 291.7h0M151.2 313.0h0M160.6 271.1h0M156.1 302.9h0M159.2 306.7h0M145.0 294.9h0M152.8 314.4h0M164.4 301.1h0M145.9 308.8h0M158.8 287.3h0M146.4 308.1h0M157.0 308.6h0M157.3 310.9h0M164.9 288.9h0M153.2 314.7h0M155.4 312.2h0M156.2 306.6h0M143.5 308.5h0M150.7 312.0h0M147.7 302.7h0M164.0 292.0h0M155.4 309.4h0M150.7 305.7h0M144.4 297.0h0M150.9 301.7h0M142.5 301.8h0M177.1 276.9h0M168.4 300.1h0M161.8 301.2h0M162.1 305.3h0M152.3 314.1h0M158.5 309.3h0M170.0 299.9h0M166.4 302.5h0M175.4 277.5h0M178.5 269.7h0M177.9 279.1h0M134.5 290.8h0M157.8 313.1h0M187.8 290.8h0M145.4 307.0h0M161.1 302.2h0M149.5 311.9h0M160.9 299.3h0M165.7 306.4h0M140.9 308.1h0M164.9 295.2h0M161.8 308.5h0M141.8 301.6h0M99.4 277.9h0M129.0 283.5h0M145.3 305.1h0M157.0 304.4h0M151.1 308.2h0M173.5 293.7h0M161.5 279.0h0M153.1 314.4h0M161.3 305.9h0M162.9 309.3h0M132.7 287.2h0M147.0 305.4h0M148.0 302.2h0M149.4 299.0h0M153.9 312.3h0M143.6 306.0h0M164.3 301.8h0M151.0 295.3h0M168.8 294.0h0M150.0 297.8h0M155.3 312.6h0M157.2 309.7h0M155.1 311.1h0M147.6 313.0h0M127.8 283.1h0M157.8 308.0h0M170.0 293.6h0M156.4 312.2h0M142.1 298.0h0M144.4 306.0h0M153.9 313.5h0M158.0 304.4h0M154.9 312.7h0M144.2 307.0h0M158.6 310.0h0M151.0 313.3h0M154.4 313.9h0M156.2 307.4h0M161.2 304.8h0M220.1 276.5h0M154.0 313.7h0M159.4 305.9h0M166.4 301.7h0M145.4 295.9h0M166.6 294.1h0M143.0 306.0h0M151.6 309.6h0M148.3 312.5h0M154.3 309.2h0M116.7 294.1h0M152.1 313.8h0M165.0 188.8h0M166.1 291.0h0M154.1 313.7h0M151.8 313.1h0M162.7 279.6h0M175.1 289.5h0M153.8 314.4h0M135.2 290.7h0M185.3 272.5h0M153.1 314.4h0M180.4 284.3h0M154.2 313.9h0M110.9 279.9h0M140.7 300.7h0M154.3 310.8h0M147.3 305.4h0M139.2 303.5h0M157.0 302.2h0M160.7 284.1h0M161.1 308.1h0M150.2 309.4h0M151.8 311.5h0M154.7 301.7h0M174.5 304.5h0M154.3 312.1h0M152.9 313.9h0M159.1 309.3h0M167.1 295.8h0M148.8 264.3h0M154.6 312.6h0M152.5 313.1h0M128.9 274.6h0M140.5 302.1h0M159.9 311.5h0M150.2 304.1h0M175.8 298.8h0M142.1 301.8h0M150.0 305.0h0M161.5 302.4h0M169.2 288.6h0M150.9 313.0h0M171.5 292.9h0M154.1 309.7h0M142.9 273.4h0M151.3 313.4h0M141.1 299.4h0M160.0 273.8h0M165.2 285.8h0M142.5 295.3h0M151.5 312.8h0M154.0 313.9h0M150.6 308.9h0M149.1 311.3h0M179.3 285.3h0M155.3 307.9h0M189.4 277.2h0M146.0 305.0h0M158.1 302.7h0M156.0 313.1h0M137.3 285.2h0M166.3 279.3h0M147.7 271.3h0M155.9 309.9h0M167.8 301.9h0M185.4 270.9h0M146.8 302.4h0M152.6 312.7h0M123.8 272.1h0M157.6 303.0h0M146.1 309.1h0M151.6 306.3h0M153.6 313.5h0M142.5 292.5h0M158.8 295.0h0M150.4 310.2h0M68.5 252.5h0M164.6 298.0h0M152.5 313.5h0M201.2 283.1h0M147.1 307.8h0M162.3 301.5h0M150.0 309.0h0M160.6 303.9h0M161.9 306.4h0M164.3 296.3h0M154.7 313.7h0M150.7 299.7h0M138.2 287.6h0M165.3 293.6h0M158.0 309.8h0M150.7 300.5h0M157.8 309.1h0M165.7 283.4h0M148.8 307.2h0M120.6 303.0h0M149.4 304.9h0M150.9 309.1h0M154.6 312.8h0M136.1 299.6h0M155.0 313.3h0M139.6 296.4h0M136.4 297.3h0M152.7 314.1h0M165.4 302.1h0M154.1 309.6h0M152.7 313.7h0M164.3 302.7h0M149.9 312.3h0M155.3 308.5h0M163.7 303.6h0M151.5 313.9h0M152.7 311.4h0M132.4 279.7h0M144.6 301.7h0M141.6 290.1h0M140.1 297.3h0M146.0 301.6h0M145.6 305.4h0M153.4 314.5h0M151.4 306.3h0M151.8 312.8h0M172.3 290.5h0M151.5 312.4h0M131.1 301.4h0M174.6 295.1h0M162.0 236.6h0M171.5 284.7h0M182.5 292.1h0M156.1 312.7h0M158.6 309.3h0M129.4 288.1h0M155.3 309.0h0M151.3 304.8h0M157.2 293.0h0M163.0 309.8h0M155.6 308.9h0M164.5 276.0h0M173.1 277.7h0M126.2 279.5h0M177.8 278.4h0M150.0 312.1h0M156.9 311.0h0M164.5 296.8h0M162.9 297.5h0M158.0 300.9h0M145.9 300.9h0M148.8 291.6h0M147.2 304.4h0M148.7 297.4h0M154.9 304.7h0M162.1 309.2h0M161.8 307.0h0M138.1 298.2h0M151.3 306.5h0M148.6 310.6h0M145.1 303.2h0M164.8 303.5h0M159.7 302.2h0M157.7 289.3h0M153.7 314.3h0M159.0 246.4h0M132.7 303.9h0M131.2 300.0h0M135.9 274.9h0M156.7 311.4h0M154.1 307.9h0M149.9 301.8h0M146.7 308.5h0M161.1 307.0h0M168.0 281.3h0M176.6 305.6h0M127.5 265.3h0M185.6 294.8h0M158.0 307.7h0M157.2 310.6h0M165.2 299.5h0M149.6 306.5h0M136.6 297.8h0M154.6 311.3h0M152.1 312.2h0M178.7 262.5h0M156.6 303.4h0M157.1 311.9h0M152.3 313.0h0M150.8 301.8h0M167.4 301.2h0M150.7 297.0h0M168.7 279.0h0M152.9 314.4h0M135.3 293.6h0M119.4 285.4h0M159.9 312.7h0M163.8 305.8h0M152.1 311.8h0M140.2 288.2h0M149.8 304.1h0M144.2 305.6h0M154.2 313.7h0M168.9 297.2h0M155.9 311.1h0M154.7 305.4h0M161.0 305.7h0M172.1 287.3h0M124.2 253.4h0M159.0 307.4h0M166.2 302.8h0M173.6 289.5h0M130.3 275.2h0M152.2 313.9h0M152.1 313.3h0M144.0 310.3h0M161.6 299.8h0M154.3 311.4h0M154.5 311.8h0M167.8 308.5h0M153.2 314.8h0M124.5 272.2h0M141.1 301.1h0M151.1 301.8h0M159.7 291.4h0M167.9 300.5h0M154.4 313.9h0M149.3 311.8h0M163.3 302.8h0M155.1 307.3h0M159.2 283.3h0M137.3 298.4h0M154.2 307.8h0M146.2 312.2h0M163.9 304.6h0M150.8 309.8h0M156.4 303.2h0M148.9 305.5h0M154.2 307.4h0M142.0 299.9h0M134.5 286.2h0M197.3 276.7h0M151.6 313.4h0M145.2 293.4h0M153.7 313.7h0M151.7 312.4h0M147.6 303.7h0M148.6 304.5h0M152.9 314.4h0M171.2 294.6h0M173.1 303.8h0M156.4 312.3h0M135.5 292.9h0M153.2 314.5h0M146.0 305.8h0M163.6 301.2h0M153.4 314.4h0M144.2 298.4h0M151.3 312.9h0M165.0 304.4h0M155.6 290.8h0M132.0 282.3h0M150.7 313.5h0M128.0 264.0h0M173.8 292.9h0M150.7 306.2h0M154.2 313.6h0M152.0 314.2h0M170.7 297.1h0M124.5 283.2h0M172.3 305.6h0M124.9 291.1h0M143.3 310.7h0M178.5 303.7h0M161.5 301.2h0M155.2 309.6h0M154.8 310.0h0M153.1 314.4h0M152.1 312.5h0M150.6 308.2h0M138.5 300.2h0M149.5 308.5h0M125.8 295.6h0M150.8 308.3h0M155.0 313.7h0M150.2 312.5h0M170.8 279.1h0M157.9 292.8h0M162.0 300.6h0M158.3 302.3h0M131.1 285.3h0M158.6 296.5h0M161.8 306.2h0M149.6 306.0h0M157.4 308.7h0M152.0 313.8h0M155.8 311.3h0M171.5 305.2h0M155.9 302.5h0M167.9 288.0h0M142.1 296.7h0M188.5 278.9h0M181.7 256.8h0M152.2 308.9h0M159.1 300.0h0M154.3 313.6h0M152.2 313.9h0M147.3 281.5h0M151.4 311.3h0M162.5 303.7h0M158.2 311.6h0M115.5 253.4h0M155.3 305.4h0M160.8 307.5h0M160.7 299.6h0M157.2 303.1h0M169.2 285.6h0M154.4 312.9h0M123.2 268.9h0M130.2 277.7h0M153.9 313.9h0M153.9 310.9h0M150.6 306.5h0M149.9 308.2h0M176.2 277.9h0M151.1 309.7h0M151.8 313.9h0M153.3 314.8h0M164.0 298.3h0M149.9 307.3h0M153.8 314.0h0M174.1 279.5h0M156.0 312.4h0M155.1 311.6h0M137.8 300.0h0M149.0 307.1h0M175.4 286.0h0M176.8 305.8h0M148.3 310.2h0M152.6 314.5h0M164.3 290.0h0M151.1 311.5h0M148.4 298.4h0M149.2 311.3h0M158.2 307.1h0M147.2 299.5h0M156.8 307.0h0M187.3 250.2h0M114.7 282.4h0M150.5 297.7h0M144.7 306.8h0M156.3 281.4h0M150.3 296.5h0M176.7 285.1h0M167.1 292.8h0M158.7 306.7h0M149.5 289.0h0M156.5 311.2h0M149.1 311.4h0M157.4 306.1h0M166.8 287.9h0M149.9 307.2h0M169.5 289.3h0M151.1 312.2h0M159.9 306.2h0M149.0 292.0h0M148.0 309.9h0M151.6 309.9h0M145.1 306.7h0M166.1 306.8h0M185.5 296.8h0M129.8 287.4h0M147.5 310.0h0M157.6 307.7h0M150.6 309.9h0M154.3 310.8h0M181.8 293.5h0M154.7 309.9h0M131.8 277.4h0M154.4 312.5h0M167.7 281.5h0M151.6 302.1h0M155.1 313.4h0M151.0 303.1h0M163.0 301.8h0M146.9 295.9h0M163.3 302.6h0M148.5 310.7h0M155.6 295.2h0M155.3 304.4h0M163.7 292.1h0M172.2 298.1h0M166.3 302.7h0M151.9 307.8h0M160.3 304.6h0M159.5 292.3h0M153.7 314.4h0M152.8 314.3h0M201.2 278.9h0M158.1 285.8h0M163.4 300.5h0M154.1 312.8h0M150.6 312.4h0M152.8 314.1h0M160.9 307.7h0M159.5 298.2h0M156.1 306.8h0M153.4 314.4h0M165.0 304.3h0M153.7 313.6h0M147.1 309.9h0M145.5 305.5h0M148.8 312.6h0M135.9 297.8h0M166.6 285.1h0M183.2 263.6h0M152.4 314.2h0M151.7 310.2h0M164.6 310.1h0M120.1 290.8h0M148.2 271.2h0M154.3 311.7h0M153.3 313.9h0M149.3 308.7h0M150.2 311.2h0M156.5 312.3h0M158.4 302.5h0M153.5 314.5h0M150.1 307.9h0M152.8 314.3h0M153.9 313.4h0M168.2 295.3h0M166.7 298.8h0M183.5 294.3h0M146.3 294.8h0M151.1 311.9h0M155.7 304.1h0M149.1 309.5h0M158.0 286.2h0M146.6 309.6h0M148.4 288.6h0M131.8 290.5h0M155.0 312.6h0M151.9 311.3h0M138.1 302.9h0M157.4 280.5h0M139.7 287.7h0M147.8 310.0h0M153.7 314.4h0M183.9 271.4h0M158.0 298.9h0M149.2 304.8h0M124.6 273.8h0M153.4 314.4h0M154.4 307.8h0M146.3 306.1h0M145.0 300.3h0M156.0 310.5h0M160.5 307.2h0M149.2 313.0h0M141.0 307.8h0M125.6 265.1h0M153.4 314.0h0M160.9 300.2h0M147.5 310.0h0M156.4 293.4h0M151.6 312.7h0M134.3 264.9h0M157.7 304.6h0M153.1 314.7h0M130.6 265.8h0M119.2 290.7h0M160.1 295.5h0M144.6 304.6h0M147.2 291.4h0M148.1 300.2h0M162.0 298.9h0M148.0 284.3h0M156.6 310.6h0M125.4 279.3h0M133.7 292.8h0M159.9 308.1h0M151.2 297.7h0M152.5 314.3h0M166.7 309.5h0M160.9 307.4h0M150.3 305.3h0M154.2 312.1h0M156.6 311.6h0M137.9 287.5h0M122.4 265.5h0M144.0 307.1h0M165.9 302.7h0M151.7 311.6h0M151.5 304.6h0M168.7 298.8h0M150.8 298.2h0M138.3 292.1h0M153.7 313.5h0M149.2 305.9h0M145.8 310.5h0M151.2 310.2h0M168.7 283.8h0M157.8 300.6h0M153.0 314.2h0M154.4 313.1h0M146.3 306.2h0M178.1 294.7h0M158.3 290.5h0M166.7 302.1h0M153.2 314.6h0M142.3 293.5h0M160.2 249.3h0M154.3 310.8h0M152.4 313.2h0M137.0 300.1h0M143.9 306.2h0M154.7 312.5h0M175.3 274.3h0M156.6 305.8h0M142.0 279.0h0M152.4 313.3h0M147.6 303.0h0M152.0 313.5h0M148.0 254.6h0M151.7 312.4h0M159.7 306.1h0M170.4 297.5h0M150.1 299.6h0M156.6 301.8h0M148.8 291.9h0M142.4 289.5h0M157.0 310.8h0M167.1 284.4h0M136.9 296.6h0M154.2 312.2h0M140.8 299.5h0M154.6 311.9h0M152.3 314.0h0M145.9 283.7h0M156.1 308.7h0M142.5 300.9h0M156.2 298.7h0M144.0 302.4h0M139.4 290.4h0M149.3 298.9h0M136.8 293.7h0M156.3 302.5h0M152.1 313.3h0M147.1 301.2h0M160.7 306.4h0M242.3 262.4h0M153.1 314.6h0M155.7 308.4h0M162.0 299.4h0M155.3 306.9h0M141.7 304.4h0M144.9 301.0h0M146.2 304.9h0M123.7 278.0h0M145.8 310.8h0M153.4 313.7h0M150.4 307.9h0M154.6 313.1h0M160.7 306.5h0M151.1 313.0h0M152.1 312.6h0M163.3 302.4h0M152.7 313.8h0M155.9 310.9h0M141.7 302.6h0M161.4 303.6h0M125.6 297.1h0M152.1 312.2h0M158.9 308.5h0M129.2 278.2h0M157.0 310.3h0M141.9 286.4h0M150.8 301.2h0M174.4 288.1h0M156.3 311.4h0M179.3 259.7h0M169.4 289.8h0M152.9 314.3h0M144.2 300.2h0M162.1 298.3h0M153.4 314.5h0M127.0 275.2h0M156.5 309.2h0M157.1 307.9h0M155.9 287.6h0M152.2 306.7h0M153.2 314.8h0M136.8 282.9h0M137.5 287.2h0M153.0 313.9h0M144.4 304.8h0M149.0 311.5h0M155.2 312.1h0M155.6 292.2h0M150.4 312.6h0M152.1 312.1h0M147.3 296.7h0M173.1 306.6h0M150.4 306.4h0M171.7 282.9h0M148.7 308.9h0M133.1 295.8h0M136.8 306.0h0M189.6 278.6h0M152.5 312.0h0M137.7 288.2h0M155.2 313.3h0M167.5 301.6h0M169.0 266.8h0M147.3 311.6h0M149.8 303.6h0M178.0 278.1h0M198.8 284.3h0M163.9 305.7h0M148.7 308.0h0M102.7 285.3h0M147.4 312.7h0M177.5 258.4h0M156.3 312.2h0M151.7 313.0h0M123.3 293.6h0M166.7 300.5h0M161.8 299.8h0M155.6 309.4h0M158.4 294.3h0M146.6 304.9h0M153.9 314.2h0M144.9 303.1h0M175.0 285.5h0M146.5 306.4h0M182.9 270.0h0M159.4 296.1h0M161.9 290.3h0M125.7 301.9h0M151.2 298.5h0M155.2 310.8h0M152.6 310.6h0M176.6 279.3h0M155.8 294.5h0M148.3 310.0h0M193.1 268.0h0M122.0 298.6h0M157.2 311.5h0M161.8 305.2h0M153.0 313.4h0M130.2 287.6h0M141.2 293.5h0M151.4 311.5h0M165.1 299.8h0M109.2 287.4h0M143.4 290.3h0M165.7 303.4h0M169.1 298.3h0M167.9 295.8h0M150.3 306.4h0M160.5 308.1h0M161.3 305.8h0M155.2 295.9h0M158.2 307.4h0M150.6 312.8h0M124.9 271.1h0M188.2 267.9h0M177.3 287.6h0M146.2 301.2h0M159.4 309.3h0M157.2 301.9h0M147.6 309.1h0M146.1 309.0h0M148.5 296.7h0M152.6 313.9h0M133.9 305.1h0M159.8 308.6h0M149.4 306.0h0M138.2 285.1h0M149.6 299.8h0M157.0 311.4h0M181.0 299.7h0M137.9 253.6h0M171.1 307.2h0M157.0 311.1h0M129.0 276.6h0M148.5 310.7h0M157.0 273.5h0M154.8 311.8h0M162.7 305.1h0M156.4 312.0h0M130.5 288.4h0M146.8 296.0h0M143.4 302.1h0M175.8 285.0h0M154.0 314.2h0M154.7 312.7h0M168.7 295.2h0M135.9 304.1h0M183.5 253.7h0M144.5 287.6h0M145.3 307.7h0M160.9 306.7h0M153.4 314.6h0M156.6 306.5h0M166.7 274.3h0M151.6 301.2h0M161.3 311.7h0M172.1 293.0h0M183.6 304.3h0M121.3 255.9h0M162.8 304.5h0M127.3 299.8h0M164.2 298.9h0M155.4 311.0h0M178.4 285.9h0M149.3 308.5h0M155.2 311.3h0M155.4 312.7h0M151.5 304.7h0M151.0 313.9h0M147.0 305.8h0M158.0 301.8h0M149.2 309.7h0M143.2 303.5h0M152.8 314.4h0M168.0 296.7h0M163.3 305.2h0M152.7 311.9h0M152.1 309.8h0M142.7 287.6h0M169.2 297.4h0M160.7 307.5h0M156.0 308.9h0M155.0 311.9h0M168.0 285.6h0M185.8 270.1h0M167.2 290.8h0M146.4 307.5h0M149.6 308.7h0M167.9 292.0h0M158.7 279.9h0M155.0 311.8h0M140.7 303.0h0M141.0 290.3h0M153.3 313.9h0M151.7 310.8h0M148.8 308.5h0M144.6 292.0h0M182.9 280.1h0M153.1 314.7h0M144.5 297.8h0M151.0 313.7h0M147.6 306.8h0M148.4 283.7h0M140.1 290.7h0M150.6 312.7h0M156.5 312.3h0M157.1 311.8h0M169.6 304.3h0M150.4 305.5h0M163.1 304.0h0M133.9 273.1h0M160.1 298.3h0M144.1 297.9h0M140.0 267.5h0M159.9 304.5h0M152.2 308.5h0M148.9 266.0h0M150.5 312.6h0M137.8 302.3h0M144.2 307.1h0M153.9 312.5h0M147.6 289.4h0M147.2 307.6h0M152.4 310.5h0M146.4 299.4h0M146.5 309.1h0M141.8 303.6h0M156.9 301.8h0M152.3 311.1h0M158.6 300.3h0M146.7 306.7h0M149.9 311.9h0M143.0 283.8h0M143.2 303.2h0M152.8 312.1h0M176.8 285.4h0M156.7 311.1h0M137.8 294.9h0M176.8 258.5h0M152.9 314.3h0M148.4 301.2h0M141.6 308.7h0M154.2 314.0h0M164.6 293.8h0M149.7 306.5h0M151.2 306.4h0M162.7 306.3h0M175.9 283.2h0M146.1 308.5h0M147.3 307.7h0M151.4 310.8h0M154.3 314.0h0M171.5 289.2h0M148.6 310.2h0M131.9 254.6h0M157.7 310.7h0M161.8 309.8h0M169.9 289.8h0M138.4 295.5h0M156.5 312.1h0M156.0 299.6h0M155.1 312.8h0M153.8 314.5h0M143.0 304.6h0M153.8 312.0h0M172.5 293.0h0M147.1 308.7h0M133.0 286.2h0M156.7 304.9h0M156.2 299.1h0M150.5 306.1h0M145.9 305.9h0M153.0 313.7h0M154.2 313.9h0M149.2 307.0h0M143.8 298.6h0M172.6 292.5h0M168.9 294.7h0M164.2 282.6h0M140.0 304.3h0M147.2 312.7h0M153.1 314.7h0M164.9 287.6h0M200.8 285.5h0M132.1 266.4h0M162.3 280.8h0M164.5 301.0h0M166.2 297.6h0M155.2 312.0h0M162.9 298.2h0M166.8 292.5h0M153.6 314.7h0M132.7 306.0h0M151.0 306.8h0M144.5 309.5h0M147.2 306.6h0M162.5 293.7h0M156.1 310.1h0M150.3 300.2h0M133.2 288.8h0M164.3 278.3h0M170.4 291.3h0M158.7 307.0h0M152.8 314.2h0M156.0 312.8h0M154.0 314.0h0M153.9 313.3h0M148.1 280.2h0M145.5 304.8h0M162.1 302.1h0M164.2 302.5h0M151.8 313.3h0M138.7 303.3h0M176.4 277.5h0M138.5 284.5h0M162.2 307.1h0M139.7 310.2h0M149.5 306.2h0M158.4 305.4h0M138.2 298.2h0M156.4 308.5h0M156.0 313.8h0M148.1 295.2h0M145.9 307.6h0M162.3 298.9h0M170.9 292.4h0M175.4 268.7h0M150.5 313.5h0M153.1 314.6h0M156.3 304.0h0M176.4 306.8h0M161.2 311.2h0M150.9 310.7h0M164.2 274.3h0M138.8 300.9h0M149.7 308.9h0M159.4 296.5h0M180.5 272.6h0M143.8 303.5h0M168.6 298.8h0M160.3 305.9h0M150.7 306.7h0M155.4 294.8h0M155.1 296.3h0M127.6 270.2h0M140.8 303.0h0M165.2 297.6h0M153.0 314.2h0M164.5 302.8h0M144.6 297.3h0M144.4 296.3h0M152.3 311.1h0M180.7 299.5h0M143.8 303.5h0M147.6 308.6h0M129.0 278.3h0M148.6 309.1h0M161.2 305.9h0M154.2 312.9h0M147.8 297.8h0M139.7 279.8h0M150.8 296.8h0M159.4 304.6h0M156.5 295.4h0M158.1 310.2h0M160.7 306.9h0M145.1 303.8h0M165.3 283.3h0M148.0 307.5h0M145.3 307.0h0M165.3 302.7h0M144.6 305.8h0M148.8 303.5h0M152.8 313.8h0M151.4 306.8h0M148.2 308.9h0M164.7 299.7h0M137.4 288.1h0M153.8 314.2h0M125.2 281.4h0M138.5 300.4h0M158.8 308.6h0M154.9 313.5h0M156.8 296.5h0M147.0 309.4h0M162.2 304.5h0M153.9 314.1h0M124.4 291.2h0M192.8 292.8h0M145.4 307.4h0M159.2 298.4h0M170.0 296.4h0M168.9 294.5h0M163.8 287.5h0M155.1 313.2h0M155.0 306.7h0M152.0 311.4h0M163.4 302.3h0M175.3 299.2h0M156.9 303.5h0M132.7 289.1h0M145.1 308.1h0M161.1 306.9h0M154.4 313.7h0M141.5 301.6h0M147.0 241.4h0M144.6 306.5h0M163.6 298.7h0M149.5 269.1h0M170.6 297.6h0M153.7 313.7h0M172.3 306.5h0M154.8 312.7h0M159.5 311.6h0M152.7 312.0h0M155.0 312.8h0M165.6 300.3h0M165.3 272.6h0M130.8 294.3h0M154.0 313.0h0M144.4 306.0h0M158.1 310.3h0M155.0 310.3h0M137.6 299.9h0M136.4 297.5h0M154.8 313.9h0M155.0 310.7h0M148.8 309.0h0M152.8 313.8h0M160.5 311.5h0M138.0 293.5h0M147.3 307.8h0M157.9 267.1h0M147.3 283.7h0M154.9 313.6h0M137.0 293.5h0M152.1 312.0h0M149.7 312.0h0M150.0 299.3h0M190.9 291.7h0M152.7 314.3h0M159.9 309.3h0M162.4 294.2h0M185.6 286.4h0M148.1 306.8h0M157.7 310.8h0M183.5 276.6h0M144.6 285.8h0M156.5 283.2h0M176.6 303.8h0M157.1 300.8h0M156.8 310.6h0M138.9 280.3h0M161.5 312.1h0M170.9 287.2h0M151.5 311.9h0M125.0 302.9h0M157.6 311.3h0M139.6 258.6h0M154.2 313.4h0" stroke="#8a8a8a" stroke-opacity="0.28" stroke-width="2.8" stroke-linecap="round" fill="none"/>
<path d="M149.4 309.5h0M142.4 304.1h0M143.1 310.3h0M136.2 296.8h0M148.0 301.6h0M161.4 305.7h0M147.7 305.6h0M146.3 240.3h0M129.7 264.0h0M154.9 306.2h0M149.7 303.0h0M155.6 313.1h0M161.8 296.3h0M147.9 310.7h0M151.7 305.9h0M154.7 310.4h0M155.3 312.9h0M142.5 304.2h0M136.5 293.2h0M157.2 309.9h0M150.4 309.2h0M172.9 281.1h0M142.7 303.6h0M140.6 292.2h0M166.2 301.9h0M126.1 289.2h0M151.4 306.2h0M118.7 294.8h0M140.2 301.5h0M156.7 312.6h0M137.4 278.9h0M146.2 301.4h0M162.8 292.6h0M159.7 292.1h0M149.5 308.3h0M156.5 281.2h0M154.6 308.4h0M151.2 313.2h0M166.1 286.2h0M144.3 302.1h0M158.0 309.4h0M160.8 296.0h0M156.9 308.7h0M168.6 300.1h0M149.4 282.4h0M163.6 286.1h0M163.1 301.7h0M170.1 288.6h0M173.0 290.1h0M141.5 298.2h0M164.5 295.9h0M150.1 303.9h0M147.9 310.5h0M153.0 314.2h0M156.1 313.2h0M167.1 299.6h0M166.5 299.0h0M148.0 308.5h0M152.7 311.5h0M150.0 307.9h0M149.0 309.0h0M152.8 314.5h0M131.5 283.1h0M150.6 313.5h0M155.2 312.2h0M128.5 296.4h0M150.3 311.1h0M154.2 309.1h0M149.5 306.0h0M159.6 301.0h0M145.1 301.2h0M144.6 292.3h0M149.1 307.1h0M165.8 299.8h0M156.2 311.9h0M162.4 306.4h0M157.4 310.3h0M150.8 312.6h0M162.2 309.5h0M141.5 309.7h0M149.4 301.1h0M145.8 308.4h0M168.1 291.9h0M178.0 301.9h0M146.8 309.4h0M156.3 302.3h0M158.1 310.3h0M155.3 298.7h0M145.0 297.3h0M129.6 282.1h0M155.5 313.8h0M149.9 311.9h0M143.5 286.0h0M125.2 286.2h0M150.5 310.1h0M149.6 283.4h0M152.4 313.0h0M155.0 313.6h0M129.7 277.6h0M117.8 295.3h0M144.7 306.7h0M157.8 308.8h0M151.1 306.9h0M168.1 300.3h0M167.6 212.9h0M144.3 295.4h0M154.9 312.0h0M155.0 306.1h0M135.5 298.4h0M153.9 312.6h0M157.3 303.8h0M150.2 311.2h0M156.8 313.5h0M146.5 296.6h0M153.0 314.4h0M154.4 309.9h0M160.9 302.5h0M155.8 308.2h0M165.2 270.5h0M157.4 284.1h0M156.2 310.1h0M153.8 313.7h0M114.2 295.5h0M165.6 288.0h0M141.5 294.2h0M148.3 309.8h0M159.4 311.0h0M137.4 297.9h0M154.4 312.3h0M169.1 296.4h0M140.0 306.7h0M148.7 305.9h0M153.6 313.2h0M161.7 296.4h0M153.3 314.7h0M166.7 275.9h0M131.9 304.7h0M155.9 311.5h0M158.6 302.4h0M154.5 313.2h0M150.1 312.5h0M136.7 309.1h0M161.0 307.6h0M178.8 281.7h0M170.5 297.0h0M158.8 304.4h0M149.1 311.6h0M139.1 304.3h0M144.7 305.2h0M159.8 272.7h0M169.6 296.1h0M114.3 292.0h0M150.4 308.7h0M150.1 310.2h0M146.3 308.5h0M149.3 306.8h0M140.4 290.4h0M160.3 306.0h0M146.9 307.8h0M122.3 271.7h0M153.3 313.8h0M152.5 310.5h0M154.4 312.7h0M155.5 311.4h0M159.6 295.6h0M148.6 311.3h0M150.3 309.3h0M126.0 278.6h0M139.8 281.3h0M147.8 303.5h0M140.6 298.9h0M156.4 310.2h0M152.4 314.0h0M150.0 312.4h0M178.1 286.4h0M160.9 299.6h0M143.7 302.7h0M141.2 265.9h0M162.7 278.9h0M154.4 313.7h0M147.6 307.9h0M148.1 308.2h0M147.0 312.1h0M157.3 311.0h0M131.7 306.1h0M146.5 308.3h0M142.8 303.6h0M152.0 309.2h0M166.3 300.5h0M147.2 304.3h0M151.6 313.5h0M151.6 309.5h0M115.0 280.8h0M179.0 284.6h0M146.6 310.6h0M146.4 305.7h0M152.1 311.2h0M151.2 312.6h0M142.3 299.2h0M166.2 292.4h0M151.6 312.9h0M158.2 304.1h0M180.4 288.4h0M174.6 295.5h0M154.3 313.2h0M141.3 302.3h0M130.2 288.9h0M141.3 292.8h0M150.6 288.1h0M153.6 314.4h0M131.6 284.4h0M116.7 299.5h0M166.8 302.2h0M152.5 311.0h0M120.6 264.9h0M153.8 311.4h0M158.3 310.7h0M154.8 313.4h0M146.0 306.8h0M144.1 302.9h0M155.2 294.8h0M149.2 267.9h0M151.6 309.6h0M151.6 310.5h0M162.3 281.8h0M157.8 310.7h0M134.6 293.5h0M147.2 308.0h0M153.0 314.6h0M128.6 292.5h0M147.4 308.0h0M144.7 231.6h0M138.5 291.8h0M158.5 309.6h0M143.9 305.2h0M157.9 309.5h0M142.6 276.0h0M152.1 314.5h0M167.5 308.5h0M154.9 308.7h0M131.7 283.8h0M133.1 302.4h0M147.8 305.2h0M168.4 307.8h0M171.9 304.0h0M146.8 304.7h0M151.2 295.4h0M156.7 290.8h0M160.2 305.7h0M150.7 312.3h0M150.7 293.0h0M161.4 250.9h0M156.6 310.6h0M157.2 313.3h0M159.8 309.3h0M161.0 294.3h0M156.3 301.2h0M159.9 304.5h0M142.9 272.1h0M127.4 293.2h0M151.6 301.3h0M144.0 303.9h0M153.6 313.1h0M156.9 312.0h0M139.5 298.8h0M127.1 284.2h0M145.2 306.2h0M131.7 290.2h0M152.5 314.2h0M158.2 312.3h0M175.8 302.5h0M159.9 299.6h0M149.2 310.8h0M154.4 313.5h0M162.9 310.5h0M150.8 313.0h0M137.2 286.9h0M149.8 310.7h0M145.1 283.8h0M150.9 313.9h0M158.1 301.5h0M115.4 269.9h0M149.5 311.3h0M143.3 306.4h0M160.5 307.2h0M214.4 274.6h0M129.1 277.6h0M143.6 306.4h0M147.6 312.1h0M157.2 311.3h0M157.4 305.7h0M172.7 301.6h0M158.0 302.0h0M155.5 311.6h0M154.3 307.7h0M154.0 313.9h0M134.4 294.1h0M143.2 287.7h0M163.5 304.0h0M143.5 304.1h0M161.4 287.1h0M150.8 311.1h0M146.2 308.8h0M155.1 312.2h0M140.0 309.2h0M165.0 305.7h0M157.6 291.5h0M155.9 309.8h0M134.8 287.2h0M157.5 310.6h0M144.4 299.4h0M158.1 304.7h0M170.7 290.9h0M172.3 295.3h0M164.8 301.2h0M162.2 270.1h0M155.2 299.8h0M159.2 305.3h0M151.1 308.7h0M172.5 288.7h0M151.2 312.0h0M163.2 305.4h0M153.3 314.7h0M166.5 298.1h0M154.2 309.9h0M156.3 312.6h0M165.4 277.2h0M150.3 312.0h0M133.5 269.6h0M160.0 293.0h0M160.2 311.4h0M151.9 313.7h0M141.6 302.3h0M106.4 268.3h0M157.3 311.0h0M88.6 267.5h0M154.6 304.4h0M159.5 300.7h0M169.2 303.7h0M164.2 308.5h0M148.2 306.5h0M122.6 272.0h0M144.0 305.2h0M130.2 299.7h0M161.2 303.3h0M154.9 313.0h0M157.8 306.3h0M150.0 302.1h0M146.5 309.6h0M147.8 309.2h0M165.5 293.8h0M166.9 300.5h0M139.6 307.7h0M150.3 303.6h0M143.4 299.6h0M150.9 311.1h0M157.8 278.4h0M154.3 313.9h0M122.1 273.1h0M147.0 304.4h0M120.1 296.0h0M175.9 288.9h0M157.0 303.5h0M174.6 292.1h0M158.6 303.0h0M178.7 296.6h0M153.9 312.0h0M162.3 300.1h0M125.2 281.7h0M152.6 312.8h0M147.4 307.7h0M155.4 312.5h0M105.2 276.3h0M139.7 287.7h0M171.6 285.8h0M155.8 312.7h0M147.2 309.8h0M150.3 298.1h0M141.8 308.7h0M159.6 296.0h0M157.9 293.5h0M162.2 298.8h0M123.7 267.3h0M149.9 302.3h0M154.0 308.7h0M148.8 308.2h0M242.1 268.5h0M157.2 308.4h0M159.7 301.5h0M92.5 275.7h0M143.2 299.6h0M129.2 285.1h0M159.1 299.5h0M152.3 310.5h0M141.9 301.8h0M151.1 312.1h0M147.9 303.6h0M153.4 314.6h0M136.2 301.1h0M155.8 310.1h0M158.1 309.5h0M168.7 296.3h0M147.4 305.8h0M172.6 280.0h0M149.6 311.2h0M170.9 293.7h0M171.6 295.7h0M154.7 313.6h0M149.4 290.3h0M153.2 314.7h0M146.7 289.3h0M186.0 269.3h0M144.2 299.8h0M159.8 306.9h0M148.4 308.8h0M165.9 302.9h0M146.4 307.8h0M174.0 288.3h0M170.4 295.4h0M152.2 309.0h0M157.6 302.8h0M147.1 308.7h0M158.9 281.6h0M145.7 311.0h0M152.5 314.0h0M117.2 263.3h0M135.3 288.6h0M126.3 280.8h0M152.2 310.4h0M175.4 290.5h0M130.3 289.0h0M171.4 293.3h0M158.1 312.9h0M159.6 307.0h0M156.1 308.0h0M164.8 278.3h0M114.0 253.8h0M150.7 309.1h0M154.9 310.7h0M157.3 308.0h0M156.8 311.8h0M139.2 265.3h0M174.2 302.2h0M153.5 314.2h0M152.0 310.2h0M140.8 303.3h0M153.4 313.5h0M192.2 284.1h0M164.3 295.7h0M161.0 301.5h0M158.7 309.3h0M146.6 292.5h0M145.5 307.3h0M154.6 312.0h0M169.0 273.1h0M140.2 288.3h0M152.8 312.4h0M162.6 266.0h0M152.3 313.4h0M157.3 311.1h0M152.8 312.1h0M151.1 311.5h0M154.3 313.6h0M155.7 312.3h0M145.0 303.0h0M118.5 299.6h0M152.0 306.2h0M149.8 278.8h0M145.1 309.2h0M154.9 311.9h0M154.3 313.7h0M152.6 312.5h0M164.4 309.5h0M138.1 298.1h0M151.5 313.5h0M149.4 296.7h0M153.5 312.6h0M153.8 314.3h0M151.5 313.6h0M163.0 306.4h0M153.0 314.3h0M155.0 312.8h0M127.2 284.8h0M165.5 298.5h0M167.0 302.0h0M124.5 301.9h0M146.6 299.4h0M153.2 314.8h0M170.5 303.0h0M190.7 269.3h0M148.7 301.2h0M153.4 314.7h0M149.3 275.0h0M162.5 306.9h0M145.8 309.8h0M150.6 307.7h0M145.5 291.7h0M149.5 304.5h0M148.9 306.4h0M153.5 313.8h0M167.7 306.7h0M153.1 314.6h0M141.4 302.8h0M155.1 305.8h0M156.0 313.1h0M138.0 295.6h0M150.5 312.1h0M155.2 310.8h0M154.3 312.8h0M162.1 306.3h0M158.6 304.7h0M151.0 310.7h0M163.3 296.6h0M155.0 311.2h0M152.0 307.6h0M159.0 308.4h0M150.6 285.7h0M164.4 303.5h0M156.5 309.6h0M161.6 303.4h0M158.6 306.9h0M158.1 303.0h0M144.8 307.8h0M152.4 309.0h0M159.7 306.1h0M159.1 295.7h0M159.9 297.2h0M146.4 312.6h0M165.5 275.7h0M196.7 289.6h0M160.0 311.3h0M156.9 244.7h0M192.6 299.3h0M154.3 313.6h0M152.3 310.7h0M150.7 311.8h0M154.2 313.7h0M159.6 307.7h0M134.0 284.4h0M146.0 312.0h0M146.4 299.7h0M135.7 287.8h0M146.6 293.4h0M162.9 290.4h0M144.2 296.7h0M138.4 268.9h0M173.3 293.7h0M165.4 300.5h0M154.2 313.5h0M151.9 311.4h0M164.3 298.5h0M159.2 290.9h0M140.1 302.8h0M141.2 302.8h0M139.1 298.1h0M153.0 314.6h0M143.5 308.6h0M153.7 311.6h0M152.5 310.7h0M158.8 309.7h0M153.5 314.5h0M148.0 311.3h0M125.7 275.0h0M149.4 303.3h0M166.0 301.9h0M149.3 301.8h0M129.2 284.9h0M179.5 263.7h0M151.1 312.4h0M162.9 301.4h0M115.2 289.6h0M175.5 302.7h0M143.0 304.8h0M116.7 286.0h0M155.1 301.2h0M138.6 303.6h0M169.3 305.8h0M156.9 311.2h0M148.7 309.3h0M150.0 311.3h0M151.1 307.8h0M173.7 296.6h0M204.3 289.3h0M166.3 301.9h0M152.3 310.3h0M160.3 304.4h0M146.2 293.9h0M154.8 308.1h0M167.3 306.8h0M165.8 309.9h0M159.4 304.7h0M118.1 292.8h0M172.2 293.7h0M148.1 310.4h0M145.7 283.9h0M179.4 297.5h0M148.7 311.2h0M148.0 301.3h0M156.5 310.6h0M148.8 301.8h0M151.6 301.8h0M137.8 308.7h0M155.9 296.1h0M139.9 286.0h0M147.9 308.8h0M158.6 308.4h0M127.9 279.0h0M153.7 311.1h0M171.9 298.7h0M155.7 296.8h0M136.0 299.0h0M192.6 252.7h0M163.1 310.5h0M148.9 304.6h0M151.6 305.1h0M146.6 296.3h0M147.7 287.2h0M171.9 295.6h0M217.7 269.4h0M147.3 309.8h0M149.9 310.3h0M153.1 314.7h0M146.3 308.7h0M167.6 296.5h0M159.2 300.2h0M113.9 283.4h0M144.4 293.7h0M152.5 312.7h0M153.2 314.7h0M148.6 311.0h0M150.2 312.4h0M160.3 304.5h0M158.3 310.5h0M153.3 314.4h0M160.1 299.4h0M160.5 301.3h0M155.8 312.1h0M151.8 314.1h0M146.3 300.5h0M155.5 311.4h0M153.7 313.9h0M144.5 301.6h0M186.8 267.8h0M138.1 298.1h0M165.8 286.7h0M152.8 314.4h0M167.3 276.6h0M152.7 314.3h0M149.4 310.9h0M146.4 308.2h0M148.9 307.2h0M158.6 309.0h0M160.7 272.5h0M158.1 310.4h0M163.2 310.9h0M132.7 287.6h0M156.3 277.3h0M157.9 309.1h0M149.6 311.1h0M158.1 290.4h0M167.8 287.1h0M152.1 310.9h0M172.0 303.6h0M151.3 304.7h0M104.3 273.5h0M156.7 310.9h0M152.9 314.5h0M161.7 300.2h0M151.3 313.1h0M151.6 312.9h0M154.7 311.3h0M169.8 295.0h0M141.7 304.8h0M152.7 313.6h0M139.1 301.1h0M155.0 311.8h0M147.9 303.5h0M149.6 294.0h0M160.8 301.3h0M158.4 297.9h0M153.4 314.5h0M155.7 313.0h0M164.9 304.0h0M160.1 293.0h0M156.3 304.3h0M145.6 299.0h0M164.0 305.2h0M150.2 311.1h0M155.0 304.5h0M156.0 310.6h0M135.5 291.6h0M103.0 282.8h0M160.4 309.7h0M135.2 301.8h0M174.9 275.9h0M157.9 309.3h0M149.2 288.0h0M157.8 286.2h0M158.2 293.7h0M145.0 227.8h0M140.7 295.9h0M147.6 310.4h0M154.0 313.1h0M155.5 312.8h0M161.3 286.9h0M141.5 297.0h0M152.4 311.7h0M106.4 286.1h0M157.7 291.7h0M139.0 287.7h0M151.2 313.3h0M170.2 293.6h0M159.7 280.2h0M146.1 305.2h0M147.5 302.4h0M136.2 280.0h0M158.4 308.2h0M152.0 314.0h0M143.3 302.3h0M149.6 309.5h0M153.0 314.5h0M145.4 301.2h0M159.2 305.2h0M156.9 310.4h0M147.9 310.4h0M149.8 298.7h0M154.7 312.8h0M161.4 311.0h0M158.1 309.4h0M145.1 310.2h0M156.0 286.6h0M139.2 224.7h0M151.6 306.4h0M153.2 314.6h0M139.9 295.4h0M150.5 308.6h0M138.9 301.3h0M161.0 295.2h0M147.7 308.8h0M106.6 275.6h0M165.4 290.2h0M139.3 301.2h0M153.3 314.7h0M146.6 307.3h0M151.0 309.2h0M157.5 310.3h0M155.9 313.7h0M140.3 280.5h0M158.0 311.2h0M159.6 298.9h0M173.4 305.7h0M154.3 309.8h0M163.5 299.2h0M152.8 312.1h0M149.0 308.4h0M117.1 288.9h0M153.4 314.3h0M150.2 311.8h0M157.4 293.9h0M158.4 304.2h0M151.2 312.4h0M143.1 304.9h0M156.4 310.2h0M154.6 309.4h0M142.7 310.7h0M157.7 304.0h0M149.8 312.4h0M146.2 294.3h0M173.9 283.2h0M153.0 314.0h0M150.7 309.7h0M143.3 287.1h0M142.3 304.1h0M144.7 307.9h0M192.0 268.5h0M156.2 297.7h0M122.1 285.9h0M151.7 313.5h0M148.5 306.3h0M155.2 308.8h0M170.0 298.0h0M158.3 286.7h0M159.9 249.1h0M151.0 313.1h0M153.4 314.6h0M144.8 271.3h0M132.9 282.9h0M163.1 306.4h0M155.9 312.5h0M154.4 313.5h0M120.3 281.7h0M162.7 292.8h0M145.5 294.5h0M158.1 300.7h0M143.2 304.7h0M165.6 300.0h0M163.0 309.7h0M160.7 308.4h0M152.8 313.6h0M167.0 292.5h0M147.7 310.3h0M142.3 309.5h0M132.2 291.5h0M149.3 303.9h0M151.9 306.8h0M150.9 309.3h0M149.0 301.2h0M211.2 274.8h0M146.5 308.6h0M151.2 308.9h0M145.9 305.9h0M147.6 286.1h0M156.0 309.9h0M149.4 313.4h0M153.2 314.7h0M153.8 314.2h0M152.7 312.7h0M165.1 295.0h0M157.3 307.7h0M159.7 300.2h0M157.6 307.2h0M150.3 313.5h0M151.3 312.6h0M134.5 267.5h0M144.7 302.3h0M150.8 290.9h0M160.3 306.7h0M161.3 305.5h0M150.9 303.2h0M152.5 310.2h0M128.9 291.5h0M153.1 314.6h0M161.7 307.3h0M156.9 311.6h0M194.2 286.9h0M189.7 286.4h0M155.0 313.6h0M154.6 309.0h0M173.0 288.4h0M145.8 304.5h0M115.3 299.4h0M156.9 311.1h0M151.0 304.2h0M156.6 306.2h0M167.9 297.7h0M151.2 297.7h0M148.0 308.4h0M154.1 313.6h0M160.8 302.9h0M150.7 312.7h0M153.9 313.7h0M143.9 311.7h0M151.5 303.8h0M145.9 293.5h0M145.1 305.0h0M150.8 299.2h0M153.4 314.7h0M158.4 300.2h0M155.2 313.2h0M184.3 267.7h0M132.2 269.6h0M154.7 309.1h0M158.3 307.7h0M150.0 308.6h0M159.9 308.7h0M156.6 303.2h0M146.5 289.9h0M142.5 302.3h0M157.1 299.8h0M143.4 296.5h0M156.9 310.3h0M161.3 307.5h0M153.4 314.3h0M163.2 304.2h0M166.8 287.8h0M157.6 312.4h0M148.8 305.6h0M134.1 293.3h0M154.6 312.1h0M145.8 308.3h0M146.1 302.3h0M117.2 278.6h0M170.2 295.5h0M158.1 307.8h0M150.9 311.9h0M166.9 304.2h0M151.6 311.5h0M155.0 308.3h0M167.5 300.3h0M157.7 304.6h0M133.8 286.0h0M152.6 314.4h0M150.9 299.5h0M147.4 306.5h0M145.6 307.8h0M208.9 265.7h0M169.8 301.7h0M200.7 282.0h0M144.3 307.0h0M150.0 292.9h0M150.8 311.5h0M140.8 295.1h0M157.6 307.8h0M164.3 310.3h0M146.0 299.2h0M158.4 306.7h0M144.0 301.9h0M155.7 308.9h0M146.1 292.9h0M155.9 308.4h0M169.1 306.8h0M144.7 306.2h0M184.2 269.3h0M159.8 308.2h0M187.6 293.0h0M141.5 297.5h0M137.9 243.8h0M157.7 309.4h0M161.8 306.6h0M169.5 294.5h0M167.0 298.7h0M152.7 314.4h0M159.4 307.1h0M156.3 311.6h0M157.0 311.9h0M147.5 224.6h0M159.5 308.9h0M155.7 311.8h0M148.3 296.9h0M146.6 309.3h0M151.2 312.5h0M163.3 309.3h0M147.1 300.9h0M153.7 313.3h0M150.0 308.9h0M153.3 314.7h0M167.8 300.5h0M152.4 313.6h0M165.4 299.7h0M156.3 312.5h0M157.7 305.1h0M156.8 311.0h0M147.3 247.4h0M150.2 310.1h0M156.5 311.7h0M149.9 301.9h0M143.6 303.6h0M164.8 279.2h0M165.7 303.4h0M166.9 269.9h0M151.2 310.5h0M169.0 297.7h0M153.6 314.4h0M148.1 289.2h0M160.7 302.7h0M130.9 287.7h0M145.5 302.1h0M134.3 306.5h0M161.8 306.9h0M135.4 308.7h0M142.1 309.5h0M156.7 309.9h0M170.0 281.3h0M152.0 313.9h0M132.8 305.1h0M179.3 282.3h0M165.1 302.7h0M155.6 310.5h0M152.8 314.6h0M169.6 295.1h0M169.8 303.9h0M145.2 310.1h0M179.3 297.6h0M165.1 294.9h0M135.6 289.7h0M150.0 291.0h0M152.0 313.8h0M170.5 287.1h0M154.6 313.2h0M155.2 312.8h0M135.7 295.0h0M154.9 313.4h0M158.9 305.6h0M166.5 306.2h0M158.1 303.3h0M161.0 306.8h0M147.3 305.8h0M146.3 307.1h0M145.1 307.9h0M137.7 293.9h0M120.0 256.5h0M160.4 292.4h0M138.1 280.1h0M152.0 313.3h0M130.0 289.1h0M152.2 313.5h0M161.2 289.3h0M148.0 310.8h0M152.4 313.4h0M154.3 310.8h0M159.2 306.5h0M152.5 314.3h0M158.3 311.9h0M192.4 250.0h0M129.2 306.5h0M160.1 297.0h0M145.2 291.8h0M152.3 312.7h0M165.8 299.4h0M152.5 312.5h0M153.7 314.1h0M153.8 311.0h0M161.3 296.4h0M136.3 270.8h0M154.1 312.0h0M153.5 313.4h0M150.2 309.4h0M145.3 299.2h0M155.1 303.1h0M131.4 291.0h0M153.8 310.7h0M130.0 283.1h0M152.8 312.5h0M151.9 309.2h0M154.6 312.0h0M154.7 308.0h0M153.2 314.7h0M141.5 290.6h0M134.5 296.9h0M157.3 296.3h0M170.4 271.1h0M158.7 304.6h0M144.0 304.7h0M155.8 311.1h0M164.2 299.4h0M145.4 302.7h0M149.7 310.6h0M168.1 309.4h0M153.4 314.5h0M140.2 300.1h0M149.4 311.9h0M149.5 304.6h0M151.2 313.1h0M165.2 288.3h0M157.7 312.8h0M155.5 312.9h0M155.5 296.4h0M152.8 314.4h0M154.1 313.2h0M157.3 308.7h0M154.1 313.3h0M153.9 311.8h0M147.2 305.9h0M170.3 295.0h0M123.7 269.3h0M159.4 306.1h0M147.4 305.0h0M150.9 313.1h0M165.2 299.1h0M157.0 262.5h0M140.1 298.8h0M158.1 313.4h0M158.0 299.4h0M155.8 311.9h0M151.3 306.7h0M146.9 307.6h0M160.5 302.6h0M160.1 303.9h0M171.1 306.0h0M124.8 300.8h0M155.0 310.9h0M161.0 292.5h0M182.8 304.5h0M159.6 287.2h0M153.9 314.1h0M159.6 293.1h0M150.2 312.4h0M180.0 248.7h0M140.4 300.8h0M131.2 268.9h0M172.3 296.4h0M149.7 310.3h0M151.4 311.4h0M163.3 297.2h0M173.8 261.4h0M145.5 308.0h0M158.4 310.7h0M152.8 313.4h0M138.7 294.7h0M156.1 301.2h0M166.6 303.9h0M152.4 313.6h0M150.9 312.8h0M164.1 298.1h0M153.5 314.6h0M161.5 298.5h0M153.1 314.7h0M137.6 294.0h0M107.0 293.8h0M162.2 301.5h0M116.7 279.9h0M166.9 299.7h0M155.3 308.8h0M159.5 306.6h0M161.5 293.7h0M159.5 306.0h0M147.8 309.7h0M146.1 309.0h0M149.9 308.9h0M148.9 304.5h0M156.6 303.9h0M149.7 311.8h0M143.4 304.0h0M159.1 302.6h0M136.5 305.0h0M154.8 308.7h0M159.4 304.1h0M145.1 284.9h0M165.5 298.6h0M153.0 314.0h0M154.5 312.4h0M143.9 306.5h0M158.5 305.9h0M158.7 306.2h0M161.3 305.6h0M151.6 311.6h0M156.8 313.1h0M153.3 314.5h0M143.6 297.4h0M151.2 306.4h0M163.9 303.6h0M160.3 294.3h0M163.0 304.3h0M193.6 290.5h0M149.7 295.8h0M152.6 313.9h0M153.4 313.3h0M158.3 310.0h0M143.3 304.0h0M151.2 312.9h0M150.1 299.1h0M157.1 308.6h0M156.9 308.0h0M145.2 299.4h0M157.1 291.0h0" stroke="#8a8a8a" stroke-opacity="0.28" stroke-width="2.8" stroke-linecap="round" fill="none"/>
<path d="M167.9 274.9h0M145.1 307.2h0M145.9 308.0h0M154.2 312.5h0M149.3 313.4h0M153.9 310.8h0M154.2 313.7h0M156.5 279.8h0M162.4 294.0h0M128.8 283.6h0M159.8 305.2h0M149.7 292.2h0M160.6 304.3h0M176.5 281.9h0M151.8 306.0h0M151.1 296.8h0M146.5 304.7h0M154.0 311.8h0M169.5 303.9h0M145.0 302.1h0M152.7 313.2h0M165.9 299.7h0M158.1 310.8h0M152.8 314.3h0M151.4 310.5h0M149.1 297.0h0M128.8 302.2h0M174.1 302.0h0M125.7 278.4h0M147.6 308.0h0M159.2 299.4h0M136.0 278.2h0M153.2 314.8h0M150.2 311.4h0M160.7 296.3h0M148.8 281.9h0M150.1 283.4h0M166.6 295.0h0M156.8 304.9h0M156.3 295.6h0M152.2 312.5h0M157.8 293.2h0M140.0 276.3h0M164.8 299.3h0M145.1 281.2h0M160.8 302.3h0M147.2 306.0h0M146.7 300.1h0M186.5 271.5h0M152.8 314.4h0M132.7 304.3h0M132.2 289.9h0M132.5 290.4h0M137.5 302.7h0M153.9 314.2h0M159.3 306.6h0M162.5 304.0h0M149.3 304.8h0M143.3 290.4h0M153.0 314.0h0M142.2 301.0h0M147.9 293.2h0M162.6 304.3h0M155.9 311.1h0M181.8 292.1h0M156.7 311.6h0M124.0 258.7h0M167.4 308.0h0M198.7 279.1h0M138.1 251.1h0M153.5 313.8h0M158.1 306.5h0M160.7 309.3h0M157.0 281.2h0M150.3 309.9h0M193.7 251.4h0M186.5 291.6h0M150.9 312.8h0M155.8 308.4h0M150.2 309.7h0M164.2 303.0h0M180.2 251.0h0M177.1 262.1h0M150.0 309.2h0M133.6 302.3h0M141.8 304.1h0M152.0 312.1h0M147.0 303.1h0M162.5 306.8h0M149.7 297.8h0M139.7 306.4h0M172.8 292.0h0M150.1 309.1h0M152.8 313.5h0M147.4 308.6h0M132.0 290.8h0M155.3 309.4h0M180.8 304.4h0M151.4 304.4h0M146.8 307.8h0M154.9 309.8h0M152.5 312.9h0M153.8 313.8h0M148.5 298.1h0M133.2 292.2h0M152.4 313.4h0M157.5 310.3h0M167.1 308.7h0M149.4 311.7h0M151.2 311.6h0M161.8 305.2h0M152.6 314.4h0M135.9 276.3h0M145.6 307.3h0M154.5 313.4h0M128.0 296.7h0M146.5 300.1h0M151.8 313.5h0M151.3 313.8h0M152.7 313.4h0M160.1 312.0h0M151.5 313.4h0M139.1 298.9h0M142.4 287.6h0M164.9 303.8h0M143.9 300.0h0M146.3 293.7h0M151.4 313.3h0M144.9 301.6h0M161.0 307.7h0M161.1 297.6h0M194.5 295.0h0M109.0 261.2h0M151.9 303.6h0M150.4 295.4h0M138.1 299.5h0M153.6 313.2h0M152.0 312.8h0M176.0 288.2h0M128.9 301.6h0M162.1 304.6h0M151.6 312.5h0M161.1 308.3h0M155.3 310.1h0M132.1 289.0h0M151.1 306.8h0M149.4 237.1h0M150.4 312.3h0M153.0 314.6h0M147.6 311.2h0M152.4 314.2h0M210.5 263.7h0M153.3 314.5h0M154.7 311.4h0M113.7 255.7h0M157.8 300.2h0M146.0 288.7h0M148.9 311.7h0M137.1 246.7h0M147.7 307.7h0M152.2 313.5h0M105.4 281.7h0M166.3 310.0h0M143.1 294.2h0M156.1 308.5h0M176.1 282.7h0M163.3 303.9h0M146.2 262.2h0M151.4 312.2h0M150.0 311.7h0M159.1 310.1h0M145.9 288.0h0M144.9 303.8h0M125.7 258.4h0M161.9 299.2h0M125.3 272.3h0M153.1 314.6h0M167.2 293.0h0M170.3 296.5h0M139.9 248.5h0M146.5 308.6h0M155.7 308.7h0M159.7 284.4h0M150.6 294.3h0M127.8 298.1h0M157.5 309.9h0M152.1 314.3h0M149.4 302.3h0M170.1 294.6h0M105.3 293.0h0M165.1 267.0h0M148.3 302.0h0M152.0 312.5h0M155.3 312.6h0M161.4 307.7h0M160.3 307.1h0M149.9 313.1h0M145.3 305.5h0M138.9 300.8h0M155.2 305.0h0M148.8 289.4h0M157.0 311.7h0M151.9 313.3h0M152.2 308.5h0M126.8 254.9h0M154.6 300.3h0M125.7 297.6h0M152.1 312.5h0M150.2 307.1h0M154.5 311.8h0M112.9 292.7h0M157.5 303.0h0M160.1 311.4h0M157.7 299.7h0M148.9 307.5h0M154.9 311.5h0M149.5 303.3h0M153.7 311.7h0M154.5 308.5h0M166.6 173.0h0M173.4 291.3h0M142.7 285.2h0M153.8 314.0h0M144.3 302.5h0M136.9 280.8h0M156.6 312.1h0M149.6 306.8h0M148.1 309.8h0M150.7 306.7h0M128.1 283.8h0M157.5 285.5h0M159.1 307.9h0M152.6 314.3h0M149.2 304.8h0M177.9 294.9h0M146.4 309.5h0M164.0 305.5h0M159.4 308.8h0M163.2 299.4h0M146.5 308.2h0M145.6 303.5h0M112.0 279.5h0M157.5 303.2h0M145.5 302.0h0M162.1 304.9h0M179.0 284.4h0M145.2 308.3h0M173.3 290.9h0M155.6 310.3h0M147.2 306.7h0M215.8 267.4h0M151.5 312.3h0M153.0 314.5h0M160.1 308.5h0M151.0 310.6h0M160.6 311.9h0M155.5 309.8h0M157.0 268.9h0M154.0 312.6h0M144.9 308.0h0M113.7 253.8h0M159.3 250.0h0M173.3 294.2h0M153.8 311.4h0M142.3 299.0h0M162.9 305.6h0M157.8 286.7h0M161.4 291.6h0M151.6 308.8h0M163.9 297.8h0M156.3 301.8h0M149.6 311.5h0M151.4 313.1h0M154.3 307.6h0M132.1 284.2h0M141.7 309.7h0M165.9 302.8h0M151.4 308.4h0M148.9 306.8h0M160.6 294.8h0M155.6 312.6h0M153.3 314.6h0M158.4 286.9h0M126.0 287.7h0M184.9 285.9h0M160.6 308.5h0M157.1 311.4h0M152.1 308.8h0M159.3 309.8h0M152.1 314.0h0M155.4 302.4h0M161.2 266.4h0M153.5 314.5h0M164.7 294.6h0M123.4 278.3h0M157.8 252.5h0M151.8 313.0h0M155.0 310.4h0M138.1 300.7h0M155.3 306.9h0M154.4 310.0h0M149.2 309.3h0M153.8 311.6h0M155.6 303.1h0M175.6 290.2h0M135.4 291.6h0M151.0 305.2h0M152.1 313.9h0M150.2 310.3h0M137.7 289.8h0M146.9 304.7h0M133.3 293.8h0M158.9 303.2h0M167.1 301.2h0M156.0 308.7h0M153.3 314.7h0M152.7 312.7h0M146.0 302.0h0M146.4 307.6h0M149.2 309.0h0M127.6 298.0h0M170.7 294.2h0M162.1 303.2h0M157.6 311.1h0M161.8 287.1h0M150.1 310.8h0M151.2 304.5h0M180.8 252.0h0M168.4 290.2h0M121.5 261.8h0M152.4 313.1h0M149.2 301.3h0M153.0 314.2h0M144.7 290.7h0M138.6 294.1h0M175.0 290.7h0M118.9 263.1h0M155.3 312.7h0M154.0 313.8h0M172.9 294.4h0M129.9 288.0h0M149.8 302.4h0M138.7 301.3h0M149.1 279.5h0M130.0 263.0h0M163.9 302.6h0M143.8 301.6h0M148.0 302.8h0M160.9 305.5h0M110.8 289.0h0M148.9 301.1h0M156.2 274.1h0M148.4 295.2h0M158.8 297.6h0M162.2 276.6h0M152.8 312.7h0M125.5 279.5h0M143.8 299.1h0M156.1 309.3h0M138.7 301.4h0M160.2 307.0h0M139.5 294.0h0M160.8 302.0h0M151.3 312.6h0M144.5 299.6h0M156.3 311.5h0M151.2 312.6h0M154.8 312.5h0M151.3 306.5h0M192.7 287.1h0M157.9 311.1h0M153.7 314.4h0M155.3 309.0h0M145.2 272.8h0M143.4 300.5h0M159.6 304.3h0M161.4 268.6h0M155.0 311.8h0M174.5 296.8h0M149.1 300.8h0M148.6 304.9h0M141.8 296.8h0M153.5 314.2h0M150.7 302.2h0M145.8 292.5h0M160.2 281.6h0M157.7 307.7h0M147.2 294.1h0M143.5 292.4h0M154.9 313.6h0M153.1 314.4h0M157.7 302.1h0M131.7 283.3h0M152.2 309.9h0M157.1 300.0h0M179.9 278.5h0M151.5 304.4h0M174.7 291.6h0M170.2 286.5h0M119.9 295.6h0M151.5 306.8h0M153.5 314.7h0M152.6 311.7h0M157.6 294.8h0M157.0 297.2h0M126.2 283.8h0M162.3 302.4h0M158.9 303.6h0M166.8 301.0h0M180.0 282.8h0M154.1 313.4h0M157.5 309.3h0M151.3 304.0h0M156.8 306.8h0M149.6 305.5h0M154.6 313.7h0M158.3 294.2h0M166.2 298.4h0M155.7 288.8h0M153.6 313.2h0M147.7 304.8h0M151.8 313.2h0M151.7 313.3h0M160.6 307.0h0M147.7 307.8h0M146.8 309.2h0M156.5 298.7h0M146.8 298.2h0M152.1 312.1h0M160.9 303.8h0M124.5 275.3h0M147.9 294.1h0M149.7 271.7h0M151.6 306.2h0M168.5 296.4h0M133.8 287.4h0M162.7 306.7h0M134.5 281.3h0M159.0 306.6h0M136.4 289.5h0M155.9 308.5h0M157.4 306.2h0M138.4 296.7h0M131.6 287.3h0M151.4 314.1h0M153.2 314.7h0M142.3 304.4h0M107.8 282.4h0M151.2 299.9h0M164.8 302.4h0M165.5 273.7h0M158.0 269.5h0M144.1 292.7h0M160.0 306.3h0M152.7 311.5h0M133.2 274.2h0M164.9 308.3h0M151.3 312.8h0M154.0 311.8h0M165.9 306.1h0M178.4 290.1h0M155.2 306.8h0M152.5 313.9h0M174.7 290.3h0M153.6 314.4h0M156.5 304.4h0M151.8 312.2h0M148.6 309.7h0M178.0 271.4h0M151.6 309.4h0M143.8 297.9h0M134.9 294.2h0M144.2 305.5h0M156.4 301.4h0M152.0 312.5h0M149.6 302.3h0M160.0 308.7h0M158.5 295.0h0M162.9 299.0h0M188.2 289.8h0M148.0 304.2h0M148.3 303.4h0M135.6 290.5h0M147.0 309.8h0M122.8 266.2h0M203.7 290.7h0M154.8 313.2h0M166.2 301.2h0M151.7 312.9h0M150.8 308.6h0M145.0 306.1h0M130.9 302.1h0M153.6 314.4h0M157.7 308.2h0M153.6 314.5h0M110.3 264.0h0M151.1 300.4h0M133.9 287.1h0M149.9 308.8h0M157.0 308.7h0M145.9 303.3h0M143.0 294.6h0M142.9 291.2h0M151.0 310.0h0M143.7 304.5h0M172.3 286.5h0M154.9 311.7h0M145.1 304.8h0M168.9 299.7h0M137.0 275.7h0M158.9 291.4h0M162.9 295.7h0M170.3 289.2h0M149.5 303.9h0M180.5 280.9h0M147.4 304.0h0M147.7 268.8h0M151.2 312.6h0M179.1 292.7h0M152.9 313.4h0M152.1 308.7h0M168.5 266.1h0M151.7 313.0h0M136.0 277.2h0M149.3 309.6h0M128.2 280.2h0M143.4 305.3h0M162.8 288.1h0M177.6 282.9h0M144.6 305.8h0M155.0 313.4h0M157.5 305.0h0M144.2 296.4h0M157.0 305.8h0M167.6 297.3h0M148.2 277.2h0M132.6 276.2h0M154.2 313.8h0M156.7 288.0h0M141.3 291.5h0M164.3 292.9h0M146.0 306.0h0M134.5 290.4h0M149.2 310.7h0M139.9 309.3h0M153.4 314.6h0M148.9 310.5h0M148.9 311.5h0M171.2 290.1h0M149.7 294.6h0M201.5 290.0h0M161.3 307.7h0M152.7 313.5h0M156.3 299.7h0M155.7 309.3h0M163.2 302.1h0M141.9 298.3h0M153.1 314.6h0M168.1 298.0h0M156.5 305.0h0M150.7 312.5h0M154.5 312.6h0M160.2 294.8h0M152.8 312.2h0M158.0 303.5h0M149.6 310.2h0M144.8 308.5h0M158.7 306.2h0M154.4 311.8h0M182.5 271.0h0M155.5 306.3h0M156.5 308.8h0M153.3 314.5h0M131.5 282.2h0M178.9 293.1h0M164.2 304.8h0M160.9 289.1h0M143.4 297.9h0M155.7 313.4h0M174.7 271.8h0M148.0 304.0h0M154.4 311.1h0M154.9 308.8h0M149.8 303.6h0M150.5 297.3h0M148.3 306.5h0M152.0 311.8h0M161.7 303.1h0M154.6 312.4h0M151.9 312.1h0M148.5 286.8h0M145.5 299.2h0M148.0 307.9h0M146.1 303.5h0M169.3 295.5h0M151.0 309.6h0M155.7 305.6h0M149.1 279.3h0M161.2 303.9h0M148.9 307.2h0M144.1 299.9h0M136.8 298.7h0M148.2 292.2h0M150.0 291.6h0M151.5 310.8h0M167.8 296.8h0M135.1 295.1h0M161.5 303.5h0M161.1 298.8h0M146.9 237.9h0M143.0 301.0h0M156.2 310.2h0M161.9 307.8h0M149.6 311.5h0M154.1 312.9h0M157.2 313.5h0M133.5 289.3h0M139.6 161.6h0M166.2 279.4h0M162.7 304.0h0M135.1 303.3h0M145.4 305.8h0M144.2 306.1h0M167.0 298.4h0M157.6 306.6h0M136.5 294.2h0M162.5 282.9h0M153.6 314.1h0M151.8 306.6h0M181.2 296.7h0M154.9 311.3h0M162.2 304.9h0M153.6 314.4h0M139.7 301.2h0M159.8 307.5h0M146.3 277.7h0M152.0 313.4h0M152.2 313.4h0M184.8 301.4h0M147.1 223.5h0M129.4 283.4h0M164.2 283.2h0M145.6 276.5h0M149.3 269.9h0M154.5 313.2h0M186.4 290.9h0M161.1 304.7h0M157.6 313.1h0M152.6 312.3h0M161.5 304.2h0M151.7 312.1h0M161.6 286.8h0M142.6 310.8h0M171.8 294.7h0M154.8 312.5h0M152.2 307.0h0M154.8 306.7h0M159.5 306.7h0M156.8 312.1h0M151.2 308.7h0M150.0 306.1h0M156.4 280.0h0M153.6 313.7h0M153.9 312.2h0M155.5 298.3h0M146.9 307.6h0M158.7 277.5h0M151.5 309.8h0M149.9 312.1h0M168.7 295.3h0M158.1 284.1h0M96.6 281.0h0M188.5 296.0h0M151.0 313.0h0M148.4 263.4h0M131.5 293.7h0M143.7 304.6h0M154.5 313.4h0M160.2 307.6h0M146.5 308.3h0M161.2 305.3h0M140.8 301.5h0M133.9 286.3h0M150.7 309.4h0M162.5 309.3h0M154.4 313.9h0M152.9 313.1h0M187.0 264.5h0M136.0 273.6h0M166.3 290.9h0M145.1 306.1h0M148.7 310.0h0M153.2 314.6h0M157.8 309.0h0M144.4 302.2h0M163.3 301.6h0M156.0 308.2h0M147.4 307.7h0M150.8 310.8h0M172.3 293.5h0M146.2 309.0h0M149.5 310.5h0M164.1 289.1h0M156.2 307.9h0M135.9 270.8h0M168.6 293.6h0M152.6 314.4h0M161.5 299.3h0M131.0 275.0h0M162.3 298.1h0M160.0 311.4h0M136.3 284.1h0M190.9 293.6h0M147.8 309.5h0M174.9 304.1h0M158.6 303.7h0M201.8 284.2h0M170.5 294.7h0M161.4 300.1h0M170.1 305.3h0M129.1 287.1h0M151.2 313.3h0M151.4 311.6h0M162.7 287.2h0M148.0 296.9h0M138.7 300.1h0M146.0 285.1h0M155.0 312.6h0M149.0 308.3h0M155.0 308.8h0M168.0 306.0h0M157.6 305.0h0M152.6 312.1h0M157.7 304.8h0M151.0 308.3h0M154.2 312.0h0M180.0 303.7h0M146.9 269.4h0M157.9 304.6h0M134.0 275.2h0M150.0 283.4h0M166.0 300.7h0M178.1 292.6h0M171.4 308.0h0M150.5 311.9h0M142.8 277.1h0M156.5 305.8h0M153.9 314.1h0M156.8 306.5h0M156.2 312.7h0M129.9 295.3h0M154.6 307.5h0M192.9 295.8h0M152.9 312.4h0M163.0 302.1h0M147.6 310.2h0M155.3 308.6h0M152.2 307.0h0M141.9 291.8h0M167.7 291.1h0M170.1 307.6h0M152.9 312.5h0M166.8 286.7h0M150.8 308.9h0M151.2 306.3h0M149.4 303.9h0M153.1 314.5h0M146.4 293.4h0M182.3 299.6h0M150.9 307.7h0M165.2 304.1h0M119.9 277.3h0M154.7 313.3h0M140.3 300.7h0M198.9 286.3h0M158.4 306.9h0M153.7 314.4h0M142.6 303.9h0M143.7 305.4h0M161.6 301.6h0M154.2 313.3h0M154.9 313.9h0M126.3 303.9h0M152.8 313.6h0M154.1 311.9h0M154.5 313.2h0M145.6 303.6h0M158.4 306.5h0M158.5 308.9h0M170.4 299.5h0M144.7 264.7h0M141.3 304.3h0M147.9 308.1h0M156.8 296.9h0M162.1 294.6h0M159.0 302.5h0M176.1 261.1h0M123.5 268.0h0M153.9 311.0h0M157.0 311.8h0M134.8 265.4h0M155.5 313.1h0M149.8 303.9h0M152.4 312.1h0M150.1 311.0h0M147.2 300.5h0M163.2 297.8h0M155.6 289.0h0M143.5 211.3h0M159.7 298.4h0M170.1 294.5h0M158.9 307.9h0M162.7 281.5h0M154.0 312.8h0M147.9 309.0h0M113.8 262.0h0M147.8 293.9h0M142.1 304.2h0M153.3 314.3h0M164.2 303.1h0M155.1 303.1h0M161.9 311.0h0M170.9 284.5h0M155.7 301.5h0M161.9 304.1h0M163.2 276.6h0M159.8 303.5h0M169.0 299.3h0M152.5 312.2h0M164.5 261.3h0M153.7 314.2h0M174.6 265.5h0M145.0 291.3h0M143.0 266.0h0M153.0 314.7h0M166.2 290.4h0M133.8 304.8h0M148.9 311.3h0M144.4 306.6h0M157.6 310.0h0M146.4 282.4h0M164.1 302.4h0M154.1 308.6h0M118.1 279.3h0M151.4 311.4h0M149.7 299.3h0M155.2 307.3h0M156.9 306.2h0M164.6 303.5h0M163.4 306.0h0M156.8 302.3h0M149.8 308.6h0M125.0 279.6h0M157.0 311.1h0M154.0 310.4h0M147.5 308.8h0M161.8 279.2h0M149.2 293.4h0M154.9 309.9h0M159.6 280.2h0M153.2 314.5h0M150.3 306.6h0M157.1 304.7h0M153.5 314.3h0M150.8 297.5h0M157.2 310.3h0M171.9 276.1h0M153.2 314.8h0M144.3 306.7h0M150.7 295.7h0M152.9 314.1h0M137.5 270.9h0M149.0 285.5h0M151.4 312.9h0M176.8 297.1h0M167.7 300.9h0M138.2 292.5h0M176.5 271.7h0M149.8 312.0h0M163.0 293.5h0M161.3 306.0h0M150.7 312.3h0M157.6 302.2h0M162.0 311.3h0M146.6 306.4h0M124.4 292.4h0M139.0 294.2h0M171.5 265.9h0M145.4 309.3h0M160.9 284.0h0M157.4 308.1h0M150.6 310.8h0M166.9 301.7h0M169.9 295.3h0M166.6 302.3h0M152.2 308.0h0M159.5 309.3h0M150.5 310.1h0M147.6 310.3h0M142.4 304.5h0M159.0 311.0h0M156.7 310.2h0M112.1 271.7h0M155.2 312.4h0M153.3 314.4h0M152.8 313.6h0M162.5 275.4h0M154.0 309.4h0M142.5 298.1h0M153.5 314.5h0M153.5 314.6h0M146.1 308.7h0M158.6 310.1h0M145.3 306.3h0M154.0 314.2h0M98.4 273.9h0M143.7 299.1h0M149.4 310.9h0M159.8 308.2h0M157.1 304.6h0M157.4 310.3h0M195.1 288.5h0M108.6 266.5h0M136.3 295.3h0M149.4 307.7h0M147.3 308.6h0M149.0 293.1h0M170.0 297.6h0M152.2 308.4h0M150.0 308.8h0M149.8 302.1h0M161.0 308.4h0M143.1 305.7h0M158.6 308.3h0M146.7 308.6h0M148.2 300.4h0M145.3 306.6h0M159.3 295.4h0M160.3 306.6h0M141.3 299.1h0M153.5 313.8h0M143.1 280.1h0M149.6 312.0h0M161.7 294.1h0M130.0 286.3h0M148.8 308.2h0M147.2 297.8h0M166.1 291.4h0M156.0 309.3h0M162.0 298.4h0M153.4 313.2h0M130.4 300.2h0M164.6 289.8h0M135.9 263.9h0M154.5 311.7h0M147.1 309.3h0M150.3 311.9h0M151.8 310.2h0M135.8 274.6h0M191.8 290.1h0M134.5 302.4h0M207.6 275.4h0M151.6 308.9h0M155.9 297.9h0M141.3 308.6h0M159.5 271.4h0M147.5 310.0h0M175.4 279.6h0M146.7 270.6h0M128.8 286.3h0M174.3 274.5h0M139.1 307.9h0M169.4 307.7h0M140.0 289.8h0M143.6 260.1h0M156.5 288.9h0M149.9 311.9h0M159.6 303.7h0M162.1 302.9h0M153.4 314.1h0M153.6 313.9h0M82.4 251.0h0M161.2 250.8h0M147.4 277.1h0M175.2 284.6h0M153.9 313.6h0M156.3 304.5h0M160.8 306.9h0M153.0 314.3h0M155.0 307.8h0M157.1 311.4h0M141.3 239.5h0M156.9 311.6h0M151.2 312.5h0M163.6 304.2h0M155.3 300.3h0M156.8 289.1h0M152.6 312.1h0M174.5 286.3h0M162.3 304.9h0M182.3 276.5h0M164.2 277.8h0M156.9 309.5h0M141.2 300.8h0M151.6 305.3h0M135.3 287.0h0M150.8 312.6h0M111.0 279.4h0M143.1 304.8h0M148.7 311.8h0M153.5 314.6h0M153.6 314.2h0M148.0 311.3h0M148.7 307.0h0M163.6 303.2h0M149.3 273.4h0M148.5 306.1h0M149.7 312.2h0M149.8 311.9h0M183.6 262.0h0M138.4 296.6h0M134.0 294.2h0M139.0 279.7h0M151.6 307.7h0M164.2 309.8h0M166.5 300.9h0M136.6 304.0h0M158.1 296.9h0M158.3 307.8h0M150.3 297.4h0M159.8 308.7h0M146.0 302.8h0M131.0 271.4h0M156.6 300.8h0M147.0 310.8h0M152.0 305.6h0M153.6 313.7h0M144.6 303.9h0M157.8 306.3h0M157.5 283.2h0M140.3 299.9h0M147.8 268.1h0M175.4 299.8h0M178.0 303.2h0M144.9 295.2h0M157.4 307.3h0M153.7 312.4h0M148.9 311.1h0M157.1 312.2h0M161.5 305.8h0M145.2 294.7h0M150.6 299.0h0M128.4 294.9h0M150.5 311.4h0M142.6 305.5h0M118.8 275.8h0M157.0 311.3h0M139.3 299.4h0M151.2 306.6h0M151.6 311.9h0M153.9 314.4h0M157.4 304.4h0M165.3 301.5h0M171.7 286.8h0M163.9 304.7h0M147.9 300.6h0M165.5 302.3h0M131.5 305.2h0M160.8 312.1h0M149.9 312.4h0M151.7 307.9h0M160.1 302.2h0M179.9 294.9h0M150.2 311.7h0M156.8 296.5h0M163.2 305.0h0M151.5 303.4h0M174.8 297.9h0M150.7 306.7h0M142.0 299.6h0M163.2 295.0h0M161.5 308.7h0M133.3 301.7h0M150.3 312.2h0M160.0 265.0h0M155.1 310.1h0M172.2 288.6h0M153.2 314.8h0M155.5 306.7h0M141.4 303.7h0M124.4 256.3h0M166.6 299.5h0M152.7 313.2h0M136.0 290.9h0M151.7 311.6h0M189.6 272.1h0M151.3 306.9h0M155.0 309.6h0M158.2 310.7h0M152.3 311.9h0M162.9 298.8h0M151.8 306.7h0M148.8 309.8h0M115.8 296.6h0M153.0 314.6h0M143.8 300.4h0M151.7 300.9h0M140.7 309.5h0M154.2 312.4h0M176.3 279.4h0M119.2 300.9h0M153.6 314.1h0M146.9 298.1h0M137.6 304.6h0M158.1 309.4h0M147.9 308.3h0M153.9 314.3h0M165.8 302.5h0M125.3 300.1h0M144.1 294.1h0M154.4 313.4h0M155.5 307.4h0M142.6 303.3h0M155.7 301.8h0M141.9 303.3h0M139.6 300.9h0M182.1 266.3h0M170.9 301.2h0M171.0 289.6h0M156.0 309.4h0M156.2 312.6h0M155.7 310.5h0M184.3 299.2h0M123.3 262.1h0M162.6 305.9h0M163.3 303.3h0M149.6 312.3h0M135.8 290.6h0M167.1 286.4h0M151.1 311.7h0M148.7 308.3h0M164.4 300.6h0M152.6 312.4h0M118.8 272.7h0M151.5 313.1h0" stroke="#8a8a8a" stroke-opacity="0.28" stroke-width="2.8" stroke-linecap="round" fill="none"/>
<path d="M161.0 301.7h0M148.8 311.2h0M176.3 301.7h0M140.7 303.2h0M138.9 298.8h0M132.7 297.0h0M158.3 313.1h0M151.7 312.6h0M153.6 312.6h0M154.8 313.0h0M154.6 313.6h0M150.1 312.5h0M168.3 308.4h0M170.5 291.1h0M185.7 281.1h0M155.2 313.9h0M183.1 272.2h0M154.8 306.1h0M153.5 314.1h0M136.0 293.7h0M159.0 311.2h0M150.3 309.1h0M150.3 312.5h0M144.0 296.3h0M149.1 303.1h0M173.0 293.9h0M137.5 298.3h0M155.2 310.9h0M131.8 273.1h0M142.8 280.1h0M156.3 304.1h0M155.9 298.4h0M153.1 314.7h0M145.3 304.9h0M155.1 302.1h0M153.9 313.0h0M165.3 300.0h0M149.4 311.4h0M124.4 281.6h0M171.9 290.7h0M147.8 273.8h0M152.0 312.8h0M174.3 288.2h0M171.7 272.2h0M170.1 295.1h0M156.2 310.3h0M133.0 285.1h0M148.7 308.3h0M147.9 293.9h0M151.0 312.6h0M147.8 310.4h0M152.9 314.5h0M149.9 291.5h0M171.1 291.9h0M147.8 292.1h0M133.8 294.5h0M151.5 312.0h0M153.7 313.0h0M154.4 312.6h0M151.3 310.9h0M141.9 290.8h0M151.4 306.8h0M155.4 300.5h0M159.1 310.1h0M153.7 314.4h0M168.2 300.6h0M155.8 312.9h0M133.0 301.0h0M151.0 310.4h0M173.7 287.1h0M151.1 307.5h0M148.7 307.2h0M145.7 238.7h0M154.7 313.3h0M152.6 314.4h0M155.5 311.0h0M149.6 305.0h0M150.4 313.7h0M157.7 300.0h0M172.7 292.5h0M159.3 305.3h0M149.1 311.5h0M148.1 310.6h0M148.5 304.3h0M147.2 307.0h0M152.5 313.8h0M163.0 299.4h0M151.9 310.5h0M164.0 303.9h0M149.3 310.4h0M163.9 298.6h0M151.4 308.3h0M153.2 314.7h0M156.7 310.7h0M127.6 280.7h0M154.7 314.2h0M160.8 301.0h0M152.8 313.5h0M170.7 295.1h0M131.2 286.3h0M149.7 313.0h0M128.7 285.3h0M190.1 299.0h0M148.8 290.0h0M140.5 293.4h0M149.7 286.8h0M160.0 307.9h0M154.0 312.7h0M153.4 314.7h0M173.8 278.9h0M140.0 300.2h0M123.4 272.9h0M136.5 303.2h0M153.7 314.0h0M126.9 265.5h0M156.6 307.4h0M165.0 289.6h0M201.5 282.5h0M153.9 314.5h0M173.6 304.2h0M130.5 301.1h0M139.2 275.0h0M154.7 312.4h0M153.5 313.7h0M148.0 308.5h0M154.9 313.3h0M153.5 313.8h0M171.0 295.6h0M147.7 312.9h0M145.7 286.2h0M151.3 310.8h0M166.1 289.3h0M151.7 313.7h0M150.3 295.0h0M168.7 308.0h0M159.2 288.9h0M162.0 290.9h0M144.8 306.8h0M151.8 303.7h0M150.3 306.0h0M181.0 297.6h0M152.5 314.0h0M143.4 305.3h0M157.9 287.1h0M160.5 298.3h0M152.7 314.4h0M159.2 309.9h0M149.2 311.5h0M151.1 311.7h0M155.3 311.0h0M128.1 282.1h0M168.3 287.3h0M157.6 310.9h0M171.5 295.8h0M138.7 262.8h0M164.4 292.2h0M154.7 308.7h0M155.3 306.7h0M156.5 292.6h0M155.0 309.7h0M152.5 311.0h0M143.0 303.2h0M144.2 302.2h0M150.5 308.4h0M166.1 305.3h0M158.7 299.2h0M155.6 306.6h0M151.2 312.9h0M138.3 300.6h0M151.2 310.9h0M151.8 313.2h0M121.3 294.8h0M127.5 282.7h0M156.4 307.4h0M147.6 307.1h0M153.6 314.5h0M151.4 312.5h0M135.8 297.7h0M166.4 295.0h0M154.7 309.0h0M152.9 313.7h0M148.6 267.4h0M154.9 308.4h0M154.0 312.4h0M137.5 297.2h0M149.5 311.9h0M166.1 291.6h0M142.1 305.5h0M170.1 304.9h0M158.3 297.4h0M146.5 301.5h0M158.4 306.3h0M154.2 310.5h0M99.4 274.3h0M161.8 284.7h0M149.8 312.5h0M141.7 304.0h0M158.4 302.7h0M130.2 268.6h0M130.6 288.6h0M139.4 226.8h0M162.7 308.3h0M149.6 296.5h0M163.2 300.3h0M141.4 297.6h0M147.8 291.4h0M132.9 291.3h0M155.9 311.5h0M144.2 300.8h0M157.0 309.6h0M136.8 291.5h0M170.3 293.2h0M158.0 301.2h0M154.4 309.6h0M156.3 303.8h0M154.2 314.0h0M155.0 307.3h0M151.9 310.1h0M143.5 304.4h0M180.6 297.2h0M144.4 307.3h0M161.8 306.6h0M156.1 313.3h0M131.2 292.0h0M150.5 310.5h0M149.6 310.8h0M150.8 289.5h0M153.4 314.4h0M165.2 300.6h0M145.3 288.9h0M156.1 312.2h0M150.8 304.4h0M161.7 290.5h0M161.6 271.8h0M129.9 273.1h0M133.2 275.7h0M154.1 312.3h0M156.2 305.1h0M149.1 313.1h0M141.3 284.4h0M134.9 306.3h0M159.8 307.3h0M155.2 311.6h0M147.9 309.6h0M154.2 314.1h0M159.4 298.1h0M148.4 279.1h0M153.2 314.8h0M176.9 269.7h0M156.1 295.7h0M178.2 295.4h0M168.3 274.0h0M152.7 314.4h0M145.7 308.8h0M154.2 308.4h0M168.5 288.7h0M146.4 297.7h0M156.2 298.1h0M188.7 296.3h0M150.9 309.3h0M150.5 312.1h0M214.4 269.1h0M158.7 302.8h0M155.8 300.2h0M164.6 303.5h0M153.6 312.2h0M149.8 311.4h0M139.4 259.4h0M158.4 277.3h0M142.0 304.8h0M179.7 299.1h0M139.4 301.4h0M168.9 298.4h0M145.8 287.9h0M151.6 312.7h0M141.3 291.5h0M186.8 270.5h0M153.4 313.9h0M96.4 281.8h0M150.5 312.3h0M137.1 298.4h0M145.0 303.8h0M143.2 310.5h0M151.8 313.0h0M155.7 309.8h0M156.8 309.5h0M148.2 306.1h0M131.5 285.7h0M150.7 311.1h0M127.6 290.9h0M155.5 309.5h0M150.8 311.8h0M158.0 300.9h0M161.8 286.0h0M146.9 304.4h0M152.4 309.8h0M152.4 312.7h0M151.2 299.3h0M163.6 301.3h0M156.4 299.2h0M129.0 303.4h0M140.8 295.4h0M144.0 299.5h0M173.8 254.7h0M159.2 310.8h0M145.1 307.8h0M153.0 314.4h0M149.4 304.2h0M155.4 310.9h0M141.2 300.0h0M155.3 311.7h0M154.5 310.6h0M163.9 304.3h0M124.3 268.7h0M145.1 302.7h0M139.9 309.1h0M150.8 314.1h0M158.3 309.9h0M136.8 308.6h0M154.1 308.6h0M108.0 293.3h0M150.5 312.2h0M151.5 313.4h0M154.8 309.9h0M154.0 313.5h0M148.5 305.5h0M152.7 314.4h0M129.3 285.1h0M175.8 282.9h0M141.5 297.3h0M179.1 303.4h0M171.4 283.6h0M133.6 292.1h0M132.1 290.9h0M163.8 264.7h0M157.0 289.9h0M176.2 280.2h0M151.5 312.6h0M141.7 305.6h0M152.6 309.2h0M151.2 312.4h0M161.5 307.6h0M148.0 305.8h0M150.7 309.7h0M155.9 310.5h0M140.7 282.2h0M160.8 302.6h0M164.0 298.7h0M159.1 299.9h0M153.1 314.3h0M143.5 290.8h0M155.4 310.9h0M157.5 307.7h0M150.0 309.1h0M154.2 307.5h0M174.9 304.8h0M117.0 291.9h0M154.4 311.3h0M151.9 310.9h0M154.2 314.0h0M186.6 281.4h0M165.6 268.3h0M155.3 307.0h0M151.0 311.6h0M146.1 307.4h0M147.1 309.3h0M170.4 307.5h0M162.9 305.0h0M157.8 309.1h0M157.7 292.4h0M133.0 293.4h0M150.4 309.0h0M135.8 306.3h0M161.6 299.7h0M148.4 303.9h0M140.5 289.9h0M142.6 304.4h0M140.2 301.4h0M128.1 277.7h0M123.9 291.1h0M176.8 274.9h0M211.5 282.1h0M154.7 310.4h0M148.3 308.0h0M149.5 311.5h0M149.3 311.1h0M158.7 289.0h0M154.0 311.2h0M144.2 304.0h0M159.9 300.6h0M152.1 312.1h0M148.0 309.2h0M147.0 302.7h0M154.1 312.1h0M142.1 262.6h0M156.7 311.3h0M141.0 269.0h0M153.1 314.2h0M135.4 296.9h0M157.0 293.1h0M159.0 302.0h0M144.8 289.1h0M152.1 313.0h0M153.7 313.0h0M148.5 310.9h0M151.2 309.9h0M143.1 306.1h0M140.6 279.3h0M153.1 314.5h0M159.4 307.9h0M143.1 293.1h0M157.0 310.3h0M153.3 314.7h0M149.8 312.8h0M142.7 304.7h0M155.4 313.3h0M163.5 304.3h0M156.5 299.6h0M120.7 294.0h0M151.1 313.2h0M156.5 305.6h0M162.9 300.1h0M165.3 305.6h0M157.0 311.6h0M145.8 299.0h0M142.8 290.1h0M129.2 275.5h0M187.1 255.2h0M150.1 304.3h0M149.5 303.9h0M150.5 298.5h0M126.2 280.7h0M144.1 304.0h0M162.4 306.5h0M148.9 309.3h0M167.8 288.3h0M160.8 304.6h0M156.1 312.0h0M132.1 269.6h0M177.7 283.2h0M152.0 308.8h0M149.8 306.7h0M164.5 300.7h0M150.5 308.8h0M167.6 297.5h0M152.5 311.8h0M146.6 298.6h0M220.7 269.1h0M140.3 283.6h0M154.0 313.1h0M156.0 306.2h0M147.1 297.4h0M159.6 309.4h0M146.9 307.8h0M164.9 290.7h0M198.8 286.8h0M152.9 314.6h0M158.4 287.5h0M160.3 298.1h0M192.4 289.4h0M150.4 311.7h0M152.9 314.2h0M168.6 279.0h0M148.2 300.8h0M151.5 302.4h0M152.8 314.4h0M155.6 312.8h0M157.6 309.2h0M157.0 311.7h0M130.9 300.4h0M152.0 309.8h0M152.3 313.8h0M162.1 307.0h0M159.8 287.7h0M167.0 300.7h0M175.2 275.8h0M154.3 313.2h0M133.2 293.9h0M166.4 279.1h0M189.7 299.8h0M155.7 309.5h0M148.2 309.7h0M165.9 258.3h0M168.0 290.9h0M155.9 313.3h0M151.6 304.1h0M141.3 298.2h0M154.4 311.8h0M162.7 310.1h0M135.0 297.2h0M168.0 297.6h0M169.1 299.8h0M153.0 314.5h0M151.7 313.5h0M157.9 307.7h0M141.9 303.2h0M152.1 314.0h0M152.6 313.3h0M147.1 305.8h0M152.1 311.2h0M152.9 314.2h0M152.3 308.6h0M153.8 313.8h0M155.2 313.4h0M137.2 300.4h0M170.4 290.8h0M152.5 313.8h0M168.1 301.2h0M152.9 314.4h0M152.6 314.4h0M171.3 295.0h0M142.4 303.5h0M169.8 297.4h0M163.9 305.1h0M157.6 309.1h0M147.9 302.7h0M149.9 309.7h0M145.2 301.3h0M154.6 309.2h0M148.1 308.3h0M159.8 308.5h0M158.9 303.6h0M152.7 314.2h0M157.9 305.5h0M138.0 297.9h0M157.8 310.8h0M161.5 293.6h0M149.8 306.7h0M155.3 307.3h0M137.4 299.5h0M167.0 284.9h0M150.6 307.2h0M171.8 290.6h0M167.7 291.4h0M156.7 310.4h0M154.6 313.1h0M155.9 309.7h0M163.7 304.7h0M151.2 312.3h0M150.4 311.8h0M134.2 288.7h0M134.7 304.1h0M139.9 298.3h0M154.7 312.2h0M154.7 312.6h0M167.1 310.3h0M176.8 275.4h0M154.3 311.7h0M149.4 311.6h0M141.5 285.3h0M144.4 306.6h0M152.4 313.1h0M151.7 307.9h0M147.3 305.2h0M159.1 305.7h0M166.5 300.5h0M182.2 265.6h0M149.9 311.9h0M188.0 299.6h0M149.5 308.2h0M181.2 277.1h0M143.6 291.7h0M152.6 313.5h0M163.9 293.0h0M145.5 307.3h0M137.8 291.3h0M150.1 312.7h0M152.4 314.2h0M167.2 280.3h0M159.4 280.2h0M146.9 296.5h0M166.3 291.9h0M157.3 281.9h0M150.2 309.2h0M157.4 310.7h0M164.2 297.2h0M153.1 314.3h0M141.4 297.0h0M162.7 294.0h0M171.5 294.9h0M150.0 310.7h0M151.8 311.3h0M147.0 308.1h0M137.8 299.6h0M125.9 298.9h0M142.7 301.0h0M154.1 313.7h0M165.1 298.6h0M171.7 270.1h0M145.9 305.6h0M141.8 303.7h0M133.8 293.3h0M151.4 312.8h0M156.2 311.6h0M141.8 302.3h0M160.2 292.9h0M148.4 306.5h0M108.4 281.6h0M155.4 312.0h0M163.0 298.2h0M177.5 292.4h0M161.2 282.5h0M170.0 258.3h0M138.6 294.9h0M124.4 296.4h0M151.7 303.1h0M143.6 305.0h0M151.9 314.2h0M151.7 313.4h0M166.7 262.2h0M152.1 310.1h0M152.0 313.4h0M152.7 311.8h0M123.4 291.5h0M163.5 303.1h0M150.1 310.2h0M150.5 310.6h0M149.4 297.5h0M147.0 307.6h0M164.8 294.5h0M162.9 296.1h0M187.3 269.3h0M152.8 314.5h0M152.7 314.4h0M154.6 308.1h0M162.4 303.9h0M164.1 285.7h0M149.9 310.5h0M158.8 312.7h0M147.1 295.4h0M180.6 278.7h0M153.9 314.3h0M156.9 313.3h0M130.6 304.9h0M158.1 308.6h0M157.2 297.9h0M155.2 305.8h0M140.1 302.9h0M149.9 311.1h0M136.5 298.1h0M142.4 305.4h0M159.1 304.9h0M147.1 309.6h0M153.6 314.5h0M149.7 312.5h0M142.9 309.4h0M167.8 300.1h0M154.3 313.8h0M153.6 314.4h0M157.2 310.0h0M164.8 277.9h0M161.2 281.1h0M150.9 313.5h0M150.4 310.5h0M155.9 310.4h0M168.2 297.4h0M141.7 304.4h0M150.9 291.2h0M171.2 284.3h0M153.0 313.9h0M153.6 314.0h0M141.8 279.1h0M151.4 311.5h0M145.4 289.2h0M184.0 275.0h0M148.6 309.9h0M147.4 291.5h0M154.9 309.8h0M154.8 310.6h0M86.7 249.3h0M163.2 278.6h0M134.7 278.3h0M134.1 292.2h0M145.6 284.6h0M154.8 303.8h0M147.4 285.7h0M152.8 314.5h0M159.1 309.0h0M151.5 313.2h0M151.9 312.8h0M155.8 301.8h0M141.7 268.9h0M173.8 301.9h0M165.4 301.5h0M153.6 314.1h0M118.3 285.0h0M99.0 290.6h0M129.7 304.4h0M153.5 314.4h0M170.1 291.9h0M138.3 306.3h0M130.6 290.7h0M161.8 300.9h0M160.5 307.6h0M160.4 302.5h0M157.3 266.5h0M146.5 291.8h0M159.4 297.4h0M152.6 313.9h0M159.5 289.7h0M187.3 293.2h0M148.9 292.6h0M156.0 311.6h0M165.3 293.8h0M156.2 312.7h0M159.3 295.7h0M162.4 306.7h0M148.1 293.4h0M163.3 303.1h0M156.5 300.5h0M148.2 304.6h0M141.6 304.6h0M178.2 300.9h0M166.2 286.9h0M149.8 309.1h0M144.0 311.4h0M155.3 303.3h0M166.7 302.2h0M150.5 310.7h0M152.6 310.5h0M151.1 308.8h0M150.4 287.8h0M162.5 301.7h0M175.5 279.8h0M145.5 305.1h0M186.7 253.4h0M157.2 305.5h0M152.3 313.0h0M131.2 260.7h0M137.9 292.0h0M157.8 304.0h0M138.1 285.8h0M158.2 308.0h0M147.1 307.7h0M188.1 263.0h0M151.0 299.4h0M134.9 305.6h0M153.0 314.6h0M204.5 278.0h0M145.1 302.9h0M154.9 311.9h0M158.0 310.3h0M183.8 273.9h0M156.0 302.6h0M157.8 311.3h0M156.4 310.1h0M155.3 301.7h0M156.9 310.8h0M156.9 303.4h0M149.0 303.2h0M169.0 290.6h0M139.3 280.4h0M151.7 313.3h0M139.4 294.1h0M173.5 291.5h0M149.6 294.2h0M142.1 303.2h0M134.3 294.2h0M153.0 314.6h0M163.8 210.3h0M168.3 295.5h0M141.2 309.5h0M155.7 310.8h0M130.2 295.3h0M153.3 314.7h0M149.3 288.5h0M120.6 300.9h0M157.9 307.8h0M166.9 296.9h0M149.6 287.2h0M160.4 305.5h0M155.6 309.3h0M133.1 287.0h0M180.7 269.7h0M151.7 313.2h0M172.9 270.9h0M151.6 302.4h0M158.1 296.7h0M146.7 303.0h0M151.9 311.7h0M134.0 292.3h0M157.3 304.0h0M129.1 301.2h0M178.2 301.9h0M168.3 284.0h0M149.9 312.1h0M139.0 293.4h0M155.8 311.8h0M135.6 295.3h0M193.9 279.1h0M191.7 300.4h0M142.5 288.1h0M153.1 314.6h0M155.2 312.5h0M161.0 306.9h0M153.6 314.4h0M170.4 294.4h0M154.2 313.7h0M159.4 309.9h0M148.1 312.7h0M143.9 289.9h0M166.0 297.5h0M158.2 309.4h0M171.6 286.9h0M154.6 314.1h0M148.0 310.8h0M143.8 289.9h0M143.4 305.9h0M154.9 309.6h0M146.7 302.4h0M171.4 287.5h0M153.6 314.4h0M152.6 314.2h0M146.5 301.6h0M155.2 295.2h0M148.6 310.8h0M164.8 304.0h0M143.6 300.6h0M152.6 314.1h0M146.1 263.9h0M142.2 297.4h0M155.1 312.8h0M152.9 314.1h0M166.6 298.4h0M180.9 278.3h0M153.1 314.7h0M177.3 283.1h0M141.8 298.1h0M151.6 311.8h0M156.6 311.6h0M145.9 306.8h0M182.1 303.8h0M151.7 306.4h0M168.8 298.3h0M151.6 311.8h0M151.3 312.7h0M160.5 307.1h0M164.3 298.1h0M172.1 276.9h0M144.7 307.2h0M142.9 304.0h0M150.6 310.5h0M155.4 311.1h0M158.1 301.7h0M161.5 285.3h0M161.7 304.0h0M161.4 303.6h0M154.4 309.0h0M170.1 300.6h0M148.9 306.8h0M184.5 272.8h0M137.9 295.7h0M153.7 311.4h0M128.3 286.9h0M156.4 311.6h0M141.8 292.9h0M142.8 281.2h0M148.2 305.0h0M155.8 312.1h0M159.1 310.2h0M178.5 282.2h0M166.1 300.8h0M170.9 307.3h0M152.6 312.2h0M163.6 296.0h0M152.7 314.2h0M142.5 300.7h0M157.8 291.8h0M144.5 290.7h0M153.8 310.3h0M163.8 301.3h0M146.1 301.6h0M164.2 305.0h0M153.9 310.6h0M139.8 299.4h0M132.8 286.7h0M155.3 312.7h0M156.9 310.8h0M146.7 301.9h0M181.3 280.2h0M162.4 301.5h0M174.0 287.1h0M165.5 277.1h0M174.3 292.6h0M188.4 263.2h0M164.3 300.3h0M167.4 147.3h0M151.2 303.2h0M152.0 308.4h0M178.6 299.6h0M159.6 301.4h0M141.2 300.8h0M154.7 310.2h0M150.2 312.5h0M169.8 303.3h0M151.4 312.3h0M161.1 306.8h0M153.9 313.2h0M152.8 314.6h0M130.4 282.3h0M154.1 314.2h0M145.9 281.5h0M154.3 308.4h0M162.0 275.1h0M162.1 304.7h0M159.2 282.0h0M137.1 295.6h0M155.1 313.2h0M152.8 312.4h0M152.9 314.6h0M148.7 302.1h0M127.0 275.7h0M157.2 308.1h0M157.1 311.5h0M147.3 296.6h0M151.7 313.4h0M153.9 313.3h0M151.0 307.4h0M147.4 301.1h0M164.4 304.6h0M107.0 292.8h0M155.7 312.6h0M174.8 274.5h0M166.9 271.7h0M151.2 304.4h0M133.2 293.9h0M159.7 302.7h0M148.4 295.6h0M152.6 314.3h0M149.4 309.5h0M123.7 288.9h0M153.6 314.3h0M149.6 312.1h0M119.2 300.8h0M183.8 258.9h0M153.3 314.7h0M144.3 303.9h0M141.1 303.0h0M174.7 270.2h0M142.0 301.4h0M156.6 308.7h0M150.3 310.5h0M146.3 298.7h0M142.9 301.5h0M148.0 307.6h0M156.9 305.8h0M168.8 308.9h0M153.4 314.3h0M157.2 303.7h0M145.4 307.9h0M147.5 307.7h0M154.0 314.4h0M144.4 289.7h0M155.4 298.5h0M149.7 311.9h0M149.7 292.6h0M154.1 311.6h0M143.3 266.2h0M145.2 305.1h0M144.5 292.5h0M137.8 294.6h0M131.3 284.6h0M157.3 309.7h0M140.4 300.7h0M139.0 300.6h0M157.7 311.1h0M153.6 313.1h0M167.8 281.7h0M154.4 313.7h0M137.6 284.5h0M139.3 295.9h0M151.9 312.8h0M155.3 311.7h0M170.7 287.2h0M160.9 306.1h0M154.6 312.5h0M147.0 308.9h0M188.5 294.9h0M154.3 313.7h0M157.7 295.6h0M152.0 310.7h0M158.8 297.6h0M158.8 310.2h0M159.0 305.2h0M144.6 307.5h0M140.2 307.8h0M154.3 310.9h0M152.6 313.7h0M156.9 296.2h0M137.3 299.3h0M180.2 294.6h0M126.2 279.5h0M146.6 306.7h0M166.9 307.0h0M157.0 271.2h0M147.8 294.5h0M164.9 303.6h0M151.6 314.1h0M169.5 289.2h0M135.9 295.7h0M169.6 287.9h0M162.9 301.3h0M147.7 275.1h0M139.6 307.7h0M149.8 311.9h0M143.0 296.8h0M155.3 309.4h0M153.6 313.0h0M155.7 302.2h0M159.8 271.4h0M152.7 312.3h0M152.5 310.1h0M150.6 306.6h0M154.1 313.9h0M162.0 304.3h0M168.4 298.4h0M185.4 290.8h0M148.3 237.6h0M156.0 309.2h0M160.5 308.6h0M123.3 302.5h0M153.0 314.5h0M161.6 306.0h0M157.3 312.1h0M156.8 311.6h0M131.1 280.5h0M146.9 298.1h0M165.2 292.2h0M153.5 314.4h0M191.1 249.9h0M157.6 298.3h0M155.3 299.8h0M152.2 314.0h0M147.9 312.9h0M149.1 303.7h0M158.7 305.5h0M150.7 312.1h0M175.3 288.2h0M156.4 312.3h0M132.4 306.9h0M176.5 301.0h0M152.2 307.1h0M226.6 265.8h0M154.5 312.6h0M154.9 305.7h0M149.5 311.6h0M142.6 305.5h0M111.1 288.6h0M188.6 298.2h0M156.1 312.3h0M158.3 305.2h0M129.2 286.4h0M118.0 293.7h0M162.4 302.4h0M153.1 314.7h0M157.7 304.2h0M164.6 303.4h0M153.4 314.6h0M150.3 305.8h0M152.7 313.2h0M154.8 313.8h0M158.8 310.2h0M163.1 287.4h0M141.0 303.0h0M149.4 303.3h0M133.6 294.7h0M174.1 289.2h0M143.6 288.6h0M157.1 303.4h0M148.9 310.0h0M150.1 312.7h0M153.9 314.1h0M163.9 298.0h0M156.7 312.1h0M151.0 313.2h0M140.9 282.5h0M149.7 311.7h0M169.5 252.0h0M153.8 314.4h0M155.7 310.0h0M151.7 313.7h0M142.8 298.6h0M151.3 311.7h0M150.4 312.3h0M170.2 287.0h0M153.8 314.4h0M161.5 307.1h0M153.4 313.8h0M164.1 296.0h0M140.1 295.9h0M155.0 312.6h0M154.0 314.2h0M149.5 296.4h0M150.8 312.4h0M154.8 310.8h0M146.8 309.3h0M150.3 299.7h0M182.9 257.3h0M138.2 297.1h0M145.7 307.4h0M152.4 311.0h0M153.9 312.3h0M162.5 292.7h0M152.7 312.9h0M152.8 314.2h0M148.7 252.2h0M167.0 278.2h0M143.2 282.9h0M160.4 288.6h0M154.4 313.5h0M81.7 279.4h0M160.1 265.3h0M153.2 314.7h0M152.5 313.9h0M130.2 305.5h0M155.6 309.8h0M135.5 296.1h0M154.6 313.2h0M138.4 298.2h0M161.6 286.1h0M179.1 282.9h0M154.9 310.1h0M154.2 314.1h0M191.1 293.3h0M139.7 307.0h0M156.6 305.6h0M156.6 308.2h0M138.2 293.9h0M126.8 277.3h0M157.1 309.7h0M157.0 303.5h0M159.1 301.7h0M167.6 278.2h0M150.6 295.1h0M159.7 305.4h0M141.0 301.7h0M152.9 313.6h0M143.2 309.2h0M163.7 301.5h0M139.6 277.0h0M164.3 300.3h0M153.2 314.8h0M146.6 297.2h0M155.4 302.2h0M158.1 285.3h0" stroke="#8a8a8a" stroke-opacity="0.28" stroke-width="2.8" stroke-linecap="round" fill="none"/>
<line x1="138.5" y1="139.6" x2="138.5" y2="323.4" stroke="#333" stroke-width="0.7" stroke-dasharray="1.5 1.2"/>
<line x1="144.4" y1="139.6" x2="144.4" y2="323.4" stroke="#333" stroke-width="0.7" stroke-dasharray="1.5 1.2"/>
<line x1="147.8" y1="139.6" x2="147.8" y2="323.4" stroke="#333" stroke-width="0.7" stroke-dasharray="1.5 1.2"/>
<line x1="150.7" y1="139.6" x2="150.7" y2="323.4" stroke="#333" stroke-width="0.7" stroke-dasharray="1.5 1.2"/>
<line x1="155.4" y1="139.6" x2="155.4" y2="323.4" stroke="#333" stroke-width="0.7" stroke-dasharray="1.5 1.2"/>
<line x1="157.2" y1="139.6" x2="157.2" y2="323.4" stroke="#333" stroke-width="0.7" stroke-dasharray="1.5 1.2"/>
<line x1="160" y1="139.6" x2="160" y2="323.4" stroke="#333" stroke-width="0.7" stroke-dasharray="1.5 1.2"/>
<line x1="163.6" y1="139.6" x2="163.6" y2="323.4" stroke="#333" stroke-width="0.7" stroke-dasharray="1.5 1.2"/>
<line x1="170" y1="139.6" x2="170" y2="323.4" stroke="#333" stroke-width="0.7" stroke-dasharray="1.5 1.2"/>
<line x1="153.2" y1="139.6" x2="153.2" y2="323.4" stroke="#111" stroke-width="1.5"/>
<path d="M129.3 165.8h0M114.0 189.2h0M126.1 188.9h0M124.2 212.6h0M113.3 219.9h0M127.4 220.6h0M69.0 223.8h0M109.6 224.7h0M126.9 225.7h0M94.7 227.9h0M119.1 227.2h0M123.1 229.3h0M117.7 230.8h0M112.6 231.1h0M129.8 229.8h0M130.1 233.0h0M76.1 233.0h0M78.7 234.7h0M91.7 233.0h0M130.8 235.9h0M121.3 238.1h0M116.2 238.8h0M128.6 238.8h0M103.8 240.7h0M124.2 240.0h0M114.7 241.8h0M127.2 241.8h0M117.7 243.9h0M87.7 243.2h0M106.7 243.9h0M109.6 245.0h0M108.2 246.1h0M124.2 244.7h0M126.4 246.1h0M93.3 247.2h0M95.5 248.3h0M114.7 248.0h0M122.0 248.0h0M126.4 247.6h0M129.8 246.9h0M202.0 151.9h0M198.9 159.3h0M177.9 165.4h0M175.8 168.9h0M175.8 173.8h0M191.0 177.6h0M187.5 181.7h0M176.6 182.9h0M212.9 186.7h0M176.1 187.3h0M177.0 189.9h0M207.3 191.6h0M180.1 193.9h0M188.0 196.9h0M181.4 199.2h0M182.8 204.4h0M178.0 210.9h0M174.9 214.4h0M186.6 215.3h0M182.4 217.0h0M182.8 219.7h0M176.6 220.5h0M203.8 221.8h0M197.1 223.7h0M206.9 224.6h0M183.6 224.9h0M175.4 228.4h0M190.1 228.4h0M181.5 231.0h0M189.2 232.8h0M175.8 234.0h0M180.1 235.4h0M205.9 235.8h0M184.5 237.2h0M177.5 238.9h0M191.5 238.0h0M193.3 240.7h0M188.0 239.8h0M233.2 238.9h0M174.9 241.5h0M182.8 241.5h0M186.3 243.3h0M176.6 244.2h0M206.9 244.7h0M224.8 245.6h0M180.1 246.4h0M182.8 247.1h0M189.8 247.1h0M198.5 246.8h0M186.3 245.0h0" stroke="#f1932e" stroke-opacity="0.95" stroke-width="4.4" stroke-linecap="round" fill="none"/>
<rect x="58.7" y="139.6" width="188.8" height="183.8" fill="none" stroke="#888" stroke-width="0.9"/>
<line x1="53.7" y1="314.8" x2="58.7" y2="314.8" stroke="#888" stroke-width="0.9"/>
<text x="50.7" y="317.8" font-size="9.3" text-anchor="end" fill="#4a4a4a">0</text>
<line x1="53.7" y1="281.35" x2="58.7" y2="281.35" stroke="#888" stroke-width="0.9"/>
<text x="50.7" y="284.35" font-size="9.3" text-anchor="end" fill="#4a4a4a">1</text>
<line x1="53.7" y1="247.9" x2="58.7" y2="247.9" stroke="#888" stroke-width="0.9"/>
<text x="50.7" y="250.9" font-size="9.3" text-anchor="end" fill="#4a4a4a">2</text>
<line x1="53.7" y1="214.45" x2="58.7" y2="214.45" stroke="#888" stroke-width="0.9"/>
<text x="50.7" y="217.45" font-size="9.3" text-anchor="end" fill="#4a4a4a">3</text>
<line x1="53.7" y1="181" x2="58.7" y2="181" stroke="#888" stroke-width="0.9"/>
<text x="50.7" y="184" font-size="9.3" text-anchor="end" fill="#4a4a4a">4</text>
<line x1="67.24" y1="323.4" x2="67.24" y2="327.4" stroke="#888" stroke-width="0.9"/>
<text x="67.24" y="338.6" font-size="9.3" text-anchor="middle" fill="#4a4a4a">−2</text>
<line x1="110.22" y1="323.4" x2="110.22" y2="327.4" stroke="#888" stroke-width="0.9"/>
<text x="110.22" y="338.6" font-size="9.3" text-anchor="middle" fill="#4a4a4a">−1</text>
<line x1="153.2" y1="323.4" x2="153.2" y2="327.4" stroke="#888" stroke-width="0.9"/>
<text x="153.2" y="338.6" font-size="9.3" text-anchor="middle" fill="#4a4a4a">0</text>
<line x1="196.18" y1="323.4" x2="196.18" y2="327.4" stroke="#888" stroke-width="0.9"/>
<text x="196.18" y="338.6" font-size="9.3" text-anchor="middle" fill="#4a4a4a">1</text>
<line x1="239.16" y1="323.4" x2="239.16" y2="327.4" stroke="#888" stroke-width="0.9"/>
<text x="239.16" y="338.6" font-size="9.3" text-anchor="middle" fill="#4a4a4a">2</text>
<text x="32.8" y="231.4" font-size="10.6" text-anchor="middle" transform="rotate(-90 32.8 231.4)">-log<tspan font-size="6.8" dy="1.6">10</tspan><tspan dy="-1.6"> </tspan><tspan font-style="italic">P</tspan> value</text>
<text x="153.8" y="353.6" font-size="10.3" text-anchor="middle" textLength="183" lengthAdjust="spacingAndGlyphs">MDA-LM2 versus MDA-MB-231 (logTER)</text>
<text x="306.8" y="11" font-size="14.2" fill="#000" font-weight="bold">b</text>
<line x1="378" y1="10.5" x2="378" y2="48" stroke="#888" stroke-width="0.8"/>
<line x1="374" y1="10.5" x2="378" y2="10.5" stroke="#888" stroke-width="0.8"/>
<text x="370.5" y="13.5" font-size="8.5" text-anchor="end" fill="#444">2</text>
<line x1="374" y1="29.25" x2="378" y2="29.25" stroke="#888" stroke-width="0.8"/>
<text x="370.5" y="32.25" font-size="8.5" text-anchor="end" fill="#444">1</text>
<line x1="374" y1="48" x2="378" y2="48" stroke="#888" stroke-width="0.8"/>
<text x="370.5" y="51" font-size="8.5" text-anchor="end" fill="#444">0</text>
<text transform="translate(386.77 47.48) scale(12.316 52.966)" font-size="1" fill="#3350a8">C</text>
<text transform="translate(394.54 47.48) scale(13.736 53.744)" font-size="1" fill="#d31f22">U</text>
<text transform="translate(402.74 47.48) scale(13.736 53.744)" font-size="1" fill="#d31f22">U</text>
<text transform="translate(410.94 47.48) scale(13.736 53.744)" font-size="1" fill="#d31f22">U</text>
<text transform="translate(419.14 47.48) scale(13.736 53.744)" font-size="1" fill="#d31f22">U</text>
<text transform="translate(427.34 47.48) scale(13.736 53.744)" font-size="1" fill="#d31f22">U</text>
<text transform="translate(435.54 47.48) scale(13.736 53.744)" font-size="1" fill="#d31f22">U</text>
<path d="M379.6 43.4Q382.95 40.4 386.4 43.4" fill="none" stroke="#5cb860" stroke-width="1.1"/>
<rect x="379.2" y="43.8" width="7.5" height="2.4" fill="#d4d8f0"/>
<rect x="379.2" y="44.6" width="2.62" height="1" fill="#5a6cc0"/>
<rect x="379.2" y="46.5" width="7.5" height="1.6" fill="#f7c85a"/>
<text x="386.06" y="53" font-size="8.6" fill="#444" text-anchor="middle" transform="rotate(-90 386.06 53)">1</text>
<text x="394.26" y="53" font-size="8.6" fill="#444" text-anchor="middle" transform="rotate(-90 394.26 53)">2</text>
<text x="402.46" y="53" font-size="8.6" fill="#444" text-anchor="middle" transform="rotate(-90 402.46 53)">3</text>
<text x="410.66" y="53" font-size="8.6" fill="#444" text-anchor="middle" transform="rotate(-90 410.66 53)">4</text>
<text x="418.86" y="53" font-size="8.6" fill="#444" text-anchor="middle" transform="rotate(-90 418.86 53)">5</text>
<text x="427.06" y="53" font-size="8.6" fill="#444" text-anchor="middle" transform="rotate(-90 427.06 53)">6</text>
<text x="435.26" y="53" font-size="8.6" fill="#444" text-anchor="middle" transform="rotate(-90 435.26 53)">7</text>
<text x="443.46" y="53" font-size="8.6" fill="#444" text-anchor="middle" transform="rotate(-90 443.46 53)">8</text>
<text x="357.3" y="29.2" font-size="10.2" text-anchor="middle" transform="rotate(-90 357.3 29.2)">Bits</text>
<text x="453.8" y="22.7" font-size="10.3" textLength="62" lengthAdjust="spacingAndGlyphs">MI 0.006 bits</text>
<text x="453.8" y="44.4" font-size="10.3" textLength="50.5" lengthAdjust="spacingAndGlyphs"><tspan font-style="italic">z</tspan>-score 6.4</text>
<text x="316.8" y="89.9" font-size="10.5" text-anchor="middle" textLength="53.5" lengthAdjust="spacingAndGlyphs" transform="rotate(-90 316.8 89.9)">Enrichment</text>
<text x="328.4" y="90.3" font-size="10.5" text-anchor="middle" textLength="25.8" lengthAdjust="spacingAndGlyphs" transform="rotate(-90 328.4 90.3)">score</text>
<rect x="332.8" y="71.1" width="14.2" height="37.6" fill="url(#eg)"/>
<text x="339.9" y="67.6" font-size="8.5" text-anchor="middle" fill="#444">5</text>
<text x="339.9" y="119.4" font-size="8.5" text-anchor="middle" fill="#444">−5</text>
<rect x="361.2" y="67.3" width="21.23" height="52.2" fill="#f0e812"/>
<rect x="382.38" y="67.3" width="21.23" height="52.2" fill="#cfcba0"/>
<rect x="403.56" y="67.3" width="21.23" height="52.2" fill="#ece9b2"/>
<rect x="424.73" y="67.3" width="21.23" height="52.2" fill="#889a97"/>
<rect x="445.91" y="67.3" width="21.23" height="52.2" fill="#9bbcbc"/>
<rect x="467.09" y="67.3" width="21.23" height="52.2" fill="#f6f1a2"/>
<rect x="488.27" y="67.3" width="21.23" height="52.2" fill="#9ccff0"/>
<rect x="509.44" y="67.3" width="21.23" height="52.2" fill="#9dd6d2"/>
<rect x="530.62" y="67.3" width="21.23" height="52.2" fill="#4a5fa8"/>
<rect x="361.8" y="67.9" width="19.98" height="51" fill="none" stroke="#d31f22" stroke-width="1.3"/>
<rect x="531.12" y="67.8" width="20.18" height="51.2" fill="none" stroke="#2c41a0" stroke-width="1.1"/>
<path d="M382.38 119.5C382.38 122.5 416.1 132.5 416.1 140.5M403.56 119.5C403.56 122.5 426.6 132.5 426.6 140.5M424.73 119.5C424.73 122.5 434.3 132.5 434.3 140.5M445.91 119.5C445.91 122.5 441.5 132.5 441.5 140.5M467.09 119.5C467.09 122.5 448 132.5 448 140.5M488.27 119.5C488.27 122.5 456.4 132.5 456.4 140.5M509.44 119.5C509.44 122.5 462.8 132.5 462.8 140.5M530.62 119.5C530.62 122.5 474.9 132.5 474.9 140.5M359.2 110.5L359.2 119.5Q356.2 131.5 352.2 141.5M553.8 110.5L553.8 119.5Q556.8 131.5 560.8 141.5" stroke="#555" stroke-width="0.7" stroke-dasharray="1.6 1.4" fill="none"/>
<path d="M498.0 298.6h0M429.9 258.1h0M444.2 299.2h0M489.5 301.9h0M415.3 275.4h0M460.1 314.3h0M458.4 315.2h0M500.6 280.6h0M435.5 282.4h0M461.5 313.5h0M424.5 268.7h0M447.0 286.3h0M478.0 274.4h0M452.9 309.7h0M459.0 315.0h0M481.0 284.2h0M442.6 296.9h0M449.2 311.5h0M457.5 314.9h0M426.9 260.4h0M462.1 305.6h0M432.3 261.8h0M462.1 311.7h0M442.4 282.4h0M441.2 296.8h0M460.2 314.1h0M416.2 284.5h0M470.1 304.1h0M446.3 277.9h0M473.2 308.5h0M458.8 314.8h0M467.8 310.1h0M451.7 305.9h0M415.6 272.2h0M441.5 299.8h0M457.3 314.9h0M457.3 316.0h0M436.7 299.6h0M484.9 295.4h0M439.3 287.5h0M467.7 293.7h0M457.3 315.7h0M459.0 314.7h0M481.8 305.3h0M441.0 265.3h0M468.4 309.1h0M457.2 315.6h0M440.5 292.1h0M456.6 315.8h0M461.1 313.6h0M442.3 303.3h0M445.4 306.4h0M453.4 311.7h0M437.8 302.5h0M433.1 295.3h0M451.5 297.9h0M438.4 285.2h0M449.6 293.7h0M419.3 272.6h0M474.9 304.5h0M432.4 306.0h0M443.5 284.3h0M472.1 298.0h0M426.3 253.3h0M468.2 311.0h0M448.8 303.8h0M480.3 303.5h0M431.9 285.0h0M433.5 294.2h0M473.8 293.9h0M486.7 291.1h0M451.0 304.3h0M458.7 313.6h0M448.3 297.0h0M446.4 300.6h0M446.3 276.9h0M413.4 284.5h0M446.7 303.5h0M449.7 298.4h0M513.3 287.7h0M478.4 299.8h0M441.0 303.1h0M466.5 294.5h0M475.7 298.8h0M458.0 314.5h0M491.2 290.0h0M419.2 267.7h0M480.8 297.4h0M404.7 260.8h0M440.1 280.4h0M450.2 302.9h0M481.9 289.0h0M444.0 310.1h0M444.2 250.2h0M400.6 262.4h0M406.9 261.7h0M454.2 310.0h0M451.3 307.8h0M429.0 262.6h0M421.6 253.4h0M450.1 302.8h0M457.0 315.7h0M446.1 306.1h0M447.4 298.0h0M447.0 308.1h0M483.3 289.3h0M447.2 300.0h0M434.6 297.5h0M417.7 274.1h0M446.8 281.4h0M464.4 313.1h0M456.9 315.4h0M457.6 315.0h0M506.2 285.0h0M450.9 298.6h0M435.4 284.8h0M467.2 309.9h0M467.1 307.0h0M476.3 304.3h0M446.5 309.4h0M458.0 314.7h0M491.7 291.0h0M426.9 273.3h0M444.3 307.7h0M441.4 285.7h0M524.3 261.1h0M458.2 313.9h0M456.2 316.1h0M432.2 278.2h0M443.6 296.4h0M443.2 291.9h0M456.1 316.1h0M482.4 290.8h0M403.0 274.7h0M433.1 298.7h0M459.6 313.6h0M465.9 302.0h0M465.3 312.0h0M442.3 305.1h0M477.3 305.6h0M411.5 280.9h0M438.9 296.0h0M491.5 272.9h0M459.9 312.2h0M474.8 265.9h0M452.5 309.7h0M448.4 309.2h0M436.4 287.5h0M477.9 297.8h0M452.8 308.4h0M450.3 311.8h0M451.8 309.5h0M440.3 276.0h0M418.1 261.9h0M437.6 289.2h0M465.0 307.9h0M426.0 289.7h0M464.1 301.2h0M462.7 309.3h0M467.0 311.5h0M455.9 315.3h0M486.6 290.2h0M501.3 254.4h0M447.4 305.6h0M476.6 305.2h0M457.3 315.1h0M471.8 281.2h0M451.9 311.5h0M499.3 263.8h0M450.4 300.9h0M495.1 284.4h0M457.0 316.1h0M469.6 300.2h0M448.9 302.7h0M433.4 292.1h0M419.1 279.2h0M483.0 300.9h0M445.7 298.2h0M476.8 303.7h0M449.5 307.8h0M443.1 282.8h0M437.5 300.3h0M460.6 314.1h0M451.1 307.3h0M452.1 306.2h0M485.2 291.2h0M450.2 299.5h0M440.5 305.1h0M451.5 308.0h0M398.3 283.5h0M458.1 314.9h0M464.1 312.8h0M440.6 304.4h0M456.9 315.9h0M443.9 303.7h0M464.9 313.4h0M472.5 298.7h0M439.1 284.8h0M510.2 278.2h0M427.6 262.4h0M449.0 308.4h0M466.0 308.4h0M482.4 297.2h0M424.4 271.3h0M429.9 290.8h0M457.6 315.7h0M444.7 295.1h0M465.3 307.3h0M419.0 272.6h0M458.5 312.5h0M474.5 307.1h0M420.9 283.0h0M434.1 269.4h0M423.0 300.5h0M447.5 276.0h0M466.0 303.4h0M440.9 302.8h0M448.7 305.2h0M451.4 303.0h0M445.5 285.0h0M475.5 294.2h0M448.1 301.3h0M452.5 311.6h0M455.3 313.7h0M504.1 292.3h0M468.2 288.6h0M458.7 314.9h0M459.6 311.8h0M459.7 313.6h0M439.9 303.2h0M464.1 312.0h0M439.3 277.8h0M456.9 315.7h0M466.1 312.5h0M477.7 281.8h0M449.7 302.3h0M464.3 304.7h0M445.0 287.9h0M426.5 259.9h0M446.4 294.9h0M447.2 308.1h0M432.8 288.0h0M465.4 305.3h0M436.4 258.4h0M474.7 304.4h0M443.8 267.8h0M461.6 313.0h0M451.5 298.7h0M531.9 259.0h0M412.8 264.3h0M439.9 292.5h0M458.3 314.7h0M478.4 297.3h0M440.7 300.1h0M445.6 305.2h0M442.6 306.3h0M446.8 289.4h0M457.3 314.3h0M429.9 289.9h0M436.0 280.6h0M467.8 307.0h0M492.7 300.0h0M437.5 288.2h0M433.9 261.2h0M429.9 276.3h0M451.2 306.5h0M445.3 282.4h0M445.7 284.2h0M434.3 296.7h0M431.0 299.5h0M444.7 305.7h0M448.7 296.4h0M438.8 303.6h0M473.6 307.7h0M441.9 306.1h0M439.8 256.0h0M453.7 312.7h0M493.7 280.1h0M444.2 262.5h0M451.5 308.9h0M449.3 304.5h0M439.7 283.3h0M451.1 296.1h0M469.8 306.2h0M460.1 314.4h0M431.4 259.1h0M472.3 294.9h0M469.3 309.3h0M457.6 315.5h0M432.5 300.6h0M471.4 307.4h0M462.5 309.7h0M478.1 300.1h0M417.4 289.5h0M442.7 286.4h0M469.3 296.0h0M418.1 272.4h0M457.6 314.2h0M411.2 256.7h0M462.5 312.0h0M463.4 312.6h0M465.5 306.6h0M432.0 271.1h0M435.5 266.9h0M459.8 313.7h0M472.4 308.0h0M446.0 298.6h0M450.9 308.3h0M441.3 289.6h0M447.2 308.7h0M419.2 269.1h0M463.7 308.4h0M465.7 312.2h0M442.7 296.8h0M477.0 292.5h0M460.5 309.3h0M453.1 312.1h0M431.4 283.9h0M457.1 315.9h0M444.3 304.9h0M431.7 269.4h0M440.1 275.8h0M427.6 272.6h0M484.6 300.3h0M439.7 286.4h0M480.7 290.7h0M416.3 266.4h0M428.7 279.5h0M483.8 304.9h0M503.6 265.5h0M443.8 286.5h0M448.2 306.5h0M457.3 314.9h0M438.3 300.6h0M448.6 303.1h0M423.3 289.9h0M450.7 305.8h0M420.6 275.8h0M459.6 314.4h0M509.8 252.5h0M484.5 295.8h0M467.6 299.0h0M419.5 281.3h0M424.7 280.5h0M487.2 292.7h0M456.6 316.2h0M467.1 312.7h0M452.3 314.2h0M448.3 293.8h0M460.9 308.4h0M429.4 297.0h0M432.6 301.8h0M436.9 289.0h0M434.0 272.2h0M390.1 258.8h0M470.5 304.1h0M463.6 310.3h0M447.1 309.3h0M450.8 298.2h0M448.1 292.7h0M514.2 251.4h0M463.5 312.1h0M470.0 300.9h0M482.3 298.9h0M438.4 298.2h0M447.4 276.2h0M452.8 311.8h0M457.9 315.7h0M458.6 313.7h0M445.7 308.5h0M389.2 252.6h0M456.8 315.8h0M442.3 274.4h0M437.0 286.2h0M476.0 303.2h0M476.6 303.8h0M443.7 301.0h0M483.8 305.6h0M429.1 254.0h0M463.6 309.3h0M459.6 314.0h0M453.4 314.2h0M463.7 308.9h0M448.9 297.6h0M433.0 276.1h0M436.4 276.3h0M459.3 314.5h0M453.6 309.0h0M433.4 302.1h0M419.4 273.0h0M438.4 301.0h0M467.3 296.1h0M444.3 288.8h0M451.3 308.1h0M464.5 307.9h0M429.6 261.5h0M460.9 312.4h0M444.2 295.5h0M473.1 308.8h0M437.5 289.3h0M470.2 307.3h0M451.0 311.3h0M473.0 303.4h0M413.4 283.6h0M446.9 308.9h0M440.2 300.3h0M457.6 315.7h0M434.5 289.6h0M446.1 263.5h0M443.8 295.7h0M465.6 309.8h0M460.0 314.4h0M445.0 292.4h0M445.7 276.6h0M443.5 300.7h0M470.3 301.5h0M458.7 314.7h0M470.1 301.3h0M471.7 308.3h0M417.2 282.1h0M452.5 313.2h0M432.6 286.9h0M450.1 305.5h0M460.4 314.5h0M433.0 270.9h0M460.0 306.3h0M475.3 288.7h0M431.7 297.1h0M440.7 283.2h0M458.4 315.5h0M474.4 291.7h0M423.3 268.2h0M490.6 283.8h0M514.7 277.3h0M437.4 291.1h0M403.2 270.8h0M454.9 312.6h0M438.2 299.2h0M436.2 278.8h0M466.3 307.1h0M446.8 305.6h0M443.2 258.4h0M436.2 296.3h0M459.9 315.0h0M424.5 297.0h0M449.6 307.5h0M461.8 311.0h0M437.6 253.4h0M446.2 287.0h0M478.8 298.7h0M460.8 310.2h0M459.9 312.8h0M448.9 308.0h0M463.5 314.1h0M477.9 303.9h0M456.9 315.6h0M458.6 313.8h0M468.2 312.3h0M440.5 295.2h0M488.0 296.2h0M490.7 296.3h0M480.4 302.4h0M443.1 302.1h0M461.8 301.5h0M456.4 316.3h0M447.3 303.8h0M445.7 303.0h0M428.3 275.7h0M445.3 295.7h0M473.2 291.9h0M453.8 314.1h0M445.9 301.9h0M474.0 300.9h0M382.5 254.3h0M511.7 262.9h0M470.7 308.0h0M428.5 259.7h0M466.3 308.8h0M464.0 309.5h0M475.1 305.5h0M451.2 305.5h0M438.4 278.8h0M456.4 316.3h0M446.0 292.0h0M471.5 297.8h0M458.1 314.2h0M463.8 312.3h0M446.8 297.8h0M517.5 276.8h0M457.0 316.0h0M447.9 302.1h0M463.6 312.4h0M437.0 303.9h0M445.5 297.5h0M411.5 263.0h0M438.9 304.3h0M447.5 308.9h0M439.1 273.8h0M449.1 303.8h0M474.5 289.7h0M459.3 314.3h0M426.4 273.1h0M483.4 298.5h0M464.2 312.9h0M474.1 306.9h0M415.5 283.8h0M442.4 299.9h0M457.2 315.8h0M451.4 313.2h0M426.4 259.8h0M457.1 315.4h0M509.8 282.0h0M465.0 313.6h0M452.8 304.7h0M425.2 292.9h0M459.1 315.2h0M443.7 298.0h0M460.0 314.8h0M446.0 297.9h0M455.2 314.3h0M434.5 302.3h0M469.6 304.3h0M452.3 310.8h0M466.2 311.7h0M450.7 300.9h0M454.0 312.9h0M486.2 304.5h0M454.6 314.6h0M439.3 264.3h0M497.1 292.8h0M463.9 305.2h0M443.5 300.4h0M405.2 262.6h0M464.5 312.4h0M443.3 305.1h0M438.0 274.4h0M462.0 307.3h0M486.0 293.0h0M477.9 301.2h0M457.8 315.3h0M444.6 277.1h0M444.3 272.5h0M460.7 314.8h0M466.2 305.4h0M442.0 309.2h0M436.6 266.0h0M445.3 291.6h0M434.2 294.3h0M473.5 300.5h0M429.3 292.3h0M442.9 280.7h0M454.7 313.6h0M481.9 298.8h0M444.6 290.9h0M473.2 308.0h0M423.7 261.4h0M475.5 292.9h0M493.5 294.8h0M474.3 307.0h0M449.3 311.2h0M471.7 309.1h0M426.0 293.9h0M416.7 250.3h0M437.9 307.0h0M462.4 313.2h0M439.5 290.7h0M481.9 287.9h0M454.3 315.0h0M456.6 316.1h0M475.6 298.6h0M447.0 293.1h0M445.0 307.6h0M450.3 310.6h0M429.5 273.2h0M469.1 308.7h0M472.1 304.7h0M426.6 272.3h0M462.0 307.8h0M445.8 300.9h0M438.4 306.6h0M461.5 311.1h0M425.8 266.2h0M463.9 311.5h0M481.5 262.2h0M449.8 309.3h0M421.2 262.4h0M453.0 306.9h0M443.7 296.7h0M445.9 293.2h0M447.5 298.6h0M436.3 287.5h0M486.3 301.0h0M450.6 294.3h0M469.6 302.0h0M446.9 291.6h0M455.0 315.1h0M434.0 261.7h0M473.5 304.3h0M471.3 305.8h0M427.1 281.0h0M439.9 293.7h0M439.6 302.5h0M401.4 266.8h0M431.6 298.1h0M462.4 312.3h0M438.3 287.5h0M474.8 300.0h0M448.5 284.6h0M457.5 315.6h0M429.2 283.8h0M443.1 303.7h0M451.9 307.1h0M393.1 283.7h0M447.3 290.6h0M458.7 314.8h0M444.5 272.0h0M459.0 312.8h0M443.2 290.5h0M446.4 282.8h0M476.7 306.0h0M454.5 313.7h0M437.9 300.7h0M479.6 287.3h0M432.2 293.8h0M441.5 273.3h0M442.5 278.1h0M439.2 280.8h0M476.9 289.4h0M451.2 301.5h0M456.6 316.1h0M447.1 283.5h0M429.6 268.8h0M441.7 288.7h0M457.9 315.7h0M453.3 314.8h0M443.2 299.8h0M440.5 290.9h0M425.5 287.2h0M419.9 287.1h0M461.2 313.6h0M460.8 314.3h0M448.0 298.7h0M444.8 301.4h0M447.0 279.7h0M483.8 295.6h0M461.5 303.1h0M464.4 312.8h0M448.3 307.4h0M453.9 308.5h0M463.5 311.3h0M426.3 295.2h0M419.5 266.6h0M465.8 311.3h0M468.1 307.6h0M447.8 297.4h0M463.2 297.3h0M428.3 292.7h0" stroke="#8a8a8a" stroke-opacity="0.36" stroke-width="2.7" stroke-linecap="round" fill="none"/>
<path d="M438.2 303.4h0M437.9 296.9h0M467.2 307.9h0M436.0 296.2h0M425.1 291.3h0M453.3 312.0h0M493.2 273.4h0M478.2 300.3h0M447.7 302.2h0M427.3 289.7h0M472.0 305.5h0M449.9 307.4h0M465.5 307.7h0M460.2 314.0h0M441.2 295.1h0M455.3 313.9h0M442.0 296.5h0M445.9 297.1h0M446.7 282.6h0M469.6 309.5h0M458.9 313.4h0M457.0 315.9h0M433.3 300.2h0M478.0 291.6h0M438.4 298.7h0M424.7 272.5h0M462.7 312.6h0M408.9 285.2h0M423.3 281.4h0M456.7 316.1h0M437.7 291.2h0M430.2 272.3h0M427.0 276.2h0M451.9 313.1h0M440.5 282.3h0M446.1 300.2h0M462.9 310.4h0M445.5 295.5h0M443.4 293.3h0M448.4 305.2h0M453.6 312.7h0M493.7 291.3h0M437.5 281.3h0M450.1 300.3h0M444.7 308.5h0M532.7 263.1h0M457.1 315.4h0M443.4 308.4h0M461.7 313.8h0M483.1 281.8h0M456.8 315.8h0M465.5 309.3h0M442.2 293.6h0M479.3 300.9h0M463.8 312.0h0M456.7 316.1h0M421.7 270.6h0M428.9 293.5h0M460.1 311.8h0M447.8 298.4h0M484.9 290.6h0M480.7 304.5h0M410.7 272.7h0M452.5 310.0h0M469.9 307.0h0M410.2 256.5h0M439.6 292.9h0M451.2 311.7h0M428.2 291.6h0M448.4 306.7h0M453.2 306.3h0M473.2 306.3h0M471.1 299.6h0M443.0 298.3h0M445.2 298.9h0M437.6 300.2h0M451.7 309.6h0M438.0 305.6h0M454.9 314.8h0M448.6 304.9h0M419.8 275.4h0M432.2 257.7h0M449.7 309.0h0M465.3 310.9h0M446.4 287.6h0M463.3 310.0h0M453.8 313.4h0M450.2 311.5h0M493.2 292.6h0M461.3 313.4h0M468.4 311.1h0M427.9 272.8h0M472.1 309.6h0M434.0 303.2h0M427.5 288.2h0M454.9 314.7h0M470.1 302.9h0M459.6 313.0h0M458.3 315.3h0M400.5 260.6h0M468.4 296.5h0M466.4 299.8h0M442.1 299.0h0M411.9 259.4h0M449.4 305.1h0M525.1 273.0h0M448.4 300.4h0M468.5 306.9h0M455.5 315.3h0M437.3 300.1h0M447.4 283.7h0M469.4 310.5h0M427.9 278.3h0M488.8 287.4h0M436.6 275.3h0M467.7 309.2h0M440.9 306.6h0M468.1 304.8h0M462.7 308.8h0M494.8 289.5h0M440.0 271.6h0M433.0 292.5h0M464.7 310.0h0M457.9 315.4h0M452.7 314.2h0M476.4 298.3h0M479.6 303.8h0M442.2 294.9h0M455.4 315.1h0M471.2 307.2h0M450.6 311.4h0M509.1 263.1h0M464.7 305.5h0M435.5 283.2h0M430.2 287.0h0M448.9 308.0h0M447.6 297.0h0M488.2 297.3h0M423.0 268.3h0M443.4 307.4h0M410.5 275.6h0M449.1 305.5h0M458.6 315.0h0M452.9 308.1h0M462.7 309.8h0M443.2 282.7h0M459.5 313.5h0M461.3 313.2h0M430.7 297.8h0M453.2 310.7h0M478.7 306.9h0M454.8 315.5h0M397.5 258.3h0M467.5 306.6h0M428.1 286.7h0M449.3 306.3h0M510.1 278.5h0M487.5 289.8h0M467.5 309.0h0M460.7 314.2h0M466.1 294.6h0M443.0 298.3h0M463.8 308.6h0M462.6 309.3h0M491.5 284.7h0M460.0 313.9h0M439.3 304.8h0M441.3 305.7h0M449.7 303.7h0M449.6 308.0h0M529.1 280.3h0M500.9 269.4h0M456.3 316.2h0M468.6 311.4h0M446.3 291.1h0M448.4 310.8h0M459.1 315.0h0M462.6 312.4h0M471.1 280.6h0M455.8 315.8h0M419.1 259.0h0M451.2 302.6h0M448.0 286.3h0M456.9 315.1h0M479.5 287.9h0M445.7 303.1h0M431.8 293.6h0M453.3 312.7h0M467.1 290.3h0M492.2 290.8h0M463.5 312.5h0M443.1 297.4h0M448.4 308.2h0M473.8 307.2h0M481.2 307.9h0M457.6 314.4h0M485.9 284.8h0M437.2 294.1h0M488.8 281.0h0M415.7 270.5h0M448.0 307.0h0M467.0 310.0h0M415.2 265.9h0M446.7 304.5h0M440.1 299.9h0M443.6 305.7h0M460.3 313.3h0M414.2 251.6h0M438.2 267.8h0M475.9 307.0h0M458.6 314.4h0M471.4 307.3h0M462.7 312.5h0M475.2 292.5h0M462.4 310.9h0M449.2 296.0h0M435.4 289.7h0M428.3 272.3h0M471.9 310.5h0M463.5 314.0h0M449.7 306.1h0M462.1 312.4h0M439.2 285.5h0M469.0 307.7h0M465.2 311.5h0M435.4 287.7h0M426.5 272.9h0M459.3 312.7h0M461.4 302.9h0M453.3 312.2h0M484.5 295.5h0M443.4 306.2h0M448.2 292.9h0M457.5 315.8h0M439.8 296.8h0M463.8 309.9h0M460.2 314.5h0M377.0 256.1h0M454.3 312.8h0M449.7 302.2h0M440.8 300.2h0M439.1 279.9h0M454.3 309.7h0M458.8 315.0h0M455.2 315.6h0M482.5 302.9h0M438.6 293.4h0M464.8 308.7h0M458.4 315.4h0M439.0 296.3h0M443.0 283.9h0M414.6 274.5h0M457.5 315.4h0M454.2 314.8h0M418.6 272.7h0M459.5 312.7h0M456.0 315.6h0M496.9 284.5h0M452.2 302.7h0M433.3 293.0h0M466.7 308.6h0M434.2 300.3h0M471.3 303.8h0M438.0 282.2h0M464.3 312.6h0M448.0 298.5h0M490.1 298.1h0M434.4 264.3h0M440.1 291.7h0M424.2 285.6h0M433.4 288.4h0M425.8 287.0h0M457.5 315.9h0M423.0 282.0h0M437.4 297.1h0M430.2 291.8h0M451.3 300.3h0M467.4 308.4h0M463.4 308.6h0M515.9 280.3h0M458.0 315.8h0M422.4 286.1h0M429.4 259.3h0M450.9 296.5h0M403.0 288.0h0M477.4 290.2h0M448.6 293.3h0M425.8 292.4h0M466.0 309.0h0M459.6 311.8h0M433.9 303.5h0M431.9 270.5h0M464.2 306.8h0M465.8 309.3h0M453.8 312.8h0M402.7 263.7h0M501.6 291.1h0M458.8 314.8h0M435.4 303.5h0M482.9 299.2h0M439.9 302.1h0M452.5 311.7h0M439.6 283.2h0M434.8 273.4h0M442.6 271.1h0M446.1 295.5h0M458.5 314.3h0M458.5 312.8h0M436.3 297.6h0M453.9 314.1h0M440.5 286.2h0M449.7 292.7h0M456.5 316.1h0M461.5 309.9h0M406.4 284.6h0M447.8 286.4h0M478.1 286.9h0M472.2 306.3h0M439.2 298.4h0M478.7 302.2h0M438.6 279.8h0M452.3 308.7h0M445.7 290.9h0M471.4 307.1h0M455.9 315.9h0M443.6 293.4h0M454.9 313.8h0M427.6 289.3h0M451.4 305.0h0M460.3 312.4h0M482.4 275.6h0M459.3 314.9h0M449.7 312.1h0M492.7 268.7h0M440.1 252.1h0M449.3 308.3h0M459.8 314.0h0M442.9 287.1h0M464.6 308.3h0M487.8 275.0h0M443.8 296.7h0M458.9 314.4h0M428.9 300.4h0M445.9 288.4h0M453.9 314.7h0M478.3 300.1h0M459.2 314.5h0M460.0 311.6h0M414.6 273.7h0M477.0 268.1h0M457.2 315.4h0M447.9 299.0h0M445.7 291.1h0M446.8 300.9h0M460.5 312.5h0M462.3 310.3h0M508.2 285.0h0M442.1 264.5h0M435.7 298.5h0M493.2 296.3h0M460.4 314.4h0M457.4 313.8h0M439.2 298.7h0M456.8 316.0h0M471.7 307.3h0M462.8 307.9h0M414.7 273.8h0M445.4 272.7h0M444.2 304.1h0M456.4 316.2h0M443.9 301.4h0M477.6 306.4h0M460.2 313.7h0M442.4 300.9h0M444.5 256.2h0M447.8 302.4h0M448.8 286.2h0M468.1 309.7h0M443.2 309.7h0M458.3 315.2h0M452.4 305.3h0M455.9 315.0h0M461.2 312.4h0M417.3 281.7h0M438.3 282.4h0M501.1 284.4h0M457.3 315.6h0M466.9 308.0h0M439.6 277.5h0M448.4 289.4h0M444.7 290.4h0M463.4 312.1h0M472.4 300.5h0M457.2 314.5h0M426.3 285.7h0M439.0 275.0h0M432.0 288.7h0M442.9 301.6h0M458.7 312.7h0M468.3 305.9h0M439.9 285.8h0M458.2 310.8h0M445.9 305.5h0M434.5 286.9h0M461.9 309.2h0M454.5 314.5h0M427.5 282.2h0M462.7 308.0h0M441.0 279.3h0M449.3 296.7h0M466.6 307.9h0M444.6 301.0h0M501.5 269.5h0M425.1 249.7h0M472.4 304.1h0M425.8 278.9h0M486.6 301.9h0M429.8 288.4h0M523.7 269.9h0M463.0 313.7h0M477.8 295.8h0M430.0 288.2h0M472.5 306.9h0M489.7 285.2h0M426.3 271.1h0M480.7 300.4h0M446.4 308.5h0M468.6 305.2h0M412.0 286.6h0M444.1 306.4h0M445.1 288.9h0M434.5 274.1h0M425.8 266.6h0M514.2 270.5h0M462.1 311.5h0M476.1 305.6h0M442.8 306.1h0M458.3 315.3h0M458.9 315.3h0M426.5 295.9h0M439.5 294.8h0M434.0 264.4h0M442.4 267.0h0M447.3 300.8h0M455.1 315.7h0M420.3 282.8h0M462.2 307.1h0M447.5 285.5h0M465.9 311.8h0M496.2 279.8h0M434.8 297.4h0M479.7 304.2h0M457.3 315.5h0M473.3 283.4h0M457.9 315.4h0M385.5 256.6h0M472.2 308.1h0M476.3 301.6h0M447.4 295.9h0M474.1 304.3h0M456.2 316.2h0M447.3 285.9h0M442.9 276.5h0M447.5 307.8h0M441.1 305.1h0M466.3 311.2h0M407.3 276.3h0M450.2 302.4h0M454.4 313.8h0M423.2 257.3h0M467.7 307.3h0M454.6 313.6h0M440.8 292.6h0M428.9 294.0h0M458.3 313.1h0M442.4 258.7h0M444.7 296.9h0M429.0 275.8h0M462.6 306.1h0M449.1 295.9h0M458.8 314.8h0M429.1 290.4h0M463.2 310.3h0M449.1 309.8h0M436.6 296.3h0M412.5 267.2h0M440.5 292.3h0M438.8 292.1h0M433.2 275.5h0M433.6 270.9h0M472.5 306.3h0M458.2 310.6h0M436.1 258.6h0M447.2 306.4h0M482.2 300.6h0M431.9 292.6h0M481.4 276.3h0M451.9 311.1h0M455.1 314.9h0M443.8 300.7h0M427.9 285.3h0M420.6 285.3h0M457.6 315.8h0M434.0 292.3h0M422.1 289.2h0M426.7 285.6h0M427.3 274.7h0M460.6 314.3h0M413.6 266.2h0M473.3 281.7h0M464.6 308.3h0M410.7 256.6h0M459.2 313.7h0M448.9 297.5h0M431.6 276.7h0M485.3 276.8h0M441.5 299.7h0M458.0 315.2h0M463.5 314.0h0M411.7 277.2h0M467.9 303.0h0M454.7 313.6h0M488.1 275.0h0M454.9 314.1h0M442.6 302.1h0M443.5 293.4h0M461.8 313.4h0M491.5 266.2h0M448.7 303.7h0M454.8 314.7h0M445.7 277.2h0M454.4 312.3h0M470.9 310.6h0M501.6 274.9h0M426.0 257.1h0M445.4 279.6h0M471.6 306.6h0M451.6 307.2h0M446.8 273.8h0M445.4 297.3h0M451.3 301.4h0M466.8 291.0h0M449.7 305.7h0M454.2 311.9h0M438.4 295.1h0M437.3 267.3h0M467.6 306.7h0M458.9 314.2h0M446.4 281.4h0M437.4 299.8h0M425.3 278.7h0M407.6 276.5h0M438.6 271.2h0M423.1 286.6h0M443.7 289.8h0M448.9 299.5h0M456.2 316.2h0M430.8 249.9h0M438.2 255.0h0M451.7 311.1h0M441.3 296.5h0M452.5 312.4h0M475.7 305.7h0M463.5 311.3h0M471.7 307.6h0M457.8 315.6h0M451.8 311.9h0M453.2 309.9h0M445.8 304.1h0M444.3 298.7h0M434.6 273.7h0M454.9 314.5h0M443.9 253.4h0M438.5 289.0h0M444.3 285.2h0M454.1 313.6h0M443.0 274.8h0M451.1 311.7h0M425.9 294.6h0M499.9 289.1h0M462.0 313.1h0M477.2 282.4h0M443.7 294.6h0M455.2 315.5h0M441.3 295.5h0M441.6 281.6h0M446.8 301.5h0M410.6 252.1h0M415.3 272.6h0M474.0 300.0h0M450.8 308.4h0M439.0 299.0h0M435.4 252.4h0M458.9 313.1h0M462.5 309.4h0M436.2 301.4h0M447.6 306.7h0M450.9 313.4h0M524.0 264.0h0M466.6 313.0h0M464.8 310.9h0M437.8 286.9h0M485.8 304.7h0M446.4 292.2h0M473.8 292.3h0M463.9 310.5h0M452.2 312.1h0M467.8 302.5h0M425.0 259.7h0M479.3 299.6h0M462.8 307.9h0M441.5 278.0h0M448.9 306.8h0M505.5 279.4h0M450.9 310.9h0M440.7 280.9h0M458.0 315.3h0M452.8 310.9h0M456.4 316.2h0M472.6 294.0h0M446.8 294.7h0M471.2 294.9h0M451.4 296.7h0M422.9 289.4h0M453.5 313.3h0M436.7 300.3h0M516.7 265.7h0M449.3 308.5h0M481.7 271.4h0M463.7 313.6h0M450.0 306.0h0M470.0 311.3h0M424.0 261.5h0M443.9 296.6h0M452.3 305.3h0M526.3 264.9h0M434.4 285.9h0M445.7 296.5h0M468.7 291.4h0M451.7 311.7h0M472.4 305.5h0M469.4 309.8h0M482.1 301.1h0M437.4 262.1h0M433.5 279.1h0M433.0 289.8h0M461.0 309.9h0M431.9 290.0h0M514.9 280.5h0M468.6 311.4h0M459.9 313.8h0M438.4 298.8h0M456.3 316.1h0M431.4 261.2h0M484.3 292.8h0M464.1 303.0h0M525.6 255.3h0" stroke="#8a8a8a" stroke-opacity="0.36" stroke-width="2.7" stroke-linecap="round" fill="none"/>
<path d="M450.4 311.6h0M444.8 302.9h0M426.8 269.5h0M435.2 269.2h0M464.6 310.6h0M438.6 296.8h0M448.9 290.8h0M459.3 312.4h0M444.5 279.5h0M411.9 263.3h0M468.1 308.2h0M447.5 308.5h0M449.5 311.5h0M447.7 297.9h0M417.8 276.2h0M454.1 311.9h0M442.9 293.1h0M423.4 287.1h0M464.4 311.3h0M464.2 311.0h0M458.6 314.9h0M423.3 272.6h0M479.8 302.8h0M466.5 310.1h0M452.4 304.8h0M464.6 309.7h0M470.6 282.5h0M474.2 290.3h0M443.8 295.6h0M427.1 302.1h0M449.5 293.8h0M505.2 288.9h0M449.5 305.7h0M452.6 312.0h0M454.2 311.4h0M446.5 297.6h0M522.7 280.1h0M464.3 306.8h0M472.4 310.5h0M467.5 298.9h0M436.8 259.2h0M446.2 285.9h0M452.6 307.9h0M448.5 306.9h0M481.1 299.5h0M442.7 306.8h0M451.7 312.0h0M442.8 292.8h0M458.1 314.6h0M452.2 311.4h0M492.7 291.3h0M430.8 298.2h0M453.6 312.9h0M447.1 302.6h0M474.0 308.7h0M437.9 289.4h0M410.5 276.8h0M466.4 309.3h0M478.4 303.3h0M472.4 293.3h0M412.2 253.0h0M430.7 251.2h0M400.9 255.5h0M450.9 306.1h0M454.4 309.7h0M437.8 287.8h0M403.8 286.8h0M445.5 281.3h0M437.5 294.9h0M432.7 280.9h0M457.9 315.5h0M437.7 295.9h0M482.3 290.0h0M425.8 258.9h0M429.8 286.9h0M409.8 270.2h0M446.2 307.1h0M482.1 295.9h0M450.9 312.1h0M448.4 303.3h0M450.2 303.5h0M465.7 312.6h0M449.9 302.9h0M459.7 312.1h0M411.4 270.0h0M456.2 315.9h0M457.2 315.4h0M472.2 283.4h0M456.3 316.2h0M440.1 301.5h0M439.4 258.9h0M496.7 316.1h0M449.4 307.8h0M455.6 315.6h0M458.0 315.0h0M446.5 297.3h0M433.6 277.7h0M502.7 267.6h0M430.9 278.4h0M463.9 306.3h0M457.9 314.8h0M448.8 308.9h0M460.9 311.9h0M466.1 310.8h0M453.2 308.8h0M447.2 277.9h0M447.9 304.1h0M449.5 301.6h0M444.9 307.1h0M409.4 279.7h0M468.9 311.0h0M465.9 303.8h0M442.4 292.0h0M512.9 265.2h0M455.8 315.9h0M442.1 298.6h0M447.4 293.6h0M471.1 306.4h0M450.3 309.9h0M435.1 278.7h0M469.7 302.4h0M472.3 294.8h0M467.3 299.7h0M449.8 297.0h0M474.2 300.2h0M459.8 313.6h0M433.0 252.5h0M443.4 283.4h0M472.0 302.6h0M442.8 307.3h0M457.9 313.2h0M446.2 301.1h0M481.9 299.6h0M429.5 283.3h0M425.6 253.1h0M458.7 315.1h0M433.0 302.1h0M444.5 287.8h0M445.3 309.5h0M446.9 292.5h0M443.8 282.4h0M413.7 252.3h0M514.4 259.7h0M449.6 305.2h0M450.6 311.2h0M433.9 299.2h0M467.2 309.5h0M463.4 312.3h0M442.9 304.7h0M443.9 292.5h0M425.6 299.0h0M457.6 313.3h0M498.4 287.9h0M455.6 315.0h0M452.1 307.8h0M441.6 289.6h0M387.6 276.0h0M453.3 311.3h0M444.4 305.1h0M432.9 294.1h0M447.4 308.0h0M446.5 303.6h0M446.5 298.5h0M416.8 265.6h0M416.6 257.7h0M450.1 312.3h0M444.8 306.0h0M454.0 313.3h0M470.3 307.0h0M451.0 300.8h0M475.0 303.8h0M457.8 314.7h0M499.7 288.6h0M422.3 283.6h0M421.7 263.5h0M450.8 307.7h0M426.0 265.3h0M499.0 290.0h0M459.8 310.5h0M453.6 314.1h0M441.4 292.7h0M496.7 299.5h0M465.0 309.2h0M419.8 268.5h0M455.0 315.2h0M455.7 315.6h0M454.2 315.0h0M433.9 266.7h0M469.8 300.2h0M450.4 300.7h0M459.8 312.8h0M448.1 307.0h0M428.4 288.3h0M451.6 304.5h0M463.2 313.3h0M472.8 297.7h0M439.2 291.7h0M446.7 306.1h0M447.3 294.2h0M414.9 276.4h0M471.8 301.6h0M452.2 301.4h0M489.8 289.3h0M439.7 259.8h0M437.3 274.5h0M455.7 316.0h0M428.3 280.0h0M448.9 290.9h0M426.7 293.1h0M447.8 303.7h0M482.9 305.7h0M466.3 306.3h0M450.0 308.4h0M507.4 277.0h0M438.8 298.1h0M469.3 310.7h0M448.1 311.0h0M456.5 316.2h0M449.9 294.6h0M439.8 306.4h0M437.1 295.3h0M440.5 274.3h0M438.7 252.1h0M463.4 312.2h0M457.7 315.8h0M485.6 296.0h0M447.6 303.4h0M456.4 316.3h0M468.8 298.8h0M443.6 293.5h0M421.5 270.4h0M419.8 281.3h0M441.0 261.3h0M448.6 298.3h0M446.7 302.1h0M438.7 284.7h0M444.1 299.8h0M417.3 291.5h0M464.5 313.6h0M437.8 254.0h0M429.6 286.9h0M443.3 277.0h0M465.9 310.1h0M447.9 304.3h0M428.0 289.4h0M457.7 315.3h0M459.7 312.1h0M431.4 291.9h0M425.9 289.3h0M435.6 277.3h0M440.2 304.9h0M457.2 316.0h0M457.9 315.1h0M446.1 306.0h0M438.5 292.2h0M459.3 314.5h0M457.7 315.4h0M470.4 307.1h0M468.4 305.3h0M459.7 313.5h0M458.6 315.2h0M463.6 307.3h0M469.9 303.7h0M432.2 268.9h0M425.9 271.6h0M464.8 310.4h0M441.2 292.4h0M452.2 310.1h0M452.9 313.1h0M458.0 315.0h0M465.0 310.4h0M459.6 311.6h0M447.8 304.2h0M406.9 264.4h0M491.4 294.3h0M448.5 305.1h0M449.9 312.1h0M482.1 303.2h0M447.3 299.8h0M428.6 281.5h0M467.3 309.0h0M476.6 301.9h0M456.6 316.1h0M426.0 274.7h0M522.0 274.4h0M419.6 256.9h0M447.7 296.9h0M454.3 311.9h0M448.6 295.5h0M465.1 310.5h0M438.5 302.2h0M478.9 251.7h0M495.7 287.6h0M442.4 292.0h0M464.9 307.5h0M439.5 276.7h0M443.6 298.2h0M445.9 301.3h0M444.4 302.7h0M460.8 305.9h0M455.0 313.8h0M449.5 311.5h0M502.5 275.5h0M475.3 303.9h0M464.6 306.3h0M436.6 279.3h0M448.7 311.2h0M470.5 296.5h0M454.0 314.5h0M452.9 311.0h0M445.4 287.2h0M480.1 301.5h0M413.8 252.2h0M432.7 279.0h0M450.0 305.4h0M450.2 298.1h0M470.6 309.7h0M443.2 303.3h0M434.5 282.8h0M511.1 268.9h0M447.0 289.3h0M473.7 283.5h0M436.7 290.4h0M472.5 303.6h0M450.6 304.3h0M454.5 313.2h0M437.6 280.5h0M488.5 278.9h0M417.0 267.2h0M451.0 306.2h0M463.3 310.7h0M448.3 275.1h0M439.2 291.2h0M462.3 311.2h0M436.8 266.1h0M453.6 314.8h0M463.6 309.5h0M435.7 295.6h0M464.8 306.1h0M458.1 314.5h0M461.1 312.8h0M470.7 301.1h0M422.6 267.6h0M442.8 304.6h0M446.7 299.9h0M455.9 315.4h0M459.0 315.2h0M467.9 298.9h0M442.0 301.6h0M445.9 299.5h0M471.9 306.9h0M474.6 309.6h0M500.2 315.9h0M447.7 310.2h0M480.9 302.0h0M427.7 274.3h0M425.5 250.5h0M430.9 259.8h0M452.0 313.5h0M433.6 300.0h0M448.6 301.5h0M449.4 302.9h0M437.5 288.7h0M443.6 278.8h0M440.6 266.3h0M425.7 264.7h0M478.2 295.6h0M422.8 283.5h0M448.5 306.2h0M447.4 309.2h0M450.7 313.0h0M434.6 286.4h0M442.3 298.0h0M476.9 308.6h0M449.5 309.6h0M453.2 313.2h0M463.6 308.8h0M432.8 292.9h0M466.2 309.7h0M437.8 302.8h0M443.7 289.1h0M438.5 278.9h0M426.0 284.6h0M440.3 295.3h0M461.2 312.3h0M415.1 259.0h0M459.1 314.3h0M462.2 308.4h0M465.3 307.3h0M402.6 270.4h0M465.5 305.2h0M437.6 286.6h0M470.7 303.2h0M439.5 301.3h0M412.7 262.2h0M458.0 315.4h0M444.1 287.5h0M444.9 280.9h0M459.4 315.1h0M442.8 304.3h0M485.4 302.6h0M455.7 315.8h0M459.3 311.0h0M441.3 297.8h0M448.1 309.4h0M446.8 304.2h0M422.1 274.3h0M515.5 264.4h0M445.0 297.0h0M441.7 281.0h0M450.3 307.9h0M424.0 287.6h0M428.1 288.9h0M413.8 250.7h0M435.1 285.0h0M459.6 314.5h0M460.7 314.0h0M444.6 294.2h0M520.6 286.0h0M451.9 309.7h0M443.8 299.7h0M423.2 286.8h0M458.0 314.0h0M456.8 316.0h0M459.8 313.7h0M453.1 313.7h0M434.5 293.3h0M433.7 295.0h0M455.2 313.4h0M470.2 306.7h0M447.9 306.5h0M428.4 299.7h0M449.3 312.1h0M463.5 313.7h0M444.0 298.4h0M457.9 314.2h0M465.0 304.5h0M463.7 306.7h0M419.4 290.9h0M420.0 251.5h0M475.5 308.6h0M443.3 252.4h0M465.6 311.5h0M419.2 281.2h0M469.8 306.8h0M453.8 313.7h0M450.4 312.7h0M438.9 267.8h0M444.2 270.5h0M439.8 299.6h0M417.0 279.9h0M470.8 309.8h0M434.8 255.3h0M457.0 315.0h0M449.9 309.5h0M447.1 305.1h0M456.6 316.1h0M445.6 305.1h0M450.1 308.4h0M501.8 274.0h0M454.6 312.8h0M469.5 309.5h0M410.6 282.2h0M468.8 298.7h0M458.0 315.5h0M443.6 291.2h0M484.2 297.4h0M511.8 268.3h0M489.1 279.9h0M508.4 291.9h0M406.7 263.6h0M424.9 296.1h0M453.5 311.3h0M458.3 312.1h0M462.8 313.8h0M475.6 300.9h0M470.9 305.2h0M475.0 297.8h0M448.2 285.6h0M453.7 314.9h0M430.9 304.2h0M512.6 315.5h0M454.4 313.0h0M452.5 308.0h0M444.7 291.1h0M465.2 301.1h0M450.3 312.5h0M452.5 309.1h0M436.8 283.5h0M438.7 281.8h0M426.5 269.6h0M437.3 275.5h0M415.9 293.2h0M462.6 313.5h0M429.5 281.9h0M449.7 295.4h0M516.9 269.8h0M444.7 296.1h0M463.4 310.8h0M439.0 272.5h0M434.0 291.8h0M443.8 284.0h0M447.2 306.3h0M453.5 312.7h0M455.6 315.7h0M435.8 294.3h0M463.8 310.6h0M450.8 306.8h0M443.0 291.2h0M440.6 258.7h0M471.9 302.4h0M420.7 272.8h0M457.0 315.9h0M468.9 305.3h0M472.2 298.4h0M448.1 274.5h0M457.4 315.7h0M520.1 281.4h0M426.7 291.6h0M511.9 282.9h0M489.4 293.4h0M447.5 299.3h0M432.0 284.9h0M424.5 288.2h0M444.8 306.5h0M398.6 251.2h0M480.7 304.2h0M464.1 311.9h0M444.9 310.9h0M446.0 305.6h0M439.1 306.7h0M497.8 290.4h0M446.5 274.3h0M485.9 270.6h0M468.1 310.2h0M427.9 284.6h0M473.4 301.8h0M444.6 281.9h0M455.3 315.0h0M437.8 294.0h0M462.8 309.1h0M444.6 306.2h0M476.1 284.0h0M450.7 311.4h0M460.7 311.1h0M467.9 291.3h0M438.8 294.2h0M456.5 316.2h0M466.2 311.1h0M466.7 312.0h0M443.1 307.0h0M448.5 290.3h0M471.2 310.2h0M437.3 268.4h0M472.2 306.2h0M415.0 257.6h0M432.4 293.7h0M423.1 263.8h0M464.4 312.9h0M461.6 311.2h0M480.0 298.8h0M470.0 309.3h0M478.7 298.9h0M472.9 305.9h0M404.8 260.9h0M471.3 299.2h0M451.8 307.3h0M442.4 301.2h0M458.6 315.4h0M398.9 271.8h0M454.5 310.7h0M419.9 268.7h0M459.6 310.8h0M447.3 279.8h0M434.1 281.2h0M449.0 308.2h0M425.8 260.0h0M416.4 283.1h0M497.1 286.2h0M466.3 303.5h0M440.9 308.3h0M443.6 294.7h0M461.0 311.6h0M434.1 291.0h0M454.5 315.2h0M446.7 294.1h0M442.4 299.9h0M471.6 291.2h0M430.1 286.2h0M454.2 314.0h0M401.1 257.5h0M453.3 306.8h0M426.2 265.2h0M419.7 259.2h0M455.7 315.7h0M406.7 253.9h0M456.7 316.0h0M457.6 315.2h0M439.8 261.3h0M408.6 276.1h0M447.7 310.0h0M433.0 294.2h0M426.7 252.0h0M437.3 289.0h0M449.5 313.0h0M447.3 299.2h0M418.2 258.3h0M447.4 299.2h0M460.0 310.6h0M452.8 309.4h0M421.1 270.5h0M439.0 261.9h0M458.4 311.5h0M438.6 270.1h0M439.4 273.7h0M523.9 273.7h0M474.2 300.5h0M457.5 314.7h0M432.9 288.0h0M468.8 290.1h0M408.3 277.0h0M467.3 291.5h0M455.3 315.6h0M467.7 307.6h0M468.3 306.0h0M430.5 288.6h0M471.9 302.9h0M466.5 311.3h0M438.1 279.4h0M448.2 299.5h0M474.0 308.5h0M471.8 308.8h0M443.2 306.6h0M509.0 251.4h0M452.4 308.3h0M426.7 259.1h0M471.4 309.2h0M444.6 306.5h0M507.8 272.6h0M472.5 290.3h0M454.3 310.4h0M492.2 288.9h0M458.4 314.8h0M461.6 309.7h0M451.2 304.9h0M446.3 294.2h0M411.9 254.4h0M410.1 255.8h0M416.2 256.2h0M459.3 313.2h0M446.0 281.0h0M457.2 314.8h0M465.1 305.6h0M500.0 281.6h0M445.0 280.4h0M444.0 294.4h0M463.9 304.5h0" stroke="#8a8a8a" stroke-opacity="0.36" stroke-width="2.7" stroke-linecap="round" fill="none"/>
<path d="M441.3 282.6h0M489.1 299.4h0M452.4 305.0h0M439.5 306.9h0M456.9 315.9h0M448.5 290.1h0M503.3 283.1h0M461.7 308.6h0M431.5 287.0h0M401.9 260.4h0M459.1 313.9h0M470.4 303.8h0M422.5 271.5h0M431.6 267.2h0M431.2 297.3h0M447.2 288.8h0M439.8 283.0h0M441.4 294.3h0M423.9 257.0h0M452.5 311.7h0M440.7 281.9h0M449.7 306.3h0M471.7 306.8h0M374.2 251.4h0M452.1 310.2h0M468.9 311.5h0M463.0 312.0h0M451.8 308.6h0M456.7 316.0h0M420.0 255.4h0M460.4 314.3h0M420.8 286.6h0M487.0 296.6h0M482.3 274.1h0M472.8 300.1h0M446.0 307.3h0M461.1 313.2h0M474.3 294.2h0M447.2 296.9h0M473.6 307.9h0M424.3 275.1h0M444.0 292.9h0M441.9 298.1h0M466.1 309.5h0M494.4 315.8h0M412.9 287.8h0M426.9 261.1h0M443.3 300.9h0M426.8 282.8h0M448.5 303.1h0M444.9 306.1h0M470.6 308.0h0M459.7 310.7h0M406.7 275.2h0M457.5 315.4h0M461.6 313.8h0M461.1 312.3h0M489.7 302.7h0M435.1 282.9h0M485.1 280.9h0M457.1 315.3h0M420.3 255.6h0M475.1 301.1h0M450.8 312.7h0M466.7 307.0h0M442.9 295.4h0M448.2 311.3h0M433.5 258.2h0M445.8 308.7h0M431.8 275.0h0M439.0 300.6h0M427.6 289.9h0M461.8 310.4h0M454.6 314.1h0M466.8 307.8h0M478.8 298.6h0M479.1 307.4h0M452.9 313.8h0M451.4 313.1h0M435.7 295.6h0M460.8 313.5h0M448.6 308.6h0M437.0 300.8h0M450.4 305.9h0M427.9 279.9h0M476.2 306.3h0M481.2 305.7h0M426.9 280.7h0M447.7 283.9h0M460.9 313.0h0M433.6 265.5h0M442.3 303.4h0M435.1 291.9h0M453.2 308.5h0M444.0 301.3h0M501.4 288.5h0M457.6 315.8h0M511.9 271.9h0M430.9 280.0h0M411.9 292.6h0M417.7 276.8h0M456.3 316.2h0M442.7 265.3h0M449.6 286.1h0M497.3 289.6h0M439.0 291.0h0M443.7 300.0h0M428.2 262.5h0M425.6 290.5h0M465.4 308.5h0M458.1 314.9h0M424.8 265.8h0M447.4 302.8h0M478.5 288.9h0M449.1 304.1h0M420.6 282.3h0M460.2 314.2h0M446.8 298.2h0M462.2 310.6h0M434.8 293.9h0M469.8 310.3h0M428.3 273.6h0M443.4 294.6h0M462.5 305.6h0M445.5 290.0h0M488.7 292.8h0M444.1 299.7h0M433.5 261.5h0M464.9 311.7h0M468.3 307.2h0M436.6 302.8h0M426.4 265.3h0M446.4 306.3h0M435.8 281.0h0M440.1 299.7h0M437.4 295.9h0M448.6 309.3h0M481.8 296.5h0M445.8 275.1h0M461.3 310.1h0M480.0 299.6h0M461.2 313.6h0M478.6 295.7h0M460.0 310.9h0M473.2 293.6h0M450.0 312.2h0M448.8 288.4h0M424.5 283.5h0M435.8 284.4h0M439.2 278.8h0M450.6 311.8h0M410.1 289.8h0M413.5 277.9h0M452.7 311.1h0M439.1 298.4h0M444.3 305.9h0M449.3 297.0h0M447.4 304.1h0M468.1 287.4h0M482.3 279.8h0M477.8 296.8h0M445.8 291.1h0M440.3 301.2h0M452.4 308.4h0M442.7 299.4h0M465.5 311.5h0M439.0 285.7h0M441.9 294.2h0M438.9 303.8h0M437.2 284.7h0M449.6 313.4h0M446.6 285.3h0M455.5 315.8h0M440.4 291.7h0M459.7 312.8h0M495.4 290.3h0M415.1 287.2h0M441.9 264.6h0M495.0 282.6h0M449.4 298.5h0M436.1 300.4h0M425.4 271.4h0M457.0 315.2h0M414.3 256.6h0M450.2 298.0h0M474.2 286.8h0M488.2 304.6h0M440.2 285.2h0M480.2 288.4h0M447.0 309.6h0M462.4 313.7h0M491.4 285.4h0M459.1 312.6h0M371.6 259.0h0M454.3 309.7h0M421.2 266.5h0M491.3 276.1h0M466.6 311.4h0M451.8 301.0h0M425.9 255.5h0M398.7 250.5h0M434.1 269.5h0M476.3 305.9h0M498.1 283.1h0M437.2 278.5h0M443.3 292.8h0M448.5 288.0h0M477.8 301.3h0M462.5 313.8h0M438.2 256.0h0M457.3 315.8h0M444.3 294.8h0M484.6 283.4h0M463.8 308.6h0M446.5 298.5h0M469.1 301.5h0M448.0 307.5h0M450.0 302.7h0M456.8 316.0h0M458.8 312.4h0M423.5 291.4h0M436.8 295.7h0M463.2 309.1h0M450.6 305.8h0M418.5 289.2h0M450.3 296.1h0M440.1 310.1h0M462.9 313.2h0M416.3 267.3h0M420.8 270.5h0M473.9 292.9h0M424.6 273.3h0M449.9 313.4h0M452.8 313.0h0M451.8 302.9h0M450.8 310.3h0M478.5 284.9h0M452.6 312.8h0M442.3 307.0h0M454.0 311.6h0M432.4 269.1h0M467.1 307.2h0M447.9 290.9h0M480.3 283.2h0M442.4 292.4h0M443.8 256.1h0M440.3 287.2h0M387.4 254.3h0M465.8 311.7h0M483.0 303.2h0M452.3 310.0h0M441.9 292.6h0M442.3 260.0h0M419.4 275.0h0M441.3 289.8h0M472.7 298.3h0M469.2 309.0h0M454.3 311.2h0M406.3 255.4h0M441.7 256.1h0M383.1 255.9h0M417.3 274.2h0M432.3 295.6h0M433.8 262.7h0M451.5 300.0h0M464.6 302.7h0M458.0 313.1h0M438.5 291.3h0M404.2 276.7h0M481.9 267.0h0M459.7 314.6h0M445.9 298.8h0M466.7 293.3h0M495.1 298.2h0M443.3 300.3h0M453.2 314.4h0M433.7 265.0h0M456.5 316.3h0M466.2 311.1h0M457.1 316.0h0M446.7 296.2h0M486.7 298.6h0M455.9 315.2h0M438.3 281.2h0M469.9 301.6h0M427.3 289.9h0M493.8 257.3h0M445.5 298.5h0M467.1 309.1h0M467.7 309.7h0M400.7 266.2h0M454.7 315.3h0M440.2 291.3h0M448.3 297.6h0M437.0 262.0h0M442.0 301.4h0M439.3 299.4h0M440.6 302.9h0M460.6 304.5h0M445.1 264.3h0M434.6 283.2h0M455.9 315.7h0M447.7 311.2h0M425.0 285.8h0M439.3 282.7h0M440.0 293.5h0M435.9 267.9h0M457.9 315.1h0M472.7 291.6h0M419.4 284.1h0M437.0 252.7h0M472.5 304.6h0M487.1 293.7h0M465.0 306.6h0M443.7 284.0h0M468.0 309.5h0M468.6 295.1h0M449.1 305.8h0M497.7 269.3h0M483.9 300.0h0M421.4 278.2h0M445.1 294.3h0M486.8 302.8h0M436.8 302.5h0M490.5 287.0h0M461.9 313.3h0M442.2 294.1h0M477.6 300.7h0M376.5 251.7h0M451.6 306.4h0M463.9 309.0h0M455.0 314.2h0M446.7 304.4h0M444.5 293.6h0M437.6 291.9h0M516.1 256.0h0M402.9 270.1h0M467.1 307.4h0M443.9 305.2h0M464.0 308.0h0M478.6 305.9h0M499.7 294.8h0M446.4 300.7h0M458.4 313.5h0M458.5 315.3h0M454.5 314.7h0M441.6 304.8h0M446.9 290.3h0M443.0 295.1h0M478.4 267.8h0M474.2 303.2h0M488.7 288.9h0M437.0 254.7h0M492.4 254.8h0M466.7 311.0h0M497.5 272.5h0M458.3 314.9h0M441.4 275.5h0M424.0 250.8h0M442.5 296.2h0M435.5 298.2h0M453.5 308.7h0M447.4 303.6h0M479.3 292.1h0M469.2 306.9h0M444.9 299.0h0M410.0 284.1h0M464.7 307.7h0M450.1 310.7h0M447.3 310.5h0M426.4 255.3h0M419.1 273.5h0M459.5 314.7h0M443.7 304.3h0M439.8 299.8h0M491.6 286.4h0M449.0 306.6h0M440.0 278.4h0M462.1 312.1h0M448.5 301.3h0M398.7 267.7h0M458.6 313.6h0M432.4 302.7h0M465.3 312.4h0M411.8 275.2h0M450.8 308.6h0M444.2 281.7h0M482.3 297.1h0M434.3 281.7h0M444.3 307.7h0M462.2 313.7h0M499.4 295.7h0M470.9 301.0h0M450.1 312.6h0M443.3 307.2h0M464.9 307.5h0M440.4 284.9h0M462.1 292.3h0M458.7 315.4h0M440.8 279.9h0M491.7 284.3h0M447.7 299.8h0M441.3 304.3h0M449.6 304.5h0M433.7 286.2h0M449.7 304.8h0M439.1 286.3h0M453.1 310.3h0M471.2 302.3h0M469.0 297.2h0M465.5 308.2h0M455.8 316.0h0M442.7 256.5h0M458.7 312.6h0M446.0 294.3h0M427.8 256.9h0M452.8 303.9h0M481.8 299.2h0M445.3 274.4h0M478.3 299.3h0M470.0 306.9h0M451.6 312.1h0M445.1 304.5h0M471.3 308.6h0M450.7 313.0h0M471.2 310.1h0M454.5 314.9h0M458.0 313.6h0M449.3 312.0h0M469.2 307.0h0M449.5 304.4h0M466.1 310.2h0M418.2 284.9h0M448.9 302.1h0M453.3 308.5h0M433.3 295.6h0M458.7 314.9h0M412.4 290.6h0M392.1 264.3h0M440.0 298.6h0M435.5 273.0h0M439.6 285.8h0M489.6 297.7h0M433.3 274.9h0M455.0 315.7h0M470.6 295.3h0M446.9 286.8h0M435.3 289.9h0M465.4 306.0h0M439.5 267.6h0M491.8 299.5h0M422.4 284.9h0M443.1 306.1h0M446.0 306.9h0M460.1 312.8h0M411.2 286.3h0M448.9 287.0h0M448.4 300.2h0M440.0 295.0h0M432.9 295.6h0M445.3 301.0h0M452.8 313.2h0M456.8 315.8h0M439.5 301.0h0M460.5 308.5h0M438.3 294.6h0M460.5 313.9h0M438.7 290.4h0M437.2 296.4h0M432.1 279.0h0M440.1 295.9h0M440.5 279.7h0M442.0 280.2h0M438.2 294.5h0M439.7 298.7h0M488.0 284.8h0M425.5 257.2h0M464.2 310.8h0M467.4 296.5h0M444.3 274.0h0M438.2 279.9h0M423.0 259.1h0M438.6 296.5h0M476.8 277.5h0M491.2 291.1h0M451.7 312.3h0M440.5 271.0h0M444.5 296.0h0M465.3 306.2h0M462.9 314.4h0M479.7 302.2h0M440.3 289.6h0M469.2 299.6h0M448.2 302.6h0M431.9 306.9h0M456.0 316.0h0M443.7 309.1h0M414.4 275.2h0M456.2 316.1h0M458.0 311.3h0M432.7 294.8h0M437.7 271.9h0M411.2 268.6h0M481.5 299.3h0M474.9 307.9h0M458.4 313.8h0M462.5 313.6h0M444.6 305.3h0M466.0 313.0h0M429.8 302.0h0M445.5 292.5h0M461.5 314.1h0M467.1 309.4h0M430.0 294.2h0M426.7 292.3h0M426.6 278.4h0M410.0 269.7h0M449.0 285.2h0M446.3 303.1h0M480.9 288.1h0M444.5 291.0h0M461.5 311.0h0M480.1 288.5h0M421.4 256.3h0M464.7 297.7h0M421.6 284.0h0M453.2 312.5h0M449.0 291.1h0M464.1 313.1h0M460.7 313.8h0M449.1 295.3h0M451.5 307.6h0M440.6 284.8h0M459.6 314.0h0M432.0 303.0h0M453.6 314.9h0M416.0 263.5h0M491.3 274.4h0M444.0 303.8h0M412.5 277.1h0M438.2 264.8h0M445.8 298.0h0M438.8 288.7h0M442.3 292.9h0M442.9 304.3h0M436.3 290.7h0M441.0 301.7h0M437.7 297.4h0M472.8 310.1h0M424.5 292.5h0M479.5 303.6h0M461.5 312.0h0M474.2 291.0h0M475.8 297.3h0M453.1 310.2h0M445.3 293.1h0M452.8 313.2h0M440.6 290.6h0M439.9 284.4h0M439.0 267.6h0M443.1 300.0h0M437.4 258.7h0M485.8 291.5h0M450.4 309.0h0M457.2 314.6h0M501.4 291.3h0M517.4 315.8h0M464.3 304.9h0M448.4 309.8h0M455.6 315.0h0M433.5 281.3h0M454.3 314.6h0M443.3 300.3h0M451.0 312.8h0M486.4 298.0h0M451.3 308.5h0M414.0 254.7h0M445.0 287.5h0M466.3 309.0h0M454.1 313.7h0M468.4 307.2h0M449.2 292.7h0M456.0 315.4h0M429.9 298.7h0M466.1 308.2h0M435.1 277.7h0M408.6 285.3h0M422.6 280.9h0M458.2 314.9h0M473.3 289.0h0M420.7 271.8h0M450.4 312.0h0M470.2 302.2h0M454.4 313.5h0M461.6 311.5h0M488.8 295.9h0M459.4 313.6h0M458.6 315.1h0M465.3 311.1h0M431.3 298.4h0M414.4 254.9h0M463.0 312.7h0M440.4 283.0h0M468.4 308.9h0M457.7 314.6h0M442.2 298.7h0M494.9 284.6h0M443.0 259.6h0M460.2 314.3h0M426.4 294.8h0M443.5 307.5h0M454.4 310.5h0M433.0 285.4h0M464.5 311.2h0M467.2 304.4h0M472.6 310.5h0M473.6 301.1h0M505.9 261.7h0M445.8 307.8h0M442.1 301.2h0M479.2 304.3h0M443.2 285.9h0M455.4 315.7h0M446.9 294.0h0M429.6 284.6h0M451.2 312.6h0M428.3 285.0h0M455.2 313.6h0M459.5 308.0h0M432.8 299.5h0M467.6 305.3h0M463.7 309.0h0M462.0 312.3h0M440.6 289.1h0M448.3 302.7h0M483.2 290.1h0M457.5 315.1h0M424.9 267.6h0M454.2 315.2h0M432.0 284.9h0M494.8 291.4h0M436.6 279.1h0M409.1 255.3h0M454.2 314.8h0M444.4 307.6h0M453.5 310.7h0M454.5 314.6h0M448.8 308.9h0M454.5 313.2h0M424.9 281.6h0M466.3 304.0h0M480.8 297.1h0M460.5 310.5h0M437.0 292.1h0M445.4 286.4h0M447.3 291.6h0M412.2 269.0h0" stroke="#8a8a8a" stroke-opacity="0.36" stroke-width="2.7" stroke-linecap="round" fill="none"/>
<path d="M447.5 285.2h0M476.8 292.3h0M446.4 281.4h0M448.5 310.1h0M481.6 306.4h0M457.7 315.4h0M526.6 270.0h0M437.7 297.7h0M473.2 297.0h0M463.8 312.0h0M487.4 290.5h0M475.2 286.5h0M429.8 279.6h0M441.4 303.3h0M449.1 306.6h0M445.4 281.0h0M453.9 312.8h0M451.7 308.0h0M446.6 305.5h0M473.8 299.5h0M453.8 314.1h0M490.5 296.9h0M436.9 272.7h0M435.1 285.3h0M383.6 274.3h0M474.2 307.5h0M464.3 312.7h0M492.9 270.8h0M448.5 305.2h0M421.9 277.0h0M422.7 276.7h0M445.7 282.3h0M429.1 297.1h0M482.9 301.2h0M464.7 309.2h0M442.1 296.8h0M465.5 303.5h0M435.4 267.5h0M443.7 286.3h0M432.9 283.9h0M443.4 298.7h0M469.1 300.5h0M431.1 273.1h0M519.8 273.5h0M411.8 275.7h0M455.9 316.0h0M432.0 296.0h0M446.3 279.7h0M438.7 273.5h0M445.8 299.7h0M451.4 311.2h0M480.2 281.9h0M458.9 315.3h0M495.4 292.8h0M432.0 272.1h0M436.1 256.4h0M458.7 312.9h0M437.4 273.8h0M452.5 309.2h0M451.3 307.7h0M460.0 315.1h0M459.0 313.6h0M439.3 289.8h0M448.0 311.4h0M466.6 287.8h0M448.7 280.6h0M441.4 289.1h0M414.4 260.3h0M462.5 310.0h0M452.7 311.7h0M462.1 313.5h0M467.8 308.5h0M465.5 304.5h0M477.2 293.9h0M478.7 292.1h0M450.9 309.9h0M439.2 300.4h0M486.6 266.7h0M522.1 278.7h0M436.3 303.6h0M456.6 316.1h0M457.7 315.0h0M453.5 313.1h0M440.7 287.4h0M446.7 303.7h0M441.2 290.0h0M492.4 285.6h0M442.4 282.8h0M497.3 292.4h0M452.2 307.8h0M444.5 304.4h0M422.8 266.7h0M489.8 282.4h0M431.2 262.2h0M445.9 305.2h0M464.8 308.8h0M453.7 314.3h0M448.2 304.5h0M443.4 273.9h0M471.9 303.6h0M430.4 285.2h0M474.1 300.2h0M503.2 287.9h0M449.8 310.8h0M478.4 303.5h0M443.5 299.2h0M413.7 279.2h0M478.3 297.6h0M457.2 315.6h0M493.9 288.2h0M472.0 301.3h0M456.2 315.9h0M460.9 312.0h0M489.6 291.5h0M445.7 270.2h0M450.2 307.3h0M448.3 303.5h0M458.8 314.3h0M441.0 288.6h0M457.5 315.0h0M452.1 313.9h0M401.2 268.7h0M442.9 289.0h0M479.5 290.3h0M450.2 303.9h0M463.7 310.4h0M445.2 295.5h0M471.9 306.5h0M427.9 277.1h0M509.9 290.7h0M448.0 302.7h0M481.6 289.0h0M439.0 288.7h0M427.4 289.9h0M435.4 290.6h0M525.4 261.6h0M434.4 294.3h0M470.2 309.8h0M471.1 306.5h0M444.3 264.3h0M461.2 310.3h0M459.9 314.2h0M442.9 285.8h0M432.9 267.6h0M448.6 306.8h0M457.3 315.9h0M436.6 304.2h0M440.2 310.1h0M447.8 298.7h0M466.5 312.0h0M429.8 302.6h0M478.0 298.5h0M444.4 281.7h0M462.1 312.5h0M457.6 315.4h0M447.0 280.8h0M462.9 306.7h0M425.4 267.8h0M459.7 313.2h0M449.5 307.6h0M445.1 306.0h0M435.7 298.3h0M458.7 314.4h0M438.2 272.1h0M452.4 305.8h0M462.1 309.5h0M468.4 311.6h0M448.6 289.4h0M438.5 284.7h0M448.3 294.4h0M490.2 281.6h0M446.2 268.9h0M458.5 315.0h0M443.5 304.7h0M439.9 304.2h0M447.4 301.5h0M462.2 311.8h0M419.2 275.6h0M461.3 310.4h0M409.8 285.0h0M452.9 312.0h0M448.9 310.8h0M467.0 309.5h0M429.6 287.7h0M508.0 277.3h0M470.6 309.9h0M422.1 284.1h0M477.6 305.9h0M458.8 314.0h0M439.1 291.0h0M451.6 310.2h0M473.1 298.7h0M478.7 303.8h0M462.0 311.5h0M434.8 252.6h0M446.7 309.7h0M475.3 300.4h0M413.7 261.5h0M460.6 313.9h0M459.0 312.8h0M432.8 288.7h0M484.0 296.4h0M492.9 286.9h0M446.5 278.6h0M472.5 302.5h0M462.2 307.4h0M483.3 302.5h0M486.2 301.5h0M449.1 302.9h0M469.1 306.1h0M449.1 312.3h0M468.7 294.3h0M490.6 295.6h0M447.1 286.7h0M484.6 297.3h0M477.1 304.7h0M432.4 288.6h0M432.3 280.1h0M437.2 289.3h0M461.2 312.0h0M478.4 294.7h0M475.7 304.6h0M479.4 301.9h0M451.8 309.0h0M437.1 293.6h0M439.0 296.3h0M471.2 306.1h0M438.5 279.5h0M460.1 313.8h0M461.2 304.5h0M446.8 308.0h0M446.8 297.5h0M461.1 313.7h0M502.6 290.1h0M458.0 314.7h0M456.4 316.3h0M430.5 291.0h0M428.0 278.6h0M448.8 303.5h0M442.3 279.9h0M478.3 300.4h0M496.4 299.2h0M454.9 315.3h0M477.6 307.3h0M447.8 312.3h0M466.5 298.4h0M439.3 301.9h0M463.7 312.2h0M460.1 313.1h0M436.4 276.8h0M433.4 257.3h0M456.6 316.2h0M449.0 309.8h0M453.1 309.2h0M474.3 310.2h0M440.7 300.1h0M431.4 284.4h0M444.2 301.3h0M443.4 288.0h0M427.7 299.4h0M452.1 309.2h0M450.9 298.2h0M457.7 315.9h0M479.2 295.3h0M461.5 313.4h0M447.5 300.3h0M443.7 304.1h0M450.8 311.2h0M452.5 307.9h0M471.6 298.7h0M521.0 278.4h0M492.7 272.4h0M464.2 312.7h0M459.8 310.8h0M433.0 261.2h0M463.1 309.6h0M462.3 300.1h0M452.0 312.2h0M459.8 312.8h0M501.8 286.2h0M456.6 316.2h0M444.7 305.9h0M453.0 308.0h0M445.2 296.3h0M444.1 309.2h0M441.2 281.2h0M434.8 294.9h0M429.2 286.5h0M446.3 301.8h0M428.0 298.4h0M432.6 268.2h0M439.5 301.9h0M445.8 300.5h0M462.1 314.0h0M460.7 314.1h0M440.9 258.4h0M470.7 303.6h0M489.7 293.8h0M523.5 274.9h0M454.2 314.9h0M441.6 274.8h0M466.4 311.4h0M453.6 314.1h0M449.7 309.6h0M439.0 293.5h0M433.0 274.0h0M443.2 271.2h0M478.8 294.8h0M472.0 307.6h0M412.3 273.3h0M449.1 310.1h0M456.8 315.3h0M451.2 313.0h0M433.9 294.5h0M446.0 285.8h0M455.2 315.3h0M437.7 257.4h0M436.1 303.7h0M434.1 291.7h0M441.2 300.7h0M455.2 315.3h0M442.7 300.9h0M416.5 289.6h0M450.9 304.4h0M466.4 303.2h0M453.5 312.2h0M464.3 311.1h0M520.2 253.2h0M466.0 310.6h0M446.7 285.2h0M459.7 313.7h0M439.5 295.3h0M440.8 301.4h0M424.7 292.0h0M462.8 308.4h0M452.7 314.4h0M410.6 262.6h0M462.6 310.9h0M440.2 294.1h0M459.2 314.6h0M442.7 268.9h0M467.8 311.1h0M440.2 285.4h0M442.6 286.6h0M472.3 293.8h0M464.5 313.4h0M468.4 310.5h0M464.6 305.9h0M462.1 311.5h0M475.6 304.9h0M434.6 283.5h0M450.7 310.8h0M420.2 287.3h0M437.8 291.9h0M442.6 299.8h0M450.8 307.5h0M451.1 307.3h0M443.3 306.5h0M466.4 308.8h0M417.5 277.7h0M440.0 293.4h0M446.8 299.2h0M437.8 278.6h0M436.9 279.9h0M475.5 302.5h0M456.7 315.9h0M426.5 287.1h0M454.7 314.1h0M448.8 305.7h0M453.8 312.4h0M457.2 315.5h0M523.4 260.1h0M443.0 303.1h0M423.3 279.0h0M485.1 295.0h0M436.1 262.6h0M432.0 270.0h0M469.2 308.3h0M464.3 310.7h0M434.8 278.9h0M460.2 311.1h0M459.6 314.8h0M493.2 267.2h0M453.0 313.5h0M428.9 305.4h0M445.0 297.3h0M471.0 307.6h0M467.7 309.7h0M440.1 301.4h0M473.0 303.3h0M458.8 313.7h0M418.6 281.4h0M473.0 298.9h0M431.5 286.4h0M487.5 297.8h0M443.9 288.3h0M474.8 304.8h0M462.2 311.1h0M460.3 314.8h0M468.1 310.4h0M428.9 283.3h0M445.6 291.9h0M462.8 305.0h0M475.0 306.6h0M482.1 290.6h0M459.9 314.6h0M446.5 305.0h0M517.0 276.5h0M477.1 288.4h0M465.7 311.5h0M453.6 313.6h0M472.1 298.8h0M477.6 305.2h0M423.2 279.7h0M444.8 294.4h0M458.9 313.2h0M441.0 279.9h0M457.0 315.6h0M464.6 312.6h0M429.1 284.1h0M458.3 315.0h0M495.9 264.4h0M417.7 258.5h0M456.3 316.2h0M422.2 273.0h0M464.2 311.4h0M483.2 291.7h0M449.8 307.3h0M464.0 303.3h0M463.7 310.5h0M400.2 249.9h0M455.8 315.0h0M409.0 266.9h0M483.1 303.6h0M451.0 304.8h0M472.3 301.5h0M459.0 314.8h0M482.7 292.9h0M461.5 313.7h0M480.1 303.7h0M435.9 301.4h0M465.7 307.5h0M443.7 303.3h0M500.1 288.7h0M450.7 309.5h0M434.3 267.7h0M461.1 313.0h0M435.6 278.2h0M436.9 292.6h0M462.6 312.0h0M461.1 311.9h0M459.8 313.5h0M434.3 304.4h0M435.4 298.9h0M451.8 301.3h0M453.9 314.4h0M488.3 298.8h0M413.2 271.8h0M524.5 250.7h0M459.2 311.8h0M434.3 288.6h0M458.2 315.6h0M453.6 311.9h0M464.4 302.8h0M446.0 304.3h0M420.0 292.8h0M460.4 314.1h0M464.4 311.8h0M438.7 297.5h0M471.4 297.5h0M470.1 303.5h0M440.1 282.1h0M439.2 290.3h0M475.9 301.3h0M436.5 299.6h0M442.3 307.1h0M467.2 312.5h0M443.5 293.9h0M446.1 273.0h0M443.2 278.4h0M492.1 298.8h0M441.5 289.1h0M490.4 277.3h0M377.4 258.1h0M437.6 255.0h0M446.3 293.8h0M442.9 285.1h0M435.8 274.2h0M443.6 303.4h0M469.5 301.6h0M426.8 278.8h0M466.5 310.5h0M495.5 265.0h0M427.6 267.6h0M440.9 304.9h0M457.5 313.9h0M494.3 272.6h0M465.4 313.3h0M459.2 314.5h0M457.1 315.8h0M453.7 312.0h0M447.7 306.7h0M478.1 295.3h0M492.4 283.4h0M492.3 316.2h0M475.1 304.0h0M469.4 308.7h0M435.9 279.8h0M464.9 311.0h0M467.3 294.3h0M473.1 301.6h0M413.8 279.2h0M451.4 303.8h0M426.1 251.7h0M490.0 293.3h0M449.6 304.5h0M482.5 303.4h0M438.0 297.6h0M453.8 314.4h0M480.8 304.0h0M446.2 305.9h0M465.4 308.5h0M459.0 315.2h0M471.0 311.0h0M456.6 316.1h0M446.5 294.1h0M477.1 287.8h0M453.0 313.3h0M478.1 290.1h0M455.2 315.1h0M482.3 294.3h0M460.1 310.1h0M458.9 312.5h0M425.6 279.7h0M475.7 268.4h0M457.7 313.0h0M459.3 311.3h0M462.4 311.2h0M445.7 283.3h0M445.4 301.3h0M464.7 309.6h0M504.0 295.9h0M452.8 312.8h0M437.3 286.6h0M450.0 311.0h0M473.4 298.1h0M459.6 312.0h0M471.0 290.7h0M461.0 307.8h0M469.4 307.7h0M461.2 311.8h0M417.4 277.5h0M438.5 292.6h0M451.8 307.8h0M467.9 311.8h0M464.5 312.8h0M441.7 270.5h0M448.1 307.7h0M420.7 254.8h0M447.2 303.0h0M486.1 271.2h0M432.8 275.3h0M477.0 284.0h0M469.3 290.1h0M441.8 282.1h0M440.1 292.1h0M424.8 277.1h0M439.9 299.0h0M425.3 272.9h0M419.4 296.3h0M441.9 298.0h0M499.7 291.1h0M471.3 304.8h0M425.3 284.0h0M488.1 304.1h0M449.9 290.2h0M450.4 306.6h0M446.5 287.0h0M470.7 298.3h0M461.3 308.4h0M452.4 307.5h0M457.0 315.6h0M443.1 307.8h0M455.3 315.7h0M481.2 301.3h0M463.4 306.5h0M436.3 292.3h0M425.2 276.9h0M441.8 291.6h0M463.6 306.1h0M451.8 304.5h0M469.2 310.4h0M407.9 254.5h0M471.2 300.5h0M459.1 314.5h0M452.0 310.9h0M435.2 284.3h0M442.3 305.5h0M456.8 316.0h0M500.5 270.0h0M495.2 276.6h0M492.4 282.3h0M417.5 265.8h0M457.9 315.4h0M469.3 309.1h0M457.4 315.7h0M466.2 312.2h0M432.2 294.0h0M467.9 307.1h0M434.0 289.3h0M448.0 296.3h0M446.1 308.7h0M445.6 281.1h0M432.1 291.6h0M433.5 300.9h0M488.8 298.4h0M519.8 276.8h0M462.7 311.2h0M447.0 280.6h0M441.2 303.1h0M469.0 302.8h0M452.6 309.8h0M471.5 303.2h0M462.6 312.4h0M461.9 312.1h0M426.2 299.8h0M457.3 315.7h0M442.5 277.1h0M409.2 270.8h0M483.1 284.8h0M438.8 293.1h0M458.1 312.5h0M459.7 311.9h0M484.5 301.1h0M458.8 314.6h0M466.2 298.9h0M448.9 301.6h0M422.8 287.4h0M461.5 304.1h0M509.2 262.7h0M456.1 315.6h0M477.1 293.4h0M459.8 313.4h0M453.5 315.4h0M488.4 287.4h0M457.8 314.1h0M471.5 298.8h0M452.3 312.4h0M451.6 313.6h0M461.6 308.4h0M456.1 316.0h0M474.0 300.5h0M474.7 296.9h0M433.5 258.5h0M443.2 305.7h0M459.4 314.4h0M431.6 291.7h0" stroke="#8a8a8a" stroke-opacity="0.36" stroke-width="2.7" stroke-linecap="round" fill="none"/>
<path d="M449.2 308.0h0M425.8 286.2h0M437.7 265.9h0M457.2 315.6h0M438.5 304.5h0M461.8 312.8h0M450.9 307.3h0M450.7 299.6h0M438.3 303.7h0M497.7 275.9h0M427.6 260.5h0M505.1 264.4h0M436.0 278.2h0M442.1 292.6h0M466.7 309.6h0M439.6 263.7h0M453.2 308.6h0M446.3 306.4h0M440.8 298.2h0M410.8 277.8h0M512.2 279.7h0M455.7 314.7h0M466.6 295.8h0M456.9 315.9h0M442.7 307.4h0M478.5 304.4h0M450.9 295.6h0M445.6 282.9h0M448.2 308.8h0M457.5 313.9h0M442.7 299.8h0M444.3 303.8h0M450.5 290.8h0M491.8 290.0h0M470.4 304.1h0M442.1 275.5h0M470.2 309.1h0M412.4 274.4h0M462.3 311.5h0M435.6 285.1h0M454.2 315.2h0M443.5 265.4h0M456.7 316.2h0M423.9 288.4h0M449.0 282.0h0M452.2 309.3h0M463.4 310.6h0M462.6 310.1h0M473.1 306.0h0M474.6 284.9h0M440.5 294.5h0M494.7 259.0h0M460.9 312.6h0M478.4 296.0h0M439.9 278.9h0M459.2 315.1h0M466.2 311.0h0M434.6 251.7h0M480.1 304.3h0M466.2 310.1h0M461.6 313.8h0M463.5 312.0h0M420.2 290.1h0M464.1 312.1h0M461.3 311.0h0M465.2 306.1h0M452.7 308.9h0M460.1 311.3h0M446.8 309.8h0M421.7 263.3h0M471.2 297.3h0M449.2 306.7h0M457.5 315.6h0M453.6 308.7h0M440.5 294.9h0M433.1 284.3h0M444.8 284.4h0M440.1 291.6h0M430.7 296.2h0M476.0 303.5h0M444.8 295.9h0M457.2 315.9h0M466.2 308.4h0M449.0 303.6h0M453.4 314.6h0M450.1 294.3h0M453.4 309.4h0M460.9 310.7h0M403.2 269.8h0M462.3 311.2h0M443.2 306.5h0M463.1 311.0h0M427.5 254.2h0M438.8 290.1h0M416.6 268.5h0M486.0 273.1h0M467.7 308.4h0M500.8 269.2h0M460.2 312.5h0M447.4 298.7h0M426.2 274.3h0M393.1 260.0h0M438.8 292.2h0M459.3 314.4h0M446.2 282.6h0M441.3 272.8h0M449.0 309.8h0M507.6 270.9h0M446.4 306.0h0M476.2 295.9h0M446.3 296.6h0M431.6 297.8h0M446.1 303.6h0M458.1 314.6h0M446.9 295.6h0M504.4 281.4h0M492.0 292.5h0M436.0 291.8h0M437.0 287.0h0M452.9 312.1h0M457.5 315.4h0M435.3 267.2h0M443.7 295.4h0M451.7 306.4h0M442.3 288.5h0M457.6 315.5h0M465.8 311.8h0M478.4 304.0h0M447.5 297.6h0M472.9 303.5h0M466.5 311.4h0M478.7 298.2h0M485.7 297.4h0M519.7 280.7h0M504.9 282.8h0M496.2 260.8h0M435.4 267.6h0M457.0 315.6h0M478.5 293.6h0M488.4 298.3h0M462.3 313.7h0M477.3 308.4h0M459.8 310.8h0M431.8 296.6h0M467.5 312.3h0M447.9 304.9h0M455.8 315.8h0M461.5 313.3h0M448.5 306.7h0M470.8 307.7h0M492.1 297.1h0M444.4 303.4h0M435.8 270.3h0M435.5 277.4h0M456.8 316.1h0M457.6 315.5h0M443.7 289.8h0M479.5 294.5h0M440.3 255.5h0M457.4 315.8h0M457.7 314.6h0M465.0 308.1h0M468.0 285.5h0M445.6 282.6h0M443.4 293.5h0M435.3 281.5h0M459.1 312.8h0M465.1 312.7h0M435.0 272.3h0M492.7 255.3h0M448.2 297.6h0M449.6 306.6h0M460.4 313.1h0M453.6 314.3h0M455.1 315.1h0M485.0 287.8h0M468.1 308.0h0M441.2 261.6h0M424.7 263.3h0M477.0 300.7h0M444.6 306.1h0M408.3 257.7h0M446.2 284.1h0M434.3 291.6h0M450.8 302.9h0M448.7 310.1h0M485.8 302.5h0M432.8 306.6h0M440.2 296.3h0M432.5 274.7h0M521.2 261.9h0M448.7 311.4h0M447.1 295.4h0M459.5 315.0h0M423.1 269.0h0M487.8 303.2h0M435.5 276.6h0M450.3 308.6h0M440.8 258.0h0M467.3 306.8h0M482.0 295.5h0M439.5 288.4h0M425.9 283.3h0M442.0 275.1h0M467.2 304.9h0M441.3 288.0h0M443.3 295.6h0M454.1 314.3h0M475.6 294.0h0M444.6 299.2h0M419.3 285.2h0M449.7 301.2h0M490.3 283.4h0M438.9 296.1h0M420.6 285.8h0M483.6 285.8h0M465.7 308.4h0M524.9 261.8h0M437.1 260.3h0M447.7 308.0h0M441.6 292.8h0M444.2 277.4h0M467.4 302.8h0M452.4 313.3h0M467.5 295.9h0M449.1 280.3h0M467.0 308.6h0M475.3 304.7h0M434.8 272.2h0M414.6 294.6h0M466.9 307.8h0M456.7 316.0h0M467.5 310.7h0M476.7 294.2h0M430.3 259.7h0M448.2 288.5h0M440.1 282.8h0M424.1 289.5h0M474.1 306.1h0M463.5 313.0h0M448.0 292.3h0M470.0 286.9h0M458.1 314.0h0M449.4 306.6h0M439.2 274.6h0M462.7 312.7h0M447.2 308.9h0M445.6 289.5h0M443.7 306.9h0M457.0 316.0h0M479.2 303.3h0M506.2 282.9h0M468.5 308.0h0M485.3 291.9h0M447.5 300.8h0M449.3 303.6h0M449.9 299.5h0M455.4 315.3h0M447.0 304.7h0M437.9 292.9h0M441.4 298.0h0M436.6 299.3h0M434.9 256.2h0M452.6 304.7h0M438.3 294.0h0M446.4 278.6h0M450.1 303.0h0M453.3 313.5h0M393.4 256.9h0M437.3 303.6h0M443.7 304.3h0M447.1 301.3h0M439.0 290.7h0M455.8 315.8h0M447.7 299.0h0M479.1 303.9h0M435.4 254.8h0M445.1 300.8h0M468.4 309.8h0M450.9 310.7h0M458.4 314.0h0M445.7 275.5h0M421.8 263.4h0M445.0 298.0h0M458.0 314.9h0M442.5 283.3h0M493.3 300.8h0M440.9 303.4h0M462.8 313.2h0M459.0 315.1h0M443.9 282.4h0M433.7 276.7h0M445.9 302.6h0M476.4 306.5h0M458.3 315.3h0M475.6 305.2h0M456.0 315.3h0M449.3 306.7h0M474.9 304.7h0M454.2 311.6h0M450.2 302.6h0M431.8 278.0h0M448.8 305.3h0M464.1 309.8h0M461.7 312.8h0M485.1 290.3h0M430.8 275.3h0M446.5 293.9h0M424.6 266.5h0M421.7 268.3h0M445.0 300.4h0M467.3 301.4h0M468.9 309.8h0M473.7 308.8h0M491.7 293.6h0M446.4 307.9h0M477.8 303.9h0M440.0 300.4h0M424.3 284.9h0M447.8 298.5h0M441.9 300.8h0M446.5 305.9h0M430.8 283.5h0M458.7 314.5h0M499.5 280.6h0M470.7 303.0h0M458.3 313.8h0M447.7 301.2h0M428.6 268.9h0M440.0 258.8h0M493.7 281.5h0M451.4 314.4h0M451.2 307.7h0M417.5 275.7h0M437.1 295.5h0M459.8 312.7h0M432.8 286.0h0M499.4 295.3h0M479.3 306.2h0M489.0 301.6h0M433.3 261.7h0M458.2 314.6h0M457.6 315.5h0M410.8 273.2h0M446.1 283.3h0M470.9 306.8h0M446.4 303.7h0M441.5 308.9h0M412.9 261.5h0M462.0 312.7h0M436.8 308.7h0M489.0 301.6h0M459.7 314.5h0M440.9 301.5h0M463.0 303.9h0M446.1 309.7h0M466.3 311.1h0M448.9 308.5h0M457.0 315.8h0M442.0 292.6h0M468.8 309.4h0M446.0 304.1h0M455.1 313.6h0M425.7 264.9h0M436.9 271.4h0M443.8 298.5h0M453.8 313.1h0M390.4 259.2h0M411.3 276.4h0M416.7 288.3h0M473.5 304.9h0M437.9 252.0h0M476.5 304.5h0M437.1 289.5h0M492.6 291.8h0M440.8 270.1h0M464.6 312.1h0M434.8 288.7h0M456.1 316.1h0M448.8 308.5h0M437.4 293.5h0M435.5 295.0h0M426.9 275.0h0M427.5 278.4h0M447.4 305.4h0M469.9 304.3h0M456.9 315.7h0M465.8 311.8h0M481.8 290.2h0M476.4 301.9h0M448.6 280.9h0M440.2 260.7h0M477.3 304.5h0M453.4 313.5h0M439.3 305.9h0M460.9 306.3h0M460.3 310.1h0M434.9 293.8h0M459.8 313.2h0M458.0 313.1h0M456.4 316.3h0M446.0 293.2h0M446.6 298.0h0M440.4 300.7h0M447.7 306.3h0M448.4 293.8h0M485.2 300.3h0M427.3 278.3h0M423.8 284.3h0M494.8 294.8h0M484.3 282.0h0M468.8 307.1h0M435.3 294.0h0M464.9 312.4h0M457.5 314.2h0M427.7 287.6h0M437.7 297.6h0M458.6 313.4h0M443.3 291.6h0M458.7 313.4h0M423.8 271.6h0M451.3 300.7h0M426.5 294.7h0M463.0 307.0h0M467.8 304.0h0M473.4 306.6h0M438.2 297.8h0M496.0 266.6h0M437.4 276.0h0M481.6 294.4h0M450.1 290.3h0M461.3 313.4h0M465.0 310.6h0M445.7 311.2h0M491.2 277.6h0M450.0 300.9h0M450.0 300.8h0M472.9 301.5h0M404.7 269.9h0M463.6 308.5h0M447.5 309.1h0M446.3 302.7h0M486.7 299.6h0M462.9 307.9h0M457.0 315.9h0M432.1 276.7h0M443.8 306.1h0M447.6 299.8h0M445.1 303.5h0M426.1 263.2h0M437.5 293.0h0M476.1 307.4h0M477.6 296.4h0M457.7 314.3h0M457.3 315.8h0M438.9 259.1h0M434.5 278.4h0M458.6 315.4h0M449.1 307.5h0M462.9 307.5h0M458.1 312.7h0M440.3 288.5h0M430.3 295.6h0M437.9 278.5h0M456.0 315.7h0M459.0 313.4h0M460.4 313.7h0M432.6 302.0h0M437.8 252.7h0M420.8 282.6h0M456.0 315.9h0M463.4 304.8h0M434.8 302.1h0M479.1 302.0h0M461.5 304.9h0M450.1 310.9h0M446.1 288.8h0M445.9 278.3h0M446.4 295.2h0M430.3 265.6h0M466.1 311.3h0M440.2 300.4h0M442.1 303.1h0M461.0 313.9h0M458.7 314.8h0M432.9 302.3h0M446.5 305.8h0M448.9 292.6h0M475.7 297.2h0M451.5 313.0h0M422.7 280.3h0M420.4 250.7h0M439.4 293.1h0M460.9 304.9h0M440.9 250.7h0M463.7 310.2h0M454.4 315.2h0M453.8 310.5h0M488.0 294.2h0M426.9 265.0h0M447.2 308.4h0M459.3 315.3h0M492.7 252.8h0M469.3 306.3h0M428.6 254.6h0M444.4 286.4h0M453.7 312.0h0M452.1 312.9h0M439.8 284.5h0M420.4 286.9h0M447.6 294.6h0M445.6 263.7h0M445.8 256.1h0M463.9 305.2h0M459.0 313.1h0M453.2 312.3h0M447.1 263.6h0M452.5 310.3h0M464.1 313.3h0M438.5 281.9h0M456.5 316.2h0M451.2 312.1h0M449.0 297.5h0M442.0 283.8h0M451.5 304.4h0M486.3 299.6h0M440.0 272.1h0M457.3 315.0h0M460.2 314.5h0M447.9 307.1h0M460.3 309.6h0M495.9 296.4h0M470.8 305.2h0M457.0 315.6h0M448.8 290.9h0M447.0 306.9h0M451.4 300.2h0M432.8 286.9h0M427.6 293.0h0M450.7 309.2h0M484.3 298.0h0M460.3 314.9h0M440.0 305.3h0M517.0 288.5h0M456.6 316.1h0M540.1 251.4h0M429.4 283.4h0M441.1 281.4h0M482.7 295.8h0M445.6 277.2h0M434.2 283.8h0M414.4 273.2h0M456.1 315.9h0M437.0 292.9h0M472.7 308.6h0M433.8 264.9h0M435.3 278.9h0M452.3 310.7h0M449.3 289.7h0M436.9 283.2h0M424.7 275.0h0M489.1 272.2h0M457.5 315.7h0M455.7 314.9h0M446.8 311.1h0M456.6 316.0h0M410.1 264.0h0M456.5 316.2h0M447.9 305.4h0M482.8 301.1h0M465.1 300.4h0M452.1 309.8h0M453.5 309.2h0M449.3 297.6h0M451.4 311.4h0M485.5 277.4h0M437.3 262.9h0M474.5 302.6h0M443.2 303.6h0M446.0 260.1h0M422.6 288.7h0M435.1 300.6h0M465.1 304.5h0M414.4 256.3h0M443.2 254.3h0M468.7 310.9h0M433.6 277.9h0M458.7 314.0h0M451.3 313.0h0M446.8 309.0h0M448.4 302.7h0M441.1 287.1h0M466.1 297.9h0M438.0 288.8h0M434.9 273.2h0M433.0 267.1h0M444.6 296.2h0M433.5 274.6h0M449.3 298.1h0M439.1 275.9h0M434.7 291.5h0M419.0 253.0h0M474.2 301.1h0M436.0 301.0h0M465.6 306.8h0M483.2 286.9h0M457.9 314.7h0M452.3 314.7h0M464.3 301.5h0M486.9 273.3h0M444.7 285.1h0M440.5 288.2h0M458.4 314.7h0M436.4 295.9h0M461.6 310.3h0M441.0 267.6h0M456.0 315.6h0M444.1 299.9h0M442.7 284.1h0M431.3 286.3h0M452.7 305.6h0M433.9 276.8h0M449.0 297.7h0M512.9 289.7h0M465.0 306.9h0M459.4 311.1h0M472.2 300.7h0M427.6 291.8h0M492.5 270.1h0M480.6 296.3h0M423.8 275.7h0M455.6 314.9h0M437.4 265.9h0M441.3 288.0h0M416.0 278.7h0M477.8 303.4h0M469.1 307.0h0M435.6 300.5h0M452.1 312.3h0M420.0 279.5h0M435.4 305.2h0M475.7 301.8h0M486.1 298.3h0M480.3 306.7h0M444.0 281.2h0M451.9 304.1h0M431.0 290.5h0M438.9 292.9h0M446.0 295.6h0M442.0 295.3h0M452.3 314.4h0M470.0 301.0h0M439.6 299.7h0M474.6 300.5h0M451.3 312.6h0M453.1 312.9h0M473.6 308.0h0" stroke="#8a8a8a" stroke-opacity="0.36" stroke-width="2.7" stroke-linecap="round" fill="none"/>
<path d="M451.5 299.1h0M441.9 282.6h0M486.9 291.7h0M442.3 301.6h0M445.8 312.1h0M425.2 281.7h0M441.7 297.8h0M430.6 293.3h0M448.8 309.8h0M442.6 290.9h0M465.9 308.6h0M436.2 259.0h0M423.7 294.8h0M459.7 312.8h0M464.1 312.1h0M465.9 309.2h0M456.7 316.1h0M452.2 309.7h0M488.2 298.7h0M444.4 307.5h0M469.3 308.9h0M463.1 312.9h0M469.5 293.8h0M423.0 293.3h0M431.4 281.1h0M442.5 309.8h0M476.1 305.5h0M450.9 303.7h0M468.3 305.4h0M443.8 309.2h0M429.0 288.0h0M444.6 276.6h0M448.8 308.6h0M521.6 281.9h0M434.0 299.1h0M423.7 264.9h0M423.3 284.9h0M476.7 304.6h0M459.6 315.0h0M442.7 299.7h0M454.5 314.9h0M443.2 302.7h0M438.4 290.8h0M442.5 303.6h0M440.9 276.3h0M432.2 284.5h0M482.1 302.8h0M440.3 293.1h0M482.5 287.3h0M450.5 300.7h0M440.4 257.8h0M440.5 285.7h0M428.7 277.6h0M439.5 288.2h0M482.8 304.3h0M454.2 312.1h0M454.7 313.1h0M450.5 309.1h0M438.6 294.8h0M470.9 293.4h0M466.1 309.6h0M478.2 298.9h0M428.0 293.2h0M434.5 284.1h0M477.8 304.9h0M462.9 307.3h0M460.5 313.0h0M458.1 314.7h0M436.4 272.9h0M441.7 300.0h0M460.9 310.1h0M437.0 292.5h0M408.0 254.8h0M467.2 311.9h0M443.1 297.7h0M470.4 306.1h0M440.2 301.3h0M450.7 313.7h0M436.7 301.3h0M418.8 265.5h0M452.8 310.6h0M457.6 315.3h0M463.8 311.9h0M466.5 300.4h0M454.1 312.1h0M437.1 300.1h0M452.5 311.0h0M503.4 295.2h0M414.2 257.7h0M443.9 301.6h0M446.2 305.2h0M484.8 304.8h0M476.2 303.6h0M460.5 312.6h0M481.2 299.1h0M477.0 293.8h0M465.5 311.1h0M462.6 311.8h0M426.1 281.6h0M394.7 250.4h0M458.3 315.4h0M435.2 296.5h0M516.7 283.2h0M463.2 308.4h0M467.9 309.9h0M423.6 294.1h0M443.1 296.5h0M445.6 309.8h0M462.3 310.7h0M444.4 297.2h0M460.9 312.8h0M449.9 312.0h0M463.5 311.9h0M451.5 311.8h0M457.5 315.0h0M457.3 315.4h0M444.0 282.3h0M440.1 291.5h0M464.8 311.9h0M459.6 313.1h0M457.1 315.0h0M429.6 293.4h0M444.4 300.7h0M406.6 268.7h0M466.3 297.8h0M419.3 296.1h0M432.6 275.5h0M418.7 262.1h0M441.4 305.3h0M448.7 298.8h0M441.5 287.1h0M480.3 306.0h0M454.3 313.8h0M455.6 315.3h0M450.6 294.5h0M477.4 273.3h0M453.6 313.5h0M463.5 312.3h0M449.7 309.9h0M446.6 290.5h0M457.5 315.7h0M450.5 300.1h0M451.0 301.3h0M447.6 298.5h0M409.5 266.6h0M456.2 316.1h0M467.9 309.6h0M452.5 314.4h0M440.0 263.5h0M442.0 283.9h0M460.9 309.7h0M424.0 274.6h0M461.3 312.5h0M452.3 306.5h0M440.7 305.0h0M441.2 278.1h0M432.7 293.6h0M460.5 313.8h0M464.1 309.8h0M414.6 286.9h0M493.9 290.7h0M449.5 297.0h0M386.8 256.8h0M437.5 291.9h0M417.3 265.0h0M499.3 277.8h0M437.9 298.1h0M443.0 289.4h0M456.0 315.8h0M504.5 285.4h0M428.7 278.6h0M462.8 309.6h0M459.7 313.7h0M457.8 315.9h0M476.2 299.9h0M448.0 312.1h0M480.7 294.2h0M457.4 315.5h0M424.5 263.8h0M463.4 313.1h0M448.6 280.1h0M427.8 290.8h0M446.7 294.7h0M419.7 289.1h0M457.0 315.5h0M470.3 289.5h0M467.3 312.1h0M442.0 281.6h0M462.3 314.2h0M510.7 269.5h0M449.5 302.6h0M466.2 297.9h0M473.9 297.6h0M452.1 308.8h0M419.2 250.5h0M445.2 290.9h0M470.1 307.4h0M480.7 301.9h0M412.6 280.2h0M471.1 307.8h0M449.0 299.7h0M447.9 301.7h0M451.2 306.4h0M443.1 272.4h0M433.1 268.0h0M394.6 272.7h0M451.2 308.4h0M437.7 256.5h0M458.2 314.5h0M452.7 307.1h0M456.0 316.0h0M434.2 272.4h0M467.3 306.3h0M457.6 315.3h0M448.3 301.5h0M477.7 303.4h0M420.7 281.0h0M436.3 299.8h0M410.6 249.6h0M465.3 309.6h0M446.7 284.9h0M448.4 305.5h0M418.3 274.7h0M462.2 311.3h0M411.8 286.3h0M474.5 309.0h0M427.6 283.9h0M456.6 316.1h0M444.3 287.6h0M443.3 298.9h0M489.2 300.3h0M438.5 282.1h0M456.1 315.7h0M466.7 311.2h0M446.3 309.8h0M481.9 269.6h0M457.3 315.3h0M446.7 289.2h0M447.6 307.4h0M440.5 295.4h0M415.3 277.8h0M485.3 304.3h0M444.7 291.1h0M461.1 310.6h0M475.2 303.0h0M425.2 280.3h0M456.5 316.3h0M440.2 289.2h0M461.1 313.9h0M446.7 308.4h0M447.1 288.9h0M456.5 316.3h0M443.0 288.8h0M467.8 303.2h0M479.2 304.3h0M469.6 303.0h0M465.6 303.1h0M449.7 310.6h0M425.6 291.1h0M462.8 312.4h0M437.3 302.0h0M439.7 281.1h0M434.2 283.1h0M465.1 310.6h0M425.8 264.7h0M440.9 291.2h0M444.2 299.6h0M446.4 295.0h0M448.7 306.4h0M428.7 268.0h0M466.0 311.3h0M442.9 304.9h0M452.2 302.6h0M448.8 307.3h0M464.0 311.1h0M446.7 287.2h0M482.2 297.6h0M465.1 307.9h0M435.9 265.6h0M456.9 316.1h0M465.1 303.1h0M448.1 311.5h0M461.6 308.7h0M482.5 302.0h0M443.5 305.4h0M441.5 294.9h0M468.7 308.8h0M469.3 307.5h0M469.4 311.2h0M427.5 275.3h0M470.9 298.2h0M461.7 314.2h0M513.0 277.7h0M477.3 285.2h0M479.2 305.0h0M489.4 289.9h0M431.3 295.0h0M447.7 302.7h0M488.9 299.5h0M441.6 278.9h0M436.7 274.2h0M432.8 273.4h0M432.9 287.8h0M448.1 309.1h0M451.5 307.8h0M446.8 303.7h0M436.9 277.0h0M458.0 314.7h0M457.7 314.7h0M438.3 276.0h0M467.9 288.9h0M432.1 307.1h0M498.7 294.4h0M445.3 301.4h0M445.9 303.2h0M477.7 306.6h0M462.4 313.0h0M436.8 269.0h0M444.1 302.5h0M463.6 309.2h0M460.1 313.4h0M459.5 310.1h0M430.7 285.0h0M437.4 303.8h0M458.0 314.6h0M452.6 314.3h0M479.7 294.6h0M451.4 309.6h0M460.6 314.2h0M458.6 314.4h0M448.5 305.0h0M462.0 310.6h0M477.6 285.7h0M447.2 299.6h0M524.3 263.4h0M423.1 286.0h0M457.8 314.3h0M460.4 311.6h0M458.4 315.1h0M429.7 272.9h0M423.9 257.1h0M443.7 308.4h0M448.9 309.5h0M410.0 251.0h0M445.9 310.9h0M458.9 314.0h0M446.0 289.3h0M444.8 303.0h0M444.0 270.7h0M444.3 305.9h0M479.7 300.0h0M462.0 311.9h0M416.5 258.5h0M437.3 280.8h0M412.4 270.9h0M458.1 315.4h0M442.0 285.5h0M459.9 313.6h0M434.0 263.9h0M461.0 314.0h0M447.3 299.9h0M440.1 289.9h0M442.1 297.2h0M481.1 295.7h0M438.3 298.2h0M411.0 254.8h0M438.3 288.7h0M468.1 305.2h0M464.4 312.4h0M462.7 311.4h0M443.8 291.3h0M440.2 289.6h0M445.3 268.5h0M467.4 308.7h0M433.1 281.1h0M457.1 315.8h0M434.7 286.4h0M476.8 309.0h0M432.3 273.2h0M452.2 310.6h0M470.2 303.9h0M447.9 310.7h0M426.7 268.3h0M448.5 313.3h0M449.5 287.2h0M463.2 313.2h0M431.6 288.9h0M437.7 301.4h0M496.4 287.9h0M434.8 285.8h0M428.0 285.9h0M442.2 284.8h0M426.4 280.9h0M459.3 315.3h0M455.0 315.0h0M441.5 295.3h0M437.6 295.0h0M439.2 287.6h0M459.1 312.6h0M493.6 292.0h0M464.6 312.6h0M460.3 312.5h0M459.1 315.2h0M450.7 311.9h0M467.0 312.2h0M429.5 284.5h0M447.1 290.9h0M443.1 281.9h0M469.1 309.3h0M414.0 269.7h0M449.9 303.7h0M442.8 285.5h0M467.3 311.5h0M418.1 268.4h0M455.6 315.0h0M528.7 316.2h0M471.8 303.4h0M461.9 311.3h0M462.6 308.7h0M406.8 268.5h0M401.8 269.2h0M464.9 312.6h0M457.8 315.4h0M483.3 291.9h0M433.9 295.5h0M420.3 284.5h0M485.5 299.0h0M439.3 273.6h0M454.0 309.7h0M469.5 304.0h0M443.0 273.4h0M415.1 251.4h0M466.4 309.1h0M426.5 284.1h0M431.7 299.5h0M439.0 299.6h0M478.8 306.5h0M462.6 312.5h0M476.7 304.2h0M464.8 312.3h0M379.6 272.2h0M455.2 315.2h0M437.8 291.4h0M495.2 295.0h0M408.5 273.5h0M445.9 283.5h0M444.7 295.0h0M465.1 312.6h0M458.7 314.6h0M452.4 307.8h0M442.5 294.8h0M462.5 302.6h0M450.7 298.7h0M433.8 285.5h0M466.2 312.9h0M422.6 269.8h0M451.7 303.3h0M474.1 304.5h0M446.8 277.9h0M454.1 310.0h0M422.2 288.8h0M447.9 302.8h0M453.9 312.7h0M448.8 305.1h0M451.0 300.1h0M454.2 313.9h0M436.0 279.9h0M449.0 287.8h0M460.8 313.3h0M448.6 291.6h0M419.2 261.2h0M462.1 312.9h0M431.7 289.5h0M419.2 255.2h0M455.6 315.4h0M460.2 313.5h0M433.8 254.0h0M442.1 260.4h0M402.8 252.8h0M434.4 285.9h0M475.0 309.0h0M437.4 267.0h0M481.7 303.8h0M457.0 315.6h0M458.9 313.3h0M461.5 314.2h0M451.3 313.2h0M439.2 282.7h0M477.4 289.4h0M456.9 315.9h0M405.9 261.3h0M447.5 292.7h0M443.8 308.9h0M434.0 272.3h0M451.2 300.3h0M484.8 287.6h0M429.6 267.7h0M432.2 295.9h0M459.2 313.3h0M468.7 279.6h0M442.4 303.3h0M478.8 287.9h0M447.0 287.3h0M437.3 264.0h0M461.2 310.6h0M459.3 311.7h0M431.4 292.7h0M467.9 309.8h0M456.4 316.3h0M442.5 297.2h0M446.7 286.6h0M449.0 290.6h0M465.4 311.7h0M415.5 272.9h0M471.6 302.3h0M471.4 294.6h0M438.3 279.8h0M465.3 304.2h0M468.2 308.4h0M524.9 259.2h0M436.1 284.1h0M427.6 265.4h0M439.8 297.8h0M430.5 301.4h0M443.6 277.9h0M464.1 304.0h0M436.1 286.6h0M406.9 289.6h0M425.8 262.6h0M491.6 298.9h0M446.8 300.2h0M453.6 313.8h0M421.6 288.5h0M442.4 287.0h0M429.2 288.4h0M449.7 311.1h0M441.8 291.2h0M513.8 266.4h0M475.3 301.9h0M451.3 308.1h0M453.0 309.7h0M445.2 281.5h0M448.7 302.5h0M462.7 312.9h0M464.0 311.9h0M479.1 276.8h0M439.1 289.2h0M431.7 300.7h0M487.1 299.0h0M474.4 291.8h0M487.3 298.8h0M429.7 288.5h0M447.8 294.2h0M431.8 287.6h0M464.0 310.6h0M436.6 300.2h0M438.4 250.0h0M449.4 297.4h0M437.5 266.2h0M453.5 314.8h0M469.8 290.2h0M431.7 254.8h0M449.6 306.8h0M415.7 256.7h0M474.6 310.2h0M428.2 271.0h0M435.5 293.6h0M443.4 296.3h0M457.0 314.9h0M434.5 302.7h0M456.3 316.1h0M460.2 312.2h0M454.8 313.9h0M435.6 301.5h0M450.3 306.8h0M439.6 307.1h0M423.8 294.4h0M442.7 276.7h0M490.2 279.9h0M478.5 290.5h0M496.6 273.5h0M427.5 302.4h0M460.8 312.6h0M459.9 314.2h0M440.0 281.8h0M460.7 314.2h0M450.4 313.4h0M441.5 281.3h0M423.4 265.3h0M462.4 311.0h0M492.4 294.7h0M491.4 278.0h0M448.7 302.6h0M455.0 315.5h0M440.0 289.6h0M416.1 256.2h0M439.1 305.9h0M457.6 314.9h0M441.1 305.4h0M446.4 293.3h0M456.5 316.2h0M449.9 304.7h0M447.8 289.6h0M431.8 293.7h0M482.7 268.6h0M449.6 307.8h0M470.5 303.6h0M424.4 293.3h0M444.5 298.3h0M410.2 270.7h0M443.4 272.3h0M467.7 308.1h0M516.0 275.7h0M461.1 313.4h0M444.9 268.8h0M432.8 272.4h0M441.5 298.2h0M468.9 311.6h0M471.5 300.9h0M441.3 257.1h0M470.7 310.6h0M434.9 256.0h0M469.9 302.2h0M470.7 307.5h0M462.7 309.9h0M440.8 290.0h0M474.8 298.2h0M434.0 292.8h0M468.3 308.1h0M440.6 306.8h0M456.3 316.1h0M447.5 299.6h0M477.2 305.5h0M447.9 304.2h0M446.5 281.1h0M440.9 264.2h0M463.3 296.9h0M479.7 276.9h0M462.9 313.7h0M446.4 298.5h0M478.5 303.6h0M397.6 286.4h0M454.9 313.6h0M427.7 285.2h0M458.8 312.4h0M450.1 311.2h0M460.0 314.9h0M424.4 270.8h0M461.6 311.4h0M489.8 296.1h0M449.3 301.4h0M425.3 273.3h0M441.5 263.9h0M467.1 304.1h0M469.5 303.2h0M461.9 313.6h0M463.9 305.7h0" stroke="#8a8a8a" stroke-opacity="0.36" stroke-width="2.7" stroke-linecap="round" fill="none"/>
<path d="M449.2 305.7h0M446.4 302.9h0M462.0 312.8h0M424.9 275.5h0M445.2 281.9h0M447.3 305.0h0M439.0 296.8h0M459.1 313.5h0M389.9 250.5h0M413.2 266.8h0M459.1 313.8h0M489.6 294.2h0M435.4 292.6h0M440.5 293.1h0M439.2 283.4h0M457.9 315.4h0M462.3 311.5h0M451.9 314.6h0M462.4 308.5h0M426.7 278.6h0M411.6 259.4h0M435.0 294.9h0M475.8 297.6h0M467.1 300.6h0M482.7 297.1h0M470.0 294.8h0M469.4 305.0h0M511.5 289.8h0M463.2 312.8h0M471.2 306.1h0M437.2 280.1h0M458.9 313.4h0M422.9 270.4h0M465.6 313.1h0M454.9 315.5h0M416.8 267.9h0M459.9 305.1h0M447.3 308.0h0M471.2 299.1h0M443.7 296.9h0M468.4 310.9h0M391.2 267.0h0M465.0 309.7h0M441.4 297.9h0M424.0 284.9h0M473.4 304.1h0M437.3 278.0h0M462.5 311.0h0M438.2 275.6h0M429.7 302.6h0M460.0 308.6h0M448.8 301.0h0M444.3 309.4h0M470.0 305.2h0M459.6 313.7h0M422.0 283.0h0M437.3 277.7h0M458.6 313.9h0M493.3 265.7h0M423.9 295.5h0M456.9 315.2h0M445.6 281.9h0M469.9 300.3h0M440.2 302.4h0M457.9 314.8h0M422.6 276.0h0M425.2 291.1h0M456.1 315.9h0M452.2 307.5h0M464.4 313.2h0M529.6 316.4h0M473.9 295.0h0M454.9 312.7h0M441.4 302.5h0M397.5 264.8h0M457.9 315.6h0M443.3 305.8h0M470.5 301.9h0M458.3 314.5h0M465.9 310.6h0M463.7 307.9h0M428.7 284.0h0M482.8 305.4h0M443.4 296.1h0M431.8 274.4h0M463.0 312.9h0M478.3 304.3h0M467.5 302.3h0M493.4 298.0h0M451.5 302.0h0M426.2 279.8h0M489.7 291.6h0M455.8 315.9h0M448.2 294.2h0M442.5 262.7h0M434.8 281.8h0M444.6 306.2h0M446.4 293.5h0M448.5 304.0h0M443.8 280.4h0M448.4 309.6h0M454.8 315.3h0M446.1 289.3h0M459.6 311.9h0M445.6 277.9h0M445.8 303.6h0M430.8 264.1h0M423.7 284.1h0M444.3 279.4h0M489.4 289.5h0M458.9 310.8h0M443.9 289.7h0M440.0 265.4h0M470.4 298.4h0M450.4 304.5h0M463.3 310.4h0M510.0 273.5h0M396.9 252.0h0M439.9 297.1h0M474.6 308.4h0M432.2 297.9h0M441.8 299.2h0M465.3 311.9h0M440.8 294.2h0M456.8 315.7h0M474.1 276.2h0M443.7 269.7h0M478.9 299.6h0M426.7 274.5h0M460.9 310.6h0M465.8 307.8h0M456.9 315.7h0M424.0 293.3h0M482.3 290.0h0M470.5 301.1h0M466.1 303.6h0M456.5 316.1h0M474.9 277.8h0M480.9 299.7h0M478.3 301.4h0M484.2 295.2h0M451.3 297.5h0M457.6 315.7h0M455.6 315.4h0M448.3 295.5h0M477.4 307.6h0M441.6 261.1h0M442.9 307.2h0M413.7 289.9h0M410.5 278.0h0M461.4 313.3h0M454.7 315.2h0M459.3 312.8h0M439.2 282.9h0M464.8 311.4h0M479.9 301.3h0M422.5 284.8h0M438.9 296.5h0M410.1 263.6h0M460.5 308.2h0M468.4 302.5h0M494.5 279.6h0M446.5 306.9h0M466.1 309.7h0M425.2 271.8h0M460.3 311.6h0M454.3 314.3h0M470.2 299.3h0M441.1 300.6h0M458.5 314.0h0M438.2 290.6h0M485.7 295.0h0M478.6 296.8h0M447.2 307.3h0M471.3 308.4h0M481.2 305.0h0M431.9 296.2h0M410.1 284.6h0M457.6 314.4h0M465.2 302.8h0M427.3 293.6h0M443.4 269.4h0M497.9 274.4h0M446.9 311.0h0M459.8 312.2h0M412.0 279.6h0M450.5 293.1h0M433.1 284.2h0M466.1 311.8h0M438.1 295.8h0M470.2 282.8h0M474.0 287.1h0M455.2 314.9h0M448.6 306.5h0M440.8 289.2h0M415.1 286.6h0M434.2 298.7h0M460.4 313.9h0M502.6 283.6h0M453.4 313.6h0M423.5 281.9h0M428.9 274.5h0M466.4 310.4h0M445.4 287.2h0M478.3 272.7h0M473.5 299.7h0M416.7 276.2h0M447.2 296.7h0M457.5 314.9h0M439.6 284.6h0M439.6 272.0h0M476.2 302.7h0M442.5 297.6h0M444.4 296.4h0M439.6 276.3h0M444.0 274.3h0M471.7 302.3h0M494.3 277.0h0M465.3 308.6h0M443.2 308.2h0M521.6 261.2h0M454.8 311.0h0M395.3 277.9h0M449.7 293.4h0M456.5 316.2h0M487.3 270.3h0M462.8 312.5h0M418.2 275.5h0M456.9 316.0h0M458.0 313.6h0M436.7 291.1h0M451.7 309.8h0M424.3 281.9h0M425.1 286.2h0M461.9 314.6h0M450.4 309.7h0M460.4 312.9h0M456.9 315.6h0M442.2 288.7h0M445.3 310.1h0M445.2 309.0h0M465.9 311.2h0M426.1 262.9h0M454.7 312.3h0M449.4 313.0h0M466.3 311.8h0M482.8 299.2h0M433.1 279.1h0M485.1 265.3h0M492.3 277.1h0M426.2 277.1h0M433.0 288.3h0M457.5 315.9h0M425.7 271.5h0M456.7 316.1h0M506.4 288.9h0M452.1 311.1h0M442.8 292.6h0M453.7 309.0h0M407.1 251.1h0M459.6 313.7h0M447.7 290.3h0M449.1 297.8h0M489.2 299.3h0M483.1 302.7h0M420.4 288.0h0M450.6 310.6h0M465.6 312.8h0M435.8 265.8h0M437.4 277.9h0M450.9 312.0h0M436.7 278.8h0M462.3 313.5h0M464.7 310.8h0M445.1 268.7h0M406.0 250.6h0M457.7 315.6h0M470.1 309.7h0M444.8 296.2h0M456.4 316.3h0M468.3 301.1h0M458.1 314.7h0M462.4 312.5h0M464.3 295.3h0M489.0 287.6h0M463.9 306.6h0M440.5 300.5h0M498.3 281.5h0M439.6 291.7h0M467.8 293.7h0M448.0 307.7h0M465.2 311.3h0M464.5 305.7h0M455.1 314.6h0M518.9 282.1h0M491.6 291.8h0M451.5 300.0h0M450.2 311.9h0M453.8 314.1h0M461.4 312.4h0M451.6 309.1h0M483.1 302.1h0M457.5 315.2h0M469.8 307.0h0M470.6 307.4h0M454.8 311.4h0M446.7 303.5h0M465.6 312.6h0M460.8 311.7h0M444.2 299.3h0M443.2 261.3h0M425.1 296.2h0M430.3 277.3h0M508.6 252.0h0M430.1 272.6h0M463.9 310.3h0M468.1 299.2h0M447.7 300.4h0M441.5 306.6h0M436.7 261.2h0M449.9 311.2h0M454.6 314.9h0M459.3 313.9h0M442.1 288.6h0M446.7 297.3h0M449.2 311.5h0M461.0 309.3h0M463.0 312.0h0M424.2 273.3h0M446.6 309.9h0M444.7 264.7h0M454.7 313.2h0M452.1 308.4h0M405.1 268.3h0M463.5 313.9h0M459.5 314.6h0M439.1 270.4h0M482.7 285.4h0M444.8 282.7h0M422.7 258.0h0M427.6 272.3h0M430.4 269.4h0M461.1 313.0h0M451.0 308.8h0M431.9 280.5h0M462.3 312.8h0M451.9 309.9h0M442.9 282.9h0M473.1 293.8h0M481.3 297.5h0M460.3 312.8h0M436.2 255.0h0M465.7 311.5h0M446.1 302.8h0M436.9 291.5h0M485.7 288.7h0M460.1 313.2h0M472.5 296.6h0M425.9 282.6h0M422.9 281.1h0M456.9 315.7h0M467.3 309.6h0M458.3 315.0h0M470.8 303.3h0M449.4 296.8h0M431.8 301.4h0M464.3 306.1h0M427.1 292.0h0M439.1 303.0h0M462.4 311.4h0M479.6 274.8h0M458.3 314.0h0M421.0 280.8h0M439.5 303.5h0M477.5 298.2h0M445.8 294.8h0M459.3 315.4h0M460.8 313.2h0M463.0 307.8h0M401.7 278.7h0M530.2 272.1h0M418.7 298.4h0M464.4 312.4h0M463.3 312.0h0M452.0 307.7h0M476.1 301.4h0M495.4 294.6h0M392.7 271.7h0M426.1 290.1h0M451.7 305.9h0M449.8 309.2h0M481.1 295.4h0M455.8 315.8h0M448.7 307.7h0M482.6 300.4h0M464.7 308.5h0M437.6 305.9h0M461.7 305.8h0M460.3 312.5h0M450.6 310.0h0M460.2 312.1h0M476.2 295.3h0M459.6 312.9h0M428.9 282.8h0M434.6 293.2h0M456.4 316.3h0M374.2 262.3h0M473.5 308.5h0M445.0 304.6h0M483.4 289.5h0M464.3 300.8h0M435.9 276.4h0M468.5 301.8h0M386.7 276.8h0M466.9 310.2h0M492.6 293.5h0M432.7 269.1h0M469.6 302.4h0M435.7 278.1h0M449.8 304.5h0M462.2 310.3h0M439.7 265.1h0M433.9 286.5h0M465.1 311.4h0M439.4 295.4h0M400.0 253.2h0M454.3 310.2h0M448.1 310.5h0M433.4 298.9h0M443.2 304.3h0M462.3 305.1h0M420.8 293.4h0M421.7 271.3h0M464.5 298.2h0M470.3 308.7h0M436.9 291.3h0M463.4 312.6h0M467.2 312.1h0M469.0 311.5h0M456.9 316.1h0M410.8 260.5h0M436.4 260.4h0M451.6 308.4h0M460.8 314.6h0M458.7 315.1h0M477.8 308.4h0M444.6 286.2h0M466.6 311.0h0M443.2 294.3h0M446.4 299.4h0M466.0 308.5h0M473.8 307.8h0M442.9 308.9h0M430.7 272.2h0M447.4 288.4h0M455.3 315.5h0M471.5 307.5h0M438.1 304.8h0M441.1 295.5h0M446.6 304.5h0M447.3 294.0h0M471.3 309.6h0M435.8 290.9h0M447.8 295.2h0M449.5 311.1h0M461.1 314.6h0M447.5 300.5h0M437.4 291.1h0M429.6 296.9h0M451.1 300.4h0M429.4 293.5h0M447.1 304.5h0M461.8 313.9h0M441.3 292.0h0M475.0 308.2h0M504.6 268.0h0M448.7 308.9h0M437.5 289.7h0M445.4 304.0h0M451.7 312.9h0M449.2 305.6h0M456.6 316.1h0M447.4 300.6h0M468.1 312.3h0M457.0 315.7h0M433.5 295.2h0M503.1 255.6h0M415.0 286.3h0M430.2 253.3h0M474.7 299.1h0M459.4 310.8h0M436.0 285.1h0M467.7 307.8h0M447.8 300.1h0M461.0 310.6h0M451.2 306.3h0M459.9 312.1h0M450.7 312.5h0M479.6 307.7h0M467.3 305.1h0M457.6 314.7h0M456.4 316.3h0M424.7 258.7h0M460.2 314.4h0M456.4 316.3h0M418.9 280.4h0M480.2 301.9h0M444.0 298.3h0M453.3 314.7h0M444.3 262.1h0M438.6 285.0h0M415.6 267.7h0M470.7 307.9h0M492.2 294.8h0M447.9 298.9h0M450.8 293.5h0M451.9 310.1h0M480.4 277.9h0M458.9 315.0h0M469.3 306.7h0M415.3 290.8h0M448.0 304.9h0M448.5 305.4h0M456.4 316.3h0M414.5 259.7h0M464.0 307.7h0M444.2 307.0h0M421.9 284.3h0M451.1 309.8h0M498.8 291.7h0M476.2 299.3h0M454.2 313.4h0M450.5 311.1h0M428.9 285.3h0M424.3 273.3h0M459.5 312.1h0M471.3 304.4h0M446.2 287.3h0M476.1 305.1h0M464.6 312.6h0M440.8 303.6h0M434.2 278.6h0M478.7 307.1h0M478.8 300.6h0M460.0 315.2h0M450.4 307.6h0M471.9 287.5h0M441.7 308.3h0M449.0 303.0h0M470.5 307.3h0M425.7 265.6h0M434.9 274.6h0M429.6 282.6h0M454.2 313.7h0M449.4 296.7h0M460.2 314.8h0M471.6 290.6h0M462.8 310.9h0M426.9 266.2h0M448.8 298.7h0M490.8 297.6h0M456.4 316.3h0M458.2 314.5h0M453.9 313.1h0M483.9 286.7h0M409.0 272.5h0M405.8 252.2h0M466.3 312.7h0M438.9 273.5h0M456.5 316.3h0M446.0 299.1h0M446.9 305.5h0M438.6 270.6h0M530.6 316.8h0M468.1 302.7h0M468.2 311.5h0M476.5 291.7h0M438.4 285.9h0M425.7 280.9h0M452.8 312.8h0M441.3 305.3h0M443.1 282.8h0M412.5 255.7h0M431.1 280.4h0M430.2 296.8h0M439.6 288.8h0M436.0 303.5h0M441.5 267.0h0M436.7 305.0h0M454.5 311.4h0M466.4 309.4h0M440.8 290.4h0M433.6 266.1h0M458.8 314.3h0M480.5 303.9h0M440.9 292.4h0M442.9 306.6h0M464.8 309.9h0M451.6 310.0h0M502.2 279.0h0M481.6 301.2h0M460.3 312.4h0M465.4 311.0h0M430.8 283.0h0M449.1 302.3h0M483.3 289.1h0M470.0 307.2h0M467.7 310.4h0M462.2 307.0h0M448.5 298.4h0M475.7 299.8h0M416.0 281.0h0M432.0 286.4h0M451.1 307.8h0M457.9 314.9h0M446.2 268.8h0M510.6 266.2h0M460.2 314.5h0M474.8 303.7h0M454.4 313.3h0M453.7 314.5h0M431.3 292.5h0M421.2 279.4h0M468.1 308.0h0M414.2 285.2h0M469.4 304.1h0M435.0 292.1h0M455.1 314.9h0M441.8 282.7h0M446.0 297.1h0M446.4 293.7h0M431.0 266.8h0M430.5 281.5h0M413.2 272.8h0M446.6 304.9h0M463.1 312.7h0M465.0 309.5h0M472.4 300.0h0M479.2 304.3h0M431.8 252.9h0M454.5 313.4h0M431.5 288.3h0M472.2 304.3h0M451.2 308.0h0M460.5 314.4h0M504.2 292.3h0M421.9 272.4h0M462.5 313.1h0M460.3 314.7h0M517.5 315.6h0M440.7 283.8h0M455.0 313.6h0M438.5 268.8h0M418.4 259.6h0M441.8 287.9h0M472.7 307.7h0M445.5 286.4h0" stroke="#8a8a8a" stroke-opacity="0.36" stroke-width="2.7" stroke-linecap="round" fill="none"/>
<path d="M444.0 269.6h0M441.6 297.1h0M456.8 316.1h0M442.6 286.9h0M467.3 305.5h0M452.1 313.9h0M464.3 301.1h0M422.5 273.9h0M470.0 293.7h0M448.6 309.2h0M394.7 283.8h0M428.3 287.4h0M412.9 276.4h0M451.5 312.4h0M447.2 303.5h0M450.8 293.1h0M416.0 259.8h0M424.6 262.8h0M473.5 306.2h0M448.2 307.9h0M444.5 285.1h0M433.4 281.0h0M468.0 306.6h0M470.4 305.0h0M485.9 271.8h0M431.8 266.5h0M440.4 282.5h0M429.6 264.0h0M485.0 286.4h0M440.9 309.8h0M456.8 316.1h0M423.5 291.8h0M521.5 273.3h0M508.2 270.9h0M434.8 301.6h0M457.5 315.9h0M458.5 315.0h0M452.0 311.8h0M429.4 281.9h0M457.8 315.3h0M426.2 294.9h0M462.2 310.9h0M448.8 305.6h0M448.1 290.4h0M464.0 309.1h0M420.1 297.1h0M444.8 286.3h0M533.8 258.7h0M482.7 284.0h0M471.3 300.5h0M428.5 274.6h0M490.4 293.7h0M423.2 293.6h0M436.1 290.6h0M458.5 315.0h0M440.2 296.1h0M449.9 303.2h0M426.6 251.9h0M429.5 250.2h0M412.1 271.1h0M451.6 298.9h0M460.3 312.8h0M424.6 285.2h0M465.8 306.9h0M431.1 280.0h0M448.0 308.2h0M465.2 306.7h0M478.3 300.8h0M458.9 313.7h0M446.9 309.7h0M445.9 298.0h0M457.8 315.2h0M445.4 307.1h0M474.0 310.1h0M398.3 273.3h0M446.6 290.3h0M467.9 302.5h0M469.7 302.2h0M438.0 296.1h0M468.7 304.3h0M444.9 258.0h0M424.8 284.4h0M431.6 294.9h0M438.8 271.2h0M434.4 260.8h0M448.0 304.5h0M436.6 295.7h0M439.1 287.0h0M447.3 295.7h0M460.7 312.1h0M458.2 314.3h0M456.5 316.3h0M433.8 288.1h0M450.9 305.0h0M430.2 289.5h0M436.6 280.9h0M463.0 306.6h0M471.9 302.2h0M419.9 288.2h0M453.2 311.5h0M427.1 283.3h0M473.6 300.7h0M468.5 310.4h0M463.2 304.6h0M449.0 291.9h0M459.4 312.4h0M522.0 260.7h0M487.4 279.4h0M428.2 301.2h0M446.4 282.1h0M417.1 283.7h0M459.0 313.0h0M471.1 304.6h0M473.4 302.8h0M468.1 305.6h0M425.8 284.9h0M451.3 310.4h0M448.0 308.6h0M483.1 306.4h0M442.2 306.7h0M467.0 305.4h0M478.7 301.7h0M453.1 304.0h0M471.6 310.3h0M461.3 312.8h0M468.7 310.4h0M446.0 305.2h0M477.7 275.2h0M449.8 299.1h0M457.7 315.8h0M450.4 312.6h0M451.9 298.7h0M460.3 314.2h0M447.7 302.7h0M438.1 304.7h0M425.9 269.1h0M441.3 306.6h0M442.7 308.7h0M461.1 310.2h0M428.6 266.9h0M441.1 298.3h0M446.5 306.7h0M466.0 311.9h0M486.0 299.4h0M461.0 314.5h0M430.2 262.7h0M401.5 274.6h0M436.9 298.0h0M458.0 314.5h0M475.5 297.2h0M483.6 300.7h0M459.4 314.9h0M445.8 294.3h0M429.1 289.4h0M434.6 284.2h0M436.4 278.8h0M460.2 315.1h0M432.8 296.2h0M447.0 305.2h0M442.1 263.9h0M448.3 299.9h0M431.7 249.8h0M459.4 313.4h0M414.4 252.1h0M439.8 302.7h0M441.7 304.8h0M459.7 313.3h0M474.9 291.0h0M434.3 291.3h0M448.6 309.6h0M451.8 312.4h0M459.3 314.7h0M494.4 265.3h0M456.9 316.1h0M443.6 296.8h0M464.7 313.3h0M423.8 264.0h0M440.4 294.8h0M467.4 309.4h0M469.7 309.7h0M439.7 303.8h0M482.0 296.9h0M455.0 315.1h0M434.7 251.6h0M465.6 309.8h0M483.8 284.8h0M468.5 308.6h0M452.6 313.1h0M429.9 293.4h0M430.5 265.3h0M435.2 293.3h0M445.6 306.1h0M471.5 307.6h0M469.9 310.6h0M461.4 308.8h0M480.0 300.4h0M423.0 260.3h0M507.2 276.3h0M444.3 294.1h0M442.0 303.0h0M426.6 278.1h0M488.1 303.7h0M500.7 289.0h0M447.1 296.3h0M428.3 283.2h0M440.9 279.7h0M449.1 294.0h0M420.4 249.8h0M480.3 305.3h0M435.5 277.2h0M459.6 312.7h0M411.2 293.8h0M468.3 310.2h0M490.9 279.2h0M436.1 255.5h0M478.7 304.0h0M479.0 289.9h0M467.9 310.4h0M458.2 313.1h0M446.1 280.3h0M440.1 270.7h0M492.0 292.5h0M459.4 311.9h0M459.0 307.9h0M518.3 268.3h0M455.6 314.1h0M462.7 311.6h0M459.8 314.7h0M444.0 297.1h0M444.7 304.8h0M476.1 299.2h0M475.1 297.4h0M437.4 255.3h0M445.2 277.6h0M453.9 315.3h0M444.8 275.9h0M485.6 293.1h0M486.7 289.9h0M413.4 289.1h0M458.0 315.3h0M448.2 310.8h0M458.9 312.6h0M439.1 302.7h0M410.2 268.2h0M460.7 310.7h0M451.5 312.7h0M479.9 302.4h0M437.4 265.3h0M479.8 295.5h0M422.2 286.2h0M458.1 315.0h0M474.7 306.5h0M437.5 251.5h0M517.7 261.4h0M475.0 291.5h0M438.7 305.3h0M464.7 305.2h0M436.4 268.5h0M417.2 260.9h0M469.9 309.2h0M436.5 302.2h0M485.5 288.4h0M479.1 294.6h0M424.2 285.1h0M468.2 295.8h0M470.8 310.1h0M440.0 288.8h0M448.5 303.5h0M449.8 307.8h0M451.0 307.1h0M469.6 304.4h0M475.4 292.7h0M445.4 304.2h0M465.7 307.8h0M456.1 315.9h0M439.2 292.8h0M425.8 283.4h0M471.8 310.5h0M433.0 270.3h0M471.2 303.1h0M453.8 313.5h0M459.7 312.8h0M451.7 313.1h0M444.8 307.4h0M437.9 281.9h0M432.5 280.4h0M450.7 298.7h0M447.8 309.4h0M436.1 292.3h0M457.0 315.8h0M446.9 297.2h0M460.1 310.8h0M435.8 278.8h0M431.0 293.3h0M443.2 300.8h0M441.9 269.1h0M457.1 314.9h0M456.0 315.2h0M507.3 251.3h0M458.7 315.3h0M490.2 297.7h0M423.2 261.8h0M435.0 278.9h0M445.6 259.1h0M413.0 281.1h0M401.2 276.0h0M458.9 314.7h0M417.0 261.1h0M457.4 314.6h0M448.6 309.2h0M476.8 307.3h0M422.3 259.6h0M454.8 315.0h0M487.2 293.0h0M463.1 305.4h0M476.0 303.5h0M478.5 300.4h0M435.8 305.1h0M460.6 313.8h0M461.5 314.2h0M528.4 265.8h0M457.1 315.2h0M451.8 313.9h0M463.4 310.8h0M467.3 303.6h0M470.7 305.9h0M450.8 299.2h0M457.6 314.4h0M461.7 312.0h0M460.4 309.9h0M445.6 294.8h0M464.3 300.0h0M439.2 277.6h0M475.0 304.7h0M451.4 307.4h0M424.8 297.6h0M456.6 316.0h0M446.3 260.6h0M503.7 316.8h0M462.7 312.2h0M407.6 269.9h0M438.7 269.5h0M391.3 263.2h0M430.7 285.2h0M467.9 309.4h0M447.9 302.8h0M441.3 262.2h0M410.3 295.3h0M443.1 274.6h0M438.4 293.0h0M436.6 264.9h0M427.8 265.3h0M445.4 286.7h0M447.8 290.0h0M498.3 276.6h0M409.8 261.5h0M452.8 310.9h0M453.0 306.3h0M493.1 293.4h0M478.8 283.4h0M508.5 316.0h0M476.9 301.2h0M453.9 314.6h0M437.5 284.3h0M460.3 313.8h0M481.2 282.8h0M453.7 315.3h0M439.6 289.1h0M497.3 292.1h0M514.7 260.2h0M423.3 286.6h0M461.7 311.3h0M450.6 297.1h0M460.0 312.7h0M468.8 311.2h0M439.5 276.9h0M434.2 295.0h0M462.6 314.4h0M417.6 286.2h0M413.7 271.8h0M454.7 313.2h0M440.1 268.2h0M493.4 297.2h0M443.1 295.0h0M448.6 306.4h0M429.4 295.6h0M434.4 296.4h0M440.8 284.7h0M435.7 262.9h0M433.2 254.4h0M414.4 266.8h0M448.8 299.3h0M445.2 298.7h0M450.7 305.6h0M441.5 305.6h0M420.6 270.6h0M458.1 314.6h0M496.9 279.4h0M468.6 296.4h0M409.4 279.5h0M439.2 294.7h0M463.3 308.8h0M444.1 303.7h0M433.4 286.2h0M465.4 288.3h0M494.0 298.2h0M420.7 284.8h0M472.3 294.8h0M512.4 278.2h0M400.9 287.5h0M443.8 305.5h0M445.8 282.3h0M460.8 312.4h0M467.7 307.6h0M457.7 315.2h0M462.3 313.2h0M427.5 267.1h0M492.1 273.2h0M470.8 308.6h0M410.6 265.1h0M430.2 296.5h0M402.4 280.2h0M470.6 309.3h0M457.1 315.6h0M432.1 293.2h0M432.6 254.5h0M443.0 255.9h0M443.3 290.2h0M455.6 315.6h0M448.0 303.6h0M421.0 290.2h0M408.3 250.4h0M437.9 295.4h0M484.4 294.3h0M459.7 312.5h0M452.0 298.7h0M454.0 313.8h0M440.8 293.7h0M486.0 282.2h0M412.3 260.6h0M450.6 307.9h0M471.5 298.8h0M431.9 268.5h0M449.5 303.2h0M439.3 300.1h0M440.6 290.4h0M429.7 286.6h0M452.8 312.2h0M463.9 310.7h0M484.8 301.7h0M463.6 310.9h0M446.0 307.4h0M451.5 302.9h0M495.0 284.4h0M430.5 289.1h0M482.9 290.6h0M449.5 299.6h0M479.8 304.4h0M468.8 308.2h0M459.1 313.2h0M450.9 292.5h0M458.0 315.7h0M468.1 299.5h0M488.5 291.3h0M457.2 315.6h0M439.4 284.3h0M460.1 314.4h0M454.9 314.8h0M455.4 314.7h0M435.0 271.2h0M444.2 298.4h0M463.0 311.3h0M414.9 275.4h0M488.8 285.7h0M473.0 300.5h0M431.0 274.7h0M442.4 277.9h0M439.6 272.1h0M492.7 281.6h0M466.1 306.5h0M488.8 288.2h0M476.3 307.2h0M484.7 293.0h0M491.7 298.4h0M466.6 303.2h0M439.5 289.5h0M425.4 281.3h0M464.6 309.3h0M479.9 282.7h0M458.3 314.4h0M421.8 301.6h0M463.4 312.6h0M468.4 308.8h0M447.2 299.8h0M464.9 307.8h0M437.4 288.5h0M444.2 303.1h0M476.7 301.0h0M451.5 308.3h0M476.6 283.6h0M446.0 303.7h0M439.8 304.6h0M489.9 275.7h0M458.0 315.3h0M444.0 292.3h0M473.8 293.0h0M435.6 287.9h0M449.9 296.4h0M430.3 257.1h0M462.4 311.0h0M454.1 313.4h0M467.4 304.3h0M463.8 308.3h0M433.3 261.9h0M537.7 263.6h0M453.2 312.6h0M449.2 301.1h0M462.6 307.1h0M459.9 313.2h0M426.2 252.6h0M478.2 308.3h0M440.2 285.3h0M460.2 308.4h0M435.0 295.8h0M421.1 265.0h0M446.1 293.4h0M483.1 288.3h0M440.6 310.0h0M451.2 309.9h0M445.6 307.8h0M436.0 265.8h0M473.0 305.6h0M445.9 306.2h0M447.6 311.4h0M471.0 302.2h0M485.8 296.6h0M420.5 285.3h0M476.3 292.9h0M439.8 295.9h0M464.8 308.4h0M456.6 315.8h0M406.5 275.6h0M443.2 301.9h0M445.5 263.7h0M463.5 307.7h0M456.4 316.3h0M440.6 294.8h0M472.5 295.9h0M468.4 307.6h0M489.3 295.1h0M445.2 298.4h0M438.6 292.8h0M385.0 254.9h0M484.8 275.6h0M450.3 309.1h0M442.0 301.0h0M442.1 291.6h0M407.5 286.9h0M448.0 291.2h0M499.1 260.1h0M458.5 314.2h0M453.8 310.2h0M412.6 273.6h0M429.2 289.6h0M455.6 315.4h0M506.9 292.6h0M453.6 313.2h0M446.7 303.1h0M447.6 289.2h0M447.1 293.8h0M432.0 291.8h0M446.9 301.4h0M462.1 310.9h0M434.6 258.1h0M430.6 287.4h0M453.9 314.8h0M446.1 284.2h0M447.7 308.6h0M474.4 300.2h0M434.4 283.3h0M455.8 314.7h0M461.2 307.6h0M468.0 311.0h0M445.4 300.4h0M424.8 285.9h0M464.0 307.5h0M459.4 312.6h0M429.4 293.5h0M458.7 312.6h0M440.5 275.4h0M418.8 256.9h0M436.8 280.6h0M432.2 281.3h0M462.6 312.9h0M489.0 301.1h0M438.8 300.0h0M452.4 306.4h0M428.5 261.6h0M474.3 307.7h0M448.5 310.1h0M439.6 281.8h0M457.5 315.9h0M448.1 305.1h0M438.2 302.0h0M508.4 272.5h0M441.9 267.5h0M442.2 301.9h0M421.0 264.5h0M419.5 289.7h0M412.4 285.9h0M506.2 294.1h0M450.2 309.1h0M496.8 255.7h0M469.9 309.2h0M446.7 266.6h0M425.7 299.8h0M417.3 253.1h0M427.7 273.1h0M450.6 306.4h0M465.9 309.5h0M449.8 293.4h0M452.3 309.7h0M463.1 311.9h0M418.6 276.8h0M480.0 254.9h0M487.4 291.9h0M485.4 292.6h0M452.6 309.2h0M456.4 316.3h0M467.0 308.0h0M443.0 298.7h0M477.8 305.2h0M435.9 297.7h0M430.1 271.2h0M475.3 307.8h0M437.3 292.2h0M445.8 300.8h0M442.3 288.7h0M474.4 306.5h0M432.2 277.8h0M509.6 279.6h0M436.6 278.5h0M461.6 310.4h0M458.7 312.8h0M444.6 292.6h0M448.2 311.5h0M494.7 297.2h0M477.8 297.0h0M432.4 288.1h0M444.1 283.2h0M466.4 299.6h0M472.1 307.3h0M448.4 275.8h0M442.9 286.4h0M430.0 281.9h0M403.5 250.8h0M433.8 254.8h0" stroke="#8a8a8a" stroke-opacity="0.36" stroke-width="2.7" stroke-linecap="round" fill="none"/>
<path d="M434.2 263.3h0M440.7 283.9h0M449.6 291.9h0M441.8 299.8h0M457.9 312.2h0M469.6 292.5h0M465.0 308.1h0M467.1 308.2h0M458.4 314.7h0M437.5 286.4h0M446.6 296.9h0M458.0 314.4h0M471.4 307.3h0M469.7 310.2h0M449.1 296.5h0M479.0 301.1h0M461.9 309.7h0M469.8 309.8h0M463.7 312.7h0M450.8 308.2h0M494.0 269.9h0M459.7 313.4h0M463.8 311.0h0M486.8 276.0h0M459.2 312.9h0M467.0 311.9h0M471.7 305.6h0M448.2 309.0h0M463.1 312.6h0M456.9 315.8h0M448.7 310.4h0M473.8 300.8h0M437.7 254.9h0M426.0 292.1h0M466.2 307.8h0M439.4 302.2h0M447.5 282.0h0M417.5 261.3h0M448.6 284.5h0M472.9 308.5h0M465.2 306.7h0M456.6 315.9h0M443.5 291.4h0M454.6 311.6h0M463.4 311.2h0M459.9 313.3h0M464.7 307.7h0M524.9 277.7h0M444.5 309.5h0M457.0 315.8h0M510.9 288.7h0M448.4 306.7h0M456.2 316.1h0M441.0 284.7h0M436.2 276.5h0M455.0 315.0h0M468.2 308.3h0M441.2 281.7h0M456.1 315.7h0M464.1 313.4h0M416.8 271.6h0M434.8 260.9h0M454.7 315.5h0M457.1 316.0h0M468.1 306.8h0M457.3 314.7h0M449.3 304.1h0M453.2 312.5h0M439.5 294.4h0M452.4 314.0h0M440.0 290.1h0M463.1 311.6h0M439.3 290.6h0M430.8 258.0h0M455.4 315.4h0M481.4 289.3h0M468.2 311.7h0M446.6 307.6h0M442.7 275.7h0M467.5 302.5h0M441.1 273.6h0M463.3 310.6h0M480.2 304.0h0M421.5 275.0h0M466.9 310.6h0M431.2 281.7h0M467.0 304.3h0M464.2 309.9h0M439.3 280.3h0M508.7 272.4h0M433.2 301.6h0M470.3 305.1h0M471.8 280.9h0M508.2 271.2h0M457.1 315.9h0M452.8 312.5h0M470.8 292.3h0M464.6 312.2h0M430.4 293.3h0M432.6 303.5h0M430.2 292.1h0M534.7 251.3h0M498.1 286.9h0M433.1 283.7h0M445.4 290.4h0M477.5 305.9h0M469.5 304.6h0M445.1 304.9h0M462.6 313.0h0M443.1 279.3h0M394.6 259.4h0M431.9 285.4h0M447.1 302.7h0M445.5 288.4h0M505.9 283.6h0M468.8 309.0h0M442.8 304.7h0M472.2 309.5h0M458.3 315.5h0M433.1 282.9h0M428.9 266.1h0M441.1 296.5h0M447.6 288.0h0M465.5 309.4h0M430.1 294.1h0M458.4 315.0h0M421.3 284.2h0M476.6 307.0h0M444.9 309.1h0M462.0 308.6h0M438.7 296.5h0M452.1 310.2h0M450.7 310.1h0M437.3 298.2h0M446.3 299.8h0M445.0 306.6h0M457.8 315.5h0M490.4 283.0h0M489.6 296.4h0M443.7 306.1h0M443.6 308.5h0M482.7 303.2h0M470.5 306.4h0M439.1 284.3h0M436.9 291.4h0M466.4 300.9h0M449.0 309.4h0M443.1 307.8h0M471.0 304.6h0M466.3 303.3h0M468.5 292.9h0M435.0 300.1h0M439.3 287.4h0M451.7 312.0h0M415.0 263.7h0M475.5 269.7h0M460.3 313.9h0M447.1 288.1h0M440.7 290.9h0M459.0 315.1h0M459.0 315.1h0M457.2 314.9h0M460.8 312.8h0M408.3 265.9h0M421.7 263.6h0M447.9 305.0h0M458.9 313.0h0M441.4 305.6h0M452.0 308.2h0M476.9 270.1h0M464.1 309.9h0M430.6 263.2h0M451.3 305.8h0M435.0 276.7h0M450.7 304.7h0M441.0 295.5h0M459.7 311.2h0M441.3 288.9h0M471.5 308.8h0M447.5 305.1h0M449.0 307.8h0M423.0 283.8h0M460.5 314.4h0M445.0 299.9h0M433.2 259.6h0M462.1 314.0h0M474.7 304.6h0M456.9 315.6h0M468.4 310.1h0M453.4 315.0h0M441.7 286.5h0M430.1 278.2h0M465.0 309.8h0M434.9 292.5h0M497.6 295.1h0M419.7 249.9h0M464.9 301.0h0M459.9 314.8h0M386.1 263.8h0M432.8 297.7h0M440.5 284.0h0M433.8 283.9h0M444.2 308.2h0M444.8 299.9h0M451.5 313.2h0M446.7 278.7h0M435.4 290.5h0M471.7 294.8h0M420.5 289.5h0M435.4 302.7h0M457.4 315.4h0M409.0 270.9h0M449.2 310.8h0M443.8 268.9h0M424.5 293.7h0M456.9 315.8h0M459.2 315.1h0M472.6 310.2h0M460.6 314.2h0M445.4 295.8h0M433.2 295.4h0M482.2 268.0h0M450.9 300.3h0M439.9 264.0h0M444.6 282.2h0M419.1 280.5h0M505.1 288.2h0M492.9 271.9h0M432.4 253.3h0M423.8 272.9h0M435.6 291.4h0M422.0 293.9h0M492.6 265.1h0M429.0 257.0h0M457.1 315.8h0M471.4 307.5h0M456.8 315.9h0M477.7 293.9h0M481.8 294.5h0M466.8 306.6h0M435.6 281.1h0M494.9 289.4h0M443.6 306.8h0M483.3 283.5h0M476.5 295.0h0M444.8 305.2h0M447.5 305.2h0M449.0 311.0h0M463.8 301.8h0M454.8 312.5h0M430.4 280.1h0M446.3 305.9h0M469.7 308.6h0M436.9 270.0h0M470.7 302.9h0M404.2 257.9h0M444.6 290.4h0M451.9 301.1h0M392.0 266.5h0M460.9 309.7h0M462.2 314.1h0M421.4 285.8h0M482.1 290.6h0M444.0 302.6h0M470.6 309.9h0M475.4 305.5h0M451.6 301.4h0M469.4 289.9h0M459.2 314.7h0M462.2 311.8h0M471.6 310.8h0M438.7 276.2h0M471.0 289.1h0M463.1 307.0h0M447.6 311.0h0M497.4 269.1h0M469.0 303.6h0M482.4 298.8h0M445.2 308.2h0M435.4 303.1h0M445.4 275.6h0M478.4 302.2h0M432.2 305.7h0M425.8 279.0h0M442.1 277.9h0M430.3 289.4h0M434.0 302.2h0M460.8 312.8h0M419.3 282.2h0M455.7 315.3h0M433.9 282.1h0M395.8 255.7h0M451.3 313.8h0M433.2 287.6h0M462.7 310.7h0M429.5 298.6h0M507.5 257.8h0M452.1 308.9h0M464.6 306.3h0M530.6 267.5h0M504.4 280.0h0M484.6 266.1h0M462.2 312.6h0M421.1 288.2h0M454.3 310.3h0M448.1 309.3h0M434.0 286.9h0M455.4 314.4h0M441.2 265.5h0M458.7 315.0h0M452.2 313.1h0M437.6 275.0h0M452.0 305.1h0M437.5 275.8h0M452.3 306.9h0M465.6 309.2h0M426.7 263.2h0M459.9 314.8h0M458.5 315.1h0M458.0 315.3h0M446.9 303.4h0M432.8 259.3h0M440.2 284.3h0M435.5 255.2h0M442.5 288.8h0M460.0 312.3h0M433.3 279.1h0M403.8 258.5h0M449.6 310.8h0M464.0 312.3h0M471.5 289.0h0M433.1 285.8h0M396.7 252.3h0M462.8 312.8h0M459.8 313.2h0M448.6 306.0h0M453.5 313.5h0M454.0 314.0h0M438.4 305.8h0M452.2 312.2h0M463.3 311.4h0M463.7 310.3h0M462.0 312.9h0M442.1 299.3h0M411.9 268.2h0M489.3 295.3h0M451.6 306.7h0M456.8 316.1h0M457.2 315.2h0M438.0 294.1h0M458.9 315.1h0M525.4 256.3h0M424.1 282.5h0M461.7 301.6h0M469.1 303.5h0M451.2 310.2h0M498.1 295.6h0M446.6 306.0h0M446.5 305.3h0M464.6 307.0h0M449.5 287.6h0M422.2 282.6h0M469.2 297.2h0M459.9 312.6h0M489.6 293.4h0M455.0 312.3h0M468.7 288.7h0M441.2 278.0h0M483.1 301.7h0M459.8 315.3h0M424.3 279.3h0M465.6 302.9h0M485.3 302.4h0M455.5 314.9h0M466.0 309.2h0M451.6 312.5h0M432.4 279.1h0M434.2 285.2h0M426.8 272.0h0M508.1 285.6h0M437.4 268.4h0M528.7 264.2h0M456.3 316.3h0M437.8 270.0h0M430.4 287.8h0M450.8 307.9h0M444.8 296.9h0M484.9 284.3h0M418.0 274.1h0M450.1 294.0h0M430.5 262.5h0M426.7 266.7h0M435.5 264.9h0M458.5 314.7h0M482.5 303.6h0M418.4 287.0h0M427.6 250.6h0M443.4 288.5h0M461.0 314.3h0M449.6 307.6h0M434.1 289.0h0M448.5 305.6h0M453.9 312.5h0M462.2 313.1h0M439.8 298.9h0M463.3 311.6h0M433.3 278.6h0M443.5 304.7h0M424.1 279.2h0M446.8 306.6h0M408.5 261.6h0M449.4 284.2h0M452.3 310.9h0M424.1 254.2h0M437.2 302.6h0M462.0 313.8h0M465.9 312.9h0M457.7 315.6h0M452.8 308.5h0M478.6 297.1h0M451.4 304.2h0M450.4 310.2h0M516.1 280.6h0M461.6 309.3h0M478.8 308.4h0M484.2 297.9h0M462.2 311.8h0M452.3 306.3h0M490.9 289.7h0M446.9 268.5h0M497.0 293.5h0M467.6 299.5h0M519.9 261.7h0M409.8 269.7h0M436.4 292.7h0M506.7 269.3h0M440.0 298.4h0M462.0 311.9h0M441.1 289.0h0M451.1 305.0h0M489.0 294.9h0M456.6 316.1h0M430.0 295.2h0M506.1 273.7h0M443.9 300.1h0M459.8 313.7h0M455.4 314.0h0M434.6 269.5h0M487.6 301.2h0M479.5 302.7h0M457.1 315.1h0M454.3 311.7h0M445.9 268.8h0M439.9 305.1h0M425.6 262.9h0M446.9 308.3h0M408.0 267.3h0M463.9 314.0h0M502.2 270.2h0M426.9 250.1h0M492.5 288.8h0M446.7 282.2h0M463.6 310.5h0M470.5 307.0h0M436.4 284.7h0M435.0 308.6h0M438.9 274.1h0M462.5 314.1h0M441.1 291.6h0M436.8 299.0h0M471.2 306.7h0M462.1 313.7h0M447.6 300.3h0M445.1 300.8h0M471.6 309.4h0M436.4 288.7h0M461.1 310.6h0M447.7 303.1h0M457.6 314.9h0M458.9 309.3h0M447.5 293.7h0M474.1 299.2h0M451.6 311.8h0M436.8 280.6h0M447.1 292.8h0M510.4 279.4h0M463.1 309.7h0M383.0 260.6h0M461.8 313.4h0M467.2 308.8h0M441.9 294.0h0M437.7 285.8h0M448.9 291.9h0M433.6 287.9h0M456.1 316.1h0M404.8 260.6h0M437.6 252.4h0M458.9 314.4h0M442.5 305.1h0M453.1 312.6h0M454.0 314.6h0M436.2 266.3h0M482.8 306.1h0M422.8 256.1h0M433.2 288.2h0M458.8 315.2h0M476.6 294.7h0M458.7 312.2h0M436.6 275.0h0M459.3 313.0h0M443.1 298.0h0M470.1 306.9h0M472.3 306.3h0M418.7 263.0h0M447.9 291.7h0M459.9 315.1h0M476.2 300.0h0M451.0 300.9h0M464.9 309.3h0M444.9 308.3h0M441.1 298.5h0M438.3 288.1h0M444.3 272.3h0M443.1 304.4h0M447.6 287.3h0M449.7 293.4h0M535.5 257.6h0M459.8 313.0h0M453.1 311.4h0M466.5 310.0h0M403.3 263.4h0M444.7 267.1h0M453.6 313.0h0M439.5 301.1h0M453.9 313.5h0M441.1 295.9h0M467.5 305.3h0M444.4 286.3h0M447.0 306.5h0M427.5 287.4h0M466.2 310.6h0M385.3 257.2h0M424.6 292.2h0M468.2 312.6h0M449.6 310.0h0M450.5 304.6h0M468.1 300.2h0M445.3 278.6h0M466.7 300.3h0M462.5 306.9h0M425.5 288.3h0M466.1 312.9h0M444.7 255.7h0M445.3 291.8h0M501.2 284.5h0M433.9 298.6h0M459.9 310.8h0M469.8 307.8h0M494.3 282.8h0M503.9 256.7h0M422.6 285.4h0M449.3 299.0h0M422.5 261.2h0M460.7 314.5h0M470.3 304.1h0M438.5 295.6h0M454.6 311.8h0M463.4 312.5h0M456.1 315.8h0M491.2 294.8h0M458.9 311.5h0M423.4 286.6h0M485.7 295.0h0M460.8 310.7h0M440.0 274.6h0M450.6 305.4h0M451.1 308.9h0M470.9 296.0h0M472.2 304.1h0M427.6 283.9h0M443.8 301.1h0M495.5 292.6h0M459.0 314.7h0M445.8 298.6h0M417.8 279.9h0M464.8 308.7h0M470.6 300.2h0M448.1 300.8h0M470.0 310.4h0M422.5 266.3h0M486.0 293.7h0M473.1 286.9h0M433.7 276.8h0M433.8 295.2h0M440.5 279.5h0M463.5 310.0h0M450.1 296.7h0M419.7 286.5h0M495.3 283.8h0M399.2 263.7h0M433.8 282.5h0M446.1 307.2h0M438.4 293.7h0M459.6 311.1h0M448.3 310.0h0M429.0 283.8h0M464.2 307.6h0M446.2 307.8h0M512.1 273.4h0M429.3 289.2h0M455.7 314.6h0M462.6 306.5h0M484.1 300.7h0M439.9 295.5h0M475.0 300.4h0M433.8 297.5h0M461.6 307.8h0M437.3 301.8h0M452.2 311.2h0M440.4 269.1h0M461.5 306.0h0M494.9 287.8h0M443.1 301.7h0M454.9 314.7h0M476.5 282.6h0M463.9 308.1h0M465.1 307.9h0M424.4 289.5h0M465.7 312.3h0M417.3 254.3h0M445.5 304.9h0M446.7 293.7h0M469.2 306.0h0M478.4 298.2h0M468.0 290.4h0M502.4 294.5h0M373.1 263.0h0M427.0 274.8h0M437.9 277.0h0M431.0 283.6h0M443.7 280.8h0M483.4 285.6h0M461.0 306.7h0M445.0 302.9h0M444.5 267.5h0M437.2 278.5h0M461.5 314.2h0M457.0 315.9h0M438.2 302.6h0M438.1 296.8h0M457.5 315.5h0M443.2 282.7h0M458.2 315.7h0M444.9 307.0h0M411.7 271.3h0M496.1 294.2h0M469.1 309.5h0" stroke="#8a8a8a" stroke-opacity="0.36" stroke-width="2.7" stroke-linecap="round" fill="none"/>
<line x1="416.1" y1="140.5" x2="416.1" y2="324.9" stroke="#333" stroke-width="0.7" stroke-dasharray="1.5 1.2"/>
<line x1="426.6" y1="140.5" x2="426.6" y2="324.9" stroke="#333" stroke-width="0.7" stroke-dasharray="1.5 1.2"/>
<line x1="434.3" y1="140.5" x2="434.3" y2="324.9" stroke="#333" stroke-width="0.7" stroke-dasharray="1.5 1.2"/>
<line x1="441.5" y1="140.5" x2="441.5" y2="324.9" stroke="#333" stroke-width="0.7" stroke-dasharray="1.5 1.2"/>
<line x1="448" y1="140.5" x2="448" y2="324.9" stroke="#333" stroke-width="0.7" stroke-dasharray="1.5 1.2"/>
<line x1="462.8" y1="140.5" x2="462.8" y2="324.9" stroke="#333" stroke-width="0.7" stroke-dasharray="1.5 1.2"/>
<line x1="474.9" y1="140.5" x2="474.9" y2="324.9" stroke="#333" stroke-width="0.7" stroke-dasharray="1.5 1.2"/>
<line x1="456.4" y1="136.5" x2="456.4" y2="324.9" stroke="#111" stroke-width="1.5"/>
<path d="M426.3 214.3h0M436.4 227.5h0M429.1 185.8h0M438.8 220.5h0M437.2 210.9h0M416.4 248.5h0M421.4 232.3h0M400.7 204.9h0M415.0 190.4h0M429.6 190.4h0M433.8 202.3h0M420.1 197.3h0M424.2 215.4h0M432.9 151.0h0M435.0 192.1h0M427.6 195.5h0M428.2 217.4h0M396.0 210.7h0M432.4 150.9h0M425.1 177.1h0M424.2 194.3h0M437.8 239.3h0M411.3 227.7h0M426.6 242.4h0M433.4 219.2h0M423.5 198.3h0M411.9 173.4h0M426.8 236.4h0M406.3 212.1h0M434.3 201.6h0M431.3 225.0h0M424.6 202.6h0M430.1 181.4h0M437.8 182.6h0M428.5 234.7h0M420.8 235.9h0M431.9 230.9h0M437.1 241.7h0M424.4 201.8h0M424.6 223.9h0M427.7 233.1h0M414.8 189.0h0M403.2 244.4h0M419.6 220.5h0M400.3 224.9h0M426.7 188.9h0M433.9 185.4h0M430.0 158.2h0M412.6 240.8h0M436.2 215.0h0M400.3 247.0h0M417.5 244.5h0M423.8 203.7h0M420.9 172.4h0M429.2 212.3h0M392.6 205.8h0M429.7 248.0h0M437.5 204.5h0M419.1 236.4h0M428.0 151.0h0M437.3 244.7h0M432.9 205.0h0M434.0 215.6h0M413.2 176.9h0M424.1 222.5h0M422.9 174.3h0M415.6 169.5h0M426.2 235.6h0M415.7 205.5h0M423.9 235.8h0M430.7 246.3h0M429.8 231.8h0M421.8 220.1h0M432.5 230.2h0M437.9 230.3h0M429.1 212.0h0M420.3 231.4h0M424.3 162.7h0M432.8 222.6h0M428.1 205.2h0M413.2 192.2h0M412.5 174.9h0M424.9 175.2h0M423.0 216.7h0M412.1 228.8h0M424.1 225.8h0M434.1 239.4h0M409.8 204.4h0M402.7 161.1h0M435.6 155.4h0M390.4 191.2h0M436.3 212.7h0M429.4 159.1h0M424.8 164.8h0M410.0 209.2h0M430.6 212.6h0M409.5 240.3h0M420.8 227.4h0M429.1 231.0h0M430.2 237.7h0M411.1 220.5h0M421.8 233.4h0M423.2 177.1h0M428.7 237.2h0M430.6 242.8h0M401.2 241.1h0M421.1 233.9h0M434.0 245.5h0M412.2 241.2h0M421.3 237.3h0M433.9 195.8h0M422.5 193.0h0M411.0 228.0h0M416.8 174.1h0M419.1 172.5h0M436.4 220.9h0M408.3 248.9h0M422.7 207.6h0M416.1 179.8h0M426.5 234.8h0M424.2 229.1h0M415.0 245.3h0M410.7 198.4h0M437.9 208.9h0M434.0 248.7h0M431.0 206.6h0M424.4 197.0h0M429.5 195.2h0M433.4 248.3h0M431.9 177.6h0M431.7 215.9h0M413.5 217.6h0M426.0 207.4h0M417.5 189.8h0M435.0 194.8h0M429.9 229.9h0M418.6 206.2h0M424.4 246.2h0M395.5 249.0h0M412.2 242.5h0M426.2 240.4h0M432.7 160.3h0M405.4 180.6h0M418.1 225.3h0M429.0 216.4h0M412.4 216.5h0M436.3 214.1h0M439.3 186.1h0M414.2 238.4h0M416.3 240.7h0M426.2 241.0h0M400.8 234.7h0M437.3 183.4h0M431.3 207.3h0M433.9 236.4h0M426.5 197.1h0M436.5 242.7h0M427.1 169.0h0M439.7 235.0h0M430.1 241.4h0M390.8 204.4h0M429.5 195.3h0M435.6 241.2h0M439.6 237.3h0M398.4 165.6h0M399.5 214.7h0M438.3 156.5h0M403.6 247.1h0M412.9 218.2h0M431.3 198.5h0M413.1 238.1h0M419.1 190.3h0M437.9 237.5h0M439.5 216.7h0M429.9 230.9h0M425.8 212.1h0M429.9 241.6h0M415.9 246.5h0M429.0 185.5h0M417.3 179.9h0M425.0 178.1h0M428.3 177.7h0M410.9 187.2h0M418.5 158.4h0M438.0 235.8h0M434.0 180.1h0M427.1 236.8h0M435.8 188.4h0M428.2 168.0h0M419.6 244.7h0M414.6 234.4h0M426.1 205.8h0M425.0 223.8h0M412.5 149.6h0M402.2 180.6h0M438.5 189.5h0M432.2 153.3h0M427.7 174.0h0M429.9 247.3h0M418.1 215.6h0M432.6 224.6h0M428.7 184.2h0M431.3 180.1h0M427.6 230.7h0M436.0 189.2h0M420.9 204.0h0M424.4 201.8h0M435.8 243.3h0M439.1 235.1h0M423.3 222.7h0M427.2 159.6h0M434.7 231.5h0M435.4 203.1h0M424.8 196.4h0M424.3 238.7h0M425.8 209.3h0M420.3 226.7h0M435.4 197.4h0M424.5 209.8h0M407.8 199.4h0M430.2 185.8h0M423.9 205.0h0M436.3 228.4h0M418.4 249.2h0M425.7 231.5h0M432.4 190.0h0M423.7 187.1h0M418.2 234.4h0M431.5 220.9h0M430.3 207.9h0M427.0 196.9h0M416.1 192.7h0M436.7 204.0h0M431.4 195.5h0M423.2 225.9h0M422.0 227.7h0M407.8 236.4h0M435.6 198.7h0M418.0 192.4h0M433.5 234.2h0M412.3 226.6h0M407.2 229.8h0M433.0 223.2h0M435.6 193.2h0M408.9 209.9h0M414.7 206.0h0M421.6 246.1h0M416.3 170.3h0M402.7 158.7h0M429.1 189.1h0M413.0 226.7h0M427.3 185.3h0M419.1 248.5h0M424.3 166.3h0M425.0 244.2h0M400.0 201.2h0M414.1 203.8h0M407.6 219.0h0M402.3 224.0h0M421.4 238.1h0M410.1 229.3h0M429.6 218.9h0M434.1 165.7h0M430.0 238.5h0M429.6 248.1h0M426.6 212.0h0M418.8 167.0h0M431.8 187.5h0M439.9 223.5h0M423.5 231.6h0M427.2 211.3h0M421.7 189.0h0M430.6 201.2h0M436.7 179.3h0M421.1 193.2h0M433.3 203.6h0M402.1 191.8h0M422.3 243.0h0M429.0 244.2h0M419.1 220.3h0M397.9 200.9h0M415.5 182.7h0M432.2 228.4h0M425.2 233.5h0M433.8 173.1h0M425.3 216.1h0M436.6 199.9h0M411.6 227.0h0M432.3 222.9h0M431.5 247.3h0M419.3 237.3h0M430.4 222.5h0M430.5 233.3h0M430.1 219.6h0M411.7 243.5h0M431.7 223.6h0M419.1 220.1h0M437.5 232.7h0M421.9 225.0h0M416.9 234.8h0M431.6 201.0h0M425.0 248.6h0M439.3 213.4h0M427.7 210.8h0M420.5 210.1h0M430.7 182.7h0M410.9 194.5h0M416.6 235.9h0M428.0 184.8h0M428.2 231.7h0M435.5 247.2h0M426.0 201.0h0M414.8 177.1h0M398.9 208.1h0M410.4 186.1h0M429.1 237.1h0M433.6 193.8h0M429.7 153.3h0M397.4 172.5h0M433.9 179.8h0M433.3 230.9h0M404.4 230.3h0M424.3 246.9h0M436.7 207.2h0M413.4 240.8h0M430.3 173.9h0M421.2 241.7h0M422.6 232.4h0M425.0 190.3h0M430.5 239.4h0M420.1 215.6h0M425.7 234.3h0M427.0 229.0h0M414.9 235.2h0M414.8 220.8h0M425.6 175.0h0M420.6 201.9h0M416.5 150.2h0M417.3 201.1h0M428.9 191.9h0M425.6 239.6h0M434.9 201.4h0M399.5 243.0h0M419.4 244.9h0M414.2 194.8h0M436.7 246.4h0M435.8 197.5h0M391.1 214.7h0M425.9 193.1h0M430.8 236.9h0M429.3 240.5h0M433.9 206.7h0M429.4 246.7h0M429.1 178.4h0M395.3 200.7h0M426.5 213.9h0M425.1 202.4h0M430.9 194.7h0M434.6 189.8h0M434.3 189.6h0M434.0 193.1h0M435.6 214.5h0M428.6 166.7h0M424.7 229.0h0M426.6 235.0h0M434.5 211.5h0M435.3 232.7h0M424.8 237.8h0M435.9 168.7h0M429.5 161.0h0M424.0 191.8h0M435.8 240.5h0M438.3 234.8h0M396.0 175.9h0M398.7 170.1h0M425.8 211.1h0M410.5 197.8h0M433.4 224.2h0M423.1 236.0h0M431.4 151.2h0M426.8 210.8h0M429.4 229.8h0M427.7 198.4h0M427.6 210.6h0M397.8 236.6h0M418.8 243.8h0M425.9 243.2h0M434.1 215.5h0M421.7 171.7h0M430.6 225.9h0M422.3 227.9h0M425.4 244.2h0M421.6 232.8h0M431.3 198.6h0M440.1 217.3h0M431.5 200.4h0M439.5 161.3h0M430.7 237.8h0M436.3 206.9h0M435.2 194.8h0M422.2 244.4h0M427.6 184.9h0M412.5 214.6h0M435.5 218.1h0M422.4 184.8h0M392.7 224.2h0M428.8 244.8h0M421.9 188.6h0M438.9 207.1h0M413.8 239.2h0M423.5 206.1h0M431.0 216.0h0M431.5 224.3h0M423.1 229.4h0M433.3 245.5h0M406.5 171.2h0M413.0 176.4h0M413.5 234.7h0M409.1 216.9h0M431.6 231.3h0M423.7 172.9h0M406.4 247.1h0M406.8 208.6h0M401.9 158.3h0M410.3 220.4h0M428.5 171.2h0M426.1 220.0h0M398.5 204.5h0M428.3 161.0h0M402.4 241.7h0M410.6 248.6h0M408.2 183.4h0M414.7 158.1h0M433.0 227.7h0M432.1 196.6h0M407.8 169.1h0M420.7 224.0h0M432.3 222.9h0M401.6 245.7h0M407.2 177.6h0M425.1 225.8h0M430.7 190.3h0M434.9 176.7h0M433.1 178.6h0M421.0 242.2h0M431.5 158.7h0M425.9 236.7h0M425.1 149.9h0M430.9 248.6h0M428.1 192.7h0M427.8 243.1h0M430.6 240.1h0M419.1 186.8h0M433.6 240.8h0M419.3 198.1h0M428.5 212.6h0M426.6 230.6h0M434.7 155.4h0M436.6 186.6h0M417.4 223.8h0M432.8 217.6h0M429.1 204.0h0M426.5 221.3h0M437.1 160.9h0M423.7 227.9h0M415.6 248.4h0M415.1 240.9h0M418.1 224.5h0M433.9 211.7h0M431.6 244.2h0M405.8 237.0h0M430.0 196.9h0M419.0 230.8h0M433.8 245.8h0M435.6 236.2h0M414.4 199.0h0M400.5 239.7h0M436.1 198.4h0M437.8 200.1h0M428.0 242.5h0M428.5 233.5h0M435.8 174.9h0M428.6 178.4h0M418.8 212.6h0M404.9 249.3h0M429.7 166.2h0M430.1 246.5h0M408.8 229.7h0M424.2 224.6h0M434.0 245.4h0M420.6 201.1h0M438.7 180.0h0M407.0 197.2h0M425.5 237.6h0M430.4 188.6h0M431.6 233.2h0M407.7 246.4h0M429.9 182.8h0M423.7 193.0h0M435.2 221.0h0M418.5 160.6h0M412.7 166.9h0M426.3 193.9h0M424.2 179.9h0M406.7 200.6h0M427.4 203.1h0M430.5 238.4h0M436.8 242.2h0M427.7 168.5h0M394.9 246.3h0M413.2 201.2h0M423.9 167.0h0M417.9 239.3h0M421.3 234.4h0M433.6 247.9h0M402.9 195.6h0M404.7 243.0h0M426.1 225.2h0M429.8 238.2h0M416.6 162.6h0M436.7 180.4h0M431.2 220.8h0M427.4 152.8h0M424.2 151.1h0M409.1 229.6h0M415.5 173.8h0M411.8 172.5h0M406.9 192.0h0M429.5 216.6h0M418.6 206.4h0M425.0 235.2h0M434.4 217.6h0M423.4 206.8h0M400.7 177.6h0M424.9 179.8h0M436.5 221.4h0M424.6 244.9h0M418.1 183.6h0M398.3 215.6h0M420.9 223.5h0M429.5 167.9h0M428.6 151.5h0M391.7 208.5h0M424.9 156.6h0M432.0 181.9h0M423.4 166.7h0M429.9 247.9h0M399.5 174.1h0M402.7 171.8h0M413.5 153.0h0M426.0 203.9h0M416.6 215.2h0M422.7 217.6h0M433.9 172.3h0M423.8 224.4h0M407.8 172.7h0M417.6 233.9h0M417.7 216.2h0M428.0 209.8h0M418.0 247.6h0M425.3 209.2h0M409.6 228.4h0M403.4 239.3h0M418.9 248.5h0M420.2 190.1h0M426.1 241.5h0M407.6 241.5h0M431.9 191.0h0M407.6 203.4h0M417.1 234.2h0M426.5 216.0h0M417.2 203.3h0M430.7 157.1h0M431.2 225.7h0M409.3 191.2h0M410.5 192.1h0M433.2 168.5h0M425.0 244.9h0M426.6 189.4h0M421.9 205.5h0M433.0 246.0h0M418.2 206.3h0M426.8 210.9h0M413.2 177.1h0M426.4 216.8h0M433.1 201.2h0M436.8 209.1h0M424.3 235.5h0M422.7 226.3h0M426.0 246.9h0M415.6 227.8h0M420.4 184.7h0M433.2 223.0h0M405.8 214.9h0M439.8 178.1h0M435.1 244.1h0M430.2 231.7h0M431.8 198.9h0M425.8 240.6h0M420.3 245.0h0M529.4 149.6h0M507.0 162.7h0M499.8 173.3h0M517.0 190.8h0M529.7 189.8h0M485.7 195.0h0M477.5 197.7h0M494.0 201.8h0M487.8 211.1h0M511.1 220.7h0M521.8 219.7h0M503.6 227.6h0M522.8 228.6h0M516.6 233.4h0M494.3 230.0h0M487.1 230.3h0M480.2 230.0h0M482.3 227.9h0M500.8 236.2h0M487.8 240.3h0M508.4 240.7h0M482.0 245.8h0M495.0 249.2h0M507.0 247.9h0M510.5 246.5h0M527.6 246.8h0M374.4 169.9h0M372.7 184.7h0M380.6 214.9h0M386.1 227.9h0M372.7 240.3h0M375.5 248.9h0M389.2 159.6h0M393.7 175.0h0" stroke="#f1932e" stroke-opacity="0.92" stroke-width="4.6" stroke-linecap="round" fill="none"/>
<rect x="361.6" y="140.5" width="190" height="184.4" fill="none" stroke="#888" stroke-width="0.9"/>
<line x1="356.6" y1="316.3" x2="361.6" y2="316.3" stroke="#888" stroke-width="0.9"/>
<text x="353.6" y="319.3" font-size="9.3" text-anchor="end" fill="#4a4a4a">0</text>
<line x1="356.6" y1="282.9" x2="361.6" y2="282.9" stroke="#888" stroke-width="0.9"/>
<text x="353.6" y="285.9" font-size="9.3" text-anchor="end" fill="#4a4a4a">1</text>
<line x1="356.6" y1="249.5" x2="361.6" y2="249.5" stroke="#888" stroke-width="0.9"/>
<text x="353.6" y="252.5" font-size="9.3" text-anchor="end" fill="#4a4a4a">2</text>
<line x1="356.6" y1="216.1" x2="361.6" y2="216.1" stroke="#888" stroke-width="0.9"/>
<text x="353.6" y="219.1" font-size="9.3" text-anchor="end" fill="#4a4a4a">3</text>
<line x1="356.6" y1="182.7" x2="361.6" y2="182.7" stroke="#888" stroke-width="0.9"/>
<text x="353.6" y="185.7" font-size="9.3" text-anchor="end" fill="#4a4a4a">4</text>
<line x1="356.6" y1="149.3" x2="361.6" y2="149.3" stroke="#888" stroke-width="0.9"/>
<text x="353.6" y="152.3" font-size="9.3" text-anchor="end" fill="#4a4a4a">5</text>
<line x1="387.8" y1="324.9" x2="387.8" y2="328.9" stroke="#888" stroke-width="0.9"/>
<text x="387.8" y="339.8" font-size="9.3" text-anchor="middle" fill="#4a4a4a">−2</text>
<line x1="422.1" y1="324.9" x2="422.1" y2="328.9" stroke="#888" stroke-width="0.9"/>
<text x="422.1" y="339.8" font-size="9.3" text-anchor="middle" fill="#4a4a4a">−1</text>
<line x1="456.4" y1="324.9" x2="456.4" y2="328.9" stroke="#888" stroke-width="0.9"/>
<text x="456.4" y="339.8" font-size="9.3" text-anchor="middle" fill="#4a4a4a">0</text>
<line x1="490.7" y1="324.9" x2="490.7" y2="328.9" stroke="#888" stroke-width="0.9"/>
<text x="490.7" y="339.8" font-size="9.3" text-anchor="middle" fill="#4a4a4a">1</text>
<line x1="525" y1="324.9" x2="525" y2="328.9" stroke="#888" stroke-width="0.9"/>
<text x="525" y="339.8" font-size="9.3" text-anchor="middle" fill="#4a4a4a">2</text>
<text x="338.1" y="232.2" font-size="10.6" text-anchor="middle" transform="rotate(-90 338.1 232.2)">-log<tspan font-size="6.8" dy="1.6">10</tspan><tspan dy="-1.6"> </tspan><tspan font-style="italic">P</tspan> value</text>
<text x="456.2" y="356.3" font-size="10.3" text-anchor="middle" textLength="148.5" lengthAdjust="spacingAndGlyphs">Highly versus poorly metastatic</text>
<text x="456.2" y="367" font-size="10.3" text-anchor="middle" textLength="66" lengthAdjust="spacingAndGlyphs">PDXs (logTER)</text>
<text x="-0.9" y="397.5" font-size="14.2" fill="#000" font-weight="bold">c</text>
<text x="25.6" y="441.5" font-size="10.5" text-anchor="middle" textLength="52.2" lengthAdjust="spacingAndGlyphs" transform="rotate(-90 25.6 441.5)">Enrichment</text>
<text x="37.5" y="441" font-size="10.5" text-anchor="middle" textLength="25.6" lengthAdjust="spacingAndGlyphs" transform="rotate(-90 37.5 441)">score</text>
<rect x="43.3" y="418.4" width="12.8" height="46.3" fill="url(#eg)"/>
<text x="49.7" y="414" font-size="8.5" text-anchor="middle" fill="#444">20</text>
<text x="49.7" y="476.2" font-size="8.5" text-anchor="middle" fill="#444">−20</text>
<text x="143.1" y="402" font-size="10.2" text-anchor="middle" textLength="95.2" lengthAdjust="spacingAndGlyphs">HNRNPC CLIP peaks</text>
<text x="112" y="417.6" font-size="10.5" text-anchor="middle" textLength="51.3" lengthAdjust="spacingAndGlyphs">Scrambled</text>
<text x="174.3" y="417.6" font-size="10.5" text-anchor="middle" textLength="34.4" lengthAdjust="spacingAndGlyphs">Targets</text>
<rect x="81.8" y="422" width="61.3" height="53.2" fill="#3a4fa2"/>
<rect x="143.1" y="422" width="61.4" height="53.2" fill="#f2e914"/>
<rect x="143.75" y="422.65" width="60.1" height="51.9" fill="none" stroke="#d31f22" stroke-width="1.3"/>
<line x1="246.4" y1="428.9" x2="246.4" y2="463.3" stroke="#888" stroke-width="0.8"/>
<line x1="242.4" y1="428.9" x2="246.4" y2="428.9" stroke="#888" stroke-width="0.8"/>
<text x="239.6" y="431.9" font-size="8.5" text-anchor="end" fill="#444">2</text>
<line x1="242.4" y1="446.1" x2="246.4" y2="446.1" stroke="#888" stroke-width="0.8"/>
<text x="239.6" y="449.1" font-size="8.5" text-anchor="end" fill="#444">1</text>
<line x1="242.4" y1="463.3" x2="246.4" y2="463.3" stroke="#888" stroke-width="0.8"/>
<text x="239.6" y="466.3" font-size="8.5" text-anchor="end" fill="#444">0</text>
<text x="226.2" y="446.2" font-size="10.2" text-anchor="middle" transform="rotate(-90 226.2 446.2)">Bits</text>
<text transform="translate(245.08 462.82) scale(23.562 49.301)" font-size="1" fill="#d31f22">U</text>
<text transform="translate(259.06 462.82) scale(23.562 49.301)" font-size="1" fill="#d31f22">U</text>
<text transform="translate(273.04 462.82) scale(23.562 49.301)" font-size="1" fill="#d31f22">U</text>
<text transform="translate(287.02 462.82) scale(23.562 49.301)" font-size="1" fill="#d31f22">U</text>
<text transform="translate(301 462.82) scale(23.562 49.301)" font-size="1" fill="#d31f22">U</text>
<text x="256.16" y="468.2" font-size="8.6" fill="#444" text-anchor="middle" transform="rotate(-90 256.16 468.2)">1</text>
<text x="270.14" y="468.2" font-size="8.6" fill="#444" text-anchor="middle" transform="rotate(-90 270.14 468.2)">2</text>
<text x="284.12" y="468.2" font-size="8.6" fill="#444" text-anchor="middle" transform="rotate(-90 284.12 468.2)">3</text>
<text x="298.1" y="468.2" font-size="8.6" fill="#444" text-anchor="middle" transform="rotate(-90 298.1 468.2)">4</text>
<text x="312.08" y="468.2" font-size="8.6" fill="#444" text-anchor="middle" transform="rotate(-90 312.08 468.2)">5</text>
<text x="339" y="429" font-size="10.1" transform="rotate(-57.4 339 429)">MI (bits)</text>
<text x="391" y="429.4" font-size="10" transform="rotate(-57.4 391 429.4)"><tspan font-style="italic">z</tspan>-score</text>
<text x="325.3" y="458.9" font-size="10.3" textLength="25.7" lengthAdjust="spacingAndGlyphs">0.021</text>
<text x="379" y="458.9" font-size="10.3" textLength="25.8" lengthAdjust="spacingAndGlyphs">2,106</text>
<text x="-0.6" y="503.6" font-size="14.2" fill="#000" font-weight="bold">d</text>
<text x="73.9" y="507.5" font-size="10.5" text-anchor="middle" textLength="15" lengthAdjust="spacingAndGlyphs">log</text>
<text x="73.9" y="519.6" font-size="10.5" text-anchor="middle" textLength="53.6" lengthAdjust="spacingAndGlyphs">enrichment</text>
<rect x="50" y="525.6" width="48.2" height="9.1" fill="url(#rwb)"/>
<line x1="50" y1="525.9" x2="98.2" y2="525.9" stroke="#999" stroke-width="0.6"/>
<path d="M50.00 534.70v3.5M74.10 534.70v3.5M98.20 534.70v3.5" stroke="#888" stroke-width="0.7"/>
<path d="M54.82 534.70v2M59.64 534.70v2M64.46 534.70v2M69.28 534.70v2M78.92 534.70v2M83.74 534.70v2M88.56 534.70v2M93.38 534.70v2" stroke="#bbb" stroke-width="0.7"/>
<text x="50.3" y="549" font-size="9.2" text-anchor="middle" fill="#444" textLength="17" lengthAdjust="spacingAndGlyphs">−0.5</text>
<text x="74.1" y="549" font-size="9.2" text-anchor="middle" fill="#444">0</text>
<text x="98.3" y="549" font-size="9.2" text-anchor="middle" fill="#444" textLength="12.5" lengthAdjust="spacingAndGlyphs">0.5</text>
<text x="149" y="518.6" font-size="10.3" text-anchor="middle" textLength="33.5" lengthAdjust="spacingAndGlyphs"><tspan font-style="italic">P</tspan> value</text>
<path d="M127.10 537.20V524.00C152.05 524.60 171.00 527.10 177.00 528.50C173.00 530.30 157.04 533.20 127.10 533.20" fill="#fff" stroke="#777" stroke-width="0.7"/>
<path d="M152.05 533.70v4M177.00 533.70v4" stroke="#777" stroke-width="0.7"/>
<path d="M132.09 534.00v2.2M137.08 534.00v2.2M142.07 534.00v2.2M147.06 534.00v2.2M157.04 534.00v2.2M162.03 534.00v2.2M167.02 534.00v2.2M172.01 534.00v2.2" stroke="#aaa" stroke-width="0.7"/>
<text x="117.5" y="548.6" font-size="9.2" fill="#444">10<tspan font-size="6.6" dy="-3.6">−10</tspan></text>
<text x="143.8" y="548.6" font-size="9.2" fill="#444">10<tspan font-size="6.6" dy="-3.6">−5</tspan></text>
<text x="176" y="548.6" font-size="9.2" text-anchor="middle" fill="#444">1</text>
<circle cx="191.6" cy="518" r="4" fill="none" stroke="#222" stroke-width="1.5"/>
<text x="203" y="521.5" font-size="10.3" fill="#222" textLength="48.3" lengthAdjust="spacingAndGlyphs">FDR &lt;0.05</text>
<circle cx="191.6" cy="533.5" r="4" fill="none" stroke="#c8c8c8" stroke-width="1.1"/>
<text x="203" y="537.2" font-size="10.3" fill="#bbbbbb" textLength="48.3" lengthAdjust="spacingAndGlyphs">FDR &gt;0.05</text>
<rect x="52.6" y="560" width="213.4" height="68" fill="none" stroke="#cccccc" stroke-width="0.9"/>
<path d="M52.6 560.0V628.0H266.0" fill="none" stroke="#a8a8a8" stroke-width="0.9"/>
<line x1="48.6" y1="622.1" x2="52.6" y2="622.1" stroke="#999" stroke-width="0.8"/>
<text x="46.3" y="625.6" font-size="9.8" text-anchor="end" fill="#4a4a4a">0</text>
<line x1="48.6" y1="599.6" x2="52.6" y2="599.6" stroke="#999" stroke-width="0.8"/>
<text x="46.3" y="603.1" font-size="9.8" text-anchor="end" fill="#4a4a4a">10</text>
<line x1="48.6" y1="577.1" x2="52.6" y2="577.1" stroke="#999" stroke-width="0.8"/>
<text x="46.3" y="580.6" font-size="9.8" text-anchor="end" fill="#4a4a4a">20</text>
<text x="26.3" y="592.2" font-size="10.3" text-anchor="middle" textLength="95" lengthAdjust="spacingAndGlyphs" transform="rotate(-90 26.3 592.2)">HNRNPC-bound (%)</text>
<line x1="74.4" y1="560" x2="74.4" y2="628" stroke="#666" stroke-width="0.7" stroke-dasharray="1.5 1.5"/>
<line x1="98.4" y1="560" x2="98.4" y2="628" stroke="#666" stroke-width="0.7" stroke-dasharray="1.5 1.5"/>
<line x1="122.7" y1="560" x2="122.7" y2="628" stroke="#666" stroke-width="0.7" stroke-dasharray="1.5 1.5"/>
<line x1="147.8" y1="560" x2="147.8" y2="628" stroke="#666" stroke-width="0.7" stroke-dasharray="1.5 1.5"/>
<line x1="171.5" y1="560" x2="171.5" y2="628" stroke="#666" stroke-width="0.7" stroke-dasharray="1.5 1.5"/>
<line x1="195.8" y1="560" x2="195.8" y2="628" stroke="#666" stroke-width="0.7" stroke-dasharray="1.5 1.5"/>
<line x1="220.2" y1="560" x2="220.2" y2="628" stroke="#666" stroke-width="0.7" stroke-dasharray="1.5 1.5"/>
<line x1="244.5" y1="560" x2="244.5" y2="628" stroke="#666" stroke-width="0.7" stroke-dasharray="1.5 1.5"/>
<line x1="52.6" y1="595.4" x2="266" y2="595.4" stroke="#111" stroke-width="1.1" stroke-dasharray="1.6 1.4"/>
<circle cx="62.1" cy="595.8" r="3" fill="#bdb4cc"/>
<circle cx="86.4" cy="574.3" r="8.6" fill="#e82424" stroke="#1a1a1a" stroke-width="1.6"/>
<circle cx="110.2" cy="577.5" r="8.4" fill="#e82424" stroke="#1a1a1a" stroke-width="1.6"/>
<circle cx="134.9" cy="586.3" r="6" fill="#ec5a2c" stroke="#1a1a1a" stroke-width="1.5"/>
<circle cx="158.6" cy="594.4" r="3.1" fill="#dcb4b0"/>
<circle cx="183.5" cy="599.2" r="3.7" fill="#9a80c4" stroke="#1a1a1a" stroke-width="1.2"/>
<circle cx="207.3" cy="606.7" r="8.3" fill="#3550b0" stroke="#1a1a1a" stroke-width="1.6"/>
<circle cx="231.6" cy="609.2" r="8.6" fill="#3550b0" stroke="#1a1a1a" stroke-width="1.6"/>
<circle cx="255.1" cy="614.4" r="8.7" fill="#3550b0" stroke="#1a1a1a" stroke-width="1.6"/>
<rect x="186.5" y="563.5" width="65" height="23.5" fill="#fff"/>
<text x="218.9" y="572.9" font-size="10.3" text-anchor="middle" textLength="61.6" lengthAdjust="spacingAndGlyphs">MI 0.025 bits</text>
<text x="217" y="584.3" font-size="10.3" text-anchor="middle" textLength="57.8" lengthAdjust="spacingAndGlyphs"><tspan font-style="italic">z</tspan>-score 94.3</text>
<line x1="55.6" y1="635.4" x2="263" y2="635.4" stroke="#3f5b7e" stroke-width="1.3"/>
<path d="M52.60 635.40l7 -2.6v5.2z M266.00 635.40l-7 -2.6v5.2z" fill="#3f5b7e"/>
<text x="51.3" y="651.4" font-size="10.3" textLength="48.4" lengthAdjust="spacingAndGlyphs">Lower TER</text>
<text x="268.8" y="651.6" font-size="10.3" text-anchor="end" textLength="51.5" lengthAdjust="spacingAndGlyphs">Higher TER</text>
<text x="158.9" y="670.2" font-size="10.3" text-anchor="middle" textLength="182.6" lengthAdjust="spacingAndGlyphs">MDA-LM2 versus MDA-MB-231 (logTER)</text>
<text x="304.5" y="503.6" font-size="14.2" fill="#000" font-weight="bold">e</text>
<text x="363.5" y="515" font-size="10.5" text-anchor="middle" textLength="70.9" lengthAdjust="spacingAndGlyphs">log enrichment</text>
<rect x="339.4" y="522" width="48.3" height="10" fill="url(#rwb)"/>
<line x1="339.4" y1="522.3" x2="387.7" y2="522.3" stroke="#999" stroke-width="0.6"/>
<path d="M339.40 532.00v3.5M363.55 532.00v3.5M387.70 532.00v3.5" stroke="#888" stroke-width="0.7"/>
<path d="M344.23 532.00v2M349.06 532.00v2M353.89 532.00v2M358.72 532.00v2M368.38 532.00v2M373.21 532.00v2M378.04 532.00v2M382.87 532.00v2" stroke="#bbb" stroke-width="0.7"/>
<text x="338.9" y="548.1" font-size="10.2" text-anchor="middle" fill="#444" textLength="20" lengthAdjust="spacingAndGlyphs">−0.5</text>
<text x="363.5" y="548.1" font-size="10.2" text-anchor="middle" fill="#444">0</text>
<text x="387.5" y="548.1" font-size="10.2" text-anchor="middle" fill="#444" textLength="15.5" lengthAdjust="spacingAndGlyphs">0.5</text>
<text x="441.2" y="515.6" font-size="10.3" text-anchor="middle" textLength="34.1" lengthAdjust="spacingAndGlyphs"><tspan font-style="italic">P</tspan> value</text>
<path d="M416.20 533.80V520.70C441.10 521.30 460.00 523.80 466.00 525.20C462.00 527.00 446.08 529.80 416.20 529.80" fill="#fff" stroke="#777" stroke-width="0.7"/>
<path d="M441.10 530.30v4M466.00 530.30v4" stroke="#777" stroke-width="0.7"/>
<path d="M421.18 530.60v2.2M426.16 530.60v2.2M431.14 530.60v2.2M436.12 530.60v2.2M446.08 530.60v2.2M451.06 530.60v2.2M456.04 530.60v2.2M461.02 530.60v2.2" stroke="#aaa" stroke-width="0.7"/>
<text x="408" y="545.5" font-size="9.2" fill="#444">10<tspan font-size="6.6" dy="-3.6">−8</tspan></text>
<text x="432.7" y="545.5" font-size="9.2" fill="#444">10<tspan font-size="6.6" dy="-3.6">−4</tspan></text>
<text x="465.8" y="545.5" font-size="9.2" text-anchor="middle" fill="#444">1</text>
<circle cx="481" cy="515.6" r="4" fill="none" stroke="#222" stroke-width="1.5"/>
<text x="491.6" y="519" font-size="10.3" fill="#222" textLength="48.3" lengthAdjust="spacingAndGlyphs">FDR &lt;0.05</text>
<circle cx="481" cy="530.7" r="4" fill="none" stroke="#c8c8c8" stroke-width="1.1"/>
<text x="491.6" y="534.1" font-size="10.3" fill="#bbbbbb" textLength="48.3" lengthAdjust="spacingAndGlyphs">FDR &gt;0.05</text>
<rect x="341.4" y="559.7" width="205.9" height="68.1" fill="none" stroke="#cccccc" stroke-width="0.9"/>
<path d="M341.4 559.7V627.8H547.3" fill="none" stroke="#a8a8a8" stroke-width="0.9"/>
<line x1="337.4" y1="624.75" x2="341.4" y2="624.75" stroke="#999" stroke-width="0.8"/>
<line x1="337.4" y1="607.6" x2="341.4" y2="607.6" stroke="#999" stroke-width="0.8"/>
<text x="335.1" y="611.1" font-size="9.8" text-anchor="end" fill="#4a4a4a">10</text>
<line x1="337.4" y1="573.3" x2="341.4" y2="573.3" stroke="#999" stroke-width="0.8"/>
<text x="335.1" y="576.8" font-size="9.8" text-anchor="end" fill="#4a4a4a">20</text>
<text x="313.8" y="592.2" font-size="10.3" text-anchor="middle" textLength="95" lengthAdjust="spacingAndGlyphs" transform="rotate(-90 313.8 592.2)">HNRNPC-bound (%)</text>
<line x1="362.6" y1="559.7" x2="362.6" y2="627.8" stroke="#666" stroke-width="0.7" stroke-dasharray="1.5 1.5"/>
<line x1="386.4" y1="559.7" x2="386.4" y2="627.8" stroke="#666" stroke-width="0.7" stroke-dasharray="1.5 1.5"/>
<line x1="409.7" y1="559.7" x2="409.7" y2="627.8" stroke="#666" stroke-width="0.7" stroke-dasharray="1.5 1.5"/>
<line x1="432.7" y1="559.7" x2="432.7" y2="627.8" stroke="#666" stroke-width="0.7" stroke-dasharray="1.5 1.5"/>
<line x1="456" y1="559.7" x2="456" y2="627.8" stroke="#666" stroke-width="0.7" stroke-dasharray="1.5 1.5"/>
<line x1="479.6" y1="559.7" x2="479.6" y2="627.8" stroke="#666" stroke-width="0.7" stroke-dasharray="1.5 1.5"/>
<line x1="503" y1="559.7" x2="503" y2="627.8" stroke="#666" stroke-width="0.7" stroke-dasharray="1.5 1.5"/>
<line x1="526" y1="559.7" x2="526" y2="627.8" stroke="#666" stroke-width="0.7" stroke-dasharray="1.5 1.5"/>
<line x1="341.4" y1="588.3" x2="547.3" y2="588.3" stroke="#111" stroke-width="1.1" stroke-dasharray="1.6 1.4"/>
<circle cx="350.9" cy="579.6" r="5.4" fill="#e83c28" stroke="#1a1a1a" stroke-width="1.4"/>
<circle cx="374.4" cy="579.6" r="5.4" fill="#e83c28" stroke="#1a1a1a" stroke-width="1.4"/>
<circle cx="397.7" cy="582.6" r="4.6" fill="#ea7a60" stroke="#999" stroke-width="1"/>
<circle cx="421.3" cy="589.8" r="4.6" fill="#a898cc" stroke="#999" stroke-width="1"/>
<circle cx="444.7" cy="585" r="4.6" fill="#ec8a70" stroke="#999" stroke-width="1"/>
<circle cx="467.7" cy="589.2" r="4.6" fill="#b0a8cc" stroke="#999" stroke-width="1"/>
<circle cx="491" cy="589.8" r="4.6" fill="#b0a8cc" stroke="#999" stroke-width="1"/>
<circle cx="514.6" cy="592.1" r="4.6" fill="#9c88c8" stroke="#999" stroke-width="1"/>
<circle cx="538.5" cy="608.3" r="8.8" fill="#3550b0" stroke="#1a1a1a" stroke-width="1.6"/>
<rect x="353.5" y="600.5" width="67" height="22.5" fill="#fff"/>
<text x="386.7" y="609.6" font-size="10.3" text-anchor="middle" textLength="63.1" lengthAdjust="spacingAndGlyphs">MI 0.003 bits</text>
<text x="386.4" y="620.1" font-size="10.3" text-anchor="middle" textLength="57.6" lengthAdjust="spacingAndGlyphs"><tspan font-style="italic">z</tspan>-score 5.56</text>
<line x1="344.4" y1="635.2" x2="544.9" y2="635.2" stroke="#3f5b7e" stroke-width="1.3"/>
<path d="M341.40 635.20l7 -2.6v5.2z M547.90 635.20l-7 -2.6v5.2z" fill="#3f5b7e"/>
<text x="339.6" y="652.7" font-size="10.3" textLength="48.6" lengthAdjust="spacingAndGlyphs">Lower TER</text>
<text x="556.4" y="653" font-size="10.3" text-anchor="end" textLength="50.6" lengthAdjust="spacingAndGlyphs">Higher TER</text>
<text x="444.6" y="671.5" font-size="10.3" text-anchor="middle" textLength="148.7" lengthAdjust="spacingAndGlyphs">Highly versus poorly metastatic</text>
<text x="444.4" y="682.4" font-size="10.3" text-anchor="middle" textLength="66" lengthAdjust="spacingAndGlyphs">PDXs (logTER)</text>
</svg></body></html>
